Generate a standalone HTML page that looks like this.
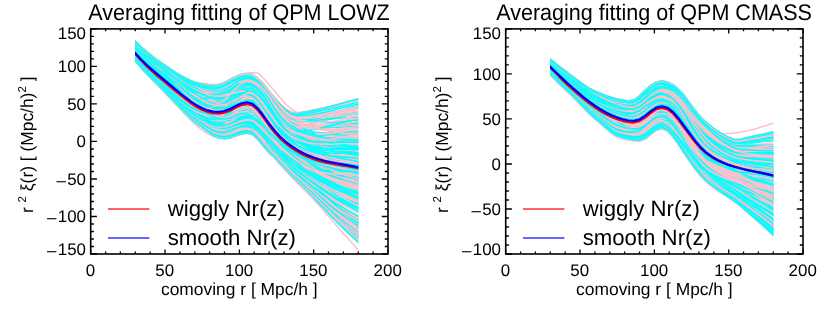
<!DOCTYPE html>
<html><head><meta charset="utf-8"><title>Averaging fitting of QPM</title>
<style>html,body{margin:0;padding:0;background:#fff}svg{display:block;will-change:transform}.p{stroke:#ffc0cb}.c{stroke:#0ff}text{font-family:"Liberation Sans",sans-serif;fill:#000;text-rendering:geometricPrecision}</style></head>
<body>
<svg width="830" height="312" viewBox="0 0 830 312">
<rect width="830" height="312" fill="#fff"/>
<g>
<clipPath id="c0"><rect x="135.0" y="0" width="223.3" height="312"/></clipPath>
<g fill="none" stroke-linejoin="round" stroke-linecap="butt" clip-path="url(#c0)">
<g stroke-width="1.5">
<path class="p" d="M133.3 41.1l2 2.1l5.6 5.6l5.5 5.3l5.6 4.9l5.6 4.3l5.6 3.9l5.5 3.3l5.6 3.1l5.6 2.9l5.6 2.5l5.5 1.9l5.6 1.3l5.6 1l5.6 .9l5.5 .6l5.6-.1l5.6-2.4l5.6-3.3l5.5-2.5l5.6-2.2l5.6-1.1l5.6-.6l5.5 .6l5.6 5.1l5.6 6.3l5.6 6.6l5.5 6.7l5.6 6.4l5.6 4.8l5.6 3.6l5.5 2.9l5.6 2l5.6 1.6l5.5 1.3l5.6 1l5.6 .8l5.6 .6l5.5 .5l5.6 .5l5.6 .3l5.6 .1l2 0"/>
<path class="p" d="M133.3 58.3l2 2.4l5.6 6.8l5.5 6.3l5.6 6l5.6 5.8l5.6 5.7l5.5 5.7l5.6 5.9l5.6 5.8l5.6 5.9l5.5 5.7l5.6 5.3l5.6 4.6l5.6 3.7l5.5 2.7l5.6 1.5l5.6 .5l5.6-.8l5.5-1.7l5.6-1.8l5.6-.8l5.6 1.3l5.5 4.8l5.6 7l5.6 6.7l5.6 5l5.5 6.2l5.6 6.5l5.6 5.9l5.6 5.7l5.5 5.6l5.6 5.6l5.6 5.9l5.5 5.9l5.6 6.3l5.6 6.7l5.6 6.5l5.5 6.2l5.6 6.2l5.6 6.2l5.6 6.4l2 2.3"/>
<path class="p" d="M133.3 52.8l2 2.3l5.6 6.5l5.5 6l5.6 5.6l5.6 5.3l5.6 5.2l5.5 5.2l5.6 5.2l5.6 5l5.6 4.8l5.5 4l5.6 3.3l5.6 2.6l5.6 1.7l5.5 .7l5.6-.8l5.6-2.1l5.6-3.5l5.5-4.4l5.6-4.1l5.6-2.8l5.6-.6l5.5 2.6l5.6 4.8l5.6 6.7l5.6 7.3l5.5 6.4l5.6 5.1l5.6 3.9l5.6 2.5l5.5 1.2l5.6 .8l5.6 .4l5.5 .1l5.6-.1l5.6-.3l5.6-.5l5.5-.7l5.6-.7l5.6-.4l5.6-.2l2 0"/>
<path class="c" d="M133.3 52.7l2 2.3l5.6 6.5l5.5 6l5.6 5.5l5.6 5.3l5.6 5.1l5.5 5.1l5.6 5l5.6 4.9l5.6 4.6l5.5 4l5.6 3.2l5.6 2.3l5.6 1.6l5.5 .5l5.6-1l5.6-2.2l5.6-3.6l5.5-4.4l5.6-4.1l5.6-2.8l5.6-.4l5.5 2.7l5.6 4.9l5.6 6.9l5.6 7.7l5.5 6.6l5.6 5.4l5.6 4l5.6 2.6l5.5 1.4l5.6 1.1l5.6 .6l5.5 .3l5.6 .1l5.6-.1l5.6-.3l5.5-.5l5.6-.4l5.6-.3l5.6-.1l2 0"/>
<path class="p" d="M133.3 56.0l2 2.2l5.6 5.9l5.5 5.6l5.6 5.2l5.6 4.9l5.6 5l5.5 4.9l5.6 5.1l5.6 5l5.6 4.8l5.5 4.4l5.6 3.7l5.6 3.2l5.6 2.8l5.5 2.2l5.6 1.2l5.6 .3l5.6-.6l5.5-1.3l5.6-1.4l5.6-.8l5.6 .8l5.5 3.6l5.6 5.6l5.6 5.9l5.6 5.4l5.5 5.3l5.6 4.7l5.6 4.3l5.6 3.6l5.5 3l5.6 2.6l5.6 2.3l5.5 1.9l5.6 1.5l5.6 1.3l5.6 1.1l5.5 .9l5.6 .8l5.6 1l5.6 1.2l2 .4"/>
<path class="c" d="M133.3 55.8l2 2.2l5.6 6l5.5 5.5l5.6 5.2l5.6 5l5.6 4.8l5.5 5l5.6 5.1l5.6 5.1l5.6 4.8l5.5 4.4l5.6 3.8l5.6 3.2l5.6 2.9l5.5 2.2l5.6 1.2l5.6 .1l5.6-.8l5.5-1.6l5.6-1.6l5.6-1.1l5.6 .6l5.5 3.3l5.6 5.4l5.6 5.8l5.6 5.3l5.5 5.1l5.6 4.5l5.6 3.9l5.6 3.3l5.5 2.8l5.6 2.2l5.6 1.9l5.5 1.4l5.6 1.1l5.6 .8l5.6 .6l5.5 .6l5.6 .6l5.6 .7l5.6 1l2 .3"/>
<path class="p" d="M133.3 40.7l2 2l5.6 5.5l5.5 5l5.6 4.5l5.6 4.3l5.6 4l5.5 4l5.6 4l5.6 3.7l5.6 3.5l5.5 3l5.6 2.4l5.6 1.8l5.6 1.4l5.5 .5l5.6-.5l5.6-1.8l5.6-2.6l5.5-2.7l5.6-2.1l5.6-1l5.6 .8l5.5 3.6l5.6 5.6l5.6 7.9l5.6 8l5.5 6.9l5.6 5.7l5.6 4.1l5.6 2.1l5.5 .5l5.6 .6l5.6 .2l5.5 .1l5.6-.1l5.6-.1l5.6-.4l5.5-.6l5.6-.6l5.6-.6l5.6-.5l2-.2"/>
<path class="c" d="M133.3 40.8l2 2l5.6 5.5l5.5 5l5.6 4.5l5.6 4.2l5.6 4l5.5 4l5.6 3.9l5.6 3.7l5.6 3.4l5.5 2.9l5.6 2.3l5.6 1.7l5.6 1.2l5.5 .5l5.6-.6l5.6-1.9l5.6-2.7l5.5-2.7l5.6-2.2l5.6-1l5.6 .8l5.5 3.7l5.6 5.7l5.6 7.9l5.6 8.2l5.5 7l5.6 5.9l5.6 4.3l5.6 2.3l5.5 .8l5.6 .9l5.6 .6l5.5 .4l5.6 .3l5.6 .2l5.6-.1l5.5-.3l5.6-.4l5.6-.4l5.6-.3l2-.1"/>
<path class="p" d="M133.3 52.1l2 2.1l5.6 5.7l5.5 5.2l5.6 4.7l5.6 4.5l5.6 4.3l5.5 4.2l5.6 4.2l5.6 4.3l5.6 4l5.5 3.7l5.6 3.2l5.6 2.4l5.6 1.8l5.5 .8l5.6-.3l5.6-1.6l5.6-3l5.5-3.7l5.6-3.2l5.6-1.4l5.6 1.5l5.5 5.3l5.6 7.8l5.6 9.2l5.6 8.1l5.5 6.7l5.6 5.6l5.6 4.5l5.6 3.7l5.5 3l5.6 2.6l5.6 2.1l5.5 1.8l5.6 1.5l5.6 1.3l5.6 .9l5.5 .8l5.6 .8l5.6 .8l5.6 .9l2 .4"/>
<path class="c" d="M133.3 52.0l2 2.1l5.6 5.7l5.5 5.2l5.6 4.6l5.6 4.3l5.6 4l5.5 3.9l5.6 3.8l5.6 3.8l5.6 3.5l5.5 3l5.6 2.4l5.6 1.8l5.6 1l5.5 .1l5.6-.9l5.6-2.3l5.6-3.4l5.5-3.8l5.6-3.1l5.6-1.6l5.6 .9l5.5 4.2l5.6 6.4l5.6 8.8l5.6 9.3l5.5 7.8l5.6 6.4l5.6 4.9l5.6 3.7l5.5 2.5l5.6 2.4l5.6 1.9l5.5 1.7l5.6 1.4l5.6 1.2l5.6 .8l5.5 .6l5.6 .6l5.6 .5l5.6 .6l2 .3"/>
<path class="p" d="M133.3 47.3l2 2.5l5.6 7.1l5.5 6.8l5.6 6.3l5.6 5.8l5.6 5.8l5.5 6l5.6 6.2l5.6 6.4l5.6 6.2l5.5 5.7l5.6 5l5.6 4.5l5.6 4.5l5.5 4.1l5.6 2.8l5.6 1.3l5.6 0l5.5-1.4l5.6-1.4l5.6-.5l5.6 1.5l5.5 4.9l5.6 6.9l5.6 6.5l5.6 5.2l5.5 6l5.6 5.6l5.6 5.9l5.6 5.3l5.5 5.1l5.6 5.3l5.6 5.4l5.5 5.5l5.6 5.5l5.6 5.6l5.6 5.2l5.5 4.9l5.6 4.8l5.6 4.7l5.6 4.6l2 1.7"/>
<path class="c" d="M133.3 47.4l2 2.5l5.6 7.1l5.5 6.6l5.6 6.3l5.6 5.7l5.6 5.7l5.5 5.8l5.6 6.1l5.6 6.1l5.6 5.9l5.5 5.5l5.6 4.9l5.6 4.2l5.6 4.2l5.5 3.8l5.6 2.5l5.6 1.2l5.6 0l5.5-1.1l5.6-1.2l5.6-.5l5.6 1.5l5.5 4.7l5.6 6.7l5.6 6.4l5.6 5.3l5.5 6.1l5.6 5.5l5.6 5.8l5.6 5.2l5.5 4.9l5.6 4.9l5.6 5.2l5.5 5l5.6 5.1l5.6 5.1l5.6 4.7l5.5 4.4l5.6 4.2l5.6 4.2l5.6 4.1l2 1.4"/>
<path class="p" d="M133.3 54.3l2 2.3l5.6 6.4l5.5 5.9l5.6 5.5l5.6 5.3l5.6 5.1l5.5 5.3l5.6 5.2l5.6 5.3l5.6 5l5.5 4.6l5.6 3.9l5.6 3.4l5.6 3.2l5.5 2.7l5.6 1.5l5.6 .4l5.6-.7l5.5-1.5l5.6-1.3l5.6 .1l5.6 2.5l5.5 5.8l5.6 8.1l5.6 7.7l5.6 6.3l5.5 6.7l5.6 6.1l5.6 6.3l5.6 5.8l5.5 5.4l5.6 5.7l5.6 5.9l5.5 5.8l5.6 6l5.6 6.1l5.6 5.7l5.5 5.4l5.6 5.3l5.6 5.1l5.6 4.9l2 1.8"/>
<path class="c" d="M133.3 54.2l2 2.3l5.6 6.4l5.5 5.9l5.6 5.5l5.6 5.2l5.6 5.1l5.5 5.2l5.6 5.2l5.6 5.2l5.6 4.9l5.5 4.5l5.6 3.8l5.6 3.3l5.6 3l5.5 2.4l5.6 1.2l5.6-.1l5.6-1.2l5.5-2.2l5.6-1.8l5.6-.5l5.6 2.1l5.5 5.7l5.6 7.9l5.6 7.9l5.6 6.6l5.5 6.7l5.6 6l5.6 6.1l5.6 5.5l5.5 5.1l5.6 5.3l5.6 5.3l5.5 5.3l5.6 5.4l5.6 5.4l5.6 5.1l5.5 4.7l5.6 4.5l5.6 4.4l5.6 4.2l2 1.5"/>
<path class="p" d="M133.3 46.4l2 1.7l5.6 5l5.5 4.4l5.6 4.2l5.6 3.9l5.6 3.9l5.5 3.9l5.6 3.9l5.6 3.9l5.6 3.7l5.5 3.4l5.6 2.8l5.6 2.3l5.6 1.9l5.5 1.2l5.6 .1l5.6-1.3l5.6-2.4l5.5-2.8l5.6-2.2l5.6-.5l5.6 2.4l5.5 6.2l5.6 9.1l5.6 10.9l5.6 9.7l5.5 7.8l5.6 6.2l5.6 5l5.6 4.1l5.5 3.5l5.6 2.9l5.6 2.6l5.5 2.7l5.6 2.5l5.6 2.3l5.6 2l5.5 1.9l5.6 1.7l5.6 1.6l5.6 1.5l2 .5"/>
<path class="c" d="M133.3 46.4l2 1.8l5.6 4.9l5.5 4.5l5.6 4.1l5.6 3.8l5.6 3.8l5.5 3.7l5.6 3.7l5.6 3.7l5.6 3.4l5.5 3.1l5.6 2.4l5.6 2l5.6 1.5l5.5 .8l5.6-.3l5.6-1.6l5.6-2.6l5.5-2.7l5.6-2.2l5.6-.7l5.6 1.6l5.5 5l5.6 7.2l5.6 9.6l5.6 10.1l5.5 8.5l5.6 6.9l5.6 5.6l5.6 4.3l5.5 3.5l5.6 3l5.6 2.6l5.5 2.2l5.6 1.9l5.6 1.6l5.6 1.3l5.5 .9l5.6 1l5.6 .9l5.6 .9l2 .4"/>
<path class="p" d="M133.3 52.2l2 2.3l5.6 6.5l5.5 6l5.6 5.7l5.6 5.4l5.6 5.3l5.5 5.4l5.6 5.5l5.6 5.5l5.6 5.4l5.5 4.8l5.6 4.2l5.6 3.6l5.6 3.3l5.5 2.7l5.6 1.4l5.6 .3l5.6-1l5.5-1.9l5.6-1.8l5.6-1l5.6 .9l5.5 3.9l5.6 6.1l5.6 6.1l5.6 4.8l5.5 4.8l5.6 4.1l5.6 3.6l5.6 3l5.5 2.3l5.6 1.9l5.6 1.4l5.5 1l5.6 .6l5.6 .4l5.6 .1l5.5 .2l5.6 .2l5.6 .9l5.6 1.1l2 .3"/>
<path class="c" d="M133.3 52.1l2 2.4l5.6 6.5l5.5 6l5.6 5.6l5.6 5.3l5.6 5.3l5.5 5.3l5.6 5.4l5.6 5.4l5.6 5l5.5 4.6l5.6 3.8l5.6 3.2l5.6 2.7l5.5 1.8l5.6 .6l5.6-.7l5.6-2l5.5-2.9l5.6-2.9l5.6-1.9l5.6 .2l5.5 3.2l5.6 5.6l5.6 6.2l5.6 5.6l5.5 5l5.6 4.6l5.6 4l5.6 3.4l5.5 2.8l5.6 2.4l5.6 1.9l5.5 1.6l5.6 1.3l5.6 1.1l5.6 .8l5.5 .7l5.6 .6l5.6 .8l5.6 .8l2 .4"/>
<path class="p" d="M133.3 45.0l2 2.4l5.6 6.8l5.5 6.3l5.6 5.9l5.6 5.6l5.6 5.5l5.5 5.4l5.6 5.3l5.6 5.3l5.6 5l5.5 4.5l5.6 4l5.6 3.3l5.6 2.5l5.5 1.7l5.6 .7l5.6-.3l5.6-1.3l5.5-2l5.6-1.8l5.6-.8l5.6 1.3l5.5 4.4l5.6 6.7l5.6 7.3l5.6 5.8l5.5 5.3l5.6 4.5l5.6 3.9l5.6 3.3l5.5 2.8l5.6 2.4l5.6 1.9l5.5 1.6l5.6 1.3l5.6 1.1l5.6 .9l5.5 .9l5.6 .9l5.6 .9l5.6 1.1l2 .4"/>
<path class="c" d="M133.3 45.1l2 2.4l5.6 6.8l5.5 6.2l5.6 5.9l5.6 5.5l5.6 5.2l5.5 5.1l5.6 5l5.6 4.9l5.6 4.5l5.5 4l5.6 3.4l5.6 2.4l5.6 1.5l5.5 .6l5.6-.5l5.6-1.6l5.6-2.7l5.5-3.2l5.6-2.9l5.6-1.8l5.6 .4l5.5 3.3l5.6 5.6l5.6 7.5l5.6 8.3l5.5 7.1l5.6 5.9l5.6 4.8l5.6 3.7l5.5 2.9l5.6 2.4l5.6 2.1l5.5 1.8l5.6 1.5l5.6 1.3l5.6 .9l5.5 .8l5.6 .7l5.6 .7l5.6 .8l2 .3"/>
<path class="p" d="M133.3 48.5l2 2.3l5.6 6.3l5.5 6l5.6 5.8l5.6 5.6l5.6 5.5l5.5 5.5l5.6 5.9l5.6 6l5.6 6l5.5 5.6l5.6 5l5.6 4.4l5.6 4.2l5.5 3.8l5.6 2.5l5.6 1.3l5.6-.1l5.5-1.3l5.6-1.3l5.6-.4l5.6 1.6l5.5 4.7l5.6 6.9l5.6 6.4l5.6 5.6l5.5 6.2l5.6 5.5l5.6 5.8l5.6 5.1l5.5 4.8l5.6 4.9l5.6 5l5.5 4.8l5.6 4.9l5.6 4.8l5.6 4.5l5.5 4.1l5.6 4l5.6 3.8l5.6 3.9l2 1.3"/>
<path class="c" d="M133.3 48.5l2 2.3l5.6 6.3l5.5 5.9l5.6 5.8l5.6 5.5l5.6 5.5l5.5 5.5l5.6 5.8l5.6 6l5.6 6l5.5 5.7l5.6 5.1l5.6 4.5l5.6 4.5l5.5 4l5.6 2.7l5.6 1.4l5.6-.1l5.5-1.2l5.6-1.3l5.6-.3l5.6 1.7l5.5 5.1l5.6 7.1l5.6 6.7l5.6 5.5l5.5 6.1l5.6 5.5l5.6 5.9l5.6 5.1l5.5 4.9l5.6 5l5.6 5.1l5.5 5l5.6 5l5.6 5.1l5.6 4.6l5.5 4.3l5.6 4.1l5.6 4.1l5.6 4.1l2 1.4"/>
<path class="p" d="M133.3 44.4l2 1.9l5.6 5.3l5.5 4.7l5.6 4.3l5.6 3.9l5.6 3.7l5.5 3.6l5.6 3.6l5.6 3.4l5.6 3l5.5 2.6l5.6 1.7l5.6 1.3l5.6 .7l5.5 0l5.6-1.2l5.6-2.5l5.6-3.4l5.5-3.2l5.6-2.6l5.6-1.1l5.6 .6l5.5 3.6l5.6 5.6l5.6 7.1l5.6 6.8l5.5 5.9l5.6 4.9l5.6 3.3l5.6 .9l5.5-1.1l5.6-.8l5.6-1.1l5.5-1.2l5.6-1.2l5.6-1.2l5.6-1.4l5.5-1.6l5.6-1.5l5.6-1.5l5.6-1.4l2-.5"/>
<path class="c" d="M133.3 44.6l2 1.9l5.6 5.3l5.5 4.8l5.6 4.3l5.6 4l5.6 3.9l5.5 3.8l5.6 3.7l5.6 3.6l5.6 3.3l5.5 2.8l5.6 2.1l5.6 1.5l5.6 1l5.5 .2l5.6-.9l5.6-2.4l5.6-3.3l5.5-3.4l5.6-2.7l5.6-1.2l5.6 .6l5.5 3.8l5.6 5.8l5.6 7.7l5.6 7.8l5.5 6.6l5.6 5.3l5.6 3.7l5.6 1.5l5.5-.2l5.6-.2l5.6-.4l5.5-.7l5.6-.7l5.6-.7l5.6-1l5.5-1.1l5.6-1.2l5.6-1l5.6-1l2-.3"/>
<path class="p" d="M133.3 56.3l2 2.4l5.6 6.9l5.5 6.3l5.6 6l5.6 5.6l5.6 5.7l5.5 5.9l5.6 5.9l5.6 6l5.6 5.7l5.5 5.2l5.6 4.3l5.6 3.8l5.6 4.1l5.5 3.6l5.6 2l5.6 .4l5.6-1.2l5.5-2.4l5.6-2.2l5.6-1.1l5.6 1.3l5.5 4.9l5.6 7l5.6 6.6l5.6 5.3l5.5 5.9l5.6 5.4l5.6 5.7l5.6 5l5.5 4.8l5.6 5l5.6 5.1l5.5 5l5.6 5.1l5.6 5.2l5.6 4.8l5.5 4.5l5.6 4.4l5.6 4.2l5.6 4.2l2 1.5"/>
<path class="c" d="M133.3 56.1l2 2.4l5.6 6.9l5.5 6.3l5.6 5.9l5.6 5.7l5.6 5.6l5.5 5.8l5.6 5.9l5.6 5.8l5.6 5.6l5.5 5l5.6 4.2l5.6 3.6l5.6 3.7l5.5 3.2l5.6 1.5l5.6-.2l5.6-1.8l5.5-3.1l5.6-3l5.6-1.7l5.6 .7l5.5 4.4l5.6 6.7l5.6 6.6l5.6 5.5l5.5 5.7l5.6 4.9l5.6 4.9l5.6 4.3l5.5 3.8l5.6 3.8l5.6 3.6l5.5 3.5l5.6 3.3l5.6 3.3l5.6 2.9l5.5 2.6l5.6 2.5l5.6 2.5l5.6 2.4l2 .9"/>
<path class="p" d="M133.3 55.6l2 2.1l5.6 6l5.5 5.5l5.6 5.1l5.6 4.8l5.6 4.8l5.5 4.7l5.6 4.8l5.6 4.7l5.6 4.5l5.5 3.9l5.6 3.4l5.6 2.7l5.6 2.1l5.5 1.3l5.6 0l5.6-1.3l5.6-2.5l5.5-3.4l5.6-3.2l5.6-1.6l5.6 .9l5.5 4.4l5.6 6.8l5.6 7.4l5.6 6.6l5.5 5.8l5.6 4.9l5.6 4.2l5.6 3.6l5.5 3l5.6 2.6l5.6 2.1l5.5 1.7l5.6 1.5l5.6 1.2l5.6 1l5.5 .9l5.6 .8l5.6 .9l5.6 1l2 .4"/>
<path class="c" d="M133.3 55.4l2 2.2l5.6 6l5.5 5.5l5.6 5l5.6 4.8l5.6 4.7l5.5 4.7l5.6 4.6l5.6 4.6l5.6 4.3l5.5 3.9l5.6 3.2l5.6 2.6l5.6 1.9l5.5 .9l5.6-.2l5.6-1.5l5.6-2.8l5.5-3.7l5.6-3.3l5.6-1.7l5.6 1.1l5.5 4.6l5.6 7.2l5.6 8l5.6 7.4l5.5 6.1l5.6 5.2l5.6 4.4l5.6 3.7l5.5 3.1l5.6 2.7l5.6 2.1l5.5 1.9l5.6 1.5l5.6 1.3l5.6 1.1l5.5 1l5.6 .9l5.6 1l5.6 1l2 .4"/>
<path class="p" d="M133.3 56.9l2 2.2l5.6 6.2l5.5 5.8l5.6 5.4l5.6 5.1l5.6 5.2l5.5 5.2l5.6 5.4l5.6 5.3l5.6 5.1l5.5 4.6l5.6 3.9l5.6 3.2l5.6 3.1l5.5 2.4l5.6 1.1l5.6-.2l5.6-1.5l5.5-2.3l5.6-2.3l5.6-1.5l5.6 .4l5.5 3.2l5.6 5.2l5.6 5.6l5.6 5.3l5.5 5.1l5.6 4.4l5.6 3.9l5.6 3.3l5.5 2.8l5.6 2.3l5.6 1.9l5.5 1.5l5.6 1.2l5.6 .9l5.6 .7l5.5 .7l5.6 .7l5.6 .8l5.6 1l2 .4"/>
<path class="c" d="M133.3 56.9l2 2.2l5.6 6.1l5.5 5.8l5.6 5.4l5.6 5.2l5.6 5.1l5.5 5.3l5.6 5.4l5.6 5.4l5.6 5.2l5.5 4.7l5.6 3.9l5.6 3.4l5.6 3.3l5.5 2.7l5.6 1.2l5.6 0l5.6-1.5l5.5-2.4l5.6-2.4l5.6-1.3l5.6 .9l5.5 4.2l5.6 6.3l5.6 6.4l5.6 5.6l5.5 5.4l5.6 4.7l5.6 4.3l5.6 3.7l5.5 3.2l5.6 2.8l5.6 2.5l5.5 2.2l5.6 1.8l5.6 1.7l5.6 1.4l5.5 1.2l5.6 1.1l5.6 1.3l5.6 1.4l2 .5"/>
<path class="p" d="M133.3 48.0l2 1.7l5.6 4.9l5.5 4.3l5.6 4.1l5.6 3.8l5.6 3.7l5.5 3.7l5.6 3.7l5.6 3.7l5.6 3.3l5.5 2.9l5.6 2.3l5.6 1.7l5.6 1.1l5.5 .3l5.6-.9l5.6-2.4l5.6-3.5l5.5-3.6l5.6-3l5.6-1.4l5.6 .8l5.5 3.9l5.6 6.1l5.6 8.2l5.6 8.4l5.5 7l5.6 5.6l5.6 4l5.6 1.9l5.5 .3l5.6 .3l5.6 0l5.5-.3l5.6-.4l5.6-.4l5.6-.7l5.5-.9l5.6-.8l5.6-.8l5.6-.6l2-.3"/>
<path class="c" d="M133.3 47.9l2 1.8l5.6 4.9l5.5 4.3l5.6 4l5.6 3.8l5.6 3.6l5.5 3.6l5.6 3.6l5.6 3.5l5.6 3.2l5.5 2.9l5.6 2.2l5.6 1.6l5.6 1.1l5.5 .4l5.6-.8l5.6-2.3l5.6-3.3l5.5-3.3l5.6-2.7l5.6-1.2l5.6 .9l5.5 4.1l5.6 6.4l5.6 8.5l5.6 8.9l5.5 7.6l5.6 6.1l5.6 4.5l5.6 2.7l5.5 1.2l5.6 1.2l5.6 .9l5.5 .6l5.6 .4l5.6 .3l5.6 0l5.5-.2l5.6-.3l5.6-.2l5.6-.2l2 0"/>
<path class="p" d="M133.3 39.3l2 2l5.6 5.5l5.5 4.9l5.6 4.5l5.6 4.1l5.6 3.9l5.5 3.9l5.6 3.7l5.6 3.7l5.6 3.3l5.5 2.9l5.6 2.3l5.6 1.8l5.6 1.4l5.5 .7l5.6-.3l5.6-1.7l5.6-2.4l5.5-2.4l5.6-1.9l5.6-.6l5.6 1.2l5.5 4.1l5.6 6.3l5.6 8.5l5.6 9l5.5 7.9l5.6 6.6l5.6 5l5.6 3.4l5.5 2l5.6 1.9l5.6 1.6l5.5 1.3l5.6 1.1l5.6 .9l5.6 .6l5.5 .3l5.6 .2l5.6 .2l5.6 .2l2 .1"/>
<path class="c" d="M133.3 39.3l2 2l5.6 5.5l5.5 4.9l5.6 4.5l5.6 4.1l5.6 4l5.5 3.8l5.6 3.9l5.6 3.6l5.6 3.4l5.5 3l5.6 2.3l5.6 1.9l5.6 1.6l5.5 .8l5.6-.1l5.6-1.4l5.6-2.3l5.5-2.2l5.6-1.7l5.6-.4l5.6 1.4l5.5 4.4l5.6 6.5l5.6 8.8l5.6 9.4l5.5 8.2l5.6 6.7l5.6 5.2l5.6 3.7l5.5 2.4l5.6 2.3l5.6 1.9l5.5 1.5l5.6 1.3l5.6 1.1l5.6 .7l5.5 .4l5.6 .4l5.6 .4l5.6 .4l2 .2"/>
<path class="p" d="M133.3 58.6l2 2.3l5.6 6.1l5.5 5.8l5.6 5.4l5.6 5.2l5.6 5.2l5.5 5.2l5.6 5.2l5.6 5.3l5.6 4.9l5.5 4.4l5.6 3.8l5.6 3.2l5.6 3.1l5.5 2.5l5.6 1.1l5.6-.5l5.6-2.2l5.5-3.4l5.6-3l5.6-1.2l5.6 1.9l5.5 5.9l5.6 8.3l5.6 7.9l5.6 6.2l5.5 6.1l5.6 5.2l5.6 5.1l5.6 4.3l5.5 4l5.6 3.7l5.6 3.7l5.5 3.3l5.6 3.2l5.6 3l5.6 2.6l5.5 2.4l5.6 2.2l5.6 2.2l5.6 2.3l2 .8"/>
<path class="c" d="M133.3 58.6l2 2.2l5.6 6.2l5.5 5.7l5.6 5.4l5.6 5.2l5.6 5.1l5.5 5.2l5.6 5.2l5.6 5.1l5.6 4.9l5.5 4.3l5.6 3.5l5.6 3l5.6 2.7l5.5 2l5.6 .5l5.6-1.1l5.6-2.8l5.5-4l5.6-3.7l5.6-1.9l5.6 1.4l5.5 5.4l5.6 7.9l5.6 7.9l5.6 6.6l5.5 6l5.6 5l5.6 4.7l5.6 4l5.5 3.4l5.6 3.2l5.6 2.9l5.5 2.6l5.6 2.3l5.6 2.2l5.6 1.8l5.5 1.7l5.6 1.6l5.6 1.5l5.6 1.7l2 .6"/>
<path class="p" d="M133.3 58.0l2 2.2l5.6 6.2l5.5 5.9l5.6 5.5l5.6 5.3l5.6 5.3l5.5 5.5l5.6 5.6l5.6 5.7l5.6 5.6l5.5 5l5.6 4.3l5.6 3.8l5.6 4l5.5 3.5l5.6 1.9l5.6 .2l5.6-1.5l5.5-2.8l5.6-2.8l5.6-1.3l5.6 1.6l5.5 5.3l5.6 7.5l5.6 7l5.6 5.7l5.5 6.2l5.6 5.3l5.6 5.5l5.6 4.8l5.5 4.4l5.6 4.5l5.6 4.4l5.5 4.3l5.6 4.2l5.6 4.1l5.6 3.7l5.5 3.4l5.6 3.2l5.6 3.2l5.6 3.2l2 1.2"/>
<path class="c" d="M133.3 57.9l2 2.3l5.6 6.2l5.5 5.8l5.6 5.5l5.6 5.3l5.6 5.3l5.5 5.5l5.6 5.6l5.6 5.7l5.6 5.5l5.5 5l5.6 4.3l5.6 3.9l5.6 3.9l5.5 3.6l5.6 2l5.6 .4l5.6-1.2l5.5-2.5l5.6-2.2l5.6-.8l5.6 1.9l5.5 5.6l5.6 7.7l5.6 7.1l5.6 5.6l5.5 6.3l5.6 5.6l5.6 6l5.6 5.3l5.5 5.1l5.6 5.2l5.6 5.4l5.5 5.4l5.6 5.5l5.6 5.6l5.6 5.1l5.5 4.9l5.6 4.7l5.6 4.6l5.6 4.5l2 1.7"/>
<path class="p" d="M133.3 39.4l2 2l5.6 5.4l5.5 4.9l5.6 4.4l5.6 4.1l5.6 3.9l5.5 3.7l5.6 3.7l5.6 3.5l5.6 3.1l5.5 2.8l5.6 2l5.6 1.5l5.6 1.1l5.5 .4l5.6-.7l5.6-2.1l5.6-3l5.5-2.8l5.6-2.3l5.6-.9l5.6 .9l5.5 4l5.6 6.1l5.6 7.9l5.6 8.3l5.5 7.4l5.6 6.4l5.6 4.9l5.6 3l5.5 1.5l5.6 1.7l5.6 1.6l5.5 1.3l5.6 1.3l5.6 1.1l5.6 .7l5.5 .5l5.6 .3l5.6 .2l5.6 .1l2 0"/>
<path class="c" d="M133.3 39.5l2 1.9l5.6 5.5l5.5 4.8l5.6 4.4l5.6 4.1l5.6 3.9l5.5 3.8l5.6 3.7l5.6 3.5l5.6 3.2l5.5 2.8l5.6 2l5.6 1.7l5.6 1.2l5.5 .5l5.6-.5l5.6-1.9l5.6-2.7l5.5-2.7l5.6-2l5.6-.6l5.6 1.4l5.5 4.8l5.6 7.1l5.6 9.6l5.6 10.3l5.5 9.1l5.6 7.6l5.6 6.2l5.6 4.6l5.5 3.6l5.6 3.4l5.6 3l5.5 2.6l5.6 2.2l5.6 2l5.6 1.5l5.5 1.1l5.6 1.1l5.6 .9l5.6 1l2 .3"/>
<path class="p" d="M133.3 43.8l2 2.1l5.6 5.8l5.5 5.3l5.6 5l5.6 4.7l5.6 4.6l5.5 4.5l5.6 4.7l5.6 4.5l5.6 4.4l5.5 4.1l5.6 3.5l5.6 2.9l5.6 2.2l5.5 1.4l5.6 .3l5.6-.9l5.6-2.1l5.5-2.7l5.6-2.3l5.6-1.1l5.6 1.4l5.5 4.7l5.6 7.1l5.6 8.6l5.6 8.7l5.5 7.3l5.6 6l5.6 4.9l5.6 4l5.5 3.4l5.6 2.8l5.6 2.4l5.5 1.9l5.6 1.7l5.6 1.4l5.6 1.1l5.5 1l5.6 1l5.6 1l5.6 1.1l2 .4"/>
<path class="c" d="M133.3 44.0l2 2.1l5.6 5.8l5.5 5.3l5.6 5l5.6 4.7l5.6 4.6l5.5 4.6l5.6 4.6l5.6 4.6l5.6 4.5l5.5 4.1l5.6 3.7l5.6 3l5.6 2.5l5.5 1.6l5.6 .6l5.6-.4l5.6-1.5l5.5-2.1l5.6-1.9l5.6-.6l5.6 1.7l5.5 5l5.6 7.4l5.6 8.4l5.6 7.7l5.5 6.5l5.6 5.4l5.6 4.5l5.6 3.8l5.5 3.2l5.6 2.7l5.6 2.2l5.5 1.9l5.6 1.5l5.6 1.3l5.6 1.1l5.5 1.1l5.6 .9l5.6 1.1l5.6 1.1l2 .4"/>
<path class="p" d="M133.3 55.0l2 2.3l5.6 6.4l5.5 5.9l5.6 5.5l5.6 5.4l5.6 5.2l5.5 5.4l5.6 5.5l5.6 5.5l5.6 5.3l5.5 4.8l5.6 4l5.6 3.5l5.6 3.4l5.5 2.8l5.6 1.4l5.6 0l5.6-1.2l5.5-2.2l5.6-2.1l5.6-.9l5.6 1.4l5.5 4.7l5.6 6.9l5.6 6.9l5.6 5.7l5.5 5.9l5.6 5.2l5.6 5.2l5.6 4.5l5.5 4.1l5.6 3.9l5.6 3.9l5.5 3.7l5.6 3.5l5.6 3.4l5.6 3.1l5.5 2.8l5.6 2.6l5.6 2.6l5.6 2.6l2 .9"/>
<path class="c" d="M133.3 55.0l2 2.2l5.6 6.4l5.5 5.9l5.6 5.6l5.6 5.3l5.6 5.3l5.5 5.4l5.6 5.4l5.6 5.5l5.6 5.2l5.5 4.7l5.6 4l5.6 3.4l5.6 3.2l5.5 2.6l5.6 1.1l5.6-.3l5.6-1.7l5.5-2.8l5.6-2.6l5.6-1.5l5.6 .9l5.5 4.2l5.6 6.5l5.6 6.6l5.6 5.8l5.5 5.5l5.6 4.6l5.6 4.4l5.6 3.6l5.5 3.1l5.6 2.8l5.6 2.5l5.5 2.1l5.6 1.9l5.6 1.6l5.6 1.4l5.5 1.3l5.6 1.1l5.6 1.3l5.6 1.4l2 .5"/>
<path class="p" d="M133.3 52.9l2 2.5l5.6 7l5.5 6.5l5.6 6.1l5.6 5.9l5.6 5.9l5.5 6l5.6 6.1l5.6 6.1l5.6 6l5.5 5.3l5.6 4.6l5.6 4l5.6 4.2l5.5 3.8l5.6 2.2l5.6 .7l5.6-.7l5.5-2l5.6-1.8l5.6-1l5.6 1.1l5.5 4.4l5.6 6.5l5.6 6l5.6 5l5.5 5.7l5.6 5l5.6 5.3l5.6 4.6l5.5 4.2l5.6 4.2l5.6 4.1l5.5 4l5.6 3.8l5.6 3.7l5.6 3.3l5.5 2.9l5.6 2.9l5.6 2.8l5.6 3l2 1"/>
<path class="c" d="M133.3 52.9l2 2.5l5.6 7l5.5 6.4l5.6 6.1l5.6 5.9l5.6 5.9l5.5 6l5.6 6l5.6 6.2l5.6 5.9l5.5 5.3l5.6 4.5l5.6 4l5.6 4.2l5.5 3.7l5.6 2.2l5.6 .8l5.6-.7l5.5-1.9l5.6-1.9l5.6-.9l5.6 1.1l5.5 4.4l5.6 6.5l5.6 6l5.6 4.9l5.5 5.6l5.6 5l5.6 5.2l5.6 4.4l5.5 4.1l5.6 4l5.6 3.9l5.5 3.6l5.6 3.5l5.6 3.4l5.6 2.9l5.5 2.6l5.6 2.5l5.6 2.5l5.6 2.6l2 1"/>
<path class="p" d="M133.3 41.0l2 2.1l5.6 5.8l5.5 5.3l5.6 4.9l5.6 4.6l5.6 4.5l5.5 4.3l5.6 4.4l5.6 4.1l5.6 3.8l5.5 3.2l5.6 2.5l5.6 1.8l5.6 1.1l5.5 .1l5.6-1l5.6-2.4l5.6-3.3l5.5-3.5l5.6-3l5.6-1.8l5.6 .1l5.5 3l5.6 5l5.6 7l5.6 6.9l5.5 5.9l5.6 4.8l5.6 3.1l5.6 .8l5.5-1.2l5.6-.8l5.6-1.2l5.5-1.3l5.6-1.3l5.6-1.3l5.6-1.5l5.5-1.6l5.6-1.6l5.6-1.5l5.6-1.3l2-.5"/>
<path class="c" d="M133.3 41.1l2 2.1l5.6 5.9l5.5 5.3l5.6 4.9l5.6 4.6l5.6 4.5l5.5 4.3l5.6 4.4l5.6 4.2l5.6 3.8l5.5 3.4l5.6 2.6l5.6 2l5.6 1.2l5.5 .4l5.6-.8l5.6-2.1l5.6-3.1l5.5-3.3l5.6-2.8l5.6-1.6l5.6 .1l5.5 3.1l5.6 5.1l5.6 7.2l5.6 7.4l5.5 6.2l5.6 5l5.6 3.3l5.6 1.1l5.5-.7l5.6-.6l5.6-1l5.5-1.1l5.6-1.1l5.6-1.2l5.6-1.4l5.5-1.5l5.6-1.4l5.6-1.4l5.6-1.1l2-.5"/>
<path class="p" d="M133.3 56.2l2 2.6l5.6 7l5.5 6.4l5.6 6l5.6 5.7l5.6 5.8l5.5 5.8l5.6 6l5.6 6l5.6 5.8l5.5 5.1l5.6 4.4l5.6 3.8l5.6 4l5.5 3.6l5.6 1.8l5.6 .2l5.6-1.6l5.5-2.9l5.6-3l5.6-2.3l5.6-.4l5.5 2.7l5.6 4.5l5.6 4.4l5.6 3.9l5.5 3.8l5.6 3l5.6 2.5l5.6 1.8l5.5 1.1l5.6 1.3l5.6 1.6l5.5 1.3l5.6 1l5.6 .7l5.6 .5l5.5 .3l5.6 .3l5.6 .5l5.6 .7l2 .3"/>
<path class="c" d="M133.3 56.1l2 2.5l5.6 7l5.5 6.5l5.6 6l5.6 5.7l5.6 5.8l5.5 5.8l5.6 6l5.6 6l5.6 5.8l5.5 5.1l5.6 4.4l5.6 3.9l5.6 4l5.5 3.6l5.6 1.9l5.6 .2l5.6-1.4l5.5-2.7l5.6-2.8l5.6-2l5.6 .1l5.5 3.2l5.6 5.1l5.6 4.8l5.6 4l5.5 4l5.6 3.2l5.6 2.8l5.6 2l5.5 1.4l5.6 .9l5.6 .4l5.5 0l5.6 1.1l5.6 .9l5.6 .7l5.5 .6l5.6 .6l5.6 .7l5.6 .9l2 .3"/>
<path class="p" d="M133.3 43.4l2 2.1l5.6 5.6l5.5 5.1l5.6 4.7l5.6 4.5l5.6 4.2l5.5 4.3l5.6 4.3l5.6 4.3l5.6 4l5.5 3.8l5.6 3.2l5.6 2.7l5.6 2.2l5.5 1.4l5.6 .4l5.6-.8l5.6-1.9l5.5-2.4l5.6-1.9l5.6-.6l5.6 1.7l5.5 5.2l5.6 7.4l5.6 9l5.6 9l5.5 7.4l5.6 6l5.6 5l5.6 4l5.5 3.4l5.6 2.8l5.6 2.4l5.5 2l5.6 1.7l5.6 1.4l5.6 1.1l5.5 1.1l5.6 .9l5.6 1l5.6 1.1l2 .4"/>
<path class="c" d="M133.3 43.7l2 2l5.6 5.7l5.5 5.1l5.6 4.7l5.6 4.5l5.6 4.3l5.5 4.2l5.6 4.3l5.6 4.2l5.6 4l5.5 3.7l5.6 3.1l5.6 2.6l5.6 2.1l5.5 1.3l5.6 .3l5.6-.9l5.6-1.8l5.5-2.2l5.6-1.8l5.6-.4l5.6 2l5.5 5.4l5.6 7.9l5.6 9.3l5.6 9.1l5.5 7.4l5.6 6.1l5.6 4.9l5.6 4.1l5.5 3.4l5.6 2.8l5.6 2.4l5.5 2.5l5.6 2.3l5.6 2.1l5.6 1.8l5.5 1.7l5.6 1.6l5.6 1.5l5.6 1.3l2 .5"/>
<path class="p" d="M133.3 41.9l2 2l5.6 5.8l5.5 5.3l5.6 4.8l5.6 4.5l5.6 4.3l5.5 4.2l5.6 4.2l5.6 4.1l5.6 3.7l5.5 3.2l5.6 2.6l5.6 1.9l5.6 1.3l5.5 .4l5.6-.7l5.6-2.1l5.6-3.2l5.5-3.4l5.6-2.8l5.6-1.4l5.6 .6l5.5 3.8l5.6 6l5.6 8.1l5.6 8.5l5.5 7.2l5.6 5.8l5.6 4.2l5.6 2.4l5.5 .8l5.6 .7l5.6 .5l5.5 .2l5.6 0l5.6 0l5.6-.4l5.5-.5l5.6-.5l5.6-.5l5.6-.3l2-.2"/>
<path class="c" d="M133.3 42.0l2 2.1l5.6 5.8l5.5 5.2l5.6 4.9l5.6 4.5l5.6 4.3l5.5 4.3l5.6 4.2l5.6 4.1l5.6 3.7l5.5 3.3l5.6 2.6l5.6 2l5.6 1.4l5.5 .5l5.6-.6l5.6-1.9l5.6-3l5.5-3.2l5.6-2.7l5.6-1.3l5.6 .8l5.5 3.9l5.6 6l5.6 8.3l5.6 8.9l5.5 7.6l5.6 6.1l5.6 4.6l5.6 2.9l5.5 1.5l5.6 1.5l5.6 1.1l5.5 .9l5.6 .7l5.6 .6l5.6 .2l5.5 0l5.6 0l5.6 0l5.6 .1l2 0"/>
<path class="p" d="M133.3 54.2l2 2.6l5.6 7.2l5.5 6.6l5.6 6.3l5.6 6l5.6 6l5.5 6.1l5.6 6.1l5.6 6.2l5.6 5.9l5.5 5.3l5.6 4.6l5.6 4l5.6 4.3l5.5 4.1l5.6 2.3l5.6 .8l5.6-.8l5.5-2l5.6-1.9l5.6-.9l5.6 1.4l5.5 4.9l5.6 7l5.6 6.3l5.6 5.1l5.5 6.1l5.6 5.6l5.6 6l5.6 5.5l5.5 5.3l5.6 5.5l5.6 5.8l5.5 5.8l5.6 5.9l5.6 6.1l5.6 5.7l5.5 5.5l5.6 5.2l5.6 5.2l5.6 5.2l2 1.9"/>
<path class="c" d="M133.3 54.1l2 2.5l5.6 7.2l5.5 6.6l5.6 6.3l5.6 5.9l5.6 6l5.5 6.1l5.6 6.1l5.6 6.2l5.6 5.9l5.5 5.4l5.6 4.5l5.6 4.1l5.6 4.3l5.5 4l5.6 2.3l5.6 .8l5.6-.8l5.5-2.1l5.6-1.9l5.6-.9l5.6 1.4l5.5 4.9l5.6 7l5.6 6.4l5.6 5.2l5.5 6.1l5.6 5.5l5.6 6l5.6 5.4l5.5 5.2l5.6 5.5l5.6 5.7l5.5 5.7l5.6 5.8l5.6 5.9l5.6 5.6l5.5 5.2l5.6 5.1l5.6 5.1l5.6 5l2 1.8"/>
<path class="p" d="M133.3 52.5l2 2l5.6 5.7l5.5 5.1l5.6 4.7l5.6 4.4l5.6 4.3l5.5 4.2l5.6 4.4l5.6 4.3l5.6 4.1l5.5 3.7l5.6 3.2l5.6 2.5l5.6 1.7l5.5 .8l5.6-.4l5.6-1.6l5.6-2.7l5.5-3.5l5.6-3.3l5.6-1.9l5.6 .3l5.5 3.5l5.6 5.6l5.6 7.5l5.6 7.5l5.5 6.3l5.6 5l5.6 3.6l5.6 1.9l5.5 .5l5.6 .1l5.6-.5l5.5-.9l5.6-1.1l5.6-1.2l5.6-1.5l5.5-1.5l5.6-1.4l5.6-1.1l5.6-.7l2-.3"/>
<path class="c" d="M133.3 52.4l2 2.1l5.6 5.6l5.5 5.1l5.6 4.7l5.6 4.3l5.6 4.1l5.5 4.1l5.6 4.1l5.6 4l5.6 3.7l5.5 3.3l5.6 2.7l5.6 1.9l5.6 1.1l5.5 .2l5.6-1l5.6-2.2l5.6-3.3l5.5-3.8l5.6-3.4l5.6-2l5.6 0l5.5 3l5.6 5.2l5.6 7.4l5.6 8.1l5.5 6.6l5.6 5.2l5.6 3.6l5.6 1.7l5.5 .1l5.6-.1l5.6-.5l5.5-.8l5.6-.9l5.6-1.1l5.6-1.2l5.5-1.4l5.6-1.3l5.6-1.1l5.6-.8l2-.3"/>
<path class="p" d="M133.3 51.8l2 2.3l5.6 6.5l5.5 6l5.6 5.5l5.6 5.2l5.6 5.1l5.5 5l5.6 5.1l5.6 5l5.6 4.8l5.5 4.2l5.6 3.7l5.6 2.9l5.6 2.5l5.5 1.7l5.6 .6l5.6-.4l5.6-1.4l5.5-2.1l5.6-1.8l5.6-.5l5.6 1.8l5.5 5.1l5.6 7.5l5.6 7.9l5.6 7.5l5.5 7.1l5.6 6.4l5.6 6.3l5.6 5.6l5.5 5.3l5.6 5.2l5.6 5.3l5.5 5.1l5.6 5.2l5.6 5.2l5.6 4.8l5.5 4.5l5.6 4.2l5.6 4.1l5.6 3.7l2 1.4"/>
<path class="c" d="M133.3 51.8l2 2.3l5.6 6.5l5.5 6l5.6 5.6l5.6 5.3l5.6 5.3l5.5 5.3l5.6 5.4l5.6 5.4l5.6 5.2l5.5 4.8l5.6 4.1l5.6 3.6l5.6 3.3l5.5 2.7l5.6 1.5l5.6 .4l5.6-.8l5.5-1.7l5.6-1.5l5.6-.5l5.6 1.8l5.5 5.1l5.6 7.4l5.6 7.3l5.6 6.2l5.5 6.4l5.6 5.7l5.6 5.8l5.6 5.2l5.5 4.9l5.6 4.9l5.6 4.9l5.5 4.9l5.6 4.8l5.6 4.9l5.6 4.5l5.5 4.1l5.6 4l5.6 3.9l5.6 3.7l2 1.3"/>
<path class="p" d="M133.3 51.4l2 2.3l5.6 6.5l5.5 6l5.6 5.4l5.6 5.1l5.6 4.9l5.5 4.7l5.6 4.5l5.6 4.3l5.6 3.9l5.5 3.3l5.6 2.4l5.6 1.5l5.6 .4l5.5-.6l5.6-1.6l5.6-2.8l5.6-4l5.5-4.4l5.6-3.7l5.6-2.2l5.6 .3l5.5 3.6l5.6 5.8l5.6 8.2l5.6 9.6l5.5 8.2l5.6 6.7l5.6 5.4l5.6 4.1l5.5 3.2l5.6 3l5.6 2.6l5.5 2.3l5.6 2l5.6 1.7l5.6 1.4l5.5 1.1l5.6 1l5.6 1l5.6 .9l2 .3"/>
<path class="c" d="M133.3 51.3l2 2.3l5.6 6.6l5.5 5.9l5.6 5.5l5.6 5.1l5.6 4.9l5.5 4.9l5.6 4.8l5.6 4.7l5.6 4.3l5.5 3.8l5.6 3.1l5.6 2.4l5.6 1.6l5.5 .5l5.6-.6l5.6-1.6l5.6-2.7l5.5-3.4l5.6-2.9l5.6-1.3l5.6 1.2l5.5 4.7l5.6 7.3l5.6 8.4l5.6 8l5.5 6.7l5.6 5.6l5.6 4.7l5.6 4.1l5.5 4.1l5.6 3.6l5.6 3.3l5.5 3l5.6 2.9l5.6 2.7l5.6 2.5l5.5 2.4l5.6 2.1l5.6 2l5.6 1.7l2 .6"/>
<path class="p" d="M133.3 52.0l2 2.2l5.6 6.3l5.5 5.7l5.6 5.2l5.6 4.9l5.6 4.7l5.5 4.6l5.6 4.5l5.6 4.4l5.6 4.1l5.5 3.5l5.6 2.7l5.6 1.8l5.6 .8l5.5-.3l5.6-1.2l5.6-2.5l5.6-3.4l5.5-3.8l5.6-3.6l5.6-2.4l5.6-.6l5.5 2.3l5.6 4.3l5.6 6.8l5.6 7.8l5.5 6.5l5.6 5.2l5.6 3.7l5.6 1.8l5.5 .3l5.6 .2l5.6-.1l5.5-.4l5.6-.5l5.6-.6l5.6-.8l5.5-1l5.6-.9l5.6-.8l5.6-.6l2-.2"/>
<path class="c" d="M133.3 52.0l2 2.3l5.6 6.2l5.5 5.7l5.6 5.3l5.6 4.9l5.6 4.8l5.5 4.6l5.6 4.6l5.6 4.5l5.6 4.2l5.5 3.6l5.6 2.9l5.6 2l5.6 1l5.5 0l5.6-1l5.6-2l5.6-3.1l5.5-3.5l5.6-3.2l5.6-2.1l5.6 0l5.5 3l5.6 5.1l5.6 7.4l5.6 8.2l5.5 7.1l5.6 5.8l5.6 4.5l5.6 3.2l5.5 2.1l5.6 1.9l5.6 1.5l5.5 1.1l5.6 1l5.6 .7l5.6 .5l5.5 .2l5.6 .2l5.6 .3l5.6 .4l2 .2"/>
<path class="p" d="M133.3 41.0l2 1.9l5.6 5.2l5.5 4.7l5.6 4.4l5.6 4l5.6 3.9l5.5 3.8l5.6 3.8l5.6 3.6l5.6 3.2l5.5 2.9l5.6 2.2l5.6 1.7l5.6 1.2l5.5 .5l5.6-.6l5.6-1.9l5.6-2.8l5.5-2.7l5.6-2.2l5.6-1.1l5.6 .7l5.5 3.4l5.6 5.4l5.6 7.4l5.6 7l5.5 6l5.6 4.8l5.6 3.2l5.6 .8l5.5-1.2l5.6-.9l5.6-1.2l5.5-1.3l5.6-1.4l5.6-1.4l5.6-1.5l5.5-1.7l5.6-1.6l5.6-1.5l5.6-1.4l2-.5"/>
<path class="c" d="M133.3 41.2l2 1.9l5.6 5.2l5.5 4.7l5.6 4.3l5.6 4.1l5.6 3.9l5.5 3.8l5.6 3.8l5.6 3.6l5.6 3.3l5.5 2.9l5.6 2.2l5.6 1.7l5.6 1.2l5.5 .4l5.6-.7l5.6-2l5.6-2.9l5.5-2.8l5.6-2.4l5.6-1.2l5.6 .5l5.5 3.3l5.6 5.3l5.6 7.1l5.6 6.8l5.5 5.9l5.6 4.8l5.6 3.1l5.6 .8l5.5-1.2l5.6-.9l5.6-1.2l5.5-1.3l5.6-1.3l5.6-1.4l5.6-1.5l5.5-1.6l5.6-1.6l5.6-1.5l5.6-1.4l2-.5"/>
<path class="p" d="M133.3 49.6l2 2.1l5.6 5.7l5.5 5.1l5.6 4.8l5.6 4.4l5.6 4.4l5.5 4.3l5.6 4.4l5.6 4.3l5.6 4.2l5.5 3.7l5.6 3.2l5.6 2.5l5.6 1.8l5.5 .8l5.6-.3l5.6-1.6l5.6-2.9l5.5-3.5l5.6-3.1l5.6-1.7l5.6 .8l5.5 4.2l5.6 6.5l5.6 8.3l5.6 8.7l5.5 7.2l5.6 5.8l5.6 4.6l5.6 3.4l5.5 2.5l5.6 2l5.6 1.6l5.5 1.2l5.6 .9l5.6 .7l5.6 .4l5.5 .2l5.6 .2l5.6 .3l5.6 .4l2 .2"/>
<path class="c" d="M133.3 49.8l2 2.1l5.6 5.7l5.5 5.1l5.6 4.8l5.6 4.6l5.6 4.4l5.5 4.3l5.6 4.5l5.6 4.4l5.6 4.1l5.5 3.8l5.6 3.2l5.6 2.5l5.6 1.7l5.5 .8l5.6-.3l5.6-1.6l5.6-2.8l5.5-3.4l5.6-3.1l5.6-1.6l5.6 .7l5.5 4l5.6 6.2l5.6 8l5.6 8.5l5.5 7.1l5.6 5.9l5.6 4.5l5.6 3.4l5.5 2.3l5.6 1.9l5.6 1.5l5.5 1.1l5.6 .8l5.6 .6l5.6 .3l5.5 .1l5.6 .1l5.6 .2l5.6 .4l2 .1"/>
<path class="p" d="M133.3 42.8l2 2.1l5.6 6l5.5 5.5l5.6 5.2l5.6 5.1l5.6 5l5.5 5.1l5.6 5.3l5.6 5.3l5.6 5.2l5.5 5.1l5.6 4.8l5.6 4.3l5.6 3.6l5.5 2.8l5.6 1.9l5.6 1.1l5.6 0l5.5-.9l5.6-.6l5.6 .6l5.6 3l5.5 6.3l5.6 8.5l5.6 8.2l5.6 6.5l5.5 6.6l5.6 5.9l5.6 5.9l5.6 5.2l5.5 5l5.6 4.9l5.6 5l5.5 5l5.6 4.9l5.6 4.9l5.6 4.6l5.5 4.2l5.6 4l5.6 4l5.6 3.7l2 1.4"/>
<path class="c" d="M133.3 42.8l2 2.2l5.6 6l5.5 5.5l5.6 5.1l5.6 4.9l5.6 4.8l5.5 4.8l5.6 5l5.6 4.9l5.6 4.8l5.5 4.5l5.6 4.1l5.6 3.6l5.6 2.9l5.5 2.2l5.6 1.2l5.6 .2l5.6-.9l5.5-1.7l5.6-1.4l5.6 .1l5.6 2.7l5.5 6.2l5.6 8.5l5.6 8.7l5.6 7.6l5.5 6.9l5.6 6l5.6 5.7l5.6 5.1l5.5 4.7l5.6 4.4l5.6 4.4l5.5 4.2l5.6 4l5.6 4l5.6 3.6l5.5 3.4l5.6 3.1l5.6 2.9l5.6 2.8l2 1"/>
<path class="p" d="M133.3 54.2l2 2.2l5.6 6.4l5.5 5.8l5.6 5.6l5.6 5.4l5.6 5.4l5.5 5.5l5.6 5.6l5.6 5.8l5.6 5.5l5.5 5.1l5.6 4.5l5.6 3.9l5.6 3.8l5.5 3.4l5.6 1.9l5.6 .6l5.6-.9l5.5-2.1l5.6-1.8l5.6-.8l5.6 1.7l5.5 4.9l5.6 7.2l5.6 6.7l5.6 5.1l5.5 5.4l5.6 4.7l5.6 4.7l5.6 3.9l5.5 3.5l5.6 3.1l5.6 3l5.5 2.6l5.6 2.3l5.6 2.1l5.6 1.7l5.5 1.4l5.6 1.4l5.6 1.5l5.6 1.8l2 .7"/>
<path class="c" d="M133.3 54.0l2 2.3l5.6 6.3l5.5 5.8l5.6 5.5l5.6 5.3l5.6 5.2l5.5 5.3l5.6 5.4l5.6 5.3l5.6 5.2l5.5 4.6l5.6 3.9l5.6 3.3l5.6 2.9l5.5 2.1l5.6 .7l5.6-.9l5.6-2.4l5.5-3.6l5.6-3.4l5.6-2.1l5.6 .5l5.5 4.1l5.6 6.4l5.6 6.8l5.6 5.9l5.5 5.1l5.6 4.2l5.6 3.4l5.6 2.7l5.5 2.7l5.6 2.3l5.6 1.9l5.5 1.6l5.6 1.3l5.6 1l5.6 .9l5.5 .7l5.6 .7l5.6 .8l5.6 .9l2 .4"/>
<path class="p" d="M133.3 47.9l2 2.2l5.6 6.1l5.5 5.6l5.6 5.2l5.6 5.1l5.6 4.9l5.5 5l5.6 5.2l5.6 5.2l5.6 5.1l5.5 4.8l5.6 4.4l5.6 3.8l5.6 3.3l5.5 2.6l5.6 1.8l5.6 .7l5.6-.5l5.5-1.4l5.6-1l5.6 .3l5.6 2.9l5.5 6.3l5.6 8.4l5.6 8.2l5.6 6.2l5.5 6.3l5.6 5.6l5.6 5.6l5.6 5l5.5 4.7l5.6 4.6l5.6 4.7l5.5 4.5l5.6 4.5l5.6 4.5l5.6 4.1l5.5 3.8l5.6 3.6l5.6 3.5l5.6 3.4l2 1.3"/>
<path class="c" d="M133.3 47.9l2 2.2l5.6 6l5.5 5.6l5.6 5.1l5.6 4.8l5.6 4.7l5.5 4.7l5.6 4.7l5.6 4.7l5.6 4.5l5.5 4.1l5.6 3.6l5.6 3l5.6 2.3l5.5 1.3l5.6 .3l5.6-.8l5.6-2.1l5.5-2.8l5.6-2.4l5.6-.9l5.6 1.9l5.5 5.6l5.6 8l5.6 8.7l5.6 7.6l5.5 6.5l5.6 5.5l5.6 4.9l5.6 4.2l5.5 3.8l5.6 3.3l5.6 3.1l5.5 2.7l5.6 2.5l5.6 2.3l5.6 2.1l5.5 1.9l5.6 1.7l5.6 1.7l5.6 1.5l2 .6"/>
<path class="p" d="M133.3 56.0l2 2l5.6 5.4l5.5 4.9l5.6 4.4l5.6 4l5.6 3.8l5.5 3.8l5.6 3.6l5.6 3.5l5.6 3.3l5.5 3l5.6 2.4l5.6 1.8l5.6 1.2l5.5 .4l5.6-.6l5.6-1.5l5.6-2.4l5.5-2.9l5.6-2.4l5.6-1.4l5.6 .5l5.5 3.4l5.6 5.6l5.6 7.7l5.6 9l5.5 7.7l5.6 6.4l5.6 5.1l5.6 3.9l5.5 3l5.6 2.7l5.6 2.3l5.5 1.9l5.6 1.6l5.6 1.4l5.6 1l5.5 .8l5.6 .7l5.6 .7l5.6 .8l2 .3"/>
<path class="c" d="M133.3 56.0l2 1.9l5.6 5.4l5.5 4.9l5.6 4.4l5.6 4.1l5.6 3.9l5.5 3.8l5.6 3.8l5.6 3.8l5.6 3.5l5.5 3.2l5.6 2.8l5.6 2.2l5.6 1.6l5.5 .9l5.6 .1l5.6-.8l5.6-1.7l5.5-2l5.6-1.8l5.6-.7l5.6 1.4l5.5 4.6l5.6 6.8l5.6 8l5.6 7.8l5.5 6.7l5.6 5.5l5.6 4.7l5.6 3.8l5.5 3.3l5.6 2.7l5.6 2.3l5.5 1.9l5.6 1.5l5.6 1.4l5.6 1.1l5.5 1l5.6 1l5.6 1l5.6 1.1l2 .4"/>
<path class="p" d="M133.3 55.1l2 2.1l5.6 6.1l5.5 5.6l5.6 5.2l5.6 5l5.6 4.9l5.5 5.1l5.6 5.2l5.6 5.3l5.6 5.2l5.5 4.7l5.6 4.3l5.6 3.7l5.6 3.5l5.5 3.1l5.6 2l5.6 .7l5.6-.4l5.5-1.5l5.6-1.4l5.6-.4l5.6 1.8l5.5 5l5.6 7.1l5.6 6.9l5.6 5.7l5.5 6.1l5.6 5.3l5.6 5.5l5.6 4.7l5.5 4.4l5.6 4.4l5.6 4.3l5.5 4.1l5.6 4l5.6 3.9l5.6 3.5l5.5 3.2l5.6 3.1l5.6 3l5.6 3l2 1"/>
<path class="c" d="M133.3 55.0l2 2.2l5.6 6l5.5 5.6l5.6 5.2l5.6 5l5.6 5l5.5 5.1l5.6 5.2l5.6 5.2l5.6 5.1l5.5 4.7l5.6 4l5.6 3.6l5.6 3.3l5.5 2.7l5.6 1.6l5.6 .4l5.6-.9l5.5-1.8l5.6-1.7l5.6-.6l5.6 1.5l5.5 4.9l5.6 7l5.6 7l5.6 5.9l5.5 6.1l5.6 5.3l5.6 5.2l5.6 4.6l5.5 4.2l5.6 4l5.6 3.9l5.5 3.7l5.6 3.5l5.6 3.4l5.6 3l5.5 2.7l5.6 2.6l5.6 2.6l5.6 2.5l2 .9"/>
<path class="p" d="M133.3 50.5l2 2.5l5.6 7l5.5 6.4l5.6 6.1l5.6 5.9l5.6 5.9l5.5 5.9l5.6 6.1l5.6 6.1l5.6 5.9l5.5 5.3l5.6 4.5l5.6 4l5.6 3.9l5.5 3.3l5.6 1.9l5.6 .4l5.6-1.1l5.5-2.4l5.6-2.3l5.6-1.6l5.6 .3l5.5 3.4l5.6 5.3l5.6 5.2l5.6 5.1l5.5 5.1l5.6 4.3l5.6 3.9l5.6 3.2l5.5 2.6l5.6 2.1l5.6 1.8l5.5 1.3l5.6 .9l5.6 .7l5.6 .5l5.5 .3l5.6 .4l5.6 .6l5.6 1l2 .3"/>
<path class="c" d="M133.3 50.6l2 2.5l5.6 7l5.5 6.4l5.6 6.1l5.6 5.9l5.6 5.9l5.5 6.1l5.6 6.2l5.6 6.2l5.6 6l5.5 5.5l5.6 4.7l5.6 4.2l5.6 4.2l5.5 3.7l5.6 2.3l5.6 .8l5.6-.6l5.5-1.8l5.6-1.8l5.6-.9l5.6 1.2l5.5 4.5l5.6 6.5l5.6 6.1l5.6 5.1l5.5 5.6l5.6 5l5.6 5.2l5.6 4.4l5.5 4.1l5.6 3.9l5.6 3.8l5.5 3.6l5.6 3.4l5.6 3.2l5.6 2.8l5.5 2.5l5.6 2.4l5.6 2.4l5.6 2.5l2 .9"/>
<path class="p" d="M133.3 40.1l2 2.3l5.6 6.3l5.5 6.1l5.6 6l5.6 6.1l5.6 6.3l5.5 6.4l5.6 6.7l5.6 6.7l5.6 6.4l5.5 5.8l5.6 5.3l5.6 4.6l5.6 4.1l5.5 3.4l5.6 2.2l5.6 .6l5.6-.8l5.5-2.1l5.6-1.9l5.6-.7l5.6 2l5.5 5.4l5.6 7.7l5.6 7.4l5.6 5.8l5.5 6l5.6 5.2l5.6 5.1l5.6 4.5l5.5 4.1l5.6 4l5.6 4l5.5 3.7l5.6 3.6l5.6 3.5l5.6 3.1l5.5 2.9l5.6 2.7l5.6 2.7l5.6 2.6l2 1"/>
<path class="c" d="M133.3 40.3l2 2.2l5.6 6.3l5.5 6.1l5.6 6l5.6 5.9l5.6 6.1l5.5 6.2l5.6 6.3l5.6 6.3l5.6 6l5.5 5.5l5.6 4.8l5.6 4.1l5.6 3.4l5.5 2.7l5.6 1.3l5.6 0l5.6-1.5l5.5-2.6l5.6-2.5l5.6-1l5.6 1.7l5.5 5.2l5.6 7.6l5.6 7.7l5.6 6.6l5.5 6.1l5.6 5.2l5.6 4.9l5.6 4.2l5.5 3.7l5.6 3.5l5.6 3.3l5.5 3l5.6 2.8l5.6 2.6l5.6 2.4l5.5 2.1l5.6 2l5.6 1.9l5.6 2l2 .7"/>
<path class="p" d="M133.3 42.0l2 1.9l5.6 5.5l5.5 5l5.6 4.6l5.6 4.4l5.6 4.4l5.5 4.3l5.6 4.5l5.6 4.6l5.6 4.4l5.5 4.2l5.6 3.8l5.6 3.5l5.6 2.9l5.5 2.1l5.6 1l5.6-.2l5.6-1.5l5.5-2.3l5.6-2.1l5.6-.8l5.6 1.6l5.5 4.8l5.6 7.1l5.6 8.1l5.6 8.1l5.5 6.8l5.6 5.6l5.6 4.5l5.6 3.7l5.5 2.9l5.6 2.4l5.6 1.9l5.5 1.6l5.6 1.2l5.6 1l5.6 .6l5.5 .5l5.6 .5l5.6 .5l5.6 .8l2 .2"/>
<path class="c" d="M133.3 42.1l2 2l5.6 5.5l5.5 4.9l5.6 4.7l5.6 4.4l5.6 4.3l5.5 4.4l5.6 4.5l5.6 4.6l5.6 4.4l5.5 4.3l5.6 3.9l5.6 3.5l5.6 3l5.5 2.3l5.6 1.4l5.6 .1l5.6-1l5.5-1.8l5.6-1.6l5.6-.1l5.6 2.6l5.5 6l5.6 8.5l5.6 8.9l5.6 7.5l5.5 6.5l5.6 5.4l5.6 4.7l5.6 3.9l5.5 3.4l5.6 3l5.6 2.5l5.5 2.1l5.6 1.7l5.6 1.5l5.6 1.3l5.5 1.1l5.6 1l5.6 1.1l5.6 1.3l2 .4"/>
<path class="p" d="M133.3 53.1l2 2.1l5.6 5.8l5.5 5.2l5.6 4.9l5.6 4.4l5.6 4.3l5.5 4.1l5.6 4l5.6 3.8l5.6 3.5l5.5 3.1l5.6 2.4l5.6 1.6l5.6 .8l5.5 0l5.6-1.2l5.6-2.4l5.6-3.4l5.5-3.9l5.6-3.3l5.6-2l5.6 .1l5.5 3.3l5.6 5.4l5.6 7.7l5.6 8.6l5.5 7.2l5.6 5.7l5.6 4.3l5.6 2.5l5.5 1.1l5.6 .9l5.6 .4l5.5 .2l5.6 0l5.6-.2l5.6-.4l5.5-.7l5.6-.6l5.6-.5l5.6-.3l2-.1"/>
<path class="c" d="M133.3 53.1l2 2.1l5.6 5.8l5.5 5.2l5.6 4.9l5.6 4.5l5.6 4.4l5.5 4.3l5.6 4.2l5.6 4.2l5.6 3.9l5.5 3.4l5.6 2.8l5.6 2.1l5.6 1.3l5.5 .3l5.6-.7l5.6-1.9l5.6-2.9l5.5-3.5l5.6-3.1l5.6-1.8l5.6 .5l5.5 3.6l5.6 5.8l5.6 7.9l5.6 8.5l5.5 7.2l5.6 5.9l5.6 4.6l5.6 3.3l5.5 2.2l5.6 2l5.6 1.5l5.5 1.1l5.6 .9l5.6 .7l5.6 .3l5.5 .2l5.6 .1l5.6 .2l5.6 .4l2 .2"/>
<path class="p" d="M133.3 41.3l2 2.1l5.6 5.9l5.5 5.4l5.6 5.1l5.6 4.9l5.6 4.8l5.5 4.8l5.6 4.9l5.6 4.9l5.6 4.7l5.5 4.4l5.6 3.8l5.6 3.3l5.6 2.6l5.5 1.9l5.6 1l5.6 .1l5.6-.7l5.5-1.1l5.6-1.1l5.6-.4l5.6 1.3l5.5 4.1l5.6 6.1l5.6 7.1l5.6 7l5.5 6.2l5.6 5.3l5.6 4.5l5.6 3.8l5.5 3.1l5.6 2.7l5.6 2.2l5.5 1.8l5.6 1.6l5.6 1.3l5.6 1l5.5 1l5.6 .8l5.6 1l5.6 1l2 .3"/>
<path class="c" d="M133.3 41.4l2 2.1l5.6 5.9l5.5 5.4l5.6 5l5.6 4.8l5.6 4.7l5.5 4.7l5.6 4.8l5.6 4.6l5.6 4.5l5.5 4.1l5.6 3.6l5.6 3l5.6 2.4l5.5 1.6l5.6 .7l5.6-.3l5.6-1.1l5.5-1.6l5.6-1.4l5.6-.5l5.6 1.4l5.5 4.2l5.6 6.5l5.6 7.8l5.6 7.9l5.5 6.9l5.6 5.8l5.6 4.7l5.6 4l5.5 3.3l5.6 2.7l5.6 2.4l5.5 1.9l5.6 1.6l5.6 1.4l5.6 1.1l5.5 1l5.6 .9l5.6 1l5.6 1.1l2 .3"/>
<path class="p" d="M133.3 52.8l2 2.2l5.6 6.3l5.5 5.8l5.6 5.2l5.6 4.9l5.6 4.8l5.5 4.6l5.6 4.5l5.6 4.3l5.6 3.9l5.5 3.3l5.6 2.4l5.6 1.5l5.6 .3l5.5-.7l5.6-2l5.6-3.4l5.6-4.7l5.5-5.1l5.6-4.2l5.6-2.3l5.6 .3l5.5 3.9l5.6 6.3l5.6 8.7l5.6 9.1l5.5 7.5l5.6 6.1l5.6 4.6l5.6 3l5.5 1.8l5.6 1.7l5.6 1.3l5.5 1.2l5.6 .9l5.6 .9l5.6 .5l5.5 .3l5.6 .3l5.6 .2l5.6 .3l2 .1"/>
<path class="c" d="M133.3 52.8l2 2.2l5.6 6.3l5.5 5.7l5.6 5.3l5.6 4.9l5.6 4.7l5.5 4.7l5.6 4.5l5.6 4.4l5.6 4l5.5 3.3l5.6 2.6l5.6 1.6l5.6 .4l5.5-.6l5.6-1.9l5.6-3.2l5.6-4.5l5.5-5l5.6-4.2l5.6-2.5l5.6-.1l5.5 3.2l5.6 5.4l5.6 7.7l5.6 8.3l5.5 6.7l5.6 5.3l5.6 3.8l5.6 1.8l5.5 .4l5.6 .2l5.6-.1l5.5-.3l5.6-.4l5.6-.6l5.6-.7l5.5-.9l5.6-.9l5.6-.7l5.6-.6l2-.2"/>
<path class="p" d="M133.3 50.2l2 2.6l5.6 7.2l5.5 6.4l5.6 6l5.6 5.6l5.6 5.5l5.5 5.5l5.6 5.5l5.6 5.4l5.6 5.2l5.5 4.5l5.6 3.8l5.6 3.1l5.6 2.6l5.5 1.9l5.6 .4l5.6-.9l5.6-2.4l5.5-3.5l5.6-3.1l5.6-1.6l5.6 1.1l5.5 4.8l5.6 7.3l5.6 7.7l5.6 6.7l5.5 6.2l5.6 5.3l5.6 5l5.6 4.4l5.5 3.9l5.6 3.8l5.6 3.5l5.5 3.4l5.6 3.2l5.6 3.1l5.6 2.8l5.5 2.6l5.6 2.4l5.6 2.3l5.6 2.1l2 .8"/>
<path class="c" d="M133.3 50.2l2 2.6l5.6 7.2l5.5 6.3l5.6 6l5.6 5.6l5.6 5.4l5.5 5.5l5.6 5.4l5.6 5.3l5.6 5l5.5 4.5l5.6 3.7l5.6 3l5.6 2.5l5.5 1.6l5.6 .4l5.6-1l5.6-2.4l5.5-3.2l5.6-3l5.6-1.4l5.6 1.4l5.5 5l5.6 7.5l5.6 7.9l5.6 7l5.5 6.4l5.6 5.6l5.6 5.3l5.6 4.8l5.5 4.3l5.6 4.2l5.6 4l5.5 3.9l5.6 3.8l5.6 3.7l5.6 3.4l5.5 3.2l5.6 2.9l5.6 2.8l5.6 2.5l2 .9"/>
<path class="p" d="M133.3 55.0l2 2.3l5.6 6.4l5.5 5.9l5.6 5.6l5.6 5.4l5.6 5.3l5.5 5.4l5.6 5.5l5.6 5.5l5.6 5.4l5.5 4.9l5.6 4.3l5.6 3.8l5.6 3.7l5.5 3.5l5.6 2.1l5.6 1l5.6-.3l5.5-1.3l5.6-1.2l5.6-.3l5.6 1.9l5.5 5.2l5.6 7.4l5.6 6.9l5.6 5.6l5.5 6.3l5.6 5.7l5.6 6.2l5.6 5.5l5.5 5.3l5.6 5.5l5.6 5.7l5.5 5.8l5.6 5.8l5.6 6.1l5.6 5.6l5.5 5.3l5.6 5.1l5.6 5.1l5.6 5l2 1.8"/>
<path class="c" d="M133.3 54.8l2 2.3l5.6 6.4l5.5 5.9l5.6 5.6l5.6 5.2l5.6 5.2l5.5 5.3l5.6 5.3l5.6 5.3l5.6 5.1l5.5 4.7l5.6 4l5.6 3.4l5.6 3.4l5.5 2.8l5.6 1.8l5.6 .6l5.6-.5l5.5-1.4l5.6-1.2l5.6-.2l5.6 1.9l5.5 5.2l5.6 7.4l5.6 7.2l5.6 6.1l5.5 6.5l5.6 6l5.6 6.2l5.6 5.6l5.5 5.3l5.6 5.5l5.6 5.7l5.5 5.7l5.6 5.7l5.6 6l5.6 5.4l5.5 5.2l5.6 5l5.6 4.9l5.6 4.8l2 1.7"/>
<path class="p" d="M133.3 54.0l2 1.9l5.6 5.3l5.5 4.6l5.6 4.2l5.6 3.7l5.6 3.3l5.5 3.3l5.6 3.5l5.6 3.4l5.6 3.2l5.5 2.8l5.6 2.3l5.6 1.8l5.6 1.3l5.5 .5l5.6-.3l5.6-1.5l5.6-2.4l5.5-2.5l5.6-2.1l5.6-.7l5.6 1.5l5.5 4.7l5.6 7.2l5.6 9.2l5.6 8.5l5.5 7.2l5.6 5.8l5.6 4.7l5.6 3.5l5.5 2.4l5.6 2.1l5.6 1.6l5.5 1.2l5.6 1l5.6 .7l5.6 .3l5.5 .2l5.6 .1l5.6 .3l5.6 .4l2 .2"/>
<path class="c" d="M133.3 53.9l2 1.9l5.6 5.3l5.5 4.7l5.6 4.2l5.6 3.6l5.6 3.2l5.5 3.3l5.6 3.3l5.6 3.2l5.6 2.9l5.5 2.6l5.6 1.9l5.6 1.3l5.6 .6l5.5-.1l5.6-1.1l5.6-2.4l5.6-3.2l5.5-3.4l5.6-2.9l5.6-1.5l5.6 .3l5.5 3.2l5.6 5.4l5.6 7.5l5.6 7.8l5.5 6.6l5.6 5.2l5.6 3.7l5.6 1.6l5.5-.2l5.6-.2l5.6-.5l5.5-.7l5.6-.8l5.6-.9l5.6-1.1l5.5-1.2l5.6-1.2l5.6-1.1l5.6-.9l2-.4"/>
<path class="p" d="M133.3 57.6l2 2.4l5.6 6.5l5.5 6.1l5.6 5.8l5.6 5.5l5.6 5.6l5.5 5.8l5.6 5.9l5.6 6l5.6 5.7l5.5 5.1l5.6 4.4l5.6 3.9l5.6 4l5.5 3.8l5.6 2l5.6 .6l5.6-1.1l5.5-2.2l5.6-2.1l5.6-1l5.6 1.4l5.5 4.9l5.6 7.1l5.6 6.6l5.6 5.4l5.5 6.2l5.6 5.5l5.6 6l5.6 5.4l5.5 5.1l5.6 5.3l5.6 5.5l5.5 5.6l5.6 5.6l5.6 5.7l5.6 5.3l5.5 5.1l5.6 4.8l5.6 4.8l5.6 4.8l2 1.7"/>
<path class="c" d="M133.3 57.5l2 2.4l5.6 6.5l5.5 6.1l5.6 5.8l5.6 5.6l5.6 5.6l5.5 5.8l5.6 6l5.6 5.9l5.6 5.8l5.5 5.2l5.6 4.4l5.6 3.9l5.6 4.2l5.5 3.8l5.6 2.1l5.6 .6l5.6-1l5.5-2.3l5.6-2.1l5.6-1.1l5.6 1.3l5.5 4.7l5.6 6.9l5.6 6.4l5.6 5.2l5.5 5.9l5.6 5.2l5.6 5.6l5.6 4.9l5.5 4.7l5.6 4.6l5.6 4.8l5.5 4.6l5.6 4.6l5.6 4.5l5.6 4.2l5.5 3.7l5.6 3.7l5.6 3.6l5.6 3.7l2 1.3"/>
<path class="p" d="M133.3 46.6l2 1.9l5.6 5l5.5 4.6l5.6 4.2l5.6 4l5.6 3.8l5.5 3.9l5.6 3.9l5.6 3.9l5.6 3.7l5.5 3.4l5.6 2.8l5.6 2.5l5.6 2l5.5 1.5l5.6 .5l5.6-.3l5.6-1.1l5.5-1.2l5.6-.7l5.6 .5l5.6 2.8l5.5 6l5.6 8.6l5.6 9.6l5.6 8.3l5.5 7.4l5.6 6.4l5.6 5.8l5.6 5.3l5.5 4.8l5.6 4.5l5.6 4.4l5.5 4.1l5.6 4.1l5.6 3.9l5.6 3.5l5.5 3.3l5.6 3.1l5.6 2.8l5.6 2.4l2 .9"/>
<path class="c" d="M133.3 46.7l2 1.8l5.6 5.1l5.5 4.6l5.6 4.1l5.6 4l5.6 3.8l5.5 3.8l5.6 3.8l5.6 3.8l5.6 3.5l5.5 3.3l5.6 2.7l5.6 2.3l5.6 1.8l5.5 1.2l5.6 .4l5.6-.7l5.6-1.5l5.5-1.6l5.6-1.1l5.6 .3l5.6 2.5l5.5 5.9l5.6 8.3l5.6 9.9l5.6 9.3l5.5 7.5l5.6 6.1l5.6 5.6l5.6 5.2l5.5 4.6l5.6 4.3l5.6 4l5.5 3.8l5.6 3.6l5.6 3.4l5.6 3.2l5.5 2.9l5.6 2.6l5.6 2.4l5.6 2.1l2 .8"/>
<path class="p" d="M133.3 52.4l2 2.5l5.6 6.7l5.5 6.3l5.6 5.9l5.6 5.7l5.6 5.5l5.5 5.5l5.6 5.6l5.6 5.5l5.6 5.2l5.5 4.6l5.6 3.8l5.6 3.1l5.6 2.7l5.5 1.8l5.6 0l5.6-1.6l5.6-3.3l5.5-4.6l5.6-4.5l5.6-3.1l5.6-.2l5.5 3.5l5.6 5.9l5.6 6.6l5.6 6.2l5.5 5.5l5.6 4.6l5.6 3.9l5.6 2.9l5.5 2l5.6 1.5l5.6 .9l5.5 .5l5.6 .1l5.6-.1l5.6-.4l5.5-.6l5.6-.5l5.6-.3l5.6 .1l2 .1"/>
<path class="c" d="M133.3 52.4l2 2.4l5.6 6.8l5.5 6.3l5.6 5.8l5.6 5.7l5.6 5.5l5.5 5.6l5.6 5.6l5.6 5.5l5.6 5.3l5.5 4.6l5.6 3.9l5.6 3.1l5.6 2.7l5.5 1.8l5.6 .1l5.6-1.6l5.6-3.4l5.5-4.8l5.6-4.6l5.6-3.1l5.6-.2l5.5 3.5l5.6 5.9l5.6 6.7l5.6 6.4l5.5 5.5l5.6 4.8l5.6 3.9l5.6 3.2l5.5 2.3l5.6 1.8l5.6 1.3l5.5 .9l5.6 .6l5.6 .4l5.6 .1l5.5-.1l5.6 0l5.6 .1l5.6 .4l2 .2"/>
<path class="p" d="M133.3 44.6l2 2.2l5.6 5.9l5.5 5.4l5.6 5l5.6 4.6l5.6 4.3l5.5 4.2l5.6 4.2l5.6 4l5.6 3.6l5.5 3.1l5.6 2.5l5.6 1.7l5.6 1.1l5.5 .2l5.6-.9l5.6-2.4l5.6-3.4l5.5-3.7l5.6-3l5.6-1.4l5.6 .8l5.5 4.1l5.6 6.3l5.6 8.7l5.6 8.9l5.5 7.5l5.6 6l5.6 4.5l5.6 2.7l5.5 1.4l5.6 1.2l5.6 .9l5.5 .6l5.6 .4l5.6 .3l5.6 0l5.5-.2l5.6-.3l5.6-.1l5.6-.1l2 0"/>
<path class="c" d="M133.3 44.8l2 2.2l5.6 5.9l5.5 5.5l5.6 4.9l5.6 4.7l5.6 4.4l5.5 4.3l5.6 4.2l5.6 4.1l5.6 3.7l5.5 3.2l5.6 2.4l5.6 1.8l5.6 1l5.5 .1l5.6-1.1l5.6-2.5l5.6-3.6l5.5-3.8l5.6-3.2l5.6-1.7l5.6 .5l5.5 3.7l5.6 5.8l5.6 8l5.6 8.5l5.5 7l5.6 5.6l5.6 4.1l5.6 2.1l5.5 .6l5.6 .5l5.6 .3l5.5 0l5.6-.2l5.6-.2l5.6-.5l5.5-.6l5.6-.7l5.6-.6l5.6-.4l2-.2"/>
<path class="p" d="M133.3 44.0l2 1.6l5.6 4.6l5.5 4.2l5.6 3.9l5.6 3.7l5.6 3.6l5.5 3.5l5.6 3.5l5.6 3.4l5.6 3l5.5 2.7l5.6 1.9l5.6 1.4l5.6 1.1l5.5 .2l5.6-.8l5.6-2.1l5.6-3l5.5-2.9l5.6-2.3l5.6-.9l5.6 .8l5.5 3.8l5.6 5.7l5.6 7.4l5.6 7.2l5.5 6.3l5.6 5.4l5.6 3.7l5.6 1.5l5.5-.3l5.6 .1l5.6-.2l5.5-.3l5.6-.3l5.6-.3l5.6-.5l5.5-.7l5.6-.7l5.6-.8l5.6-.8l2-.3"/>
<path class="c" d="M133.3 44.1l2 1.7l5.6 4.6l5.5 4.2l5.6 3.8l5.6 3.7l5.6 3.6l5.5 3.5l5.6 3.5l5.6 3.3l5.6 3.1l5.5 2.6l5.6 1.9l5.6 1.5l5.6 1l5.5 .2l5.6-.8l5.6-2.2l5.6-3l5.5-3l5.6-2.3l5.6-1l5.6 .8l5.5 3.8l5.6 5.7l5.6 7.4l5.6 7.2l5.5 6.3l5.6 5.3l5.6 3.7l5.6 1.4l5.5-.5l5.6-.2l5.6-.4l5.5-.6l5.6-.5l5.6-.6l5.6-.8l5.5-1l5.6-1l5.6-1l5.6-1l2-.4"/>
<path class="p" d="M133.3 41.3l2 2.3l5.6 6.4l5.5 6.1l5.6 5.6l5.6 5.5l5.6 5.2l5.5 5.1l5.6 5.1l5.6 4.8l5.6 4.4l5.5 3.8l5.6 3l5.6 2l5.6 1.1l5.5 0l5.6-1.3l5.6-2.7l5.6-3.9l5.5-4.2l5.6-3.6l5.6-2.1l5.6-.1l5.5 3.1l5.6 5.2l5.6 7.4l5.6 8.7l5.5 7.4l5.6 6.2l5.6 4.7l5.6 3l5.5 1.7l5.6 1.7l5.6 1.5l5.5 1.3l5.6 1.2l5.6 1.1l5.6 .8l5.5 .5l5.6 .4l5.6 .3l5.6 .3l2 .1"/>
<path class="c" d="M133.3 41.6l2 2.3l5.6 6.4l5.5 6.1l5.6 5.8l5.6 5.6l5.6 5.5l5.5 5.4l5.6 5.5l5.6 5.4l5.6 5.1l5.5 4.6l5.6 4l5.6 3.3l5.6 2.2l5.5 1.2l5.6 .1l5.6-1.4l5.6-2.7l5.5-3.5l5.6-3.3l5.6-1.6l5.6 1l5.5 4.6l5.6 7l5.6 8.2l5.6 8l5.5 6.7l5.6 5.5l5.6 4.6l5.6 3.8l5.5 3.1l5.6 2.7l5.6 2.2l5.5 1.8l5.6 1.6l5.6 1.3l5.6 1.1l5.5 .9l5.6 .8l5.6 .9l5.6 1l2 .4"/>
<path class="p" d="M133.3 42.7l2 2.2l5.6 6.2l5.5 5.7l5.6 5.4l5.6 5.1l5.6 5.1l5.5 5.1l5.6 5.3l5.6 5.3l5.6 5.3l5.5 5l5.6 4.5l5.6 4.1l5.6 3.2l5.5 2.4l5.6 1.6l5.6 .8l5.6-.1l5.5-1l5.6-.9l5.6-.1l5.6 1.8l5.5 4.7l5.6 6.9l5.6 7.2l5.6 6.5l5.5 6.1l5.6 5.3l5.6 4.9l5.6 4.3l5.5 3.6l5.6 3.4l5.6 3l5.5 2.6l5.6 2.4l5.6 2.2l5.6 1.8l5.5 1.6l5.6 1.6l5.6 1.5l5.6 1.6l2 .6"/>
<path class="c" d="M133.3 43.1l2 2.2l5.6 6.2l5.5 5.7l5.6 5.5l5.6 5.4l5.6 5.4l5.5 5.5l5.6 5.7l5.6 5.8l5.6 5.8l5.5 5.4l5.6 4.8l5.6 4.1l5.6 3.5l5.5 2.9l5.6 1.9l5.6 .9l5.6-.2l5.5-1.2l5.6-1.2l5.6-.5l5.6 1.4l5.5 4.2l5.6 6.4l5.6 6.5l5.6 5.8l5.5 5.5l5.6 4.8l5.6 4.4l5.6 3.7l5.5 3.2l5.6 2.7l5.6 2.5l5.5 2l5.6 1.7l5.6 1.5l5.6 1.2l5.5 1.1l5.6 1l5.6 1.1l5.6 1.3l2 .5"/>
<path class="p" d="M133.3 49.0l2 1.8l5.6 5l5.5 4.4l5.6 3.9l5.6 3.6l5.6 3.5l5.5 3.4l5.6 3.5l5.6 3.5l5.6 3.2l5.5 2.8l5.6 2.3l5.6 1.8l5.6 1.3l5.5 .7l5.6-.3l5.6-1.5l5.6-2.3l5.5-2.3l5.6-1.7l5.6-.3l5.6 1.7l5.5 4.8l5.6 7l5.6 9.4l5.6 10.1l5.5 8.8l5.6 7.2l5.6 5.9l5.6 4.8l5.5 3.9l5.6 3.5l5.6 2.8l5.5 2.4l5.6 2l5.6 1.6l5.6 1.4l5.5 1.2l5.6 1.1l5.6 1.1l5.6 1.2l2 .4"/>
<path class="c" d="M133.3 49.2l2 1.8l5.6 5l5.5 4.4l5.6 4l5.6 3.7l5.6 3.5l5.5 3.5l5.6 3.6l5.6 3.4l5.6 3.2l5.5 2.9l5.6 2.3l5.6 1.9l5.6 1.4l5.5 .7l5.6-.2l5.6-1.3l5.6-2.2l5.5-2.3l5.6-1.6l5.6-.1l5.6 2.2l5.5 5.7l5.6 8.2l5.6 10.4l5.6 10.4l5.5 8.5l5.6 6.9l5.6 5.5l5.6 4.5l5.5 3.9l5.6 4.4l5.6 4.1l5.5 3.9l5.6 3.6l5.6 3.6l5.6 3.2l5.5 3.1l5.6 2.7l5.6 2.5l5.6 2.1l2 .7"/>
<path class="p" d="M133.3 48.0l2 1.9l5.6 5.3l5.5 4.8l5.6 4.4l5.6 4.2l5.6 4.1l5.5 4l5.6 4l5.6 4l5.6 3.7l5.5 3.3l5.6 2.6l5.6 2.1l5.6 1.5l5.5 .6l5.6-.4l5.6-1.7l5.6-2.6l5.5-2.9l5.6-2.5l5.6-1.3l5.6 .6l5.5 3.5l5.6 5.6l5.6 7.8l5.6 8.8l5.5 7.4l5.6 5.9l5.6 4.6l5.6 2.9l5.5 1.6l5.6 1.5l5.6 .9l5.5 .7l5.6 .4l5.6 .3l5.6 0l5.5-.3l5.6-.3l5.6-.1l5.6 0l2 0"/>
<path class="c" d="M133.3 48.0l2 1.9l5.6 5.3l5.5 4.8l5.6 4.5l5.6 4.2l5.6 4l5.5 4.1l5.6 4l5.6 4l5.6 3.8l5.5 3.4l5.6 2.8l5.6 2.3l5.6 1.6l5.5 .8l5.6-.1l5.6-1.4l5.6-2.3l5.5-2.7l5.6-2.3l5.6-1l5.6 1l5.5 4.1l5.6 6.3l5.6 8.4l5.6 9l5.5 7.6l5.6 6.3l5.6 5l5.6 3.7l5.5 2.7l5.6 2.4l5.6 2l5.5 1.6l5.6 1.3l5.6 1.1l5.6 .8l5.5 .5l5.6 .5l5.6 .5l5.6 .7l2 .2"/>
<path class="p" d="M133.3 44.0l2 1.9l5.6 5.2l5.5 4.8l5.6 4.4l5.6 4.1l5.6 4.1l5.5 4l5.6 4.1l5.6 4l5.6 3.7l5.5 3.4l5.6 2.8l5.6 2.4l5.6 1.8l5.5 1.1l5.6 .2l5.6-.9l5.6-1.7l5.5-1.9l5.6-1.6l5.6-.7l5.6 .7l5.5 3.5l5.6 5.3l5.6 7.6l5.6 8l5.5 6.8l5.6 5.4l5.6 3.9l5.6 2.3l5.5 .8l5.6 .5l5.6 0l5.5-.3l5.6-.5l5.6-.7l5.6-1l5.5-1l5.6-1l5.6-.8l5.6-.6l2-.1"/>
<path class="c" d="M133.3 44.0l2 1.9l5.6 5.3l5.5 4.7l5.6 4.4l5.6 4.1l5.6 3.9l5.5 3.9l5.6 3.9l5.6 3.7l5.6 3.5l5.5 3l5.6 2.4l5.6 1.9l5.6 1.4l5.5 .6l5.6-.3l5.6-1.5l5.6-2.3l5.5-2.4l5.6-1.9l5.6-.8l5.6 .7l5.5 3.5l5.6 5.5l5.6 7.8l5.6 8.6l5.5 7.3l5.6 6l5.6 4.6l5.6 2.8l5.5 1.4l5.6 1.3l5.6 .9l5.5 .6l5.6 .5l5.6 .3l5.6 0l5.5-.2l5.6-.2l5.6-.2l5.6-.1l2 0"/>
<path class="p" d="M133.3 57.4l2 2.3l5.6 6.3l5.5 5.9l5.6 5.6l5.6 5.3l5.6 5.3l5.5 5.5l5.6 5.5l5.6 5.5l5.6 5.2l5.5 4.6l5.6 3.9l5.6 3.2l5.6 3.2l5.5 2.5l5.6 .9l5.6-.6l5.6-2.1l5.5-3.3l5.6-3.1l5.6-1.7l5.6 1.1l5.5 4.7l5.6 7.2l5.6 7.2l5.6 5.5l5.5 5.4l5.6 4.5l5.6 4.1l5.6 3.5l5.5 2.9l5.6 2.6l5.6 2.2l5.5 1.9l5.6 1.7l5.6 1.4l5.6 1.1l5.5 1l5.6 1l5.6 1.1l5.6 1.3l2 .5"/>
<path class="c" d="M133.3 57.3l2 2.2l5.6 6.4l5.5 5.8l5.6 5.6l5.6 5.3l5.6 5.3l5.5 5.4l5.6 5.4l5.6 5.3l5.6 5.1l5.5 4.4l5.6 3.5l5.6 2.9l5.6 2.6l5.5 1.8l5.6 0l5.6-1.5l5.6-3.2l5.5-4.3l5.6-4.1l5.6-2.8l5.6 .1l5.5 3.6l5.6 6.2l5.6 6.7l5.6 6l5.5 5.2l5.6 4.7l5.6 3.9l5.6 3.4l5.5 2.9l5.6 2.3l5.6 2l5.5 1.6l5.6 1.3l5.6 1.1l5.6 .9l5.5 .7l5.6 .6l5.6 .8l5.6 .9l2 .3"/>
<path class="p" d="M133.3 55.7l2 2.1l5.6 6l5.5 5.4l5.6 5.2l5.6 4.9l5.6 4.9l5.5 5l5.6 5.1l5.6 5.1l5.6 5l5.5 4.6l5.6 4.1l5.6 3.5l5.6 3.3l5.5 2.8l5.6 1.8l5.6 .8l5.6-.2l5.5-1.2l5.6-1.1l5.6-.4l5.6 1.5l5.5 4.5l5.6 6.6l5.6 6.6l5.6 5.4l5.5 5.7l5.6 5.1l5.6 5.1l5.6 4.4l5.5 3.9l5.6 3.9l5.6 3.7l5.5 3.4l5.6 3.2l5.6 3.2l5.6 2.7l5.5 2.5l5.6 2.4l5.6 2.3l5.6 2.3l2 .9"/>
<path class="c" d="M133.3 55.5l2 2.1l5.6 6l5.5 5.4l5.6 5.1l5.6 4.8l5.6 4.7l5.5 4.8l5.6 4.9l5.6 4.8l5.6 4.6l5.5 4.3l5.6 3.6l5.6 3.1l5.6 2.6l5.5 2l5.6 1l5.6 .1l5.6-.7l5.5-1.5l5.6-1.4l5.6-.6l5.6 1.1l5.5 4l5.6 6.1l5.6 6.5l5.6 6l5.5 5.8l5.6 5l5.6 4.8l5.6 4l5.5 3.7l5.6 3.2l5.6 3l5.5 2.7l5.6 2.5l5.6 2.2l5.6 2l5.5 1.7l5.6 1.7l5.6 1.6l5.6 1.7l2 .6"/>
<path class="p" d="M133.3 43.9l2 1.7l5.6 4.9l5.5 4.4l5.6 4l5.6 3.8l5.6 3.6l5.5 3.6l5.6 3.6l5.6 3.5l5.6 3.1l5.5 2.8l5.6 2.1l5.6 1.7l5.6 1.2l5.5 .6l5.6-.4l5.6-1.6l5.6-2.4l5.5-2.1l5.6-1.6l5.6-.2l5.6 1.6l5.5 4.5l5.6 6.8l5.6 9.2l5.6 9.9l5.5 8.9l5.6 7.4l5.6 6.2l5.6 4.8l5.5 3.8l5.6 3.6l5.6 3.2l5.5 2.8l5.6 2.3l5.6 2l5.6 1.6l5.5 1.3l5.6 1.1l5.6 1.1l5.6 1.1l2 .3"/>
<path class="c" d="M133.3 44.0l2 1.8l5.6 4.8l5.5 4.4l5.6 4l5.6 3.8l5.6 3.6l5.5 3.6l5.6 3.6l5.6 3.4l5.6 3.2l5.5 2.7l5.6 2.1l5.6 1.7l5.6 1.2l5.5 .5l5.6-.5l5.6-1.7l5.6-2.4l5.5-2.3l5.6-1.7l5.6-.3l5.6 1.5l5.5 4.5l5.6 6.8l5.6 9.2l5.6 10.2l5.5 9l5.6 7.8l5.6 6.3l5.6 5l5.5 4.1l5.6 3.8l5.6 3.3l5.5 2.9l5.6 2.4l5.6 2l5.6 1.6l5.5 1.3l5.6 1.2l5.6 1.1l5.6 1.1l2 .4"/>
<path class="p" d="M133.3 48.0l2 1.6l5.6 4.3l5.5 4.1l5.6 4l5.6 4l5.6 4.1l5.5 4.2l5.6 4.5l5.6 4.7l5.6 4.8l5.5 4.7l5.6 4.4l5.6 4.3l5.6 3.8l5.5 3.2l5.6 2.3l5.6 1.6l5.6 .7l5.5-.1l5.6-.3l5.6 .3l5.6 1.9l5.5 4.6l5.6 6.6l5.6 6.8l5.6 6.1l5.5 5.8l5.6 4.8l5.6 4.3l5.6 3.5l5.5 2.8l5.6 2.3l5.6 1.8l5.5 1.3l5.6 .8l5.6 .5l5.6 .2l5.5 .1l5.6 .2l5.6 .4l5.6 .8l2 .3"/>
<path class="c" d="M133.3 48.1l2 1.6l5.6 4.3l5.5 4.2l5.6 4l5.6 4.1l5.6 4.1l5.5 4.4l5.6 4.6l5.6 4.9l5.6 5l5.5 5.1l5.6 4.8l5.6 4.7l5.6 4.2l5.5 3.4l5.6 2.7l5.6 1.8l5.6 .8l5.5-.1l5.6-.4l5.6 .2l5.6 1.8l5.5 4.5l5.6 6.5l5.6 6.5l5.6 5.5l5.5 5.3l5.6 4.4l5.6 3.9l5.6 3.1l5.5 2.3l5.6 1.8l5.6 1.2l5.5 .7l5.6 .2l5.6-.3l5.6-.4l5.5 .5l5.6 .7l5.6 .8l5.6 1l2 .3"/>
<path class="p" d="M133.3 44.2l2 2.4l5.6 6.5l5.5 6l5.6 5.6l5.6 5.1l5.6 4.8l5.5 4.7l5.6 4.6l5.6 4.3l5.6 4l5.5 3.5l5.6 2.7l5.6 2l5.6 1.3l5.5 .5l5.6-.5l5.6-1.4l5.6-2.2l5.5-2.5l5.6-2.1l5.6-1l5.6 .7l5.5 3.7l5.6 5.8l5.6 8.1l5.6 9.2l5.5 7.9l5.6 6.7l5.6 5.5l5.6 4.5l5.5 3.6l5.6 3.3l5.6 2.7l5.5 2.3l5.6 2l5.6 1.6l5.6 1.4l5.5 1.1l5.6 1.1l5.6 1l5.6 1.1l2 .4"/>
<path class="c" d="M133.3 44.4l2 2.4l5.6 6.6l5.5 6l5.6 5.5l5.6 5.3l5.6 5l5.5 4.8l5.6 4.8l5.6 4.6l5.6 4.2l5.5 3.9l5.6 3.1l5.6 2.4l5.6 1.7l5.5 .8l5.6-.1l5.6-1l5.6-1.7l5.5-2.2l5.6-1.8l5.6-.9l5.6 1.1l5.5 4.1l5.6 6.3l5.6 8l5.6 8.3l5.5 7.2l5.6 6l5.6 5.1l5.6 4.1l5.5 3.5l5.6 3l5.6 2.4l5.5 2.1l5.6 1.7l5.6 1.9l5.6 2l5.5 1.9l5.6 1.7l5.6 1.6l5.6 1.4l2 .5"/>
<path class="p" d="M133.3 42.7l2 2.3l5.6 6.5l5.5 6l5.6 5.7l5.6 5.4l5.6 5.4l5.5 5.3l5.6 5.4l5.6 5.3l5.6 5.2l5.5 4.7l5.6 4.1l5.6 3.4l5.6 2.5l5.5 1.5l5.6 .4l5.6-.9l5.6-2.1l5.5-3l5.6-2.8l5.6-1.4l5.6 1.2l5.5 4.7l5.6 7l5.6 7.9l5.6 6.7l5.5 5.9l5.6 5l5.6 4.2l5.6 3.6l5.5 2.9l5.6 2.5l5.6 2l5.5 1.7l5.6 1.4l5.6 1.2l5.6 1l5.5 .7l5.6 .8l5.6 .8l5.6 .9l2 .3"/>
<path class="c" d="M133.3 42.9l2 2.4l5.6 6.4l5.5 6l5.6 5.7l5.6 5.5l5.6 5.3l5.5 5.2l5.6 5.3l5.6 5.1l5.6 4.8l5.5 4.4l5.6 3.7l5.6 2.9l5.6 1.9l5.5 .9l5.6-.3l5.6-1.6l5.6-2.9l5.5-3.6l5.6-3.4l5.6-1.9l5.6 .5l5.5 3.8l5.6 6.1l5.6 7.8l5.6 8.2l5.5 7l5.6 5.8l5.6 4.5l5.6 3.4l5.5 2.4l5.6 2.1l5.6 1.6l5.5 1.2l5.6 1l5.6 .8l5.6 .5l5.5 .3l5.6 .2l5.6 .4l5.6 .5l2 .2"/>
<path class="p" d="M133.3 39.3l2 2l5.6 5.5l5.5 4.8l5.6 4.4l5.6 4.1l5.6 3.9l5.5 3.7l5.6 3.7l5.6 3.5l5.6 3.1l5.5 2.7l5.6 2l5.6 1.4l5.6 1.1l5.5 .3l5.6-.8l5.6-2.1l5.6-3l5.5-2.9l5.6-2.2l5.6-.9l5.6 .7l5.5 3.7l5.6 5.7l5.6 7.3l5.6 6.9l5.5 6.1l5.6 5.2l5.6 3.7l5.6 1.3l5.5-.6l5.6-.1l5.6-.3l5.5-.3l5.6-.4l5.6-.3l5.6-.6l5.5-.6l5.6-.8l5.6-.8l5.6-.9l2-.3"/>
<path class="c" d="M133.3 39.4l2 1.9l5.6 5.5l5.5 4.8l5.6 4.4l5.6 4.1l5.6 3.9l5.5 3.7l5.6 3.7l5.6 3.5l5.6 3.1l5.5 2.7l5.6 2l5.6 1.5l5.6 1l5.5 .3l5.6-.7l5.6-2.2l5.6-3l5.5-2.8l5.6-2.2l5.6-.9l5.6 .8l5.5 3.7l5.6 5.7l5.6 7.3l5.6 7.1l5.5 6.3l5.6 5.4l5.6 3.9l5.6 1.7l5.5 0l5.6 .5l5.6 .4l5.5 .4l5.6 .4l5.6 .5l5.6 .2l5.5 0l5.6-.1l5.6-.2l5.6-.4l2-.2"/>
<path class="p" d="M133.3 48.4l2 1.8l5.6 4.9l5.5 4.4l5.6 4l5.6 3.9l5.6 3.6l5.5 3.7l5.6 3.6l5.6 3.5l5.6 3.2l5.5 2.8l5.6 2.1l5.6 1.6l5.6 .9l5.5 .2l5.6-1.1l5.6-2.7l5.6-3.8l5.5-3.8l5.6-2.9l5.6-1.3l5.6 .9l5.5 4.2l5.6 6.4l5.6 8.5l5.6 9l5.5 7.8l5.6 6.3l5.6 4.8l5.6 3l5.5 1.5l5.6 1.7l5.6 1.4l5.5 1.1l5.6 1.1l5.6 .9l5.6 .6l5.5 .3l5.6 .2l5.6 .2l5.6 .1l2 .1"/>
<path class="c" d="M133.3 48.3l2 1.8l5.6 4.9l5.5 4.5l5.6 4l5.6 3.8l5.6 3.6l5.5 3.7l5.6 3.6l5.6 3.6l5.6 3.3l5.5 3l5.6 2.3l5.6 1.8l5.6 1.3l5.5 .4l5.6-.7l5.6-2.3l5.6-3.6l5.5-3.7l5.6-2.9l5.6-1.1l5.6 1.4l5.5 5.1l5.6 7.7l5.6 10.1l5.6 10.5l5.5 8.8l5.6 7l5.6 5.6l5.6 4.1l5.5 3.3l5.6 2.9l5.6 2.5l5.5 2.2l5.6 1.9l5.6 1.6l5.6 1.2l5.5 1l5.6 .9l5.6 .8l5.6 .9l2 .3"/>
<path class="p" d="M133.3 39.3l2 1.9l5.6 5.6l5.5 4.9l5.6 4.5l5.6 4.2l5.6 4l5.5 3.9l5.6 3.9l5.6 3.8l5.6 3.7l5.5 3.3l5.6 2.9l5.6 2.6l5.6 2.4l5.5 1.8l5.6 1l5.6-.1l5.6-.8l5.5-1.1l5.6-.5l5.6 1l5.6 3.4l5.5 7l5.6 9.5l5.6 10.4l5.6 8.8l5.5 7.5l5.6 6.4l5.6 5.8l5.6 5.2l5.5 4.8l5.6 4.4l5.6 4.2l5.5 4l5.6 3.8l5.6 3.7l5.6 3.4l5.5 3.1l5.6 2.9l5.6 2.6l5.6 2.4l2 .8"/>
<path class="c" d="M133.3 39.3l2 2l5.6 5.5l5.5 4.9l5.6 4.5l5.6 4.2l5.6 4l5.5 3.9l5.6 3.9l5.6 3.8l5.6 3.5l5.5 3.3l5.6 2.7l5.6 2.3l5.6 2.1l5.5 1.4l5.6 .6l5.6-.6l5.6-1.4l5.5-1.4l5.6-.9l5.6 .6l5.6 3.2l5.5 6.9l5.6 9.5l5.6 11l5.6 10l5.5 7.8l5.6 6.9l5.6 6.1l5.6 5.6l5.5 5.1l5.6 4.7l5.6 4.6l5.5 4.4l5.6 4.1l5.6 4.1l5.6 3.8l5.5 3.4l5.6 3.2l5.6 2.9l5.6 2.5l2 .9"/>
<path class="p" d="M133.3 56.7l2 2.2l5.6 6.1l5.5 5.6l5.6 5.3l5.6 5l5.6 4.9l5.5 4.9l5.6 4.9l5.6 4.8l5.6 4.5l5.5 3.9l5.6 3.1l5.6 2.3l5.6 1.6l5.5 .4l5.6-1.2l5.6-2.7l5.6-4.4l5.5-5.4l5.6-5l5.6-3.5l5.6-1.2l5.5 2.1l5.6 4.3l5.6 6.4l5.6 7.3l5.5 5.9l5.6 4.4l5.6 2.7l5.6 .8l5.5-1l5.6-1.2l5.6-1.5l5.5-1.8l5.6-1.8l5.6-1.8l5.6-1.9l5.5-1.9l5.6-1.8l5.6-1.6l5.6-1.2l2-.4"/>
<path class="c" d="M133.3 56.6l2 2.2l5.6 6.1l5.5 5.6l5.6 5.3l5.6 5l5.6 4.9l5.5 5l5.6 5l5.6 4.9l5.6 4.5l5.5 4l5.6 3.2l5.6 2.5l5.6 1.7l5.5 .8l5.6-.8l5.6-2.3l5.6-3.9l5.5-4.8l5.6-4.6l5.6-3.1l5.6-.6l5.5 2.7l5.6 5l5.6 6.7l5.6 7.4l5.5 6.3l5.6 4.9l5.6 3.5l5.6 2l5.5 .6l5.6 .2l5.6-.4l5.5-.8l5.6-.9l5.6-1.1l5.6-1.4l5.5-1.4l5.6-1.2l5.6-1.1l5.6-.6l2-.2"/>
<path class="p" d="M133.3 50.1l2 2.3l5.6 6.3l5.5 5.9l5.6 5.4l5.6 5.2l5.6 5.2l5.5 5.1l5.6 5.3l5.6 5.4l5.6 5.1l5.5 4.7l5.6 4l5.6 3.3l5.6 2.7l5.5 1.9l5.6 .5l5.6-.7l5.6-2.2l5.5-3.1l5.6-3.1l5.6-1.9l5.6 .3l5.5 3.6l5.6 6l5.6 6.6l5.6 6.1l5.5 5.4l5.6 4.8l5.6 4l5.6 3.4l5.5 2.8l5.6 2.3l5.6 1.9l5.5 1.5l5.6 1.2l5.6 .9l5.6 .7l5.5 .5l5.6 .6l5.6 .6l5.6 .8l2 .2"/>
<path class="c" d="M133.3 50.1l2 2.3l5.6 6.3l5.5 5.8l5.6 5.5l5.6 5.1l5.6 5.1l5.5 5.1l5.6 5.2l5.6 5.2l5.6 5l5.5 4.6l5.6 4l5.6 3.2l5.6 2.6l5.5 1.8l5.6 .5l5.6-.8l5.6-2.1l5.5-3.1l5.6-3.1l5.6-1.9l5.6 .3l5.5 3.5l5.6 5.9l5.6 6.5l5.6 6.2l5.5 5.6l5.6 4.8l5.6 4l5.6 3.3l5.5 2.6l5.6 2.1l5.6 1.5l5.5 1.2l5.6 .9l5.6 .6l5.6 .4l5.5 .1l5.6 .1l5.6 .3l5.6 .6l2 .2"/>
<path class="p" d="M133.3 43.0l2 2l5.6 5.6l5.5 4.9l5.6 4.5l5.6 4.2l5.6 3.9l5.5 3.8l5.6 3.8l5.6 3.6l5.6 3.3l5.5 2.8l5.6 2.1l5.6 1.7l5.6 1.1l5.5 .5l5.6-.6l5.6-1.8l5.6-2.6l5.5-2.6l5.6-2l5.6-.7l5.6 1.1l5.5 4.1l5.6 6.2l5.6 8.7l5.6 9.1l5.5 7.9l5.6 6.6l5.6 5.1l5.6 3.6l5.5 2.4l5.6 2.3l5.6 2l5.5 1.7l5.6 1.5l5.6 1.3l5.6 1l5.5 .7l5.6 .6l5.6 .5l5.6 .5l2 .2"/>
<path class="c" d="M133.3 43.2l2 2l5.6 5.5l5.5 5l5.6 4.5l5.6 4.2l5.6 3.9l5.5 3.9l5.6 3.8l5.6 3.6l5.6 3.2l5.5 2.8l5.6 2.2l5.6 1.5l5.6 1.1l5.5 .3l5.6-.6l5.6-2l5.6-2.7l5.5-2.7l5.6-2.2l5.6-.9l5.6 .8l5.5 3.8l5.6 5.8l5.6 8.1l5.6 8.6l5.5 7.6l5.6 6.4l5.6 5l5.6 3.2l5.5 2l5.6 2.1l5.6 1.9l5.5 1.7l5.6 1.5l5.6 1.4l5.6 1l5.5 .8l5.6 .6l5.6 .6l5.6 .4l2 .1"/>
<path class="p" d="M133.3 41.3l2 2.2l5.6 6.1l5.5 5.8l5.6 5.6l5.6 5.6l5.6 5.8l5.5 6l5.6 6.5l5.6 6.7l5.6 6.6l5.5 6.2l5.6 5.7l5.6 5.1l5.6 4.7l5.5 4.3l5.6 2.9l5.6 1.6l5.6 .1l5.5-1.3l5.6-1.2l5.6-.2l5.6 1.9l5.5 5.3l5.6 7.4l5.6 6.9l5.6 5.8l5.5 6.4l5.6 5.6l5.6 6l5.6 5.3l5.5 5l5.6 5.1l5.6 5.2l5.5 5.1l5.6 5.2l5.6 5.2l5.6 4.8l5.5 4.5l5.6 4.3l5.6 4.2l5.6 4.2l2 1.5"/>
<path class="c" d="M133.3 41.5l2 2.2l5.6 6.2l5.5 5.8l5.6 5.6l5.6 5.8l5.6 5.9l5.5 6.2l5.6 6.7l5.6 6.9l5.6 6.7l5.5 6.5l5.6 5.9l5.6 5.3l5.6 5l5.5 4.6l5.6 3.1l5.6 1.7l5.6 .1l5.5-1.2l5.6-1.2l5.6-.3l5.6 1.8l5.5 5.2l5.6 7.3l5.6 6.7l5.6 5.4l5.5 6.2l5.6 5.5l5.6 5.9l5.6 5.3l5.5 5l5.6 5.1l5.6 5.3l5.5 5.1l5.6 5.3l5.6 5.3l5.6 4.8l5.5 4.5l5.6 4.4l5.6 4.3l5.6 4.3l2 1.5"/>
<path class="p" d="M133.3 42.5l2 2.2l5.6 6.4l5.5 5.8l5.6 5.2l5.6 4.9l5.6 4.5l5.5 4.4l5.6 4.2l5.6 3.9l5.6 3.4l5.5 3l5.6 2.1l5.6 1.5l5.6 .9l5.5 0l5.6-.9l5.6-2.1l5.6-3l5.5-2.9l5.6-2.4l5.6-1.1l5.6 .8l5.5 3.8l5.6 5.9l5.6 8.4l5.6 8.8l5.5 7.6l5.6 6.5l5.6 5l5.6 3.6l5.5 2.5l5.6 2.5l5.6 2.2l5.5 2.1l5.6 1.9l5.6 1.7l5.6 1.4l5.5 1.1l5.6 .9l5.6 .9l5.6 .7l2 .3"/>
<path class="c" d="M133.3 42.6l2 2.3l5.6 6.4l5.5 5.7l5.6 5.3l5.6 4.8l5.6 4.5l5.5 4.3l5.6 4.1l5.6 3.8l5.6 3.4l5.5 2.8l5.6 2l5.6 1.3l5.6 .7l5.5-.1l5.6-1.2l5.6-2.4l5.6-3.2l5.5-3.2l5.6-2.7l5.6-1.2l5.6 .6l5.5 3.7l5.6 5.8l5.6 8.1l5.6 8.6l5.5 7.7l5.6 6.4l5.6 5.1l5.6 3.5l5.5 2.3l5.6 2.5l5.6 2.4l5.5 2.2l5.6 2.1l5.6 2l5.6 1.6l5.5 1.3l5.6 1.1l5.6 .9l5.6 .7l2 .3"/>
<path class="p" d="M133.3 51.9l2 2.1l5.6 5.8l5.5 5.3l5.6 5l5.6 4.7l5.6 4.6l5.5 4.5l5.6 4.7l5.6 4.6l5.6 4.3l5.5 3.9l5.6 3.3l5.6 2.5l5.6 1.4l5.5 .5l5.6-.6l5.6-1.7l5.6-2.6l5.5-3.4l5.6-3.2l5.6-2.3l5.6-.6l5.5 2.1l5.6 4.2l5.6 6.5l5.6 7.2l5.5 5.9l5.6 4.7l5.6 3.1l5.6 1.3l5.5-.4l5.6-.7l5.6-1.1l5.5-1.4l5.6-1.5l5.6-1.6l5.6-1.7l5.5-1.8l5.6-1.6l5.6-1.4l5.6-1l2-.4"/>
<path class="c" d="M133.3 51.9l2 2.1l5.6 5.8l5.5 5.3l5.6 5l5.6 4.6l5.6 4.6l5.5 4.5l5.6 4.5l5.6 4.5l5.6 4.2l5.5 3.8l5.6 3l5.6 2.2l5.6 1.2l5.5 .2l5.6-.9l5.6-2l5.6-3l5.5-3.7l5.6-3.5l5.6-2.6l5.6-.9l5.5 1.8l5.6 3.8l5.6 6.2l5.6 7.1l5.5 5.7l5.6 4.3l5.6 2.8l5.6 .6l5.5-1.2l5.6-1.2l5.6-1.5l5.5-1.7l5.6-1.7l5.6-1.8l5.6-1.8l5.5-1.9l5.6-1.7l5.6-1.6l5.6-1.3l2-.4"/>
<path class="p" d="M133.3 58.8l2 2.2l5.6 6.3l5.5 6l5.6 5.6l5.6 5.5l5.6 5.6l5.5 5.7l5.6 5.9l5.6 6l5.6 5.7l5.5 5.2l5.6 4.4l5.6 3.9l5.6 4.1l5.5 3.8l5.6 2.1l5.6 .6l5.6-1l5.5-2.3l5.6-2.2l5.6-1.2l5.6 1.1l5.5 4.5l5.6 6.7l5.6 6.1l5.6 5.1l5.5 5.9l5.6 5.2l5.6 5.4l5.6 4.7l5.5 4.4l5.6 4.4l5.6 4.3l5.5 4.2l5.6 4.1l5.6 3.9l5.6 3.5l5.5 3.2l5.6 3.1l5.6 3l5.6 3.2l2 1.1"/>
<path class="c" d="M133.3 58.7l2 2.3l5.6 6.3l5.5 5.9l5.6 5.7l5.6 5.5l5.6 5.5l5.5 5.8l5.6 5.9l5.6 6l5.6 5.7l5.5 5.2l5.6 4.4l5.6 4l5.6 4.2l5.5 3.9l5.6 2.2l5.6 .7l5.6-.9l5.5-2.1l5.6-2l5.6-1l5.6 1.3l5.5 4.7l5.6 6.8l5.6 6.3l5.6 5l5.5 5.9l5.6 5.2l5.6 5.6l5.6 4.9l5.5 4.6l5.6 4.6l5.6 4.6l5.5 4.4l5.6 4.3l5.6 4.2l5.6 3.8l5.5 3.3l5.6 3.3l5.6 3.2l5.6 3.4l2 1.3"/>
<path class="p" d="M133.3 41.7l2 2.2l5.6 6l5.5 5.5l5.6 5.2l5.6 5l5.6 4.9l5.5 5l5.6 5.1l5.6 5.1l5.6 4.9l5.5 4.6l5.6 4.1l5.6 3.6l5.6 2.8l5.5 1.8l5.6 .7l5.6-.7l5.6-2l5.5-3l5.6-2.6l5.6-1.1l5.6 1.8l5.5 5.5l5.6 8.1l5.6 8.8l5.6 8l5.5 6.8l5.6 5.8l5.6 5l5.6 4.4l5.5 3.9l5.6 3.5l5.6 3.2l5.5 2.9l5.6 2.6l5.6 2.5l5.6 2.3l5.5 2l5.6 1.9l5.6 1.8l5.6 1.6l2 .6"/>
<path class="c" d="M133.3 41.9l2 2.1l5.6 6l5.5 5.6l5.6 5.2l5.6 5l5.6 4.9l5.5 5l5.6 5.2l5.6 5.1l5.6 5.1l5.5 4.8l5.6 4.3l5.6 3.9l5.6 3.2l5.5 2.3l5.6 1.2l5.6 .1l5.6-1.1l5.5-2l5.6-1.8l5.6-.2l5.6 2.4l5.5 6l5.6 8.3l5.6 8.5l5.6 7.3l5.5 6.6l5.6 5.7l5.6 5.2l5.6 4.6l5.5 4.1l5.6 3.8l5.6 3.6l5.5 3.4l5.6 3.1l5.6 3l5.6 2.7l5.5 2.4l5.6 2.3l5.6 2.1l5.6 2.1l2 .8"/>
<path class="p" d="M133.3 46.2l2 2.1l5.6 5.8l5.5 5.3l5.6 4.9l5.6 4.6l5.6 4.5l5.5 4.4l5.6 4.5l5.6 4.4l5.6 4.1l5.5 3.7l5.6 3.1l5.6 2.5l5.6 1.7l5.5 .8l5.6-.4l5.6-1.7l5.6-3l5.5-3.5l5.6-3l5.6-1.4l5.6 1l5.5 4.4l5.6 6.7l5.6 8.7l5.6 9.2l5.5 7.8l5.6 6.3l5.6 5l5.6 3.9l5.5 3l5.6 2.6l5.6 2.2l5.5 1.9l5.6 1.6l5.6 1.3l5.6 1l5.5 .8l5.6 .7l5.6 .8l5.6 .8l2 .3"/>
<path class="c" d="M133.3 46.4l2 2.1l5.6 5.8l5.5 5.3l5.6 4.9l5.6 4.6l5.6 4.5l5.5 4.4l5.6 4.5l5.6 4.4l5.6 4.2l5.5 3.8l5.6 3.2l5.6 2.6l5.6 1.9l5.5 1l5.6-.1l5.6-1.5l5.6-2.8l5.5-3.3l5.6-2.9l5.6-1.3l5.6 1.4l5.5 4.8l5.6 7.3l5.6 8.9l5.6 9l5.5 7.4l5.6 6l5.6 4.9l5.6 3.9l5.5 3.2l5.6 2.7l5.6 2.2l5.5 1.9l5.6 1.5l5.6 1.3l5.6 1.1l5.5 .8l5.6 .7l5.6 .9l5.6 .9l2 .3"/>
<path class="p" d="M133.3 48.8l2 1.6l5.6 4.5l5.5 4.2l5.6 3.9l5.6 3.8l5.6 3.8l5.5 3.8l5.6 4.1l5.6 4l5.6 3.9l5.5 3.6l5.6 3.1l5.6 2.7l5.6 2.1l5.5 1.4l5.6 .3l5.6-.8l5.6-1.8l5.5-2.3l5.6-1.9l5.6-.8l5.6 1.4l5.5 4.5l5.6 6.7l5.6 8.5l5.6 9.1l5.5 7.7l5.6 6.4l5.6 5.1l5.6 4.2l5.5 3.3l5.6 2.9l5.6 2.4l5.5 2l5.6 1.7l5.6 1.4l5.6 1.2l5.5 .9l5.6 .9l5.6 .9l5.6 1l2 .4"/>
<path class="c" d="M133.3 48.9l2 1.6l5.6 4.6l5.5 4.1l5.6 3.9l5.6 3.8l5.6 3.7l5.5 3.9l5.6 4l5.6 4l5.6 3.9l5.5 3.7l5.6 3.3l5.6 2.8l5.6 2.4l5.5 1.7l5.6 .8l5.6-.2l5.6-1.2l5.5-1.7l5.6-1.4l5.6-.2l5.6 2.1l5.5 5.3l5.6 7.7l5.6 8.7l5.6 8.1l5.5 6.6l5.6 5.5l5.6 4.6l5.6 3.7l5.5 3.2l5.6 2.6l5.6 2.2l5.5 1.8l5.6 1.4l5.6 1.3l5.6 1l5.5 .9l5.6 .9l5.6 .9l5.6 1l2 .4"/>
<path class="p" d="M133.3 46.7l2 1.9l5.6 5.4l5.5 4.8l5.6 4.4l5.6 4l5.6 3.7l5.5 3.7l5.6 3.6l5.6 3.4l5.6 3.1l5.5 2.7l5.6 2l5.6 1.4l5.6 1l5.5 .2l5.6-.9l5.6-2.2l5.6-3.2l5.5-3.2l5.6-2.6l5.6-1.2l5.6 .8l5.5 3.8l5.6 6l5.6 8.1l5.6 8.5l5.5 7.3l5.6 6l5.6 4.4l5.6 2.5l5.5 1l5.6 1.1l5.6 .8l5.5 .5l5.6 .5l5.6 .3l5.6 0l5.5-.2l5.6-.2l5.6-.3l5.6-.2l2-.1"/>
<path class="c" d="M133.3 46.7l2 2l5.6 5.4l5.5 4.9l5.6 4.3l5.6 4l5.6 3.8l5.5 3.7l5.6 3.6l5.6 3.5l5.6 3.2l5.5 2.7l5.6 2.1l5.6 1.5l5.6 1l5.5 .2l5.6-.8l5.6-2.1l5.6-2.9l5.5-3l5.6-2.3l5.6-1l5.6 .9l5.5 4.1l5.6 6.3l5.6 8.6l5.6 9.3l5.5 8.1l5.6 6.8l5.6 5.4l5.6 3.9l5.5 2.8l5.6 2.7l5.6 2.5l5.5 2.3l5.6 2l5.6 1.8l5.6 1.4l5.5 1.1l5.6 .9l5.6 .9l5.6 .8l2 .2"/>
<path class="p" d="M133.3 53.9l2 2.1l5.6 5.6l5.5 5.1l5.6 4.5l5.6 4.2l5.6 3.7l5.5 3.4l5.6 3.2l5.6 3.1l5.6 2.7l5.5 2.3l5.6 1.6l5.6 1l5.6 .4l5.5-.3l5.6-1.3l5.6-2.5l5.6-3.3l5.5-3.4l5.6-2.8l5.6-1.3l5.6 .7l5.5 3.9l5.6 6l5.6 8.4l5.6 9.6l5.5 8.4l5.6 7.1l5.6 5.7l5.6 4.3l5.5 3.3l5.6 3.2l5.6 2.9l5.5 2.6l5.6 2.3l5.6 2l5.6 1.6l5.5 1.3l5.6 1.1l5.6 1l5.6 1l2 .3"/>
<path class="c" d="M133.3 53.9l2 2l5.6 5.7l5.5 5l5.6 4.7l5.6 4.2l5.6 4l5.5 3.7l5.6 3.6l5.6 3.5l5.6 3.2l5.5 2.8l5.6 2.3l5.6 1.6l5.6 1l5.5 .2l5.6-.6l5.6-1.8l5.6-2.7l5.5-2.9l5.6-2.3l5.6-1l5.6 1.3l5.5 4.6l5.6 7l5.6 9l5.6 9.5l5.5 8l5.6 6.6l5.6 5.4l5.6 4.4l5.5 3.7l5.6 3.1l5.6 2.6l5.5 2.2l5.6 1.9l5.6 1.5l5.6 1.3l5.5 1.1l5.6 1.1l5.6 1.1l5.6 1.1l2 .4"/>
<path class="p" d="M133.3 39.2l2 2l5.6 5.5l5.5 4.9l5.6 4.5l5.6 4.2l5.6 3.9l5.5 3.9l5.6 3.8l5.6 3.7l5.6 3.5l5.5 3.1l5.6 2.6l5.6 2.1l5.6 1.9l5.5 1.3l5.6 .3l5.6-.9l5.6-1.7l5.5-1.8l5.6-1.2l5.6 .2l5.6 2.4l5.5 5.7l5.6 8.2l5.6 10.2l5.6 10.2l5.5 8.4l5.6 6.8l5.6 5.5l5.6 4.5l5.5 3.6l5.6 3.1l5.6 2.6l5.5 2.1l5.6 1.8l5.6 1.5l5.6 1.2l5.5 1.2l5.6 1l5.6 1.1l5.6 1.2l2 .4"/>
<path class="c" d="M133.3 39.2l2 2l5.6 5.5l5.5 5l5.6 4.4l5.6 4.2l5.6 3.9l5.5 3.9l5.6 3.8l5.6 3.7l5.6 3.4l5.5 3.1l5.6 2.5l5.6 2l5.6 1.8l5.5 1l5.6 .1l5.6-1.1l5.6-2l5.5-2l5.6-1.4l5.6 .1l5.6 2.1l5.5 5.6l5.6 7.9l5.6 10.2l5.6 10.6l5.5 8.9l5.6 7.2l5.6 5.8l5.6 4.7l5.5 3.8l5.6 3.2l5.6 2.7l5.5 2.2l5.6 1.9l5.6 1.5l5.6 1.3l5.5 1.1l5.6 1.1l5.6 1.1l5.6 1.2l2 .4"/>
<path class="p" d="M133.3 52.0l2 2.4l5.6 6.5l5.5 6.1l5.6 5.8l5.6 5.6l5.6 5.6l5.5 5.6l5.6 5.8l5.6 5.7l5.6 5.6l5.5 5l5.6 4.2l5.6 3.7l5.6 3.3l5.5 2.7l5.6 1.2l5.6-.3l5.6-1.9l5.5-3.1l5.6-2.9l5.6-1.9l5.6 .5l5.5 3.7l5.6 5.9l5.6 6.1l5.6 5.1l5.5 4.8l5.6 3.8l5.6 3.3l5.6 2.5l5.5 1.9l5.6 1.3l5.6 1.6l5.5 1.5l5.6 1.2l5.6 1l5.6 .8l5.5 .6l5.6 .7l5.6 .7l5.6 .9l2 .3"/>
<path class="c" d="M133.3 52.0l2 2.3l5.6 6.5l5.5 6.1l5.6 5.8l5.6 5.6l5.6 5.5l5.5 5.6l5.6 5.7l5.6 5.7l5.6 5.5l5.5 5l5.6 4.2l5.6 3.6l5.6 3.3l5.5 2.6l5.6 1l5.6-.5l5.6-2.3l5.5-3.5l5.6-3.4l5.6-2.2l5.6 .4l5.5 3.9l5.6 6.3l5.6 6.4l5.6 5.5l5.5 4.8l5.6 3.9l5.6 3.1l5.6 2.4l5.5 1.9l5.6 2.2l5.6 1.8l5.5 1.4l5.6 1.2l5.6 .9l5.6 .8l5.5 .5l5.6 .6l5.6 .6l5.6 .9l2 .3"/>
<path class="p" d="M133.3 43.3l2 2.2l5.6 6l5.5 5.4l5.6 5.1l5.6 4.9l5.6 4.7l5.5 4.8l5.6 4.8l5.6 4.8l5.6 4.7l5.5 4.4l5.6 3.9l5.6 3.5l5.6 2.8l5.5 2.1l5.6 1.3l5.6 .4l5.6-.4l5.5-1.1l5.6-.9l5.6 .3l5.6 2.3l5.5 5.5l5.6 7.7l5.6 8.2l5.6 6.8l5.5 6.3l5.6 5.5l5.6 5l5.6 4.4l5.5 3.9l5.6 3.5l5.6 3.3l5.5 3l5.6 2.7l5.6 2.6l5.6 2.3l5.5 2l5.6 1.9l5.6 1.8l5.6 1.8l2 .6"/>
<path class="c" d="M133.3 43.5l2 2.2l5.6 6l5.5 5.5l5.6 5.1l5.6 4.9l5.6 4.8l5.5 4.8l5.6 4.8l5.6 4.8l5.6 4.7l5.5 4.3l5.6 3.8l5.6 3.2l5.6 2.5l5.5 1.7l5.6 .8l5.6-.2l5.6-1.2l5.5-1.8l5.6-1.6l5.6-.6l5.6 1.5l5.5 4.5l5.6 6.9l5.6 7.7l5.6 7.1l5.5 6.2l5.6 5.2l5.6 4.5l5.6 3.7l5.5 3.2l5.6 2.6l5.6 2.2l5.5 1.9l5.6 1.5l5.6 1.3l5.6 1.1l5.5 1l5.6 1l5.6 1l5.6 1.1l2 .4"/>
<path class="p" d="M133.3 47.7l2 2.3l5.6 6.4l5.5 5.9l5.6 5.6l5.6 5.3l5.6 5.2l5.5 5.2l5.6 5.3l5.6 5.3l5.6 5.1l5.5 4.7l5.6 4.2l5.6 3.5l5.6 2.8l5.5 2l5.6 .9l5.6-.4l5.6-1.7l5.5-2.7l5.6-2.7l5.6-1.5l5.6 .8l5.5 4l5.6 6.4l5.6 7l5.6 6.2l5.5 5.3l5.6 4.4l5.6 3.7l5.6 3.3l5.5 2.9l5.6 2.5l5.6 2l5.5 1.7l5.6 1.4l5.6 1.2l5.6 1l5.5 .8l5.6 .9l5.6 .9l5.6 1l2 .3"/>
<path class="c" d="M133.3 47.9l2 2.3l5.6 6.3l5.5 5.9l5.6 5.6l5.6 5.2l5.6 5.2l5.5 5.1l5.6 5.2l5.6 5.1l5.6 5l5.5 4.6l5.6 4l5.6 3.3l5.6 2.7l5.5 1.8l5.6 .7l5.6-.3l5.6-1.6l5.5-2.4l5.6-2.3l5.6-1.2l5.6 1l5.5 4.2l5.6 6.5l5.6 7.1l5.6 6.3l5.5 5.5l5.6 4.7l5.6 4l5.6 3.3l5.5 2.8l5.6 2.2l5.6 1.8l5.5 1.7l5.6 1.5l5.6 1.2l5.6 1l5.5 .9l5.6 .9l5.6 1l5.6 1.1l2 .3"/>
<path class="p" d="M133.3 43.6l2 2l5.6 5.4l5.5 4.9l5.6 4.5l5.6 4.3l5.6 4.1l5.5 4.1l5.6 4l5.6 3.9l5.6 3.7l5.5 3.2l5.6 2.6l5.6 2l5.6 1.4l5.5 .6l5.6-.4l5.6-1.8l5.6-2.8l5.5-2.9l5.6-2.4l5.6-1.2l5.6 .8l5.5 3.9l5.6 6l5.6 8.3l5.6 8.2l5.5 6.7l5.6 5.4l5.6 3.8l5.6 1.9l5.5 .2l5.6 .2l5.6-.2l5.5-.5l5.6-.6l5.6-.7l5.6-1l5.5-1.1l5.6-1l5.6-.9l5.6-.7l2-.3"/>
<path class="c" d="M133.3 43.7l2 2l5.6 5.4l5.5 4.9l5.6 4.5l5.6 4.2l5.6 4l5.5 3.9l5.6 3.8l5.6 3.7l5.6 3.4l5.5 2.9l5.6 2.2l5.6 1.5l5.6 1.1l5.5 .1l5.6-.9l5.6-2.2l5.6-3.2l5.5-3.3l5.6-2.6l5.6-1.4l5.6 .4l5.5 3.4l5.6 5.4l5.6 7.3l5.6 7.2l5.5 6.2l5.6 5l5.6 3.3l5.6 1.1l5.5-.9l5.6-.7l5.6-.9l5.5-1.1l5.6-1.2l5.6-1.2l5.6-1.4l5.5-1.5l5.6-1.4l5.6-1.4l5.6-1.3l2-.4"/>
<path class="p" d="M133.3 49.8l2 2.4l5.6 6.7l5.5 6l5.6 5.6l5.6 5.3l5.6 5.3l5.5 5.3l5.6 5.4l5.6 5.4l5.6 5.3l5.5 4.8l5.6 4.2l5.6 3.5l5.6 3.2l5.5 2.4l5.6 1.4l5.6 .5l5.6-.6l5.5-1.3l5.6-1.4l5.6-.8l5.6 .8l5.5 3.4l5.6 5.4l5.6 5.8l5.6 5.5l5.5 5.4l5.6 4.7l5.6 4.4l5.6 3.7l5.5 3.2l5.6 2.8l5.6 2.5l5.5 2.1l5.6 1.9l5.6 1.6l5.6 1.3l5.5 1.2l5.6 1.1l5.6 1.2l5.6 1.3l2 .5"/>
<path class="c" d="M133.3 50.0l2 2.4l5.6 6.6l5.5 6.1l5.6 5.6l5.6 5.3l5.6 5.4l5.5 5.4l5.6 5.6l5.6 5.6l5.6 5.4l5.5 5l5.6 4.3l5.6 3.7l5.6 3.4l5.5 2.8l5.6 1.5l5.6 .5l5.6-.7l5.5-1.7l5.6-1.7l5.6-.9l5.6 .7l5.5 3.8l5.6 5.7l5.6 6l5.6 5.2l5.5 5.3l5.6 4.5l5.6 4.1l5.6 3.5l5.5 2.9l5.6 2.6l5.6 2.1l5.5 1.8l5.6 1.5l5.6 1.3l5.6 1l5.5 .8l5.6 .9l5.6 .9l5.6 1.2l2 .4"/>
<path class="p" d="M133.3 42.8l2 2.3l5.6 6.4l5.5 5.9l5.6 5.6l5.6 5.4l5.6 5.3l5.5 5.4l5.6 5.5l5.6 5.5l5.6 5.4l5.5 5.2l5.6 4.6l5.6 4l5.6 3.2l5.5 2.6l5.6 1.8l5.6 .9l5.6-.2l5.5-1.1l5.6-1l5.6-.1l5.6 2.1l5.5 5.2l5.6 7.5l5.6 7.6l5.6 6.5l5.5 6.5l5.6 5.7l5.6 5.6l5.6 5l5.5 4.6l5.6 4.6l5.6 4.5l5.5 4.4l5.6 4.3l5.6 4.3l5.6 3.9l5.5 3.6l5.6 3.4l5.6 3.2l5.6 3.2l2 1.1"/>
<path class="c" d="M133.3 43.0l2 2.3l5.6 6.4l5.5 5.9l5.6 5.6l5.6 5.4l5.6 5.3l5.5 5.3l5.6 5.4l5.6 5.4l5.6 5.2l5.5 4.9l5.6 4.5l5.6 3.7l5.6 3l5.5 2.3l5.6 1.5l5.6 .7l5.6-.1l5.5-.9l5.6-.7l5.6 0l5.6 2l5.5 4.9l5.6 7.1l5.6 7.4l5.6 6.6l5.5 6.5l5.6 5.8l5.6 5.6l5.6 5.1l5.5 4.6l5.6 4.5l5.6 4.5l5.5 4.2l5.6 4.2l5.6 4.2l5.6 3.8l5.5 3.5l5.6 3.3l5.6 3.1l5.6 3l2 1"/>
<path class="p" d="M133.3 54.3l2 1.9l5.6 5.2l5.5 4.6l5.6 4.2l5.6 3.8l5.6 3.6l5.5 3.6l5.6 3.8l5.6 3.8l5.6 3.8l5.5 3.5l5.6 3l5.6 2.6l5.6 2l5.5 1.1l5.6-.1l5.6-1.6l5.6-3.2l5.5-4l5.6-3.3l5.6-1.1l5.6 2.1l5.5 6.4l5.6 9.1l5.6 10.1l5.6 9.1l5.5 7l5.6 5.5l5.6 4.6l5.6 3.8l5.5 3.2l5.6 2.7l5.6 2.2l5.5 1.9l5.6 1.5l5.6 1.3l5.6 1.2l5.5 1l5.6 1l5.6 1l5.6 1.1l2 .4"/>
<path class="c" d="M133.3 54.2l2 1.8l5.6 5.2l5.5 4.7l5.6 4.1l5.6 3.7l5.6 3.4l5.5 3.4l5.6 3.7l5.6 3.6l5.6 3.6l5.5 3.3l5.6 2.9l5.6 2.4l5.6 1.9l5.5 1l5.6 0l5.6-1.5l5.6-3l5.5-3.5l5.6-2.8l5.6-.7l5.6 2.6l5.5 6.8l5.6 9.8l5.6 10.7l5.6 9l5.5 7.3l5.6 6l5.6 5.3l5.6 4.6l5.5 4l5.6 3.7l5.6 3.3l5.5 3l5.6 2.8l5.6 2.5l5.6 2.3l5.5 2.1l5.6 1.9l5.6 1.8l5.6 1.7l2 .6"/>
<path class="p" d="M133.3 58.8l2 2.3l5.6 6.3l5.5 5.9l5.6 5.7l5.6 5.4l5.6 5.5l5.5 5.7l5.6 5.7l5.6 5.7l5.6 5.5l5.5 4.8l5.6 3.9l5.6 3.2l5.6 3.2l5.5 2.4l5.6 .6l5.6-1.1l5.6-2.7l5.5-4l5.6-3.9l5.6-3.1l5.6-.9l5.5 2.2l5.6 4.5l5.6 5l5.6 5.3l5.5 4.7l5.6 4.4l5.6 3.9l5.6 3.4l5.5 2.8l5.6 2.4l5.6 1.9l5.5 1.6l5.6 1.4l5.6 1.1l5.6 .9l5.5 .7l5.6 .7l5.6 .8l5.6 .9l2 .3"/>
<path class="c" d="M133.3 58.8l2 2.3l5.6 6.2l5.5 6l5.6 5.6l5.6 5.5l5.6 5.5l5.5 5.6l5.6 5.8l5.6 5.7l5.6 5.5l5.5 4.8l5.6 3.9l5.6 3.4l5.6 3.4l5.5 2.8l5.6 1.1l5.6-.4l5.6-2.1l5.5-3.2l5.6-3.1l5.6-1.9l5.6 .4l5.5 3.9l5.6 6.3l5.6 6.2l5.6 5.5l5.5 5.3l5.6 4.7l5.6 4.4l5.6 3.8l5.5 3.3l5.6 3.1l5.6 2.9l5.5 2.5l5.6 2.3l5.6 2.2l5.6 1.9l5.5 1.7l5.6 1.7l5.6 1.6l5.6 1.7l2 .6"/>
<path class="p" d="M133.3 58.1l2 2.4l5.6 6.4l5.5 6l5.6 5.7l5.6 5.6l5.6 5.6l5.5 5.8l5.6 5.9l5.6 5.9l5.6 5.8l5.5 5.1l5.6 4.4l5.6 3.9l5.6 4.2l5.5 3.8l5.6 2.2l5.6 .6l5.6-.9l5.5-2.2l5.6-2l5.6-1l5.6 1.3l5.5 4.7l5.6 6.9l5.6 6.4l5.6 4.9l5.5 5.7l5.6 5.1l5.6 5.4l5.6 4.6l5.5 4.3l5.6 4.3l5.6 4.3l5.5 4l5.6 4l5.6 3.8l5.6 3.4l5.5 3l5.6 3l5.6 2.9l5.6 3.1l2 1.2"/>
<path class="c" d="M133.3 58.0l2 2.3l5.6 6.5l5.5 6l5.6 5.7l5.6 5.5l5.6 5.6l5.5 5.7l5.6 5.8l5.6 5.9l5.6 5.6l5.5 4.9l5.6 4.2l5.6 3.7l5.6 3.7l5.5 3.2l5.6 1.5l5.6-.1l5.6-1.6l5.5-3l5.6-2.8l5.6-1.8l5.6 .4l5.5 3.8l5.6 6l5.6 6l5.6 5l5.5 5.1l5.6 4.4l5.6 4.2l5.6 3.5l5.5 3l5.6 2.8l5.6 2.5l5.5 2.2l5.6 1.9l5.6 1.7l5.6 1.5l5.5 1.3l5.6 1.3l5.6 1.3l5.6 1.5l2 .5"/>
<path class="p" d="M133.3 53.7l2 2.6l5.6 7.3l5.5 6.8l5.6 6.2l5.6 6l5.6 5.8l5.5 6l5.6 6l5.6 6.1l5.6 5.8l5.5 5.2l5.6 4.5l5.6 3.9l5.6 4.1l5.5 3.7l5.6 2.2l5.6 .6l5.6-.9l5.5-2l5.6-1.9l5.6-1l5.6 1.3l5.5 4.7l5.6 6.7l5.6 6.3l5.6 5.1l5.5 6l5.6 5.4l5.6 5.7l5.6 5.1l5.5 4.8l5.6 4.9l5.6 5.1l5.5 5l5.6 5.1l5.6 5.1l5.6 4.7l5.5 4.4l5.6 4.2l5.6 4.2l5.6 4.2l2 1.4"/>
<path class="c" d="M133.3 53.6l2 2.6l5.6 7.3l5.5 6.7l5.6 6.3l5.6 5.9l5.6 5.9l5.5 6l5.6 6l5.6 6l5.6 5.8l5.5 5.2l5.6 4.4l5.6 3.9l5.6 4.1l5.5 3.7l5.6 2l5.6 .5l5.6-1l5.5-2.2l5.6-2.1l5.6-1.1l5.6 1.2l5.5 4.6l5.6 6.8l5.6 6.3l5.6 5.2l5.5 5.9l5.6 5.3l5.6 5.5l5.6 5l5.5 4.6l5.6 4.7l5.6 4.8l5.5 4.6l5.6 4.7l5.6 4.7l5.6 4.3l5.5 4.1l5.6 3.8l5.6 3.8l5.6 3.7l2 1.4"/>
<path class="p" d="M133.3 50.7l2 2.3l5.6 6.6l5.5 6l5.6 5.5l5.6 5.1l5.6 5l5.5 4.9l5.6 4.8l5.6 4.8l5.6 4.3l5.5 3.8l5.6 3.2l5.6 2.2l5.6 1.3l5.5 .1l5.6-1l5.6-2l5.6-3.1l5.5-3.6l5.6-3.3l5.6-2.1l5.6-.2l5.5 2.9l5.6 5.1l5.6 7.2l5.6 8.1l5.5 7l5.6 5.7l5.6 4.5l5.6 3.2l5.5 2.2l5.6 1.8l5.6 1.4l5.5 1.1l5.6 .9l5.6 .6l5.6 .4l5.5 .2l5.6 .1l5.6 .2l5.6 .4l2 .2"/>
<path class="c" d="M133.3 50.8l2 2.4l5.6 6.5l5.5 6l5.6 5.5l5.6 5.2l5.6 5.1l5.5 5l5.6 5.1l5.6 4.9l5.6 4.6l5.5 4l5.6 3.3l5.6 2.6l5.6 1.6l5.5 .5l5.6-.7l5.6-1.9l5.6-3l5.5-3.8l5.6-3.6l5.6-2.5l5.6-.4l5.5 2.6l5.6 4.7l5.6 6.8l5.6 7.6l5.5 6.6l5.6 5.3l5.6 4.1l5.6 2.7l5.5 1.6l5.6 1.2l5.6 .7l5.5 .4l5.6 .2l5.6 0l5.6-.2l5.5-.5l5.6-.3l5.6-.3l5.6 0l2 0"/>
<path class="p" d="M133.3 48.4l2 1.8l5.6 5l5.5 4.5l5.6 4.3l5.6 4.1l5.6 4l5.5 4.2l5.6 4.3l5.6 4.4l5.6 4.3l5.5 4l5.6 3.7l5.6 3.3l5.6 2.8l5.5 2l5.6 .8l5.6-.7l5.6-2.3l5.5-3.2l5.6-2.6l5.6-.4l5.6 3.2l5.5 7.7l5.6 10.7l5.6 10.6l5.6 8.1l5.5 6.9l5.6 5.7l5.6 5.1l5.6 4.3l5.5 3.9l5.6 3.5l5.6 3.2l5.5 2.9l5.6 2.7l5.6 2.4l5.6 2.2l5.5 1.9l5.6 1.8l5.6 1.7l5.6 1.8l2 .6"/>
<path class="c" d="M133.3 48.5l2 1.8l5.6 5l5.5 4.5l5.6 4.2l5.6 4.1l5.6 4l5.5 4l5.6 4.2l5.6 4.1l5.6 4.1l5.5 3.7l5.6 3.2l5.6 2.8l5.6 2.2l5.5 1.4l5.6 .2l5.6-1.3l5.6-2.7l5.5-3.4l5.6-2.7l5.6-.9l5.6 2l5.5 5.9l5.6 8.5l5.6 9.9l5.6 9.1l5.5 7.2l5.6 5.8l5.6 4.7l5.6 3.8l5.5 3.2l5.6 2.7l5.6 2.2l5.5 1.8l5.6 1.5l5.6 1.3l5.6 1.1l5.5 .8l5.6 .9l5.6 .9l5.6 1l2 .4"/>
<path class="p" d="M133.3 44.2l2 2.4l5.6 6.8l5.5 6.3l5.6 5.9l5.6 5.6l5.6 5.3l5.5 5.2l5.6 5.1l5.6 4.9l5.6 4.6l5.5 4.1l5.6 3.5l5.6 2.7l5.6 1.8l5.5 .9l5.6 0l5.6-1l5.6-1.9l5.5-2.4l5.6-2l5.6-.7l5.6 1.6l5.5 4.9l5.6 7.2l5.6 8.1l5.6 7.3l5.5 6.3l5.6 5.6l5.6 5l5.6 4.5l5.5 4l5.6 3.7l5.6 3.4l5.5 3.2l5.6 3.1l5.6 2.9l5.6 2.6l5.5 2.5l5.6 2.3l5.6 2.1l5.6 1.8l2 .7"/>
<path class="c" d="M133.3 44.3l2 2.5l5.6 6.8l5.5 6.2l5.6 5.9l5.6 5.5l5.6 5.3l5.5 5.1l5.6 5l5.6 4.9l5.6 4.5l5.5 4l5.6 3.3l5.6 2.5l5.6 1.7l5.5 .6l5.6-.4l5.6-1.5l5.6-2.7l5.5-3.2l5.6-2.9l5.6-1.4l5.6 1.1l5.5 4.5l5.6 6.8l5.6 8.5l5.6 8.4l5.5 7.2l5.6 6l5.6 5l5.6 4l5.5 3.5l5.6 2.9l5.6 2.4l5.5 2.1l5.6 1.7l5.6 1.4l5.6 1.3l5.5 1.1l5.6 1l5.6 1.1l5.6 1.1l2 .4"/>
<path class="p" d="M133.3 58.6l2 2.3l5.6 6.3l5.5 5.9l5.6 5.7l5.6 5.4l5.6 5.5l5.5 5.6l5.6 5.7l5.6 5.8l5.6 5.4l5.5 4.7l5.6 3.9l5.6 3.2l5.6 3.1l5.5 2.3l5.6 .6l5.6-1.2l5.6-2.8l5.5-3.9l5.6-4l5.6-2.8l5.6-.7l5.5 2.5l5.6 4.8l5.6 5.6l5.6 5l5.5 4.2l5.6 4.3l5.6 3.7l5.6 3.2l5.5 2.6l5.6 2.2l5.6 1.7l5.5 1.3l5.6 1.1l5.6 .8l5.6 .6l5.5 .3l5.6 .4l5.6 .5l5.6 .7l2 .3"/>
<path class="c" d="M133.3 58.5l2 2.3l5.6 6.3l5.5 5.9l5.6 5.7l5.6 5.4l5.6 5.5l5.5 5.6l5.6 5.7l5.6 5.7l5.6 5.4l5.5 4.7l5.6 3.9l5.6 3.2l5.6 3.1l5.5 2.4l5.6 .6l5.6-1.2l5.6-2.9l5.5-4.2l5.6-4.2l5.6-3.2l5.6-.8l5.5 2.4l5.6 4.8l5.6 5.5l5.6 4.8l5.5 4.7l5.6 4.2l5.6 3.6l5.6 3l5.5 2.3l5.6 1.8l5.6 1.2l5.5 .9l5.6 .5l5.6 .3l5.6 0l5.5-.2l5.6-.1l5.6 0l5.6 .4l2 .2"/>
<path class="p" d="M133.3 58.4l2 2.3l5.6 6.5l5.5 6.1l5.6 5.7l5.6 5.6l5.6 5.6l5.5 5.8l5.6 5.9l5.6 6l5.6 5.8l5.5 5.3l5.6 4.4l5.6 4l5.6 4.2l5.5 4l5.6 2.3l5.6 .7l5.6-.9l5.5-2.2l5.6-2l5.6-1.1l5.6 1.2l5.5 4.6l5.6 6.7l5.6 6.1l5.6 4.9l5.5 5.7l5.6 5l5.6 5.3l5.6 4.6l5.5 4.1l5.6 4l5.6 3.9l5.5 3.7l5.6 3.4l5.6 3.2l5.6 2.8l5.5 2.4l5.6 2.3l5.6 2.4l5.6 2.7l2 1"/>
<path class="c" d="M133.3 58.3l2 2.3l5.6 6.5l5.5 6.1l5.6 5.8l5.6 5.5l5.6 5.7l5.5 5.8l5.6 5.9l5.6 6l5.6 5.8l5.5 5.2l5.6 4.5l5.6 4l5.6 4.2l5.5 4l5.6 2.2l5.6 .7l5.6-.8l5.5-2.2l5.6-2.1l5.6-1l5.6 1.2l5.5 4.7l5.6 6.8l5.6 6.3l5.6 5l5.5 5.8l5.6 5.1l5.6 5.5l5.6 4.8l5.5 4.4l5.6 4.4l5.6 4.4l5.5 4.2l5.6 4l5.6 3.9l5.6 3.4l5.5 3.1l5.6 3l5.6 3l5.6 3.2l2 1.1"/>
<path class="p" d="M133.3 40.6l2 2l5.6 5.5l5.5 5l5.6 4.6l5.6 4.3l5.6 4.3l5.5 4.2l5.6 4.4l5.6 4.3l5.6 4.2l5.5 4.1l5.6 3.6l5.6 3.2l5.6 2.9l5.5 2.1l5.6 1.1l5.6-.1l5.6-1.2l5.5-1.8l5.6-1.6l5.6-.3l5.6 1.9l5.5 5l5.6 7.3l5.6 8.5l5.6 8.3l5.5 6.8l5.6 5.7l5.6 4.5l5.6 3.8l5.5 3l5.6 2.5l5.6 2l5.5 1.6l5.6 1.3l5.6 1.1l5.6 .8l5.5 .5l5.6 .6l5.6 .6l5.6 .9l2 .3"/>
<path class="c" d="M133.3 40.8l2 2l5.6 5.5l5.5 5l5.6 4.6l5.6 4.4l5.6 4.3l5.5 4.4l5.6 4.5l5.6 4.5l5.6 4.5l5.5 4.3l5.6 3.9l5.6 3.6l5.6 3.2l5.5 2.4l5.6 1.4l5.6 .3l5.6-.9l5.5-1.7l5.6-1.5l5.6-.2l5.6 2.2l5.5 5.6l5.6 7.9l5.6 8.4l5.6 7.3l5.5 6l5.6 5l5.6 4.2l5.6 3.6l5.5 3l5.6 2.4l5.6 2.1l5.5 1.7l5.6 1.4l5.6 1.1l5.6 1l5.5 .8l5.6 .8l5.6 .8l5.6 1l2 .4"/>
<path class="p" d="M133.3 56.6l2 2.1l5.6 5.7l5.5 5.1l5.6 4.7l5.6 4.4l5.6 4.2l5.5 4.2l5.6 4.2l5.6 4.1l5.6 3.9l5.5 3.5l5.6 2.9l5.6 2.4l5.6 1.5l5.5 .8l5.6-.3l5.6-1.3l5.6-2.6l5.5-3.1l5.6-2.5l5.6-.7l5.6 2.3l5.5 6.2l5.6 8.8l5.6 9.3l5.6 7.6l5.5 6.6l5.6 5.8l5.6 5.2l5.6 4.6l5.5 4.1l5.6 3.9l5.6 3.6l5.5 3.4l5.6 3.2l5.6 3.1l5.6 2.8l5.5 2.5l5.6 2.4l5.6 2.2l5.6 2l2 .7"/>
<path class="c" d="M133.3 56.4l2 2.1l5.6 5.6l5.5 5.2l5.6 4.6l5.6 4.3l5.6 4.1l5.5 3.9l5.6 4l5.6 3.8l5.6 3.6l5.5 3l5.6 2.5l5.6 1.9l5.6 1.1l5.5 .3l5.6-.6l5.6-2l5.6-3.2l5.5-3.6l5.6-3.1l5.6-1.2l5.6 1.7l5.5 5.4l5.6 8.1l5.6 9.5l5.6 9.1l5.5 7.3l5.6 6l5.6 4.8l5.6 4l5.5 3.4l5.6 2.8l5.6 2.4l5.5 2l5.6 1.6l5.6 1.9l5.6 1.7l5.5 1.6l5.6 1.4l5.6 1.4l5.6 1.3l2 .4"/>
<path class="p" d="M133.3 57.6l2 2.3l5.6 6.6l5.5 6l5.6 5.7l5.6 5.5l5.6 5.5l5.5 5.6l5.6 5.6l5.6 5.6l5.6 5.2l5.5 4.5l5.6 3.6l5.6 2.9l5.6 2.6l5.5 1.9l5.6 .1l5.6-1.5l5.6-3.2l5.5-4.2l5.6-4l5.6-2.4l5.6 .6l5.5 4.6l5.6 7.2l5.6 7.7l5.6 7.2l5.5 6.6l5.6 5.7l5.6 5.5l5.6 4.9l5.5 4.5l5.6 4.4l5.6 4.2l5.5 4.2l5.6 4l5.6 4.1l5.6 3.7l5.5 3.4l5.6 3.2l5.6 3l5.6 2.8l2 .9"/>
<path class="c" d="M133.3 57.5l2 2.3l5.6 6.6l5.5 6l5.6 5.8l5.6 5.4l5.6 5.5l5.5 5.7l5.6 5.7l5.6 5.6l5.6 5.4l5.5 4.7l5.6 3.9l5.6 3.3l5.6 3.2l5.5 2.5l5.6 .9l5.6-.6l5.6-2.2l5.5-3.2l5.6-3l5.6-1.8l5.6 .8l5.5 4.3l5.6 6.7l5.6 6.9l5.6 5.9l5.5 6l5.6 5.2l5.6 5.2l5.6 4.6l5.5 4.2l5.6 4.1l5.6 4.1l5.5 4l5.6 3.8l5.6 3.8l5.6 3.5l5.5 3.3l5.6 3l5.6 2.9l5.6 2.8l2 .9"/>
<path class="p" d="M133.3 57.9l2 2.1l5.6 6l5.5 5.6l5.6 5.1l5.6 4.8l5.6 4.8l5.5 4.7l5.6 4.8l5.6 4.8l5.6 4.5l5.5 4.1l5.6 3.4l5.6 2.9l5.6 2.5l5.5 1.8l5.6 .6l5.6-.5l5.6-1.7l5.5-2.6l5.6-2.4l5.6-1.4l5.6 .9l5.5 4.1l5.6 6.5l5.6 6.8l5.6 6.8l5.5 6.2l5.6 5.2l5.6 4.8l5.6 4.1l5.5 3.6l5.6 3.2l5.6 2.8l5.5 2.5l5.6 2.3l5.6 2l5.6 1.7l5.5 1.5l5.6 1.4l5.6 1.4l5.6 1.5l2 .6"/>
<path class="c" d="M133.3 57.8l2 2.2l5.6 6l5.5 5.5l5.6 5.2l5.6 4.9l5.6 4.9l5.5 5l5.6 5.1l5.6 5.1l5.6 5l5.5 4.5l5.6 3.9l5.6 3.5l5.6 3.3l5.5 2.8l5.6 1.6l5.6 .4l5.6-.8l5.5-1.8l5.6-1.7l5.6-.7l5.6 1.5l5.5 4.7l5.6 6.9l5.6 6.7l5.6 5.8l5.5 5.9l5.6 5.3l5.6 5.2l5.6 4.5l5.5 4l5.6 4l5.6 3.8l5.5 3.5l5.6 3.4l5.6 3.2l5.6 2.9l5.5 2.5l5.6 2.4l5.6 2.4l5.6 2.4l2 .9"/>
<path class="p" d="M133.3 48.0l2 1.8l5.6 5l5.5 4.5l5.6 4.3l5.6 4l5.6 4l5.5 4.1l5.6 4.3l5.6 4.3l5.6 4.2l5.5 4l5.6 3.6l5.6 3.3l5.6 2.7l5.5 2.1l5.6 1.2l5.6 .2l5.6-.7l5.5-1.4l5.6-1.2l5.6 .1l5.6 2.6l5.5 5.7l5.6 8l5.6 8.3l5.6 7l5.5 6.2l5.6 5.2l5.6 4.5l5.6 3.8l5.5 3.2l5.6 2.8l5.6 2.2l5.5 1.9l5.6 1.5l5.6 1.3l5.6 1l5.5 .9l5.6 .8l5.6 1l5.6 1.1l2 .4"/>
<path class="c" d="M133.3 48.1l2 1.8l5.6 5.1l5.5 4.5l5.6 4.3l5.6 4.1l5.6 4.1l5.5 4.1l5.6 4.3l5.6 4.3l5.6 4.2l5.5 4l5.6 3.5l5.6 3.1l5.6 2.5l5.5 1.8l5.6 .8l5.6-.3l5.6-1.5l5.5-2l5.6-1.8l5.6-.5l5.6 2.1l5.5 5.6l5.6 7.9l5.6 8.7l5.6 7.6l5.5 6.2l5.6 5.2l5.6 4.5l5.6 3.7l5.5 3.2l5.6 2.6l5.6 2.1l5.5 1.7l5.6 1.4l5.6 1.1l5.6 1.1l5.5 1l5.6 .9l5.6 1l5.6 1.1l2 .4"/>
<path class="p" d="M133.3 45.2l2 2.3l5.6 6.4l5.5 5.9l5.6 5.8l5.6 5.8l5.6 5.8l5.5 5.9l5.6 6l5.6 6l5.6 6l5.5 5.8l5.6 5.1l5.6 4.5l5.6 4.2l5.5 3.6l5.6 2.4l5.6 .9l5.6-.5l5.5-1.8l5.6-1.8l5.6-.7l5.6 1.5l5.5 4.8l5.6 7l5.6 6.7l5.6 5.5l5.5 5.7l5.6 4.9l5.6 4.8l5.6 4l5.5 3.5l5.6 3.3l5.6 3l5.5 2.6l5.6 2.3l5.6 2.2l5.6 1.7l5.5 1.5l5.6 1.4l5.6 1.5l5.6 1.7l2 .7"/>
<path class="c" d="M133.3 45.3l2 2.3l5.6 6.4l5.5 5.9l5.6 5.8l5.6 5.6l5.6 5.7l5.5 5.9l5.6 5.9l5.6 5.9l5.6 5.9l5.5 5.6l5.6 5l5.6 4.4l5.6 4.1l5.5 3.5l5.6 2.3l5.6 .9l5.6-.5l5.5-1.7l5.6-1.6l5.6-.7l5.6 1.6l5.5 4.8l5.6 6.9l5.6 6.7l5.6 5.5l5.5 5.7l5.6 5l5.6 4.7l5.6 4.1l5.5 3.5l5.6 3.3l5.6 3l5.5 2.7l5.6 2.3l5.6 2.2l5.6 1.8l5.5 1.5l5.6 1.5l5.6 1.5l5.6 1.8l2 .6"/>
<path class="p" d="M133.3 45.9l2 2.1l5.6 5.7l5.5 5.2l5.6 4.7l5.6 4.4l5.6 4.2l5.5 4.2l5.6 4.2l5.6 4.1l5.6 3.8l5.5 3.5l5.6 3l5.6 2.5l5.6 1.9l5.5 1.2l5.6 .2l5.6-.9l5.6-2l5.5-2.5l5.6-1.8l5.6-.2l5.6 2.6l5.5 6.4l5.6 9.2l5.6 10.3l5.6 9.2l5.5 7.8l5.6 6.6l5.6 6.1l5.6 5.5l5.5 5l5.6 4.7l5.6 4.6l5.5 4.4l5.6 4.2l5.6 4.2l5.6 3.8l5.5 3.5l5.6 3.3l5.6 3l5.6 2.7l2 .9"/>
<path class="c" d="M133.3 46.1l2 2l5.6 5.8l5.5 5.1l5.6 4.8l5.6 4.5l5.6 4.3l5.5 4.3l5.6 4.4l5.6 4.2l5.6 4.1l5.5 3.8l5.6 3.3l5.6 2.8l5.6 2.3l5.5 1.5l5.6 .6l5.6-.5l5.6-1.5l5.5-2.1l5.6-1.5l5.6 0l5.6 2.7l5.5 6.5l5.6 9l5.6 9.6l5.6 8.3l5.5 7.4l5.6 6.3l5.6 6l5.6 5.3l5.5 4.8l5.6 4.7l5.6 4.5l5.5 4.3l5.6 4.2l5.6 4.1l5.6 3.8l5.5 3.5l5.6 3.3l5.6 3l5.6 2.7l2 1"/>
<path class="p" d="M133.3 44.3l2 2.1l5.6 5.7l5.5 5.2l5.6 4.9l5.6 4.5l5.6 4.5l5.5 4.5l5.6 4.5l5.6 4.4l5.6 4.3l5.5 3.9l5.6 3.3l5.6 2.7l5.6 2.1l5.5 1.1l5.6 0l5.6-1.5l5.6-2.7l5.5-3.3l5.6-3l5.6-1.6l5.6 .8l5.5 4l5.6 6.3l5.6 8.2l5.6 9.4l5.5 7.7l5.6 6.2l5.6 4.8l5.6 3.6l5.5 2.5l5.6 2l5.6 1.6l5.5 1.2l5.6 .9l5.6 .6l5.6 .3l5.5 .1l5.6 .1l5.6 .1l5.6 .4l2 .2"/>
<path class="c" d="M133.3 44.6l2 2l5.6 5.8l5.5 5.2l5.6 5l5.6 4.8l5.6 4.7l5.5 4.8l5.6 4.9l5.6 5l5.6 4.8l5.5 4.7l5.6 4.1l5.6 3.6l5.6 3l5.5 2l5.6 .9l5.6-.2l5.6-1.5l5.5-2.4l5.6-2.2l5.6-.9l5.6 1.7l5.5 5.1l5.6 7.4l5.6 8l5.6 6.9l5.5 5.7l5.6 4.8l5.6 4l5.6 3.3l5.5 3l5.6 2.5l5.6 2l5.5 1.7l5.6 1.4l5.6 1.2l5.6 1l5.5 .8l5.6 .9l5.6 .8l5.6 1.1l2 .3"/>
<path class="p" d="M133.3 43.8l2 1.9l5.6 5.2l5.5 4.7l5.6 4.3l5.6 4.1l5.6 3.9l5.5 3.8l5.6 3.9l5.6 3.7l5.6 3.4l5.5 3.1l5.6 2.4l5.6 1.9l5.6 1.5l5.5 .6l5.6-.3l5.6-1.6l5.6-2.4l5.5-2.5l5.6-2l5.6-.8l5.6 1.1l5.5 4.1l5.6 6.2l5.6 8.5l5.6 9.3l5.5 8l5.6 6.6l5.6 5.1l5.6 3.6l5.5 2.5l5.6 2.3l5.6 1.9l5.5 1.6l5.6 1.4l5.6 1.1l5.6 .8l5.5 .5l5.6 .5l5.6 .4l5.6 .5l2 .2"/>
<path class="c" d="M133.3 43.9l2 1.9l5.6 5.2l5.5 4.7l5.6 4.4l5.6 4.1l5.6 3.9l5.5 3.9l5.6 3.9l5.6 3.8l5.6 3.5l5.5 3.2l5.6 2.5l5.6 2.1l5.6 1.6l5.5 .8l5.6-.2l5.6-1.4l5.6-2.4l5.5-2.4l5.6-2l5.6-.7l5.6 1.3l5.5 4.3l5.6 6.6l5.6 8.8l5.6 9.5l5.5 8.2l5.6 6.6l5.6 5.3l5.6 3.8l5.5 2.9l5.6 2.6l5.6 2.1l5.5 1.8l5.6 1.6l5.6 1.3l5.6 .9l5.5 .7l5.6 .6l5.6 .6l5.6 .7l2 .2"/>
<path class="p" d="M133.3 39.8l2 2.1l5.6 5.8l5.5 5.2l5.6 5l5.6 4.8l5.6 4.7l5.5 4.7l5.6 4.9l5.6 4.8l5.6 4.7l5.5 4.3l5.6 3.7l5.6 3.2l5.6 2.5l5.5 1.7l5.6 .5l5.6-.5l5.6-1.6l5.5-2.1l5.6-1.8l5.6-.6l5.6 1.5l5.5 4.7l5.6 7.1l5.6 8.5l5.6 8.4l5.5 7.1l5.6 6l5.6 4.9l5.6 4l5.5 3.4l5.6 2.9l5.6 2.4l5.5 2l5.6 1.6l5.6 1.4l5.6 1.3l5.5 1l5.6 1.1l5.6 1.1l5.6 1.1l2 .4"/>
<path class="c" d="M133.3 39.9l2 2.1l5.6 5.8l5.5 5.3l5.6 4.9l5.6 4.8l5.6 4.7l5.5 4.8l5.6 4.8l5.6 4.8l5.6 4.6l5.5 4.3l5.6 3.7l5.6 3.2l5.6 2.5l5.5 1.6l5.6 .6l5.6-.6l5.6-1.8l5.5-2.2l5.6-2l5.6-.8l5.6 1.4l5.5 4.7l5.6 6.9l5.6 8.4l5.6 8.4l5.5 7.2l5.6 5.9l5.6 4.8l5.6 4l5.5 3.2l5.6 2.8l5.6 2.3l5.5 1.9l5.6 1.6l5.6 1.3l5.6 1.1l5.5 1l5.6 .8l5.6 1l5.6 1l2 .3"/>
<path class="p" d="M133.3 57.1l2 2.3l5.6 6.4l5.5 6l5.6 5.7l5.6 5.5l5.6 5.6l5.5 5.8l5.6 5.8l5.6 6l5.6 5.7l5.5 5.1l5.6 4.4l5.6 3.8l5.6 4l5.5 3.5l5.6 1.8l5.6 .1l5.6-1.6l5.5-3.1l5.6-3l5.6-1.9l5.6 .6l5.5 4.3l5.6 6.5l5.6 6.2l5.6 5.1l5.5 5.2l5.6 4.2l5.6 4l5.6 3l5.5 2.5l5.6 2l5.6 1.7l5.5 1.1l5.6 .8l5.6 .5l5.6 .1l5.5 .1l5.6 .2l5.6 .5l5.6 .9l2 .3"/>
<path class="c" d="M133.3 57.0l2 2.3l5.6 6.4l5.5 6l5.6 5.7l5.6 5.5l5.6 5.6l5.5 5.8l5.6 5.9l5.6 5.9l5.6 5.8l5.5 5.1l5.6 4.4l5.6 3.9l5.6 4l5.5 3.7l5.6 1.9l5.6 .3l5.6-1.4l5.5-2.8l5.6-2.8l5.6-1.6l5.6 .9l5.5 4.4l5.6 6.6l5.6 6.2l5.6 4.9l5.5 5.1l5.6 4.3l5.6 4l5.6 3.2l5.5 2.5l5.6 2.2l5.6 1.7l5.5 1.2l5.6 .9l5.6 .6l5.6 .2l5.5 .2l5.6 .2l5.6 .5l5.6 1l2 .3"/>
<path class="p" d="M133.3 55.5l2 2.4l5.6 6.6l5.5 6.2l5.6 5.8l5.6 5.6l5.6 5.5l5.5 5.7l5.6 5.8l5.6 5.9l5.6 5.6l5.5 5.1l5.6 4.3l5.6 3.9l5.6 3.9l5.5 3.5l5.6 1.9l5.6 .3l5.6-1.2l5.5-2.5l5.6-2.2l5.6-.9l5.6 1.6l5.5 5.3l5.6 7.5l5.6 6.9l5.6 5.8l5.5 6.4l5.6 5.6l5.6 6l5.6 5.4l5.5 5.1l5.6 5.3l5.6 5.5l5.5 5.5l5.6 5.5l5.6 5.6l5.6 5.3l5.5 4.9l5.6 4.8l5.6 4.7l5.6 4.6l2 1.6"/>
<path class="c" d="M133.3 55.4l2 2.4l5.6 6.7l5.5 6.1l5.6 5.9l5.6 5.5l5.6 5.6l5.5 5.8l5.6 5.9l5.6 5.9l5.6 5.7l5.5 5.2l5.6 4.4l5.6 3.9l5.6 4.1l5.5 3.7l5.6 2l5.6 .5l5.6-1l5.5-2.4l5.6-2.1l5.6-.9l5.6 1.8l5.5 5.3l5.6 7.5l5.6 6.9l5.6 5.5l5.5 6.3l5.6 5.6l5.6 6l5.6 5.4l5.5 5.1l5.6 5.3l5.6 5.6l5.5 5.5l5.6 5.6l5.6 5.8l5.6 5.3l5.5 5l5.6 4.9l5.6 4.8l5.6 4.8l2 1.7"/>
<path class="p" d="M133.3 47.0l2 2.3l5.6 6.5l5.5 6l5.6 5.7l5.6 5.4l5.6 5.1l5.5 5.2l5.6 5.1l5.6 5l5.6 4.9l5.5 4.5l5.6 4l5.6 3.2l5.6 2.7l5.5 1.9l5.6 1l5.6 .2l5.6-.8l5.5-1.5l5.6-1.3l5.6-.2l5.6 1.7l5.5 4.9l5.6 7.2l5.6 7.5l5.6 6l5.5 5.7l5.6 4.9l5.6 4.6l5.6 3.9l5.5 3.4l5.6 3.1l5.6 2.7l5.5 2.5l5.6 2.2l5.6 1.9l5.6 1.8l5.5 1.5l5.6 1.4l5.6 1.5l5.6 1.5l2 .6"/>
<path class="c" d="M133.3 46.9l2 2.3l5.6 6.6l5.5 5.9l5.6 5.6l5.6 5.2l5.6 5l5.5 4.9l5.6 4.9l5.6 4.8l5.6 4.5l5.5 4.1l5.6 3.5l5.6 2.7l5.6 1.8l5.5 1l5.6 0l5.6-1l5.6-1.9l5.5-2.5l5.6-2.3l5.6-1.2l5.6 .9l5.5 3.9l5.6 6.1l5.6 7.5l5.6 7.6l5.5 6.6l5.6 5.6l5.6 4.7l5.6 3.9l5.5 3.2l5.6 2.8l5.6 2.3l5.5 1.9l5.6 1.6l5.6 1.4l5.6 1.1l5.5 1l5.6 1l5.6 1l5.6 1l2 .4"/>
<path class="p" d="M133.3 56.2l2 2.3l5.6 6.2l5.5 5.9l5.6 5.5l5.6 5.3l5.6 5.3l5.5 5.5l5.6 5.6l5.6 5.6l5.6 5.5l5.5 4.9l5.6 4.3l5.6 3.7l5.6 3.6l5.5 3.1l5.6 1.4l5.6-.2l5.6-1.9l5.5-3.3l5.6-3.1l5.6-1.7l5.6 1l5.5 4.7l5.6 7l5.6 6.7l5.6 5.5l5.5 5.4l5.6 4.4l5.6 4.1l5.6 3.3l5.5 2.7l5.6 2.4l5.6 2.1l5.5 1.6l5.6 1.3l5.6 1.1l5.6 .8l5.5 .7l5.6 .7l5.6 .9l5.6 1.1l2 .4"/>
<path class="c" d="M133.3 56.2l2 2.2l5.6 6.2l5.5 5.9l5.6 5.5l5.6 5.2l5.6 5.3l5.5 5.4l5.6 5.5l5.6 5.6l5.6 5.3l5.5 4.9l5.6 4.1l5.6 3.5l5.6 3.4l5.5 2.8l5.6 1.2l5.6-.4l5.6-2.1l5.5-3.5l5.6-3.3l5.6-1.8l5.6 1.1l5.5 4.8l5.6 7.3l5.6 7.1l5.6 5.8l5.5 5.5l5.6 4.6l5.6 4.2l5.6 3.4l5.5 2.9l5.6 2.6l5.6 2.1l5.5 1.8l5.6 1.5l5.6 1.3l5.6 .9l5.5 .9l5.6 .8l5.6 .9l5.6 1.3l2 .4"/>
<path class="p" d="M133.3 54.1l2 2.5l5.6 6.9l5.5 6.4l5.6 6.1l5.6 5.8l5.6 5.7l5.5 5.9l5.6 6l5.6 6l5.6 5.8l5.5 5.2l5.6 4.5l5.6 3.9l5.6 4.1l5.5 3.8l5.6 2.2l5.6 .7l5.6-.7l5.5-1.8l5.6-1.8l5.6-.8l5.6 1.4l5.5 4.8l5.6 6.9l5.6 6.4l5.6 5.2l5.5 6.1l5.6 5.4l5.6 5.8l5.6 5.3l5.5 4.9l5.6 5.1l5.6 5.3l5.5 5.2l5.6 5.3l5.6 5.3l5.6 5l5.5 4.6l5.6 4.5l5.6 4.4l5.6 4.4l2 1.6"/>
<path class="c" d="M133.3 54.0l2 2.4l5.6 7l5.5 6.4l5.6 6l5.6 5.8l5.6 5.7l5.5 5.8l5.6 5.9l5.6 6l5.6 5.7l5.5 5.1l5.6 4.4l5.6 3.9l5.6 3.9l5.5 3.6l5.6 2l5.6 .5l5.6-.9l5.5-2l5.6-1.9l5.6-.9l5.6 1.4l5.5 4.8l5.6 6.9l5.6 6.5l5.6 5.5l5.5 6l5.6 5.5l5.6 5.8l5.6 5.1l5.5 4.9l5.6 5l5.6 5.1l5.5 5.1l5.6 5.1l5.6 5.2l5.6 4.8l5.5 4.4l5.6 4.4l5.6 4.2l5.6 4.2l2 1.5"/>
<path class="p" d="M133.3 46.5l2 2.1l5.6 5.8l5.5 5.2l5.6 4.7l5.6 4.5l5.6 4.3l5.5 4.1l5.6 4.1l5.6 3.8l5.6 3.5l5.5 3l5.6 2.2l5.6 1.4l5.6 .7l5.5-.1l5.6-1.3l5.6-2.5l5.6-3.5l5.5-3.5l5.6-3l5.6-1.7l5.6 .1l5.5 3l5.6 5.1l5.6 7.2l5.6 7.4l5.5 6.2l5.6 5.1l5.6 3.4l5.6 1.2l5.5-.6l5.6-.4l5.6-.7l5.5-.9l5.6-1l5.6-1l5.6-1.1l5.5-1.3l5.6-1.3l5.6-1.2l5.6-1.1l2-.4"/>
<path class="c" d="M133.3 46.5l2 2.1l5.6 5.8l5.5 5.2l5.6 4.7l5.6 4.5l5.6 4.2l5.5 4.1l5.6 4l5.6 3.9l5.6 3.5l5.5 3l5.6 2.2l5.6 1.6l5.6 .9l5.5 0l5.6-1.1l5.6-2.4l5.6-3.3l5.5-3.5l5.6-3l5.6-1.7l5.6 .2l5.5 3.2l5.6 5.3l5.6 7.4l5.6 7.8l5.5 6.4l5.6 5.2l5.6 3.6l5.6 1.5l5.5-.3l5.6-.2l5.6-.5l5.5-.7l5.6-.8l5.6-.9l5.6-1.1l5.5-1.2l5.6-1.1l5.6-1.1l5.6-.9l2-.4"/>
<path class="p" d="M133.3 43.3l2 1.8l5.6 5.2l5.5 4.6l5.6 4.4l5.6 4.2l5.6 4.2l5.5 4.2l5.6 4.3l5.6 4.4l5.6 4.3l5.5 4.1l5.6 3.8l5.6 3.5l5.6 3.1l5.5 2.6l5.6 1.8l5.6 1l5.6 .2l5.5-.4l5.6-.2l5.6 .7l5.6 2.7l5.5 5.6l5.6 7.6l5.6 8l5.6 5.8l5.5 5.3l5.6 4.4l5.6 3.8l5.6 3l5.5 2.5l5.6 1.8l5.6 1.8l5.5 1.6l5.6 1.3l5.6 1.1l5.6 .9l5.5 .8l5.6 .8l5.6 .8l5.6 1l2 .4"/>
<path class="c" d="M133.3 43.3l2 1.9l5.6 5.1l5.5 4.7l5.6 4.3l5.6 4.1l5.6 3.9l5.5 4l5.6 4l5.6 3.8l5.6 3.7l5.5 3.4l5.6 2.7l5.6 2.3l5.6 1.8l5.5 1.1l5.6 .1l5.6-1.1l5.6-2l5.5-2.2l5.6-1.8l5.6-.6l5.6 1.1l5.5 4.2l5.6 6.2l5.6 8.4l5.6 9.1l5.5 7.6l5.6 6.3l5.6 4.8l5.6 3.3l5.5 2.2l5.6 1.8l5.6 1.4l5.5 1l5.6 .7l5.6 .5l5.6 .2l5.5-.1l5.6-.1l5.6 0l5.6 .3l2 0"/>
<path class="p" d="M133.3 53.2l2 2.3l5.6 6.3l5.5 5.8l5.6 5.5l5.6 5.2l5.6 5.3l5.5 5.3l5.6 5.5l5.6 5.5l5.6 5.4l5.5 4.9l5.6 4.3l5.6 3.6l5.6 3.4l5.5 2.8l5.6 1.3l5.6-.1l5.6-1.6l5.5-2.8l5.6-2.7l5.6-1.5l5.6 .8l5.5 4.2l5.6 6.4l5.6 6.4l5.6 5.6l5.5 5.1l5.6 4.3l5.6 3.8l5.6 3.1l5.5 2.4l5.6 2l5.6 1.5l5.5 1.1l5.6 .7l5.6 .4l5.6 .2l5.5 .2l5.6 .3l5.6 .7l5.6 1.1l2 .4"/>
<path class="c" d="M133.3 53.2l2 2.3l5.6 6.2l5.5 5.8l5.6 5.5l5.6 5.3l5.6 5.2l5.5 5.4l5.6 5.5l5.6 5.5l5.6 5.4l5.5 4.9l5.6 4.2l5.6 3.7l5.6 3.4l5.5 2.8l5.6 1.3l5.6 0l5.6-1.6l5.5-2.7l5.6-2.6l5.6-1.3l5.6 1.1l5.5 4.5l5.6 6.9l5.6 6.8l5.6 5.7l5.5 5.5l5.6 4.6l5.6 4.3l5.6 3.5l5.5 3l5.6 2.6l5.6 2.2l5.5 1.9l5.6 1.5l5.6 1.4l5.6 1l5.5 .9l5.6 .9l5.6 1l5.6 1.3l2 .4"/>
<path class="p" d="M133.3 42.6l2 2l5.6 5.3l5.5 4.9l5.6 4.4l5.6 4.2l5.6 4l5.5 4.1l5.6 4.1l5.6 4l5.6 4l5.5 3.7l5.6 3.2l5.6 3l5.6 2.6l5.5 2.2l5.6 1.4l5.6 .7l5.6 .1l5.5-.3l5.6 0l5.6 1.1l5.6 3.3l5.5 6.5l5.6 8.9l5.6 9.1l5.6 8l5.5 7.2l5.6 6.2l5.6 5.9l5.6 5.2l5.5 4.8l5.6 4.4l5.6 4.4l5.5 4.1l5.6 3.9l5.6 3.9l5.6 3.4l5.5 3.2l5.6 2.9l5.6 2.8l5.6 2.6l2 .9"/>
<path class="c" d="M133.3 42.9l2 1.9l5.6 5.4l5.5 4.8l5.6 4.5l5.6 4.2l5.6 4.2l5.5 4.1l5.6 4.2l5.6 4.1l5.6 4l5.5 3.8l5.6 3.2l5.6 3l5.6 2.5l5.5 2l5.6 1.3l5.6 .4l5.6-.1l5.5-.4l5.6-.2l5.6 .9l5.6 2.9l5.5 6l5.6 8.2l5.6 8.9l5.6 7.9l5.5 7.1l5.6 6.2l5.6 5.8l5.6 5.1l5.5 4.7l5.6 4.4l5.6 4.1l5.5 4l5.6 3.7l5.6 3.7l5.6 3.3l5.5 3l5.6 2.8l5.6 2.6l5.6 2.4l2 .8"/>
<path class="p" d="M133.3 54.8l2 2.2l5.6 6.3l5.5 5.9l5.6 5.5l5.6 5.3l5.6 5.3l5.5 5.5l5.6 5.6l5.6 5.6l5.6 5.5l5.5 5.1l5.6 4.4l5.6 3.9l5.6 3.8l5.5 3.5l5.6 2.2l5.6 1l5.6-.3l5.5-1.4l5.6-1.3l5.6-.4l5.6 1.5l5.5 4.7l5.6 6.7l5.6 6.4l5.6 5.7l5.5 6.3l5.6 5.7l5.6 6.1l5.6 5.4l5.5 5.2l5.6 5.3l5.6 5.6l5.5 5.4l5.6 5.6l5.6 5.6l5.6 5.3l5.5 4.9l5.6 4.8l5.6 4.7l5.6 4.5l2 1.7"/>
<path class="c" d="M133.3 54.8l2 2.2l5.6 6.3l5.5 5.9l5.6 5.5l5.6 5.4l5.6 5.4l5.5 5.5l5.6 5.7l5.6 5.8l5.6 5.7l5.5 5.2l5.6 4.6l5.6 4l5.6 4.2l5.5 3.8l5.6 2.5l5.6 1.1l5.6-.3l5.5-1.5l5.6-1.4l5.6-.5l5.6 1.6l5.5 5l5.6 7.1l5.6 6.6l5.6 5.4l5.5 6.2l5.6 5.7l5.6 6l5.6 5.4l5.5 5.2l5.6 5.4l5.6 5.6l5.5 5.6l5.6 5.7l5.6 5.9l5.6 5.4l5.5 5.2l5.6 4.9l5.6 4.9l5.6 4.9l2 1.7"/>
<path class="p" d="M133.3 56.6l2 2l5.6 5.7l5.5 5l5.6 4.7l5.6 4.2l5.6 4.1l5.5 4l5.6 4l5.6 3.8l5.6 3.6l5.5 2.9l5.6 2.4l5.6 1.6l5.6 .8l5.5-.1l5.6-1.1l5.6-2.3l5.6-3.5l5.5-3.9l5.6-3.4l5.6-1.8l5.6 .4l5.5 3.8l5.6 6l5.6 8.2l5.6 8.6l5.5 7.2l5.6 5.7l5.6 4.3l5.6 2.8l5.5 1.5l5.6 1.2l5.6 .8l5.5 .3l5.6 .1l5.6 0l5.6-.4l5.5-.6l5.6-.5l5.6-.4l5.6-.1l2 0"/>
<path class="c" d="M133.3 56.5l2 2l5.6 5.6l5.5 5.1l5.6 4.6l5.6 4.3l5.6 4.1l5.5 4l5.6 4l5.6 3.9l5.6 3.6l5.5 3l5.6 2.5l5.6 1.6l5.6 .8l5.5 0l5.6-1.1l5.6-2.4l5.6-3.6l5.5-4l5.6-3.6l5.6-2l5.6 .2l5.5 3.5l5.6 5.6l5.6 7.8l5.6 8.5l5.5 7l5.6 5.5l5.6 4.1l5.6 2.4l5.5 1l5.6 .7l5.6 .2l5.5-.1l5.6-.3l5.6-.4l5.6-.8l5.5-.9l5.6-.8l5.6-.7l5.6-.3l2-.2"/>
<path class="p" d="M133.3 57.1l2 2.1l5.6 6.1l5.5 5.5l5.6 5.3l5.6 5l5.6 5l5.5 5.1l5.6 5.2l5.6 5.3l5.6 5.1l5.5 4.7l5.6 4.1l5.6 3.6l5.6 3.5l5.5 3.1l5.6 1.9l5.6 .7l5.6-.4l5.5-1.5l5.6-1.3l5.6-.5l5.6 1.7l5.5 4.9l5.6 7.1l5.6 6.8l5.6 5.9l5.5 6.4l5.6 5.6l5.6 5.9l5.6 5.2l5.5 4.8l5.6 4.9l5.6 5.1l5.5 4.8l5.6 4.9l5.6 4.9l5.6 4.5l5.5 4.1l5.6 4l5.6 3.9l5.6 3.8l2 1.4"/>
<path class="c" d="M133.3 57.0l2 2.1l5.6 6l5.5 5.6l5.6 5.3l5.6 5.1l5.6 5l5.5 5.2l5.6 5.4l5.6 5.4l5.6 5.3l5.5 4.8l5.6 4.3l5.6 3.7l5.6 3.8l5.5 3.3l5.6 2.1l5.6 .9l5.6-.4l5.5-1.5l5.6-1.4l5.6-.5l5.6 1.6l5.5 4.7l5.6 6.9l5.6 6.5l5.6 5.5l5.5 6.1l5.6 5.4l5.6 5.6l5.6 4.9l5.5 4.7l5.6 4.6l5.6 4.7l5.5 4.5l5.6 4.4l5.6 4.5l5.6 3.9l5.5 3.7l5.6 3.5l5.6 3.5l5.6 3.4l2 1.3"/>
<path class="p" d="M133.3 51.8l2 1.3l5.6 3.6l5.5 3.1l5.6 2.9l5.6 2.8l5.6 2.9l5.5 2.9l5.6 3.2l5.6 3.1l5.6 2.9l5.5 2.5l5.6 1.9l5.6 1.5l5.6 1.1l5.5 .3l5.6-.7l5.6-2.1l5.6-2.9l5.5-2.9l5.6-2.2l5.6-.7l5.6 1.3l5.5 4.5l5.6 6.9l5.6 9.3l5.6 9.7l5.5 8.6l5.6 7.3l5.6 5.8l5.6 4.3l5.5 3.2l5.6 3.2l5.6 2.9l5.5 2.5l5.6 2.3l5.6 2l5.6 1.6l5.5 1.2l5.6 1l5.6 1l5.6 .9l2 .3"/>
<path class="c" d="M133.3 51.8l2 1.3l5.6 3.7l5.5 3.2l5.6 2.9l5.6 2.8l5.6 2.9l5.5 3l5.6 3.1l5.6 3.1l5.6 2.9l5.5 2.5l5.6 1.9l5.6 1.4l5.6 1l5.5 .3l5.6-.7l5.6-2.2l5.6-3l5.5-3l5.6-2.3l5.6-.9l5.6 1.1l5.5 4.3l5.6 6.4l5.6 8.7l5.6 9.2l5.5 8.2l5.6 6.9l5.6 5.4l5.6 3.8l5.5 2.6l5.6 2.7l5.6 2.4l5.5 2.1l5.6 2l5.6 1.8l5.6 1.4l5.5 1l5.6 .9l5.6 .8l5.6 .6l2 .2"/>
<path class="p" d="M133.3 58.5l2 2.2l5.6 6.1l5.5 5.6l5.6 5.3l5.6 5.1l5.6 5l5.5 5.1l5.6 5.1l5.6 5l5.6 4.8l5.5 4.3l5.6 3.7l5.6 3.2l5.6 3l5.5 2.6l5.6 1.6l5.6 .6l5.6-.4l5.5-1.2l5.6-1.1l5.6-.3l5.6 1.6l5.5 4.7l5.6 6.9l5.6 6.8l5.6 5.5l5.5 6.1l5.6 5.4l5.6 5.6l5.6 5.1l5.5 4.7l5.6 4.7l5.6 4.7l5.5 4.7l5.6 4.6l5.6 4.6l5.6 4.2l5.5 4l5.6 3.7l5.6 3.7l5.6 3.5l2 1.3"/>
<path class="c" d="M133.3 58.4l2 2.1l5.6 6.1l5.5 5.7l5.6 5.2l5.6 4.9l5.6 4.9l5.5 4.8l5.6 4.8l5.6 4.7l5.6 4.3l5.5 3.9l5.6 3.2l5.6 2.7l5.6 2.2l5.5 1.7l5.6 .7l5.6-.2l5.6-1l5.5-1.6l5.6-1.5l5.6-.6l5.6 1.1l5.5 4l5.6 6.2l5.6 6.7l5.6 6.1l5.5 6l5.6 5.4l5.6 5.1l5.6 4.5l5.5 4l5.6 3.8l5.6 3.6l5.5 3.4l5.6 3.1l5.6 3.1l5.6 2.7l5.5 2.4l5.6 2.3l5.6 2.2l5.6 2.1l2 .8"/>
<path class="p" d="M133.3 46.6l2 1.6l5.6 4.4l5.5 4l5.6 3.7l5.6 3.6l5.6 3.6l5.5 3.6l5.6 3.7l5.6 3.6l5.6 3.5l5.5 3.3l5.6 2.8l5.6 2.5l5.6 2.3l5.5 1.8l5.6 .9l5.6-.3l5.6-1.4l5.5-1.9l5.6-1l5.6 1.2l5.6 4.8l5.5 9.5l5.6 12.5l5.6 12.1l5.6 9.7l5.5 8.4l5.6 7.1l5.6 6.7l5.6 6.1l5.5 5.6l5.6 5.5l5.6 5.5l5.5 5.5l5.6 5.4l5.6 5.5l5.6 5l5.5 4.8l5.6 4.5l5.6 4.2l5.6 4.1l2 1.5"/>
<path class="c" d="M133.3 46.9l2 1.6l5.6 4.4l5.5 4l5.6 3.8l5.6 3.6l5.6 3.6l5.5 3.6l5.6 3.7l5.6 3.7l5.6 3.5l5.5 3.3l5.6 2.8l5.6 2.4l5.6 2.2l5.5 1.6l5.6 .7l5.6-.6l5.6-1.8l5.5-2.1l5.6-1.3l5.6 .8l5.6 4.3l5.5 8.9l5.6 12.1l5.6 12.1l5.6 10l5.5 8.6l5.6 7.4l5.6 6.9l5.6 6.2l5.5 5.7l5.6 5.6l5.6 5.7l5.5 5.5l5.6 5.6l5.6 5.5l5.6 5.1l5.5 4.8l5.6 4.6l5.6 4.3l5.6 4l2 1.5"/>
<path class="p" d="M133.3 55.8l2 2.3l5.6 6.3l5.5 5.8l5.6 5.5l5.6 5.1l5.6 5l5.5 5.1l5.6 4.9l5.6 4.9l5.6 4.4l5.5 3.9l5.6 3l5.6 2.3l5.6 1.7l5.5 .6l5.6-.9l5.6-2.4l5.6-3.8l5.5-4.8l5.6-4.2l5.6-2.3l5.6 .9l5.5 4.9l5.6 7.6l5.6 8.7l5.6 8.5l5.5 6.8l5.6 5.6l5.6 4.6l5.6 3.9l5.5 3.6l5.6 3.3l5.6 2.8l5.5 2.5l5.6 2.3l5.6 2l5.6 1.9l5.5 1.7l5.6 1.5l5.6 1.5l5.6 1.4l2 .5"/>
<path class="c" d="M133.3 55.8l2 2.2l5.6 6.3l5.5 5.9l5.6 5.4l5.6 5.3l5.6 5.1l5.5 5.3l5.6 5.2l5.6 5.2l5.6 5l5.5 4.4l5.6 3.6l5.6 3l5.6 2.6l5.5 1.8l5.6 .3l5.6-1.2l5.6-2.8l5.5-4l5.6-3.6l5.6-2.1l5.6 .7l5.5 4.5l5.6 7.1l5.6 7.4l5.6 6.4l5.5 5.6l5.6 4.6l5.6 4l5.6 3.4l5.5 2.9l5.6 2.4l5.6 1.9l5.5 1.6l5.6 1.3l5.6 1.1l5.6 1l5.5 .8l5.6 .8l5.6 1l5.6 1l2 .4"/>
<path class="p" d="M133.3 39.6l2 1.9l5.6 5.5l5.5 4.9l5.6 4.5l5.6 4.1l5.6 4l5.5 3.8l5.6 3.8l5.6 3.6l5.6 3.3l5.5 2.9l5.6 2.2l5.6 1.8l5.6 1.3l5.5 .7l5.6-.4l5.6-1.5l5.6-2.1l5.5-1.9l5.6-1.2l5.6-.4l5.6 1.1l5.5 3.6l5.6 5.6l5.6 7.8l5.6 8.6l5.5 7.6l5.6 6.5l5.6 5.1l5.6 3.3l5.5 2l5.6 2l5.6 1.7l5.5 1.4l5.6 1.3l5.6 1l5.6 .7l5.5 .4l5.6 .3l5.6 .2l5.6 .3l2 .1"/>
<path class="c" d="M133.3 39.6l2 2l5.6 5.5l5.5 4.9l5.6 4.5l5.6 4.1l5.6 4l5.5 3.9l5.6 3.9l5.6 3.6l5.6 3.5l5.5 3l5.6 2.4l5.6 1.9l5.6 1.6l5.5 .8l5.6-.1l5.6-1.2l5.6-1.8l5.5-1.7l5.6-1.2l5.6-.2l5.6 1.2l5.5 4l5.6 5.9l5.6 8.2l5.6 9.2l5.5 7.9l5.6 6.7l5.6 5.2l5.6 3.8l5.5 2.5l5.6 2.4l5.6 2l5.5 1.7l5.6 1.5l5.6 1.2l5.6 .9l5.5 .5l5.6 .5l5.6 .5l5.6 .5l2 .2"/>
<path class="p" d="M133.3 53.7l2 1.5l5.6 4.4l5.5 3l5.6 2.4l5.6 2.5l5.6 2.5l5.5 2.7l5.6 2.9l5.6 3l5.6 2.7l5.5 2.5l5.6 1.7l5.6 1.4l5.6 .9l5.5 .3l5.6-.9l5.6-2.2l5.6-3l5.5-3l5.6-2.3l5.6-1.1l5.6 .8l5.5 3.8l5.6 5.9l5.6 7.7l5.6 7.4l5.5 6.4l5.6 5.2l5.6 3.5l5.6 1.3l5.5-.6l5.6-.5l5.6-.7l5.5-.9l5.6-1l5.6-1l5.6-1.2l5.5-1.4l5.6-1.3l5.6-1.3l5.6-1.1l2-.4"/>
<path class="c" d="M133.3 53.6l2 1.6l5.6 4.4l5.5 3.1l5.6 2.5l5.6 2.4l5.6 2.5l5.5 2.6l5.6 2.9l5.6 2.8l5.6 2.7l5.5 2.3l5.6 1.7l5.6 1.3l5.6 .8l5.5 .2l5.6-1l5.6-2.2l5.6-3.1l5.5-3l5.6-2.3l5.6-1.1l5.6 .7l5.5 3.6l5.6 5.6l5.6 7.3l5.6 7l5.5 6.1l5.6 5.1l5.6 3.4l5.6 1.1l5.5-.9l5.6-.6l5.6-.9l5.5-1l5.6-1.1l5.6-1.1l5.6-1.3l5.5-1.4l5.6-1.4l5.6-1.4l5.6-1.2l2-.5"/>
<path class="p" d="M133.3 56.2l2 2.2l5.6 6.1l5.5 5.5l5.6 5.2l5.6 4.9l5.6 4.7l5.5 4.8l5.6 4.8l5.6 4.7l5.6 4.5l5.5 3.9l5.6 3.2l5.6 2.6l5.6 1.9l5.5 .9l5.6-.6l5.6-2.2l5.6-4.1l5.5-5.1l5.6-4.6l5.6-2.5l5.6 .8l5.5 4.8l5.6 7.5l5.6 8.5l5.6 7.6l5.5 6.3l5.6 5.2l5.6 4.3l5.6 3.3l5.5 2.6l5.6 2.1l5.6 1.6l5.5 1.3l5.6 .9l5.6 .8l5.6 .4l5.5 .2l5.6 .3l5.6 .4l5.6 .6l2 .2"/>
<path class="c" d="M133.3 56.2l2 2.2l5.6 6l5.5 5.6l5.6 5.2l5.6 4.9l5.6 4.8l5.5 4.7l5.6 4.8l5.6 4.7l5.6 4.3l5.5 3.8l5.6 3l5.6 2.4l5.6 1.6l5.5 .4l5.6-1l5.6-2.8l5.6-4.4l5.5-5.4l5.6-4.7l5.6-2.6l5.6 .4l5.5 4.2l5.6 6.7l5.6 8.3l5.6 8.4l5.5 6.9l5.6 5.6l5.6 4.4l5.6 3.2l5.5 2.2l5.6 1.8l5.6 1.3l5.5 1l5.6 .7l5.6 .5l5.6 .2l5.5-.1l5.6 .1l5.6 .1l5.6 .4l2 .1"/>
<path class="p" d="M133.3 48.2l2 1.9l5.6 5.2l5.5 4.5l5.6 3.8l5.6 3.4l5.6 3l5.5 3l5.6 3l5.6 2.8l5.6 2.5l5.5 2.2l5.6 1.5l5.6 1.1l5.6 .7l5.5 .1l5.6-1l5.6-2.4l5.6-3.1l5.5-3l5.6-2.3l5.6-1l5.6 .8l5.5 3.8l5.6 5.8l5.6 7.5l5.6 7.5l5.5 6.9l5.6 5.9l5.6 4.5l5.6 2.6l5.5 1.2l5.6 1.7l5.6 1.8l5.5 1.9l5.6 1.9l5.6 2l5.6 1.6l5.5 1.4l5.6 1.1l5.6 .8l5.6 .4l2 .2"/>
<path class="c" d="M133.3 48.4l2 1.9l5.6 5.2l5.5 4.6l5.6 3.9l5.6 3.6l5.6 3.3l5.5 3.1l5.6 3.2l5.6 2.9l5.6 2.7l5.5 2.3l5.6 1.6l5.6 1.1l5.6 .7l5.5 0l5.6-1l5.6-2.4l5.6-3.3l5.5-3.1l5.6-2.4l5.6-1l5.6 .9l5.5 3.9l5.6 6.1l5.6 8.1l5.6 8.4l5.5 7.6l5.6 6.5l5.6 5.2l5.6 3.4l5.5 2.3l5.6 2.7l5.6 2.6l5.5 2.5l5.6 2.6l5.6 2.3l5.6 2l5.5 1.6l5.6 1.4l5.6 1.1l5.6 .8l2 .3"/>
<path class="p" d="M133.3 57.0l2 2.2l5.6 6.1l5.5 5.7l5.6 5.4l5.6 5.1l5.6 5.1l5.5 5.3l5.6 5.3l5.6 5.3l5.6 5.2l5.5 4.8l5.6 4.1l5.6 3.7l5.6 3.7l5.5 3.3l5.6 2.1l5.6 1l5.6-.2l5.5-1.2l5.6-1.2l5.6-.3l5.6 1.8l5.5 5l5.6 7.1l5.6 6.7l5.6 5.4l5.5 6.2l5.6 5.5l5.6 5.8l5.6 5.3l5.5 4.9l5.6 5l5.6 5.3l5.5 5.1l5.6 5.1l5.6 5.3l5.6 4.7l5.5 4.5l5.6 4.4l5.6 4.2l5.6 4.2l2 1.5"/>
<path class="c" d="M133.3 56.8l2 2.2l5.6 6.2l5.5 5.7l5.6 5.3l5.6 5.1l5.6 5l5.5 5.2l5.6 5.1l5.6 5.2l5.6 5l5.5 4.5l5.6 3.9l5.6 3.3l5.6 3.1l5.5 2.6l5.6 1.5l5.6 .4l5.6-.8l5.5-1.5l5.6-1.5l5.6-.6l5.6 1.4l5.5 4.5l5.6 6.7l5.6 6.7l5.6 5.8l5.5 6.1l5.6 5.5l5.6 5.4l5.6 4.9l5.5 4.5l5.6 4.4l5.6 4.3l5.5 4.3l5.6 4.1l5.6 4.1l5.6 3.7l5.5 3.4l5.6 3.2l5.6 3.1l5.6 3.1l2 1"/>
<path class="p" d="M133.3 39.9l2 2l5.6 5.5l5.5 4.9l5.6 4.4l5.6 4.1l5.6 3.9l5.5 3.9l5.6 3.8l5.6 3.6l5.6 3.2l5.5 2.9l5.6 2.2l5.6 1.7l5.6 1.3l5.5 .5l5.6-.7l5.6-2l5.6-3l5.5-3l5.6-2.3l5.6-1l5.6 .9l5.5 4.1l5.6 6.1l5.6 8.1l5.6 8.3l5.5 7.3l5.6 6l5.6 4.4l5.6 2.3l5.5 .8l5.6 .9l5.6 .6l5.5 .3l5.6 .3l5.6 .2l5.6-.1l5.5-.4l5.6-.4l5.6-.4l5.6-.3l2-.2"/>
<path class="c" d="M133.3 40.0l2 2l5.6 5.5l5.5 4.8l5.6 4.5l5.6 4.1l5.6 4l5.5 3.8l5.6 3.8l5.6 3.6l5.6 3.3l5.5 3l5.6 2.2l5.6 1.7l5.6 1.4l5.5 .6l5.6-.5l5.6-1.8l5.6-2.8l5.5-2.8l5.6-2.2l5.6-.7l5.6 1.3l5.5 4.6l5.6 6.9l5.6 9.2l5.6 9.8l5.5 8.6l5.6 7.2l5.6 5.8l5.6 4.2l5.5 3.1l5.6 3l5.6 2.7l5.5 2.4l5.6 2.1l5.6 1.8l5.6 1.5l5.5 1.1l5.6 .9l5.6 .9l5.6 .8l2 .3"/>
<path class="p" d="M133.3 57.4l2 2.2l5.6 6.3l5.5 5.9l5.6 5.6l5.6 5.5l5.6 5.5l5.5 5.7l5.6 5.9l5.6 5.9l5.6 5.8l5.5 5.2l5.6 4.5l5.6 4l5.6 4.2l5.5 3.8l5.6 2.3l5.6 .6l5.6-.8l5.5-2.1l5.6-2l5.6-.9l5.6 1.4l5.5 4.8l5.6 7l5.6 6.4l5.6 5.1l5.5 5.9l5.6 5.2l5.6 5.6l5.6 4.8l5.5 4.6l5.6 4.5l5.6 4.7l5.5 4.4l5.6 4.4l5.6 4.3l5.6 3.8l5.5 3.6l5.6 3.3l5.6 3.4l5.6 3.5l2 1.2"/>
<path class="c" d="M133.3 57.2l2 2.2l5.6 6.3l5.5 5.9l5.6 5.6l5.6 5.3l5.6 5.5l5.5 5.6l5.6 5.7l5.6 5.8l5.6 5.6l5.5 5.1l5.6 4.3l5.6 3.9l5.6 3.9l5.5 3.6l5.6 2l5.6 .5l5.6-1.1l5.5-2.4l5.6-2.2l5.6-1l5.6 1.5l5.5 4.9l5.6 7.1l5.6 6.7l5.6 5.4l5.5 6l5.6 5.3l5.6 5.4l5.6 4.8l5.5 4.4l5.6 4.3l5.6 4.4l5.5 4.2l5.6 4.1l5.6 4l5.6 3.6l5.5 3.3l5.6 3.1l5.6 3.1l5.6 3.1l2 1.2"/>
<path class="p" d="M133.3 55.2l2 2.1l5.6 5.9l5.5 5.5l5.6 5.2l5.6 4.9l5.6 4.9l5.5 5.1l5.6 5.2l5.6 5.2l5.6 5.2l5.5 4.8l5.6 4.2l5.6 3.7l5.6 3.5l5.5 3.1l5.6 1.8l5.6 .7l5.6-.6l5.5-1.6l5.6-1.4l5.6-.3l5.6 2l5.5 5.3l5.6 7.5l5.6 7.2l5.6 5.7l5.5 6l5.6 5.3l5.6 5.4l5.6 4.8l5.5 4.4l5.6 4.3l5.6 4.3l5.5 4.2l5.6 4.1l5.6 4l5.6 3.6l5.5 3.2l5.6 3.2l5.6 3l5.6 3.1l2 1.1"/>
<path class="c" d="M133.3 55.0l2 2.2l5.6 5.9l5.5 5.5l5.6 5.1l5.6 4.8l5.6 4.8l5.5 4.8l5.6 5l5.6 4.9l5.6 4.8l5.5 4.3l5.6 3.8l5.6 3.2l5.6 2.7l5.5 2l5.6 .9l5.6-.4l5.6-1.6l5.5-2.6l5.6-2.4l5.6-1.1l5.6 1.4l5.5 4.7l5.6 7.1l5.6 7.3l5.6 6.4l5.5 5.8l5.6 5l5.6 4.6l5.6 3.8l5.5 3.4l5.6 2.9l5.6 2.7l5.5 2.3l5.6 2l5.6 1.8l5.6 1.5l5.5 1.4l5.6 1.3l5.6 1.3l5.6 1.5l2 .5"/>
<path class="p" d="M133.3 55.4l2 2l5.6 5.7l5.5 5.3l5.6 5.1l5.6 4.9l5.6 5l5.5 5.1l5.6 5.5l5.6 5.5l5.6 5.5l5.5 5.2l5.6 4.6l5.6 4l5.6 3.9l5.5 3.4l5.6 2l5.6 .6l5.6-.9l5.5-2.1l5.6-2.2l5.6-1.1l5.6 1.2l5.5 4.4l5.6 6.7l5.6 6.4l5.6 5.3l5.5 5.3l5.6 4.4l5.6 4.1l5.6 3.4l5.5 2.7l5.6 2.2l5.6 1.9l5.5 1.4l5.6 1l5.6 .7l5.6 .4l5.5 .3l5.6 .3l5.6 .6l5.6 1l2 .4"/>
<path class="c" d="M133.3 55.2l2 2.1l5.6 5.7l5.5 5.3l5.6 5l5.6 4.8l5.6 4.9l5.5 5.1l5.6 5.2l5.6 5.5l5.6 5.3l5.5 5.1l5.6 4.5l5.6 3.9l5.6 3.8l5.5 3.2l5.6 1.9l5.6 .7l5.6-.8l5.5-1.9l5.6-1.9l5.6-.9l5.6 1.1l5.5 4.4l5.6 6.4l5.6 6.3l5.6 5.2l5.5 5.3l5.6 4.3l5.6 4.1l5.6 3.2l5.5 2.5l5.6 2.1l5.6 1.7l5.5 1.2l5.6 .8l5.6 .5l5.6 .2l5.5 0l5.6 .2l5.6 .4l5.6 .9l2 .3"/>
<path class="p" d="M133.3 56.5l2 2.1l5.6 5.9l5.5 5.3l5.6 4.7l5.6 4.3l5.6 4l5.5 3.6l5.6 3.4l5.6 3.1l5.6 2.2l5.5 1.7l5.6 1.1l5.6 .5l5.6-.1l5.5-.6l5.6-1.4l5.6-2.2l5.6-2.9l5.5-2.7l5.6-2.1l5.6-.9l5.6 .9l5.5 4l5.6 6.1l5.6 8.8l5.6 9.7l5.5 8.5l5.6 7.4l5.6 6.1l5.6 4.9l5.5 4.1l5.6 3.7l5.6 3.3l5.5 2.8l5.6 2.3l5.6 1.9l5.6 1.5l5.5 1.3l5.6 1.2l5.6 1.2l5.6 1.1l2 .4"/>
<path class="c" d="M133.3 56.3l2 2.2l5.6 5.8l5.5 5.3l5.6 4.7l5.6 4.3l5.6 3.9l5.5 3.6l5.6 3.5l5.6 2.9l5.6 2.3l5.5 1.8l5.6 1.1l5.6 .5l5.6 0l5.5-.7l5.6-1.3l5.6-2.3l5.6-2.9l5.5-2.8l5.6-2.1l5.6-1.1l5.6 .8l5.5 3.7l5.6 6l5.6 8.5l5.6 9.5l5.5 8.5l5.6 7.3l5.6 6.1l5.6 4.9l5.5 4l5.6 3.8l5.6 3.4l5.5 2.9l5.6 2.5l5.6 2l5.6 1.7l5.5 1.3l5.6 1.3l5.6 1.1l5.6 1.2l2 .4"/>
<path class="p" d="M133.3 58.0l2 2.2l5.6 6l5.5 5.6l5.6 5.2l5.6 4.8l5.6 4.8l5.5 4.7l5.6 4.6l5.6 4.5l5.6 4l5.5 3.3l5.6 2.6l5.6 1.9l5.6 1l5.5-.2l5.6-1.5l5.6-2.8l5.6-3.9l5.5-4.5l5.6-4l5.6-2.7l5.6-.5l5.5 2.7l5.6 4.9l5.6 7.2l5.6 7.9l5.5 6.6l5.6 5.2l5.6 3.9l5.6 2.1l5.5 .8l5.6 .5l5.6 0l5.5-.3l5.6-.5l5.6-.7l5.6-.9l5.5-1l5.6-1l5.6-.8l5.6-.4l2-.2"/>
<path class="c" d="M133.3 57.9l2 2.2l5.6 6l5.5 5.6l5.6 5.2l5.6 4.8l5.6 4.8l5.5 4.8l5.6 4.6l5.6 4.6l5.6 4.1l5.5 3.5l5.6 2.8l5.6 2l5.6 1.2l5.5 .1l5.6-1.4l5.6-2.6l5.6-4l5.5-4.7l5.6-4.4l5.6-2.9l5.6-.8l5.5 2.4l5.6 4.6l5.6 6.8l5.6 7.5l5.5 6.3l5.6 4.8l5.6 3.4l5.6 1.5l5.5 0l5.6-.3l5.6-.8l5.5-1.1l5.6-1.2l5.6-1.3l5.6-1.5l5.5-1.5l5.6-1.5l5.6-1.2l5.6-.8l2-.3"/>
<path class="p" d="M133.3 53.1l2 2.6l5.6 7.2l5.5 6.8l5.6 6.4l5.6 6.2l5.6 6.1l5.5 6.2l5.6 6.2l5.6 6.3l5.6 6l5.5 5.3l5.6 4.6l5.6 4.1l5.6 4.3l5.5 4l5.6 2.4l5.6 .8l5.6-.8l5.5-2l5.6-1.9l5.6-.9l5.6 1.4l5.5 4.8l5.6 6.9l5.6 6.3l5.6 5.2l5.5 6l5.6 5.6l5.6 6l5.6 5.4l5.5 5.2l5.6 5.5l5.6 5.7l5.5 5.7l5.6 5.8l5.6 6l5.6 5.6l5.5 5.2l5.6 5.2l5.6 5l5.6 5l2 1.8"/>
<path class="c" d="M133.3 53.0l2 2.6l5.6 7.2l5.5 6.8l5.6 6.4l5.6 6.2l5.6 6.1l5.5 6.3l5.6 6.2l5.6 6.3l5.6 6l5.5 5.4l5.6 4.6l5.6 4.1l5.6 4.3l5.5 4l5.6 2.4l5.6 .8l5.6-.8l5.5-2l5.6-1.9l5.6-.9l5.6 1.4l5.5 4.9l5.6 6.9l5.6 6.4l5.6 5.1l5.5 6.1l5.6 5.5l5.6 6.1l5.6 5.5l5.5 5.2l5.6 5.5l5.6 5.8l5.5 5.9l5.6 5.9l5.6 6.2l5.6 5.7l5.5 5.4l5.6 5.3l5.6 5.2l5.6 5.2l2 1.9"/>
<path class="p" d="M133.3 39.9l2 1.9l5.6 5.5l5.5 5l5.6 4.5l5.6 4.2l5.6 4.1l5.5 4l5.6 4.1l5.6 3.9l5.6 3.8l5.5 3.6l5.6 3l5.6 2.6l5.6 2.4l5.5 1.7l5.6 .8l5.6-.2l5.6-1l5.5-1.2l5.6-1l5.6 .1l5.6 1.9l5.5 4.8l5.6 7l5.6 8.7l5.6 9l5.5 7.5l5.6 6.1l5.6 4.9l5.6 4l5.5 3.1l5.6 2.6l5.6 2.1l5.5 1.7l5.6 1.4l5.6 1.1l5.6 .8l5.5 .6l5.6 .6l5.6 .6l5.6 .8l2 .3"/>
<path class="c" d="M133.3 40.0l2 1.9l5.6 5.5l5.5 5l5.6 4.5l5.6 4.2l5.6 4.2l5.5 4l5.6 4.2l5.6 4.1l5.6 4l5.5 3.7l5.6 3.3l5.6 3l5.6 2.6l5.5 1.9l5.6 1.1l5.6 .1l5.6-.8l5.5-1.1l5.6-.9l5.6-.1l5.6 1.8l5.5 4.5l5.6 6.7l5.6 8.1l5.6 8.3l5.5 7.1l5.6 5.8l5.6 4.8l5.6 3.7l5.5 2.9l5.6 2.3l5.6 1.9l5.5 1.5l5.6 1.2l5.6 .9l5.6 .6l5.5 .3l5.6 .4l5.6 .5l5.6 .6l2 .3"/>
<path class="p" d="M133.3 58.5l2 2.2l5.6 6.1l5.5 5.8l5.6 5.4l5.6 5.1l5.6 5.2l5.5 5.3l5.6 5.4l5.6 5.4l5.6 5.3l5.5 4.7l5.6 4.1l5.6 3.6l5.6 3.7l5.5 3.3l5.6 2.1l5.6 .8l5.6-.5l5.5-1.4l5.6-1.4l5.6-.5l5.6 1.6l5.5 4.9l5.6 7.1l5.6 6.6l5.6 5.4l5.5 6l5.6 5.5l5.6 5.8l5.6 5.1l5.5 4.9l5.6 4.9l5.6 5.1l5.5 5l5.6 5l5.6 5.1l5.6 4.6l5.5 4.3l5.6 4.2l5.6 4.1l5.6 4l2 1.5"/>
<path class="c" d="M133.3 58.4l2 2.2l5.6 6.1l5.5 5.8l5.6 5.4l5.6 5.1l5.6 5.1l5.5 5.2l5.6 5.3l5.6 5.3l5.6 5l5.5 4.6l5.6 3.8l5.6 3.3l5.6 3.2l5.5 2.8l5.6 1.4l5.6 .2l5.6-1l5.5-1.9l5.6-1.8l5.6-.9l5.6 1l5.5 4.2l5.6 6.3l5.6 6.3l5.6 5.5l5.5 5.6l5.6 5l5.6 4.9l5.6 4.2l5.5 3.7l5.6 3.5l5.6 3.4l5.5 3l5.6 2.8l5.6 2.7l5.6 2.2l5.5 2.1l5.6 1.9l5.6 1.9l5.6 2l2 .7"/>
<path class="p" d="M133.3 45.9l2 2.1l5.6 5.6l5.5 5.1l5.6 4.6l5.6 4.2l5.6 4l5.5 3.8l5.6 3.8l5.6 3.6l5.6 3.3l5.5 2.8l5.6 2.1l5.6 1.5l5.6 .9l5.5 .1l5.6-.9l5.6-2.3l5.6-3.2l5.5-3.3l5.6-2.7l5.6-1.3l5.6 .8l5.5 4l5.6 6l5.6 8.4l5.6 9l5.5 7.9l5.6 6.5l5.6 5l5.6 3.3l5.5 2.2l5.6 2.1l5.6 1.9l5.5 1.6l5.6 1.5l5.6 1.3l5.6 1l5.5 .7l5.6 .6l5.6 .5l5.6 .4l2 .2"/>
<path class="c" d="M133.3 46.0l2 2l5.6 5.7l5.5 5.1l5.6 4.6l5.6 4.3l5.6 4l5.5 3.9l5.6 3.9l5.6 3.7l5.6 3.5l5.5 2.9l5.6 2.4l5.6 1.7l5.6 1.2l5.5 .4l5.6-.7l5.6-1.9l5.6-2.8l5.5-2.9l5.6-2.4l5.6-1l5.6 1.2l5.5 4.4l5.6 6.7l5.6 9l5.6 9.8l5.5 8.4l5.6 7l5.6 5.6l5.6 4.4l5.5 3.4l5.6 3.2l5.6 2.8l5.5 2.4l5.6 2.1l5.6 1.9l5.6 1.4l5.5 1.2l5.6 1l5.6 1l5.6 1l2 .3"/>
<path class="p" d="M133.3 58.0l2 2.3l5.6 6.3l5.5 5.9l5.6 5.7l5.6 5.4l5.6 5.5l5.5 5.8l5.6 5.8l5.6 6l5.6 5.8l5.5 5.2l5.6 4.5l5.6 4l5.6 4.3l5.5 4l5.6 2.3l5.6 .9l5.6-.7l5.5-2l5.6-1.8l5.6-.9l5.6 1.5l5.5 4.8l5.6 7l5.6 6.4l5.6 5.1l5.5 6.1l5.6 5.5l5.6 5.9l5.6 5.4l5.5 5.1l5.6 5.3l5.6 5.5l5.5 5.4l5.6 5.6l5.6 5.6l5.6 5.2l5.5 4.9l5.6 4.7l5.6 4.7l5.6 4.7l2 1.7"/>
<path class="c" d="M133.3 58.0l2 2.2l5.6 6.3l5.5 5.9l5.6 5.7l5.6 5.4l5.6 5.5l5.5 5.8l5.6 5.8l5.6 5.9l5.6 5.8l5.5 5.2l5.6 4.4l5.6 4l5.6 4.2l5.5 3.9l5.6 2.3l5.6 .8l5.6-.7l5.5-1.8l5.6-1.9l5.6-.8l5.6 1.4l5.5 4.7l5.6 6.9l5.6 6.3l5.6 5.1l5.5 6l5.6 5.4l5.6 5.9l5.6 5.2l5.5 4.9l5.6 5.1l5.6 5.2l5.5 5.2l5.6 5.2l5.6 5.3l5.6 4.8l5.5 4.5l5.6 4.3l5.6 4.3l5.6 4.3l2 1.6"/>
<path class="p" d="M133.3 43.2l2 1.6l5.6 4.6l5.5 4.2l5.6 3.9l5.6 3.7l5.6 3.7l5.5 3.6l5.6 3.6l5.6 3.5l5.6 3.1l5.5 2.7l5.6 2l5.6 1.5l5.6 1.1l5.5 .4l5.6-.8l5.6-2.1l5.6-3l5.5-3l5.6-2.3l5.6-1l5.6 .9l5.5 3.8l5.6 5.8l5.6 7.6l5.6 7.5l5.5 6.6l5.6 5.5l5.6 4l5.6 1.7l5.5-.1l5.6 .3l5.6 0l5.5-.2l5.6-.2l5.6-.3l5.6-.5l5.5-.7l5.6-.8l5.6-.8l5.6-.8l2-.2"/>
<path class="c" d="M133.3 43.5l2 1.6l5.6 4.5l5.5 4.2l5.6 3.9l5.6 3.8l5.6 3.6l5.5 3.6l5.6 3.7l5.6 3.4l5.6 3.2l5.5 2.7l5.6 2.1l5.6 1.6l5.6 1.2l5.5 .4l5.6-.6l5.6-2l5.6-2.9l5.5-2.9l5.6-2.2l5.6-.8l5.6 1.1l5.5 4.3l5.6 6.6l5.6 8.7l5.6 9.1l5.5 8.1l5.6 6.7l5.6 5.2l5.6 3.5l5.5 2l5.6 2.2l5.6 1.7l5.5 1.6l5.6 1.3l5.6 1.2l5.6 .7l5.5 .5l5.6 .4l5.6 .3l5.6 .2l2 .1"/>
<path class="p" d="M133.3 46.8l2 2.3l5.6 6.5l5.5 5.9l5.6 5.7l5.6 5.4l5.6 5.4l5.5 5.3l5.6 5.4l5.6 5.4l5.6 5.1l5.5 4.8l5.6 4.2l5.6 3.5l5.6 2.9l5.5 2l5.6 .8l5.6-.5l5.6-1.8l5.5-2.9l5.6-2.7l5.6-1.4l5.6 1.1l5.5 4.7l5.6 7.1l5.6 7.6l5.6 7.1l5.5 6.3l5.6 5.5l5.6 5l5.6 4.4l5.5 4l5.6 3.7l5.6 3.6l5.5 3.2l5.6 3.2l5.6 3l5.6 2.8l5.5 2.5l5.6 2.3l5.6 2.2l5.6 2l2 .8"/>
<path class="c" d="M133.3 46.9l2 2.3l5.6 6.4l5.5 5.9l5.6 5.5l5.6 5.3l5.6 5.2l5.5 5.2l5.6 5.2l5.6 5.2l5.6 5l5.5 4.7l5.6 4.2l5.6 3.5l5.6 2.9l5.5 2.2l5.6 1.1l5.6 .2l5.6-1l5.5-1.9l5.6-1.6l5.6-.5l5.6 1.9l5.5 5.3l5.6 7.5l5.6 7.7l5.6 6.7l5.5 6.4l5.6 5.6l5.6 5.3l5.6 4.7l5.5 4.3l5.6 4.1l5.6 3.9l5.5 3.7l5.6 3.6l5.6 3.4l5.6 3.1l5.5 2.9l5.6 2.6l5.6 2.5l5.6 2.5l2 .8"/>
<path class="p" d="M133.3 43.1l2 1.8l5.6 5.2l5.5 4.6l5.6 4.3l5.6 4l5.6 3.9l5.5 3.7l5.6 3.8l5.6 3.6l5.6 3.3l5.5 2.9l5.6 2.2l5.6 1.6l5.6 1.3l5.5 .5l5.6-.6l5.6-1.9l5.6-2.8l5.5-2.8l5.6-2.2l5.6-.9l5.6 .9l5.5 4l5.6 6.1l5.6 8.3l5.6 8.5l5.5 7.2l5.6 5.9l5.6 4.4l5.6 2.4l5.5 .9l5.6 .9l5.6 .7l5.5 .3l5.6 .3l5.6 .1l5.6-.1l5.5-.4l5.6-.4l5.6-.4l5.6-.3l2-.1"/>
<path class="c" d="M133.3 43.2l2 1.8l5.6 5.2l5.5 4.6l5.6 4.3l5.6 3.9l5.6 3.8l5.5 3.7l5.6 3.7l5.6 3.6l5.6 3.2l5.5 2.8l5.6 2.1l5.6 1.5l5.6 1.1l5.5 .4l5.6-.7l5.6-2.1l5.6-2.9l5.5-2.8l5.6-2.3l5.6-1.1l5.6 .8l5.5 3.8l5.6 5.7l5.6 7.8l5.6 7.9l5.5 6.8l5.6 5.7l5.6 4.1l5.6 2l5.5 .3l5.6 .5l5.6 .2l5.5 0l5.6 0l5.6-.2l5.6-.4l5.5-.6l5.6-.7l5.6-.6l5.6-.6l2-.2"/>
<path class="p" d="M133.3 50.8l2 1.8l5.6 5.1l5.5 4.6l5.6 4l5.6 3.7l5.6 3.5l5.5 3.5l5.6 3.5l5.6 3.4l5.6 3.1l5.5 2.8l5.6 2.1l5.6 1.6l5.6 1l5.5 .2l5.6-1l5.6-2.6l5.6-3.7l5.5-3.9l5.6-3.1l5.6-1.3l5.6 1.2l5.5 4.6l5.6 7l5.6 9.4l5.6 9.5l5.5 7.9l5.6 6.3l5.6 4.7l5.6 3l5.5 1.8l5.6 1.5l5.6 1.2l5.5 1l5.6 .7l5.6 .5l5.6 .3l5.5 0l5.6-.1l5.6 .1l5.6 .1l2 0"/>
<path class="c" d="M133.3 50.9l2 1.9l5.6 5.1l5.5 4.5l5.6 4.1l5.6 3.8l5.6 3.6l5.5 3.5l5.6 3.5l5.6 3.5l5.6 3.1l5.5 2.7l5.6 2.1l5.6 1.5l5.6 .8l5.5 0l5.6-1.1l5.6-2.8l5.6-3.9l5.5-4l5.6-3.1l5.6-1.4l5.6 1l5.5 4.4l5.6 6.7l5.6 9l5.6 9.4l5.5 7.9l5.6 6.4l5.6 4.8l5.6 3.1l5.5 1.7l5.6 1.7l5.6 1.4l5.5 1.1l5.6 .9l5.6 .8l5.6 .5l5.5 .2l5.6 .1l5.6 .2l5.6 .2l2 0"/>
<path class="p" d="M133.3 42.3l2 2.2l5.6 6.3l5.5 5.9l5.6 5.6l5.6 5.4l5.6 5.2l5.5 5.3l5.6 5.4l5.6 5.3l5.6 5.1l5.5 4.7l5.6 4.1l5.6 3.3l5.6 2.4l5.5 1.4l5.6 .3l5.6-.9l5.6-2l5.5-2.8l5.6-2.9l5.6-2l5.6-.2l5.5 2.6l5.6 4.6l5.6 6.4l5.6 7.4l5.5 6.3l5.6 5.2l5.6 3.9l5.6 2.5l5.5 1.3l5.6 .7l5.6 .3l5.5-.2l5.6-.4l5.6-.6l5.6-.9l5.5-1l5.6-.9l5.6-.7l5.6-.3l2-.1"/>
<path class="c" d="M133.3 42.5l2 2.3l5.6 6.3l5.5 5.9l5.6 5.6l5.6 5.5l5.6 5.4l5.5 5.3l5.6 5.5l5.6 5.4l5.6 5.2l5.5 4.8l5.6 4.2l5.6 3.4l5.6 2.4l5.5 1.5l5.6 .4l5.6-.7l5.6-1.7l5.5-2.6l5.6-2.5l5.6-1.8l5.6 .2l5.5 3l5.6 5l5.6 6.4l5.6 7l5.5 6.2l5.6 5.2l5.6 4.2l5.6 3.1l5.5 2.2l5.6 1.6l5.6 1.2l5.5 .7l5.6 .5l5.6 .2l5.6-.1l5.5-.2l5.6-.3l5.6 0l5.6 .2l2 .1"/>
<path class="p" d="M133.3 44.0l2 1.9l5.6 5.3l5.5 4.8l5.6 4.4l5.6 4.1l5.6 4l5.5 3.9l5.6 4.1l5.6 3.9l5.6 3.7l5.5 3.4l5.6 2.8l5.6 2.4l5.6 2l5.5 1.3l5.6 .4l5.6-.7l5.6-1.5l5.5-1.7l5.6-1.3l5.6 .2l5.6 2.4l5.5 5.8l5.6 8.3l5.6 9.9l5.6 9.3l5.5 7.6l5.6 6.1l5.6 4.9l5.6 4.2l5.5 4.3l5.6 3.7l5.6 3.3l5.5 3l5.6 2.7l5.6 2.5l5.6 2.3l5.5 2.1l5.6 1.9l5.6 1.7l5.6 1.6l2 .6"/>
<path class="c" d="M133.3 44.2l2 1.9l5.6 5.3l5.5 4.8l5.6 4.4l5.6 4.2l5.6 4.1l5.5 4l5.6 4.1l5.6 4.1l5.6 3.9l5.5 3.5l5.6 3l5.6 2.6l5.6 2.1l5.5 1.5l5.6 .5l5.6-.6l5.6-1.5l5.5-1.7l5.6-1.4l5.6-.1l5.6 2.1l5.5 5.4l5.6 7.8l5.6 9.3l5.6 8.9l5.5 7.4l5.6 6l5.6 4.9l5.6 4.1l5.5 3.4l5.6 2.8l5.6 2.4l5.5 1.9l5.6 2.1l5.6 1.9l5.6 1.6l5.5 1.5l5.6 1.3l5.6 1.3l5.6 1.3l2 .5"/>
<path class="p" d="M133.3 55.0l2 2l5.6 5.8l5.5 5.3l5.6 5l5.6 4.7l5.6 4.7l5.5 4.8l5.6 4.9l5.6 5l5.6 4.8l5.5 4.5l5.6 3.9l5.6 3.4l5.6 3l5.5 2.3l5.6 1.2l5.6 0l5.6-1.2l5.5-2.1l5.6-2l5.6-1.1l5.6 1.2l5.5 4.4l5.6 6.7l5.6 6.9l5.6 6.7l5.5 6.2l5.6 5.4l5.6 5l5.6 4.3l5.5 3.8l5.6 3.5l5.6 3.2l5.5 2.9l5.6 2.6l5.6 2.4l5.6 2.1l5.5 1.8l5.6 1.7l5.6 1.7l5.6 1.8l2 .6"/>
<path class="c" d="M133.3 54.9l2 2.1l5.6 5.7l5.5 5.4l5.6 5l5.6 4.8l5.6 4.9l5.5 5l5.6 5.1l5.6 5.3l5.6 5.2l5.5 5l5.6 4.4l5.6 3.9l5.6 3.6l5.5 3.3l5.6 2.1l5.6 .9l5.6-.3l5.5-1.4l5.6-1.4l5.6-.4l5.6 1.8l5.5 4.9l5.6 7l5.6 6.8l5.6 5.7l5.5 6l5.6 5.4l5.6 5.3l5.6 4.7l5.5 4.2l5.6 4.2l5.6 4l5.5 3.9l5.6 3.6l5.6 3.6l5.6 3.1l5.5 2.8l5.6 2.7l5.6 2.6l5.6 2.7l2 1"/>
<path class="p" d="M133.3 58.7l2 2.1l5.6 6.2l5.5 5.7l5.6 5.3l5.6 4.9l5.6 4.9l5.5 4.8l5.6 4.7l5.6 4.6l5.6 4.1l5.5 3.4l5.6 2.7l5.6 1.9l5.6 1.3l5.5 .1l5.6-1.5l5.6-3l5.6-4.6l5.5-5.5l5.6-4.7l5.6-2.8l5.6 0l5.5 3.7l5.6 6l5.6 7.8l5.6 8.6l5.5 7.1l5.6 5.6l5.6 4.4l5.6 2.9l5.5 1.8l5.6 1.5l5.6 .9l5.5 .5l5.6 .2l5.6 0l5.6-.3l5.5-.5l5.6-.4l5.6-.3l5.6 .1l2 0"/>
<path class="c" d="M133.3 58.6l2 2.2l5.6 6.1l5.5 5.7l5.6 5.3l5.6 5l5.6 4.9l5.5 4.9l5.6 4.9l5.6 4.8l5.6 4.4l5.5 3.9l5.6 3.1l5.6 2.5l5.6 2l5.5 1l5.6-.6l5.6-2.2l5.6-3.9l5.5-5.2l5.6-4.7l5.6-2.8l5.6 .5l5.5 4.3l5.6 6.8l5.6 7.8l5.6 7.3l5.5 6.1l5.6 5.1l5.6 4.2l5.6 3.2l5.5 2.4l5.6 2l5.6 1.4l5.5 1l5.6 .7l5.6 .5l5.6 .2l5.5-.1l5.6 0l5.6 .1l5.6 .5l2 .1"/>
<path class="p" d="M133.3 44.6l2 2.1l5.6 5.9l5.5 5.5l5.6 5.2l5.6 4.9l5.6 5l5.5 5.1l5.6 5.3l5.6 5.5l5.6 5.5l5.5 5.3l5.6 5l5.6 4.2l5.6 3.6l5.5 2.8l5.6 1.7l5.6 .4l5.6-1.2l5.5-2.4l5.6-2.1l5.6-.5l5.6 2.6l5.5 6.4l5.6 8.7l5.6 8.4l5.6 6.9l5.5 6.5l5.6 5.6l5.6 5.3l5.6 4.6l5.5 4.1l5.6 4l5.6 3.7l5.5 3.5l5.6 3.3l5.6 3.2l5.6 2.8l5.5 2.5l5.6 2.3l5.6 2.3l5.6 2.3l2 .8"/>
<path class="c" d="M133.3 44.9l2 2.1l5.6 5.9l5.5 5.5l5.6 5.2l5.6 5.1l5.6 5.1l5.5 5.2l5.6 5.5l5.6 5.6l5.6 5.6l5.5 5.4l5.6 4.9l5.6 4.2l5.6 3.6l5.5 3l5.6 1.8l5.6 .5l5.6-1l5.5-2.2l5.6-2l5.6-.4l5.6 2.4l5.5 6.1l5.6 8.3l5.6 8.1l5.6 6.6l5.5 6.3l5.6 5.3l5.6 5.2l5.6 4.4l5.5 3.9l5.6 3.8l5.6 3.5l5.5 3.2l5.6 3.1l5.6 2.8l5.6 2.5l5.5 2.2l5.6 2l5.6 2l5.6 2.2l2 .7"/>
<path class="p" d="M133.3 51.1l2 2.4l5.6 6.8l5.5 6.2l5.6 5.7l5.6 5.3l5.6 5.1l5.5 5l5.6 4.9l5.6 4.6l5.6 4.1l5.5 3.4l5.6 2.5l5.6 1.4l5.6 0l5.5-1.5l5.6-2.8l5.6-4.3l5.6-5.6l5.5-5.8l5.6-4.7l5.6-2.7l5.6-.2l5.5 3l5.6 5.3l5.6 7.3l5.6 8l5.5 6.7l5.6 5.3l5.6 3.8l5.6 1.8l5.5 .1l5.6 .2l5.6 0l5.5-.2l5.6-.3l5.6-.2l5.6-.6l5.5-.6l5.6-.7l5.6-.7l5.6-.6l2-.2"/>
<path class="c" d="M133.3 51.2l2 2.4l5.6 6.7l5.5 6.2l5.6 5.7l5.6 5.4l5.6 5.3l5.5 5.2l5.6 5.1l5.6 5l5.6 4.7l5.5 4l5.6 3.2l5.6 2.4l5.6 1.5l5.5 .3l5.6-1.4l5.6-3.1l5.6-4.9l5.5-5.7l5.6-5l5.6-2.9l5.6 0l5.5 3.7l5.6 6.1l5.6 8.1l5.6 8.5l5.5 7.1l5.6 5.5l5.6 4.2l5.6 2.8l5.5 1.7l5.6 1.3l5.6 .9l5.5 .6l5.6 .4l5.6 .3l5.6 0l5.5-.2l5.6-.1l5.6-.1l5.6 .1l2 .1"/>
<path class="p" d="M133.3 50.6l2 1.6l5.6 4.7l5.5 4.3l5.6 4l5.6 3.9l5.6 4l5.5 4l5.6 4.3l5.6 4.3l5.6 4.2l5.5 4l5.6 3.6l5.6 3.2l5.6 2.6l5.5 1.7l5.6 .6l5.6-.8l5.6-2.2l5.5-3l5.6-2.7l5.6-1.1l5.6 1.8l5.5 5.5l5.6 7.9l5.6 8.8l5.6 8.3l5.5 6.6l5.6 5.4l5.6 4.5l5.6 3.6l5.5 3l5.6 2.6l5.6 2l5.5 1.7l5.6 1.4l5.6 1.1l5.6 .9l5.5 .7l5.6 .7l5.6 .8l5.6 .9l2 .3"/>
<path class="c" d="M133.3 50.6l2 1.7l5.6 4.7l5.5 4.3l5.6 4.1l5.6 4l5.6 4l5.5 4.2l5.6 4.3l5.6 4.5l5.6 4.4l5.5 4.3l5.6 3.8l5.6 3.5l5.6 2.9l5.5 2.1l5.6 1l5.6-.2l5.6-1.7l5.5-2.5l5.6-2.3l5.6-.6l5.6 2.4l5.5 6.1l5.6 8.5l5.6 8.7l5.6 7.4l5.5 6.2l5.6 5.1l5.6 4.4l5.6 3.6l5.5 3l5.6 2.5l5.6 2l5.5 1.5l5.6 1.2l5.6 .9l5.6 .7l5.5 .5l5.6 .6l5.6 .7l5.6 1l2 .4"/>
<path class="p" d="M133.3 57.9l2 2.3l5.6 6.4l5.5 6l5.6 5.7l5.6 5.5l5.6 5.5l5.5 5.8l5.6 5.8l5.6 5.9l5.6 5.7l5.5 5.1l5.6 4.3l5.6 3.8l5.6 4l5.5 3.5l5.6 1.9l5.6 .4l5.6-1.1l5.5-2.2l5.6-2.3l5.6-1.3l5.6 .8l5.5 4l5.6 6l5.6 5.5l5.6 5.1l5.5 5.5l5.6 4.9l5.6 5l5.6 4.3l5.5 3.8l5.6 3.8l5.6 3.6l5.5 3.4l5.6 3.2l5.6 3.1l5.6 2.7l5.5 2.4l5.6 2.3l5.6 2.3l5.6 2.4l2 .8"/>
<path class="c" d="M133.3 57.8l2 2.3l5.6 6.4l5.5 6l5.6 5.7l5.6 5.5l5.6 5.5l5.5 5.8l5.6 5.8l5.6 6l5.6 5.7l5.5 5.1l5.6 4.4l5.6 3.9l5.6 4.1l5.5 3.7l5.6 2.1l5.6 .7l5.6-.9l5.5-2.1l5.6-2l5.6-1l5.6 1.3l5.5 4.7l5.6 6.9l5.6 6.3l5.6 5.2l5.5 5.9l5.6 5.4l5.6 5.6l5.6 5.1l5.5 4.7l5.6 4.8l5.6 4.9l5.5 4.8l5.6 4.8l5.6 4.9l5.6 4.4l5.5 4l5.6 4l5.6 3.8l5.6 3.9l2 1.4"/>
<path class="p" d="M133.3 58.5l2 2.3l5.6 6.3l5.5 5.9l5.6 5.6l5.6 5.4l5.6 5.4l5.5 5.7l5.6 5.7l5.6 5.7l5.6 5.5l5.5 5l5.6 4.2l5.6 3.6l5.6 3.9l5.5 3.4l5.6 2l5.6 .4l5.6-.9l5.5-2.1l5.6-2l5.6-.8l5.6 1.5l5.5 5l5.6 7.2l5.6 6.7l5.6 5.3l5.5 6.1l5.6 5.5l5.6 5.9l5.6 5.2l5.5 4.9l5.6 5.1l5.6 5.2l5.5 5.2l5.6 5.3l5.6 5.3l5.6 4.9l5.5 4.6l5.6 4.5l5.6 4.4l5.6 4.3l2 1.5"/>
<path class="c" d="M133.3 58.4l2 2.3l5.6 6.3l5.5 5.9l5.6 5.6l5.6 5.3l5.6 5.5l5.5 5.5l5.6 5.7l5.6 5.6l5.6 5.4l5.5 4.8l5.6 4.1l5.6 3.5l5.6 3.5l5.5 3.1l5.6 1.5l5.6 .1l5.6-1.3l5.5-2.3l5.6-2.2l5.6-1.2l5.6 1.1l5.5 4.5l5.6 6.6l5.6 6.5l5.6 5.5l5.5 5.9l5.6 5.2l5.6 5.3l5.6 4.7l5.5 4.3l5.6 4.3l5.6 4.2l5.5 4.1l5.6 4l5.6 3.9l5.6 3.6l5.5 3.3l5.6 3.1l5.6 3l5.6 3l2 1.1"/>
<path class="p" d="M133.3 55.5l2 2.3l5.6 6.5l5.5 6.1l5.6 5.6l5.6 5.5l5.6 5.3l5.5 5.5l5.6 5.5l5.6 5.5l5.6 5.3l5.5 4.6l5.6 3.9l5.6 3.3l5.6 3.1l5.5 2.5l5.6 1.1l5.6-.2l5.6-1.4l5.5-2.3l5.6-2.2l5.6-1.3l5.6 .7l5.5 3.9l5.6 6.1l5.6 6.3l5.6 5.5l5.5 5.4l5.6 4.8l5.6 4.4l5.6 3.9l5.5 3.4l5.6 3.1l5.6 2.9l5.5 2.5l5.6 2.4l5.6 2.1l5.6 1.9l5.5 1.7l5.6 1.6l5.6 1.6l5.6 1.6l2 .6"/>
<path class="c" d="M133.3 55.3l2 2.4l5.6 6.5l5.5 6l5.6 5.7l5.6 5.4l5.6 5.3l5.5 5.5l5.6 5.5l5.6 5.4l5.6 5.2l5.5 4.6l5.6 3.8l5.6 3.2l5.6 2.9l5.5 2.3l5.6 .8l5.6-.4l5.6-1.8l5.5-2.7l5.6-2.6l5.6-1.7l5.6 .4l5.5 3.5l5.6 5.8l5.6 6.1l5.6 5.5l5.5 5.3l5.6 4.5l5.6 4.1l5.6 3.4l5.5 3l5.6 2.5l5.6 2.2l5.5 1.9l5.6 1.6l5.6 1.4l5.6 1.2l5.5 1l5.6 1.1l5.6 1l5.6 1.3l2 .4"/>
</g>
<path stroke="#ff0000" stroke-width="2.1" d="M133.3 51.7l2 2.2l5.6 6.3l5.5 5.8l5.6 5.3l5.6 4.8l5.6 4.7l5.5 4.6l5.6 4.7l5.6 4.6l5.6 4.5l5.5 4.2l5.6 3.6l5.6 3l5.6 2.1l5.5 1.2l5.6 .3l5.6-.9l5.6-2l5.5-2.9l5.6-2.6l5.6-1.1l5.6 1.4l5.5 4.8l5.6 7.3l5.6 7.9l5.6 7l5.5 6l5.6 5l5.6 4.3l5.6 3.6l5.5 3.1l5.6 2.6l5.6 2.2l5.5 1.7l5.6 1.4l5.6 1.1l5.6 1l5.5 .9l5.6 .9l5.6 .9l5.6 1l2 .4"/>
<path stroke="#0000ff" stroke-width="2.2" d="M133.3 51.1l2 2.1l5.6 6l5.5 5.4l5.6 5l5.6 4.8l5.6 4.6l5.5 4.6l5.6 4.7l5.6 4.7l5.6 4.5l5.5 4.1l5.6 3.7l5.6 2.9l5.6 2.2l5.5 1.2l5.6 .2l5.6-.8l5.6-2.1l5.5-2.8l5.6-2.6l5.6-1.2l5.6 1.4l5.5 4.9l5.6 7.2l5.6 7.9l5.6 7.1l5.5 5.9l5.6 5.1l5.6 4.2l5.6 3.7l5.5 3.1l5.6 2.6l5.6 2.1l5.5 1.8l5.6 1.6l5.6 1.2l5.6 1.1l5.5 1l5.6 1l5.6 1l5.6 1.1l2 .4"/>
</g>
<g stroke="#000" stroke-width="1.6" fill="none" stroke-linecap="butt">
<rect x="90.7" y="28.9" width="297.3" height="225.1"/>
</g>
<g stroke="#000" stroke-width="1.3" fill="none">
<path d="M90.7 254.0v-4.6M90.7 28.9v4.6M105.6 254.0v-2.4M105.6 28.9v2.4M120.4 254.0v-2.4M120.4 28.9v2.4M135.3 254.0v-2.4M135.3 28.9v2.4M150.2 254.0v-2.4M150.2 28.9v2.4M165.0 254.0v-4.6M165.0 28.9v4.6M179.9 254.0v-2.4M179.9 28.9v2.4M194.8 254.0v-2.4M194.8 28.9v2.4M209.6 254.0v-2.4M209.6 28.9v2.4M224.5 254.0v-2.4M224.5 28.9v2.4M239.4 254.0v-4.6M239.4 28.9v4.6M254.2 254.0v-2.4M254.2 28.9v2.4M269.1 254.0v-2.4M269.1 28.9v2.4M283.9 254.0v-2.4M283.9 28.9v2.4M298.8 254.0v-2.4M298.8 28.9v2.4M313.7 254.0v-4.6M313.7 28.9v4.6M328.5 254.0v-2.4M328.5 28.9v2.4M343.4 254.0v-2.4M343.4 28.9v2.4M358.3 254.0v-2.4M358.3 28.9v2.4M373.1 254.0v-2.4M373.1 28.9v2.4M388.0 254.0v-4.6M388.0 28.9v4.6M90.7 254.0h6.2M388.0 254.0h-6.2M90.7 246.5h3.2M388.0 246.5h-3.2M90.7 239.0h3.2M388.0 239.0h-3.2M90.7 231.5h3.2M388.0 231.5h-3.2M90.7 224.0h3.2M388.0 224.0h-3.2M90.7 216.5h6.2M388.0 216.5h-6.2M90.7 209.0h3.2M388.0 209.0h-3.2M90.7 201.5h3.2M388.0 201.5h-3.2M90.7 194.0h3.2M388.0 194.0h-3.2M90.7 186.5h3.2M388.0 186.5h-3.2M90.7 179.0h6.2M388.0 179.0h-6.2M90.7 171.5h3.2M388.0 171.5h-3.2M90.7 164.0h3.2M388.0 164.0h-3.2M90.7 156.5h3.2M388.0 156.5h-3.2M90.7 149.0h3.2M388.0 149.0h-3.2M90.7 141.4h6.2M388.0 141.4h-6.2M90.7 133.9h3.2M388.0 133.9h-3.2M90.7 126.4h3.2M388.0 126.4h-3.2M90.7 118.9h3.2M388.0 118.9h-3.2M90.7 111.4h3.2M388.0 111.4h-3.2M90.7 103.9h6.2M388.0 103.9h-6.2M90.7 96.4h3.2M388.0 96.4h-3.2M90.7 88.9h3.2M388.0 88.9h-3.2M90.7 81.4h3.2M388.0 81.4h-3.2M90.7 73.9h3.2M388.0 73.9h-3.2M90.7 66.4h6.2M388.0 66.4h-6.2M90.7 58.9h3.2M388.0 58.9h-3.2M90.7 51.4h3.2M388.0 51.4h-3.2M90.7 43.9h3.2M388.0 43.9h-3.2M90.7 36.4h3.2M388.0 36.4h-3.2M90.7 28.9h6.2M388.0 28.9h-6.2"/>
</g>
<g font-size="16.9">
<text x="86.0" y="39.0" text-anchor="end">150</text>
<text x="86.0" y="72.3" text-anchor="end">100</text>
<text x="86.0" y="109.8" text-anchor="end">50</text>
<text x="86.0" y="147.3" text-anchor="end">0</text>
<text x="86.0" y="184.9" text-anchor="end"><tspan dy=".7">–</tspan><tspan dy="-.7" dx="1.3">50</tspan></text>
<text x="86.0" y="222.4" text-anchor="end"><tspan dy=".7">–</tspan><tspan dy="-.7" dx="1.3">100</tspan></text>
<text x="86.0" y="254.8" text-anchor="end"><tspan dy=".7">–</tspan><tspan dy="-.7" dx="1.3">150</tspan></text>
<text x="90.4" y="276.2" text-anchor="middle">0</text>
<text x="164.7" y="276.2" text-anchor="middle">50</text>
<text x="239.1" y="276.2" text-anchor="middle">100</text>
<text x="313.4" y="276.2" text-anchor="middle">150</text>
<text x="387.7" y="276.2" text-anchor="middle">200</text>
</g>
<text x="88.3" y="20.4" font-size="22.6" textLength="301.4" lengthAdjust="spacingAndGlyphs">Averaging fitting of QPM LOWZ</text>
<text x="239.3" y="295.2" font-size="17.4" text-anchor="middle">comoving r [ Mpc/h ]</text>
<text transform="translate(33.2,144.8) rotate(-90)" font-size="17.4" text-anchor="middle">r <tspan dy="-7" font-size="11.5">2</tspan><tspan dy="7"> ξ(r) [ (Mpc/h)</tspan><tspan dy="-7" font-size="11.5">2</tspan><tspan dy="7"> ]</tspan></text>
<path d="M108.0 208.9H149.4" stroke="#ff3030" stroke-width="1.5"/>
<path d="M108.0 237.9H149.4" stroke="#3030ff" stroke-width="1.5"/>
<text x="167.7" y="216.0" font-size="22.2">wiggly Nr(z)</text>
<text x="167.7" y="245.0" font-size="22.2">smooth Nr(z)</text>
<clipPath id="c1"><rect x="550.0" y="0" width="223.3" height="312"/></clipPath>
<g fill="none" stroke-linejoin="round" stroke-linecap="butt" clip-path="url(#c1)">
<g stroke-width="1.5">
<path class="p" d="M548.3 60.0l2 1.5l5.6 4.4l5.5 4.3l5.6 4.4l5.6 4.2l5.6 4.2l5.5 4l5.6 3.6l5.6 2.8l5.6 2.3l5.5 2.2l5.6 1.9l5.6 1.6l5.6 1.2l5.5 .6l5.6-.8l5.6-4.1l5.6-5.7l5.5-4.6l5.6-3.6l5.6-1.1l5.6 .9l5.5 2.7l5.6 4.5l5.6 6.1l5.6 7.7l5.5 7.3l5.6 6.6l5.6 8.7l5.6 4.9l5.5 1.1l5.6-.1l5.6-.2l5.5-.4l5.6-.8l5.6-1l5.6-1.3l5.5-1.5l5.6-1.7l5.6-1.8l5.6-2l2-.7"/>
<path class="p" d="M548.3 73.7l2 1.9l5.6 5.4l5.5 5.4l5.6 5.3l5.6 5.3l5.6 5.7l5.5 5.9l5.6 5.6l5.6 5l5.6 4.8l5.5 4.7l5.6 4.9l5.6 3.5l5.6 1.8l5.5 1.2l5.6 .9l5.6 .4l5.6-2.1l5.5-4.5l5.6-4.2l5.6-1.7l5.6 2.4l5.5 6.1l5.6 7.7l5.6 8.6l5.6 8.2l5.5 7.7l5.6 6.9l5.6 5.6l5.6 4.5l5.5 3.7l5.6 3.5l5.6 3.3l5.5 3.3l5.6 3.9l5.6 4.4l5.6 4.2l5.5 4.1l5.6 4.2l5.6 4.3l5.6 4.7l2 1.6"/>
<path class="p" d="M548.3 67.8l2 1.9l5.6 5.2l5.5 5.3l5.6 5.1l5.6 5l5.6 5l5.5 4.8l5.6 4.5l5.6 4.2l5.6 3.7l5.5 3.4l5.6 3l5.6 2.3l5.6 1.5l5.5 .8l5.6 0l5.6-2l5.6-4.7l5.5-5.9l5.6-5.1l5.6-2.2l5.6 1.2l5.5 4.2l5.6 6.7l5.6 7.8l5.6 7.7l5.5 7.3l5.6 6.3l5.6 5.1l5.6 3.9l5.5 3l5.6 2.5l5.6 2l5.5 1.6l5.6 1l5.6 .6l5.6 .4l5.5 .2l5.6 .2l5.6 .4l5.6 .6l2 .2"/>
<path class="c" d="M548.3 67.7l2 1.9l5.6 5.2l5.5 5.3l5.6 5.1l5.6 5l5.6 5l5.5 4.8l5.6 4.5l5.6 4l5.6 3.7l5.5 3.3l5.6 2.8l5.6 2.1l5.6 1.2l5.5 .6l5.6-.4l5.6-2.5l5.6-5.4l5.5-6.6l5.6-5.5l5.6-2.6l5.6 .7l5.5 3.6l5.6 5.9l5.6 7.6l5.6 9l5.5 8.1l5.6 6.9l5.6 5.5l5.6 4.1l5.5 3.2l5.6 2.6l5.6 2.2l5.5 1.6l5.6 .9l5.6 .4l5.6 .3l5.5 0l5.6 .2l5.6 .2l5.6 .4l2 .2"/>
<path class="p" d="M548.3 70.2l2 1.9l5.6 5.3l5.5 5.3l5.6 5.3l5.6 5.1l5.6 5.3l5.5 5.5l5.6 5.1l5.6 4.7l5.6 4.5l5.5 4.3l5.6 4.5l5.6 3.4l5.6 2l5.5 1.5l5.6 1l5.6 .2l5.6-2.4l5.5-4.4l5.6-4l5.6-1.3l5.6 2.8l5.5 6.6l5.6 8.4l5.6 9.1l5.6 8.7l5.5 8l5.6 7.2l5.6 6l5.6 4.8l5.5 4.1l5.6 3.7l5.6 3.6l5.5 3.6l5.6 4.3l5.6 4.8l5.6 4.6l5.5 4.6l5.6 4.7l5.6 4.9l5.6 5.2l2 1.9"/>
<path class="c" d="M548.3 70.1l2 1.9l5.6 5.3l5.5 5.3l5.6 5.3l5.6 5.1l5.6 5.3l5.5 5.4l5.6 5l5.6 4.6l5.6 4.4l5.5 4.2l5.6 4.2l5.6 3.2l5.6 2l5.5 1.4l5.6 .9l5.6 0l5.6-2.5l5.5-4.4l5.6-3.9l5.6-1.3l5.6 2.7l5.5 6.4l5.6 8.3l5.6 9.1l5.6 8.7l5.5 8.1l5.6 7.2l5.6 6l5.6 4.7l5.5 4.1l5.6 3.7l5.6 3.5l5.5 3.5l5.6 4.1l5.6 4.5l5.6 4.4l5.5 4.2l5.6 4.4l5.6 4.6l5.6 4.9l2 1.7"/>
<path class="p" d="M548.3 70.0l2 1.7l5.6 4.8l5.5 4.6l5.6 4.5l5.6 4.3l5.6 4.2l5.5 3.9l5.6 3.5l5.6 3l5.6 2.6l5.5 2.3l5.6 2l5.6 1.7l5.6 1.4l5.5 1l5.6 .3l5.6-1.5l5.6-3.2l5.5-3.4l5.6-2.6l5.6-.3l5.6 2.3l5.5 5l5.6 7.4l5.6 8.7l5.6 8.7l5.5 8.5l5.6 7.6l5.6 6.4l5.6 5l5.5 4.2l5.6 3.8l5.6 3.3l5.5 3l5.6 3.1l5.6 3l5.6 2.8l5.5 2.7l5.6 2.7l5.6 2.6l5.6 2.6l2 1"/>
<path class="c" d="M548.3 69.9l2 1.7l5.6 4.8l5.5 4.7l5.6 4.5l5.6 4.4l5.6 4.2l5.5 4l5.6 3.5l5.6 3.1l5.6 2.6l5.5 2.3l5.6 2l5.6 1.5l5.6 1.3l5.5 .8l5.6 0l5.6-1.8l5.6-3.5l5.5-3.7l5.6-2.8l5.6-.6l5.6 1.7l5.5 4.1l5.6 6.3l5.6 8l5.6 8.7l5.5 8.2l5.6 7.1l5.6 5.8l5.6 4.9l5.5 4l5.6 3.5l5.6 3.1l5.5 2.7l5.6 2.5l5.6 2.4l5.6 2.2l5.5 2.1l5.6 2l5.6 2l5.6 1.9l2 .7"/>
<path class="p" d="M548.3 59.4l2 1.6l5.6 4.4l5.5 4.5l5.6 4.4l5.6 4.4l5.6 4.3l5.5 4.2l5.6 3.6l5.6 3.1l5.6 2.5l5.5 2.4l5.6 2l5.6 1.7l5.6 1.2l5.5 .7l5.6-.7l5.6-3.7l5.6-5.5l5.5-4.7l5.6-3.5l5.6-1.3l5.6 1.1l5.5 3l5.6 4.9l5.6 7.2l5.6 8.8l5.5 8l5.6 7l5.6 5.7l5.6 4.5l5.5 3.6l5.6 3.2l5.6 2.6l5.5 1.9l5.6 .4l5.6-.7l5.6-.7l5.5-.7l5.6-.8l5.6-.7l5.6-.6l2-.2"/>
<path class="c" d="M548.3 59.4l2 1.6l5.6 4.5l5.5 4.4l5.6 4.5l5.6 4.3l5.6 4.3l5.5 4l5.6 3.6l5.6 2.9l5.6 2.4l5.5 2.2l5.6 1.9l5.6 1.4l5.6 1.1l5.5 .5l5.6-.9l5.6-4.1l5.6-5.8l5.5-4.9l5.6-3.7l5.6-1.4l5.6 .8l5.5 2.7l5.6 4.5l5.6 6.3l5.6 8.1l5.5 7.7l5.6 6.7l5.6 5.7l5.6 4.7l5.5 3.8l5.6 3.4l5.6 2.9l5.5 2l5.6 .2l5.6-1.1l5.6-1l5.5-1l5.6-1l5.6-1.1l5.6-.9l2-.4"/>
<path class="p" d="M548.3 61.9l2 1.7l5.6 4.7l5.5 4.6l5.6 4.6l5.6 4.6l5.6 4.5l5.5 4.3l5.6 4l5.6 3.5l5.6 3.1l5.5 2.9l5.6 2.5l5.6 2.1l5.6 1.7l5.5 1.2l5.6 .1l5.6-2.2l5.6-4l5.5-4l5.6-3.2l5.6-1l5.6 1.3l5.5 3.5l5.6 5.6l5.6 7.8l5.6 9.5l5.5 8.8l5.6 7.8l5.6 6.2l5.6 4.8l5.5 3.8l5.6 3.2l5.6 2.7l5.5 2.1l5.6 1.8l5.6 1.4l5.6 1.2l5.5 1.1l5.6 1.1l5.6 1.1l5.6 1.2l2 .4"/>
<path class="c" d="M548.3 61.9l2 1.7l5.6 4.7l5.5 4.6l5.6 4.5l5.6 4.5l5.6 4.4l5.5 4.1l5.6 3.9l5.6 3.2l5.6 2.9l5.5 2.7l5.6 2.3l5.6 2l5.6 1.6l5.5 1l5.6 0l5.6-2.3l5.6-4l5.5-3.9l5.6-2.9l5.6-.7l5.6 1.6l5.5 3.8l5.6 5.8l5.6 8.1l5.6 9.9l5.5 9.2l5.6 7.9l5.6 6.4l5.6 4.8l5.5 3.8l5.6 3.2l5.6 2.6l5.5 2.1l5.6 1.8l5.6 1.4l5.6 1.3l5.5 1.1l5.6 1.1l5.6 1.2l5.6 1.2l2 .5"/>
<path class="p" d="M548.3 68.8l2 1.8l5.6 5.1l5.5 5l5.6 5l5.6 5l5.6 5l5.5 4.9l5.6 4.7l5.6 4.3l5.6 4.2l5.5 3.9l5.6 3.8l5.6 3.2l5.6 2.3l5.5 1.8l5.6 1.4l5.6 .6l5.6-1.4l5.5-3.2l5.6-2.9l5.6-.9l5.6 2.5l5.5 5.8l5.6 7.4l5.6 8.4l5.6 8.1l5.5 7.7l5.6 7l5.6 5.8l5.6 4.5l5.5 3.8l5.6 3.4l5.6 3.1l5.5 3l5.6 3.5l5.6 3.7l5.6 3.5l5.5 3.5l5.6 3.4l5.6 3.7l5.6 3.8l2 1.4"/>
<path class="c" d="M548.3 68.7l2 1.8l5.6 5.1l5.5 5l5.6 5l5.6 4.9l5.6 5l5.5 4.8l5.6 4.6l5.6 4.3l5.6 4l5.5 3.8l5.6 3.6l5.6 3l5.6 2.1l5.5 1.6l5.6 1.1l5.6 .2l5.6-1.9l5.5-3.4l5.6-3l5.6-1.1l5.6 2.1l5.5 5l5.6 6.8l5.6 7.7l5.6 7.8l5.5 7.6l5.6 6.7l5.6 5.5l5.6 4.3l5.5 3.5l5.6 3l5.6 2.7l5.5 2.5l5.6 2.6l5.6 2.8l5.6 2.5l5.5 2.3l5.6 2.4l5.6 2.5l5.6 2.7l2 1"/>
<path class="p" d="M548.3 59.9l2 1.7l5.6 4.7l5.5 4.7l5.6 4.7l5.6 4.6l5.6 4.5l5.5 4.2l5.6 3.8l5.6 3.2l5.6 2.7l5.5 2.5l5.6 2.1l5.6 1.7l5.6 1.3l5.5 .8l5.6-.4l5.6-3.1l5.6-4.8l5.5-4.3l5.6-3.2l5.6-.7l5.6 1.7l5.5 4.1l5.6 6.4l5.6 9.1l5.6 11.1l5.5 10.2l5.6 8.8l5.6 7l5.6 5.3l5.5 4.1l5.6 3.3l5.6 2.7l5.5 2.2l5.6 2.5l5.6 2.7l5.6 2.7l5.5 2.5l5.6 2.4l5.6 2.2l5.6 1.9l2 .8"/>
<path class="c" d="M548.3 60.0l2 1.7l5.6 4.7l5.5 4.8l5.6 4.7l5.6 4.6l5.6 4.5l5.5 4.2l5.6 3.9l5.6 3.2l5.6 2.8l5.5 2.6l5.6 2.2l5.6 1.8l5.6 1.4l5.5 .9l5.6-.3l5.6-2.8l5.6-4.6l5.5-4.2l5.6-3.1l5.6-.7l5.6 1.6l5.5 4l5.6 6.2l5.6 8.6l5.6 10.7l5.5 9.8l5.6 8.5l5.6 6.8l5.6 5.2l5.5 4l5.6 3.4l5.6 2.7l5.5 2.2l5.6 1.8l5.6 1.6l5.6 1.3l5.5 1.3l5.6 1.6l5.6 1.7l5.6 1.6l2 .6"/>
<path class="p" d="M548.3 68.0l2 1.8l5.6 5.2l5.5 5.2l5.6 5.1l5.6 5l5.6 4.9l5.5 5l5.6 4.6l5.6 4.3l5.6 3.9l5.5 3.8l5.6 3.5l5.6 2.8l5.6 2l5.5 1.4l5.6 .6l5.6-.9l5.6-3.6l5.5-5.1l5.6-4.3l5.6-1.2l5.6 2.6l5.5 6.4l5.6 8.7l5.6 9.6l5.6 8.6l5.5 7.8l5.6 6.8l5.6 5.4l5.6 4.1l5.5 3.4l5.6 2.9l5.6 2.6l5.5 2.3l5.6 2.5l5.6 2.6l5.6 2.3l5.5 2.2l5.6 2.3l5.6 2.3l5.6 2.6l2 .9"/>
<path class="c" d="M548.3 67.8l2 1.9l5.6 5.2l5.5 5.1l5.6 5l5.6 4.9l5.6 4.9l5.5 4.7l5.6 4.3l5.6 4l5.6 3.7l5.5 3.2l5.6 2.9l5.6 2.3l5.6 1.5l5.5 1l5.6 .1l5.6-1.8l5.6-4.5l5.5-5.7l5.6-4.7l5.6-1.6l5.6 1.9l5.5 5.3l5.6 7.9l5.6 8.8l5.6 8.6l5.5 8l5.6 6.8l5.6 5.5l5.6 4.2l5.5 3.4l5.6 2.9l5.6 2.4l5.5 2.2l5.6 1.9l5.6 1.9l5.6 1.7l5.5 1.5l5.6 1.5l5.6 1.6l5.6 1.7l2 .6"/>
<path class="p" d="M548.3 60.0l2 1.8l5.6 4.9l5.5 5.1l5.6 5.1l5.6 5l5.6 5l5.5 4.8l5.6 4.5l5.6 4l5.6 3.6l5.5 3.3l5.6 2.9l5.6 2.3l5.6 1.8l5.5 1.1l5.6 0l5.6-2.2l5.6-4.6l5.5-5l5.6-4l5.6-1.6l5.6 1.1l5.5 3.5l5.6 5.7l5.6 7.7l5.6 9.5l5.5 8.8l5.6 7.5l5.6 6.1l5.6 4.7l5.5 3.6l5.6 3.1l5.6 2.6l5.5 2l5.6 1.6l5.6 1.3l5.6 1l5.5 .9l5.6 .9l5.6 .9l5.6 1.1l2 .4"/>
<path class="c" d="M548.3 60.1l2 1.8l5.6 5l5.5 5.1l5.6 5.1l5.6 5.1l5.6 5l5.5 4.9l5.6 4.6l5.6 4.1l5.6 3.8l5.5 3.5l5.6 3.1l5.6 2.6l5.6 2l5.5 1.4l5.6 .3l5.6-1.7l5.6-4.1l5.5-4.8l5.6-3.9l5.6-1.5l5.6 1.5l5.5 4.1l5.6 6.5l5.6 7.9l5.6 8.7l5.5 8l5.6 6.9l5.6 5.6l5.6 4.3l5.5 3.3l5.6 2.9l5.6 2.3l5.5 2l5.6 1.5l5.6 1.3l5.6 1.1l5.5 1l5.6 1l5.6 1l5.6 1.2l2 .4"/>
<path class="p" d="M548.3 64.2l2 1.6l5.6 4.4l5.5 4.3l5.6 4l5.6 3.9l5.6 3.8l5.5 3.6l5.6 3.3l5.6 2.8l5.6 2.4l5.5 2.2l5.6 2l5.6 1.6l5.6 1.4l5.5 .9l5.6-.4l5.6-3l5.6-4.7l5.5-4.2l5.6-3l5.6-.5l5.6 2l5.5 4.4l5.6 6.7l5.6 9.1l5.6 11l5.5 10l5.6 8.5l5.6 6.8l5.6 5.1l5.5 4l5.6 3.3l5.6 2.6l5.5 2.2l5.6 1.8l5.6 1.5l5.6 1.6l5.5 1.8l5.6 1.8l5.6 1.7l5.6 1.6l2 .6"/>
<path class="c" d="M548.3 64.3l2 1.6l5.6 4.5l5.5 4.2l5.6 4.2l5.6 4l5.6 3.8l5.5 3.8l5.6 3.4l5.6 2.8l5.6 2.5l5.5 2.3l5.6 2.1l5.6 1.7l5.6 1.4l5.5 .9l5.6-.3l5.6-2.8l5.6-4.7l5.5-4.2l5.6-3.1l5.6-.5l5.6 2.2l5.5 4.8l5.6 7.2l5.6 9.6l5.6 11l5.5 9.8l5.6 8.3l5.6 6.4l5.6 4.8l5.5 3.8l5.6 3.7l5.6 3.5l5.5 3.3l5.6 3l5.6 2.9l5.6 2.7l5.5 2.6l5.6 2.4l5.6 2.3l5.6 2.1l2 .8"/>
<path class="p" d="M548.3 65.8l2 2.1l5.6 6l5.5 5.8l5.6 5.7l5.6 5.4l5.6 5.5l5.5 5.3l5.6 5l5.6 4.6l5.6 4.1l5.5 3.8l5.6 3.5l5.6 2.5l5.6 1.4l5.5 .6l5.6-.1l5.6-1.8l5.6-4.6l5.5-6l5.6-5.1l5.6-2.4l5.6 1.1l5.5 4.1l5.6 6.7l5.6 7.6l5.6 7.7l5.5 7.2l5.6 6.1l5.6 5l5.6 3.9l5.5 3.1l5.6 2.7l5.6 2.2l5.5 1.9l5.6 1.5l5.6 1.4l5.6 1.1l5.5 1.1l5.6 1l5.6 1.2l5.6 1.2l2 .5"/>
<path class="c" d="M548.3 65.9l2 2.1l5.6 5.9l5.5 5.8l5.6 5.7l5.6 5.5l5.6 5.4l5.5 5.5l5.6 5l5.6 4.6l5.6 4.3l5.5 3.8l5.6 3.7l5.6 2.6l5.6 1.5l5.5 .7l5.6 0l5.6-1.6l5.6-4.3l5.5-5.9l5.6-5.1l5.6-2.3l5.6 1.1l5.5 4.2l5.6 6.6l5.6 7.6l5.6 7.5l5.5 6.9l5.6 5.9l5.6 4.6l5.6 3.5l5.5 3l5.6 2.6l5.6 2.2l5.5 1.8l5.6 1.5l5.6 1.3l5.6 1.1l5.5 1l5.6 1l5.6 1.1l5.6 1.2l2 .5"/>
<path class="p" d="M548.3 60.4l2 1.6l5.6 4.3l5.5 4.4l5.6 4.3l5.6 4.2l5.6 4.1l5.5 4l5.6 3.7l5.6 2.9l5.6 2.5l5.5 2.3l5.6 2l5.6 1.7l5.6 1.2l5.5 .6l5.6-.9l5.6-3.9l5.6-5.9l5.5-5.1l5.6-3.9l5.6-1.4l5.6 .9l5.5 2.8l5.6 4.8l5.6 6.7l5.6 8.3l5.5 7.7l5.6 6.5l5.6 5.4l5.6 4.3l5.5 3.5l5.6 3.1l5.6 2.6l5.5 1.8l5.6 0l5.6-1.4l5.6-1.2l5.5-1.2l5.6-1.2l5.6-1.2l5.6-1.1l2-.4"/>
<path class="c" d="M548.3 60.6l2 1.6l5.6 4.3l5.5 4.4l5.6 4.3l5.6 4.2l5.6 4.2l5.5 4l5.6 3.6l5.6 3l5.6 2.4l5.5 2.3l5.6 2l5.6 1.5l5.6 1.1l5.5 .5l5.6-1l5.6-4.2l5.6-6l5.5-5.2l5.6-4l5.6-1.4l5.6 .8l5.5 2.8l5.6 4.7l5.6 6.4l5.6 8.2l5.5 7.7l5.6 6.6l5.6 5.6l5.6 4.5l5.5 3.6l5.6 3.3l5.6 2.7l5.5 2l5.6 0l5.6-1.3l5.6-1.2l5.5-1.1l5.6-1.2l5.6-1.1l5.6-1.1l2-.4"/>
<path class="p" d="M548.3 62.2l2 2l5.6 5.5l5.5 5.5l5.6 5.5l5.6 5.4l5.6 5.2l5.5 4.9l5.6 4.5l5.6 4.2l5.6 3.7l5.5 3.3l5.6 2.8l5.6 2.2l5.6 1.7l5.5 1.1l5.6 .3l5.6-1.2l5.6-3.3l5.5-3.9l5.6-3.4l5.6-1.5l5.6 .6l5.5 2.8l5.6 4.6l5.6 6.4l5.6 7.8l5.5 7.8l5.6 6.9l5.6 5.7l5.6 4.4l5.5 3.4l5.6 2.9l5.6 2.5l5.5 1.9l5.6 1.6l5.6 1.2l5.6 1.1l5.5 .9l5.6 .9l5.6 1l5.6 1l2 .4"/>
<path class="c" d="M548.3 62.3l2 2l5.6 5.5l5.5 5.6l5.6 5.5l5.6 5.4l5.6 5.2l5.5 4.9l5.6 4.5l5.6 4.2l5.6 3.7l5.5 3.2l5.6 2.7l5.6 2.1l5.6 1.6l5.5 1l5.6 .3l5.6-1.3l5.6-3.2l5.5-3.9l5.6-3.2l5.6-1.4l5.6 .9l5.5 2.8l5.6 4.9l5.6 6.5l5.6 7.9l5.5 7.9l5.6 7l5.6 5.7l5.6 4.4l5.5 3.5l5.6 2.9l5.6 2.4l5.5 2l5.6 1.7l5.6 1.3l5.6 1.2l5.5 1.1l5.6 1.1l5.6 1.1l5.6 1.2l2 .4"/>
<path class="p" d="M548.3 68.0l2 2.2l5.6 6.1l5.5 5.9l5.6 5.7l5.6 5.6l5.6 5.6l5.5 5.8l5.6 5.3l5.6 4.9l5.6 4.4l5.5 4.2l5.6 4.2l5.6 2.8l5.6 1.4l5.5 .8l5.6 .4l5.6-.3l5.6-2.6l5.5-4.3l5.6-3.9l5.6-1.9l5.6 1.4l5.5 4.1l5.6 5.6l5.6 6.7l5.6 7.1l5.5 7l5.6 6.4l5.6 5.3l5.6 4.1l5.5 3.4l5.6 3.1l5.6 2.7l5.5 2.5l5.6 2.6l5.6 2.6l5.6 2.4l5.5 2.4l5.6 2.3l5.6 2.4l5.6 2.4l2 .9"/>
<path class="c" d="M548.3 67.9l2 2.2l5.6 6.1l5.5 5.9l5.6 5.7l5.6 5.5l5.6 5.6l5.5 5.8l5.6 5.3l5.6 4.8l5.6 4.4l5.5 4.1l5.6 4.2l5.6 2.8l5.6 1.5l5.5 .9l5.6 .4l5.6-.3l5.6-2.5l5.5-4.2l5.6-3.9l5.6-1.8l5.6 1.5l5.5 4.3l5.6 5.9l5.6 6.8l5.6 7.1l5.5 7l5.6 6.3l5.6 5.2l5.6 4l5.5 3.3l5.6 2.8l5.6 2.6l5.5 2.3l5.6 2.5l5.6 2.4l5.6 2.3l5.5 2.1l5.6 2.2l5.6 2.2l5.6 2.3l2 .8"/>
<path class="p" d="M548.3 66.6l2 1.9l5.6 5.2l5.5 5.2l5.6 5.2l5.6 5.1l5.6 5l5.5 4.9l5.6 4.7l5.6 4.4l5.6 4.1l5.5 3.8l5.6 3.7l5.6 2.9l5.6 2.1l5.5 1.3l5.6 .7l5.6-.9l5.6-3.5l5.5-4.9l5.6-4.2l5.6-1.6l5.6 2l5.5 5.3l5.6 7.4l5.6 8.4l5.6 8.1l5.5 7.4l5.6 6.5l5.6 5.1l5.6 3.9l5.5 3l5.6 2.5l5.6 2.2l5.5 1.9l5.6 1.7l5.6 1.7l5.6 1.5l5.5 1.4l5.6 1.4l5.6 1.5l5.6 1.7l2 .7"/>
<path class="c" d="M548.3 66.6l2 1.8l5.6 5.2l5.5 5.2l5.6 5.2l5.6 5l5.6 5l5.5 4.8l5.6 4.6l5.6 4.3l5.6 4l5.5 3.6l5.6 3.5l5.6 2.8l5.6 2l5.5 1.4l5.6 .5l5.6-1l5.6-3.6l5.5-5l5.6-4.2l5.6-1.5l5.6 2l5.5 5.2l5.6 7.6l5.6 8.6l5.6 8.2l5.5 7.7l5.6 6.5l5.6 5.2l5.6 3.9l5.5 3.1l5.6 2.5l5.6 2.2l5.5 1.8l5.6 1.8l5.6 1.6l5.6 1.5l5.5 1.3l5.6 1.4l5.6 1.4l5.6 1.7l2 .6"/>
<path class="p" d="M548.3 67.1l2 1.9l5.6 5.2l5.5 5.1l5.6 5l5.6 4.8l5.6 4.6l5.5 4.2l5.6 3.8l5.6 3.4l5.6 2.7l5.5 2.3l5.6 1.9l5.6 1.4l5.6 1l5.5 .5l5.6-.5l5.6-2.7l5.6-4.7l5.5-4.8l5.6-3.6l5.6-1l5.6 2l5.5 4.8l5.6 7.6l5.6 9.5l5.6 9.6l5.5 8.7l5.6 7.3l5.6 6.2l5.6 5.3l5.5 4.4l5.6 3.9l5.6 3.6l5.5 3.2l5.6 3.1l5.6 3.1l5.6 2.8l5.5 2.8l5.6 2.6l5.6 2.5l5.6 2.4l2 .9"/>
<path class="c" d="M548.3 67.0l2 1.9l5.6 5.2l5.5 5.1l5.6 4.9l5.6 4.8l5.6 4.5l5.5 4.2l5.6 3.6l5.6 3.2l5.6 2.7l5.5 2.2l5.6 1.7l5.6 1.3l5.6 .9l5.5 .3l5.6-.6l5.6-3l5.6-5l5.5-5l5.6-3.8l5.6-1.4l5.6 1.4l5.5 3.8l5.6 6.1l5.6 8.4l5.6 10.3l5.5 9.4l5.6 8.1l5.6 6.5l5.6 5l5.5 3.9l5.6 3.3l5.6 2.7l5.5 2.2l5.6 1.8l5.6 1.5l5.6 1.3l5.5 1.2l5.6 1.2l5.6 1.3l5.6 1.3l2 .5"/>
<path class="p" d="M548.3 64.0l2 1.7l5.6 4.9l5.5 4.7l5.6 4.7l5.6 4.6l5.6 4.4l5.5 4.3l5.6 3.9l5.6 3.5l5.6 3.1l5.5 2.7l5.6 2.4l5.6 1.9l5.6 1.5l5.5 .8l5.6-.4l5.6-2.7l5.6-5l5.5-5.1l5.6-4l5.6-1.5l5.6 1.1l5.5 3.6l5.6 5.7l5.6 8l5.6 9.5l5.5 8.7l5.6 7.4l5.6 6l5.6 4.5l5.5 3.5l5.6 3l5.6 2.5l5.5 1.9l5.6 1.2l5.6 .7l5.6 .5l5.5 .3l5.6 .4l5.6 .4l5.6 .6l2 .2"/>
<path class="c" d="M548.3 64.0l2 1.8l5.6 4.8l5.5 4.8l5.6 4.7l5.6 4.5l5.6 4.4l5.5 4.3l5.6 3.9l5.6 3.4l5.6 3l5.5 2.6l5.6 2.3l5.6 1.8l5.6 1.2l5.5 .7l5.6-.6l5.6-3.2l5.6-5.4l5.5-5.4l5.6-4.4l5.6-1.8l5.6 .8l5.5 3.1l5.6 5.1l5.6 7.5l5.6 9.5l5.5 8.7l5.6 7.2l5.6 5.9l5.6 4.4l5.5 3.4l5.6 3l5.6 2.4l5.5 1.8l5.6 .6l5.6 0l5.6-.2l5.5-.3l5.6-.2l5.6-.2l5.6-.1l2 0"/>
<path class="p" d="M548.3 69.8l2 2l5.6 5.7l5.5 5.6l5.6 5.6l5.6 5.5l5.6 5.7l5.5 5.9l5.6 5.6l5.6 5.1l5.6 4.8l5.5 4.7l5.6 5l5.6 3.6l5.6 1.9l5.5 1.3l5.6 1l5.6 .5l5.6-2l5.5-4.4l5.6-4l5.6-1.6l5.6 2.3l5.5 5.8l5.6 7.5l5.6 8.2l5.6 8l5.5 7.4l5.6 6.7l5.6 5.4l5.6 4.3l5.5 3.4l5.6 3.1l5.6 2.8l5.5 2.6l5.6 3.1l5.6 3.4l5.6 3.1l5.5 2.9l5.6 3.1l5.6 3.2l5.6 3.7l2 1.3"/>
<path class="c" d="M548.3 69.7l2 2.1l5.6 5.6l5.5 5.7l5.6 5.6l5.6 5.4l5.6 5.8l5.5 5.9l5.6 5.6l5.6 5.1l5.6 4.9l5.5 4.7l5.6 4.9l5.6 3.6l5.6 1.9l5.5 1.4l5.6 1l5.6 .5l5.6-2l5.5-4.3l5.6-4l5.6-1.7l5.6 2.4l5.5 6l5.6 7.6l5.6 8.5l5.6 8.1l5.5 7.6l5.6 6.8l5.6 5.7l5.6 4.5l5.5 3.7l5.6 3.4l5.6 3.2l5.5 3.2l5.6 3.7l5.6 4.1l5.6 3.9l5.5 3.8l5.6 3.9l5.6 4.1l5.6 4.5l2 1.6"/>
<path class="p" d="M548.3 59.9l2 1.5l5.6 4.4l5.5 4.3l5.6 4.4l5.6 4.3l5.6 4.3l5.5 4l5.6 3.7l5.6 3.1l5.6 2.6l5.5 2.5l5.6 2.3l5.6 1.8l5.6 1.6l5.5 1l5.6-.4l5.6-3l5.6-5l5.5-4.3l5.6-3.3l5.6-.6l5.6 2l5.5 4.6l5.6 7l5.6 9.7l5.6 11.1l5.5 9.9l5.6 8.4l5.6 6.6l5.6 5.1l5.5 4l5.6 3.2l5.6 2.7l5.5 2.2l5.6 1.7l5.6 1.5l5.6 1.3l5.5 1.2l5.6 1.1l5.6 1.2l5.6 1.3l2 .4"/>
<path class="c" d="M548.3 59.9l2 1.6l5.6 4.3l5.5 4.4l5.6 4.4l5.6 4.3l5.6 4.2l5.5 4.1l5.6 3.7l5.6 3.1l5.6 2.6l5.5 2.5l5.6 2.2l5.6 1.8l5.6 1.5l5.5 .9l5.6-.5l5.6-3.2l5.6-5.2l5.5-4.5l5.6-3.5l5.6-1l5.6 1.5l5.5 3.6l5.6 5.8l5.6 8.3l5.6 10.6l5.5 9.7l5.6 8.3l5.6 6.8l5.6 5.3l5.5 4.3l5.6 3.6l5.6 3l5.5 2.4l5.6 1.7l5.6 1.2l5.6 1l5.5 .9l5.6 .9l5.6 .8l5.6 1l2 .3"/>
<path class="p" d="M548.3 71.7l2 1.9l5.6 5.6l5.5 5.4l5.6 5.4l5.6 5.3l5.6 5.6l5.5 5.8l5.6 5.4l5.6 4.9l5.6 4.5l5.5 4.4l5.6 4.5l5.6 3l5.6 1.5l5.5 .8l5.6 .4l5.6-.3l5.6-2.9l5.5-5l5.6-4.6l5.6-2.1l5.6 1.5l5.5 4.6l5.6 6.5l5.6 7.3l5.6 7.4l5.5 6.9l5.6 6.1l5.6 4.9l5.6 3.7l5.5 2.9l5.6 2.5l5.6 2.1l5.5 2l5.6 1.9l5.6 2l5.6 1.8l5.5 1.7l5.6 1.7l5.6 1.8l5.6 2.1l2 .7"/>
<path class="c" d="M548.3 71.6l2 2l5.6 5.5l5.5 5.5l5.6 5.4l5.6 5.3l5.6 5.6l5.5 5.8l5.6 5.4l5.6 4.9l5.6 4.6l5.5 4.4l5.6 4.5l5.6 3.1l5.6 1.5l5.5 .9l5.6 .5l5.6-.2l5.6-2.8l5.5-4.9l5.6-4.4l5.6-2l5.6 1.7l5.5 5l5.6 6.8l5.6 7.6l5.6 7.6l5.5 7.1l5.6 6.2l5.6 5l5.6 3.9l5.5 3l5.6 2.7l5.6 2.4l5.5 2.2l5.6 2.4l5.6 2.4l5.6 2.2l5.5 2.1l5.6 2.2l5.6 2.3l5.6 2.5l2 .9"/>
<path class="p" d="M548.3 70.8l2 2.1l5.6 5.8l5.5 5.6l5.6 5.6l5.6 5.4l5.6 5.8l5.5 5.9l5.6 5.6l5.6 5.1l5.6 4.8l5.5 4.6l5.6 5l5.6 3.5l5.6 1.8l5.5 1.2l5.6 .8l5.6 .4l5.6-2.1l5.5-4.5l5.6-4.2l5.6-1.7l5.6 2.3l5.5 5.9l5.6 7.6l5.6 8.4l5.6 8.2l5.5 7.6l5.6 6.9l5.6 5.7l5.6 4.5l5.5 3.9l5.6 3.5l5.6 3.3l5.5 3.3l5.6 3.9l5.6 4.4l5.6 4.1l5.5 4.1l5.6 4.3l5.6 4.4l5.6 4.7l2 1.7"/>
<path class="c" d="M548.3 70.7l2 2.1l5.6 5.8l5.5 5.6l5.6 5.6l5.6 5.4l5.6 5.8l5.5 5.9l5.6 5.6l5.6 5.1l5.6 4.8l5.5 4.7l5.6 4.9l5.6 3.5l5.6 1.9l5.5 1.2l5.6 .9l5.6 .4l5.6-2.1l5.5-4.4l5.6-4.1l5.6-1.7l5.6 2.4l5.5 6.1l5.6 7.8l5.6 8.6l5.6 8.3l5.5 7.7l5.6 6.9l5.6 5.9l5.6 4.6l5.5 4l5.6 3.7l5.6 3.5l5.5 3.5l5.6 4.2l5.6 4.8l5.6 4.5l5.5 4.5l5.6 4.7l5.6 4.9l5.6 5.3l2 1.8"/>
<path class="p" d="M548.3 63.8l2 2l5.6 5.7l5.5 5.8l5.6 5.6l5.6 5.4l5.6 5.2l5.5 5.1l5.6 4.8l5.6 4.5l5.6 4.2l5.5 3.8l5.6 3.5l5.6 2.7l5.6 1.9l5.5 1.3l5.6 .7l5.6-.7l5.6-2.8l5.5-4.1l5.6-3.5l5.6-1.3l5.6 1.6l5.5 4.3l5.6 6.2l5.6 7.2l5.6 7.2l5.5 6.9l5.6 6.2l5.6 4.9l5.6 3.7l5.5 2.8l5.6 2.4l5.6 1.9l5.5 1.7l5.6 1.4l5.6 1.3l5.6 1.1l5.5 1l5.6 1l5.6 1.2l5.6 1.3l2 .5"/>
<path class="c" d="M548.3 63.9l2 2l5.6 5.7l5.5 5.8l5.6 5.6l5.6 5.4l5.6 5.3l5.5 5.1l5.6 4.9l5.6 4.6l5.6 4.1l5.5 3.8l5.6 3.5l5.6 2.7l5.6 1.8l5.5 1.2l5.6 .4l5.6-1l5.6-3.4l5.5-4.7l5.6-4.1l5.6-1.8l5.6 1.1l5.5 3.8l5.6 5.9l5.6 6.9l5.6 7l5.5 6.7l5.6 5.8l5.6 4.7l5.6 3.8l5.5 3l5.6 2.6l5.6 2.2l5.5 1.8l5.6 1.5l5.6 1.3l5.6 1.1l5.5 .9l5.6 1l5.6 1l5.6 1.2l2 .5"/>
<path class="p" d="M548.3 70.1l2 1.8l5.6 4.9l5.5 4.7l5.6 4.7l5.6 4.6l5.6 4.4l5.5 4.2l5.6 3.8l5.6 3.3l5.6 2.8l5.5 2.1l5.6 1.7l5.6 1.2l5.6 .8l5.5 .2l5.6-.6l5.6-2.5l5.6-4.3l5.5-4.4l5.6-3.6l5.6-1.8l5.6 .1l5.5 1.8l5.6 3.8l5.6 6.2l5.6 8.2l5.5 7.8l5.6 6.6l5.6 5.4l5.6 4l5.5 3.1l5.6 2.7l5.6 2.2l5.5 1.6l5.6 .4l5.6-.6l5.6-.5l5.5-.6l5.6-.6l5.6-.5l5.6-.4l2-.1"/>
<path class="c" d="M548.3 69.9l2 1.8l5.6 4.8l5.5 4.8l5.6 4.6l5.6 4.4l5.6 4.3l5.5 3.9l5.6 3.5l5.6 2.8l5.6 2.2l5.5 1.7l5.6 1.3l5.6 .8l5.6 .5l5.5-.1l5.6-1.1l5.6-3.4l5.6-5.1l5.5-4.8l5.6-3.8l5.6-1.9l5.6 .1l5.5 1.8l5.6 3.7l5.6 6.2l5.6 8.6l5.5 8l5.6 6.8l5.6 5.8l5.6 4.5l5.5 3.6l5.6 3.2l5.6 2.7l5.5 1.9l5.6 .5l5.6-.5l5.6-.5l5.5-.6l5.6-.5l5.6-.6l5.6-.4l2-.2"/>
<path class="p" d="M548.3 59.5l2 1.7l5.6 4.6l5.5 4.7l5.6 4.6l5.6 4.5l5.6 4.4l5.5 4.2l5.6 3.7l5.6 3l5.6 2.5l5.5 2.1l5.6 1.9l5.6 1.3l5.6 1l5.5 .4l5.6-1.1l5.6-4l5.6-5.7l5.5-5l5.6-3.8l5.6-1.5l5.6 .6l5.5 2.4l5.6 4.3l5.6 6.2l5.6 7.9l5.5 7.6l5.6 6.7l5.6 5.7l5.6 4.7l5.5 3.7l5.6 3.5l5.6 2.9l5.5 2l5.6 .1l5.6-1.1l5.6-1.1l5.5-1l5.6-1l5.6-1.1l5.6-1l2-.4"/>
<path class="c" d="M548.3 59.7l2 1.6l5.6 4.7l5.5 4.7l5.6 4.7l5.6 4.6l5.6 4.5l5.5 4.2l5.6 3.9l5.6 3.2l5.6 2.7l5.5 2.5l5.6 2l5.6 1.6l5.6 1.2l5.5 .5l5.6-.7l5.6-3.6l5.6-5.2l5.5-4.7l5.6-3.7l5.6-1.6l5.6 .5l5.5 2.2l5.6 4.2l5.6 6.3l5.6 8.3l5.5 7.8l5.6 6.8l5.6 5.7l5.6 4.5l5.5 3.6l5.6 3.3l5.6 2.7l5.5 2l5.6 .2l5.6-.9l5.6-.8l5.5-.8l5.6-.9l5.6-.8l5.6-.8l2-.3"/>
<path class="p" d="M548.3 63.7l2 1.8l5.6 5l5.5 4.8l5.6 4.5l5.6 4.2l5.6 3.9l5.5 3.5l5.6 3.1l5.6 2.4l5.6 1.8l5.5 1.6l5.6 1.3l5.6 1l5.6 .6l5.5 .2l5.6-1.3l5.6-4.2l5.6-6l5.5-4.9l5.6-3.8l5.6-1.4l5.6 .8l5.5 2.7l5.6 4.6l5.6 6.3l5.6 8.3l5.5 8.1l5.6 7.2l5.6 6.3l5.6 5.4l5.5 4.5l5.6 4.1l5.6 3.6l5.5 2.9l5.6 1.3l5.6 .4l5.6 .5l5.5 .5l5.6 .4l5.6 .2l5.6 .1l2 .1"/>
<path class="c" d="M548.3 63.8l2 1.8l5.6 5.1l5.5 4.8l5.6 4.6l5.6 4.4l5.6 4.1l5.5 3.8l5.6 3.4l5.6 2.7l5.6 2.3l5.5 1.9l5.6 1.5l5.6 1.2l5.6 .8l5.5 .3l5.6-1.1l5.6-3.8l5.6-5.7l5.5-4.9l5.6-3.8l5.6-1.4l5.6 1.1l5.5 3.1l5.6 5.2l5.6 7.6l5.6 10l5.5 9.5l5.6 8.3l5.6 7.1l5.6 5.8l5.5 4.7l5.6 4.2l5.6 3.5l5.5 2.9l5.6 2.1l5.6 1.5l5.6 1.4l5.5 1.1l5.6 1.1l5.6 1.1l5.6 1l2 .4"/>
<path class="p" d="M548.3 72.0l2 1.9l5.6 5.3l5.5 5.2l5.6 5.1l5.6 5l5.6 5l5.5 5l5.6 4.3l5.6 3.5l5.6 2.7l5.5 2.1l5.6 1.4l5.6 .2l5.6-.4l5.5-1.1l5.6-2.1l5.6-4.3l5.6-6.5l5.5-6.4l5.6-5.2l5.6-2.6l5.6-.1l5.5 2.2l5.6 4.2l5.6 6.5l5.6 8.9l5.5 8.3l5.6 7.1l5.6 5.9l5.6 4.6l5.5 3.7l5.6 3.3l5.6 2.8l5.5 2.2l5.6 .7l5.6-.2l5.6-.2l5.5-.2l5.6-.3l5.6-.3l5.6-.1l2-.1"/>
<path class="c" d="M548.3 71.9l2 1.9l5.6 5.3l5.5 5.2l5.6 5.2l5.6 4.9l5.6 5.1l5.5 5.1l5.6 4.4l5.6 3.7l5.6 3.1l5.5 2.5l5.6 1.9l5.6 .8l5.6-.1l5.5-.7l5.6-1.5l5.6-3.7l5.6-6l5.5-6.3l5.6-5.1l5.6-2.7l5.6 0l5.5 2.2l5.6 4.3l5.6 6.8l5.6 9.1l5.5 8.5l5.6 7.2l5.6 5.9l5.6 4.7l5.5 3.7l5.6 3.2l5.6 2.7l5.5 2.1l5.6 1.1l5.6 .4l5.6 .4l5.5 .2l5.6 .2l5.6 .3l5.6 .3l2 .1"/>
<path class="p" d="M548.3 66.5l2 2.3l5.6 6.4l5.5 6.3l5.6 6.1l5.6 5.9l5.6 6l5.5 6.1l5.6 5.8l5.6 5.2l5.6 4.9l5.5 4.8l5.6 5l5.6 3.6l5.6 1.9l5.5 1.3l5.6 .9l5.6 .5l5.6-2.1l5.5-4.4l5.6-4.1l5.6-1.6l5.6 2.3l5.5 6l5.6 7.7l5.6 8.4l5.6 8.2l5.5 7.6l5.6 6.7l5.6 5.6l5.6 4.4l5.5 3.7l5.6 3.2l5.6 3.1l5.5 2.9l5.6 3.5l5.6 3.8l5.6 3.6l5.5 3.4l5.6 3.5l5.6 3.8l5.6 4.2l2 1.5"/>
<path class="c" d="M548.3 66.5l2 2.3l5.6 6.4l5.5 6.3l5.6 6.1l5.6 5.9l5.6 6l5.5 6.2l5.6 5.7l5.6 5.3l5.6 4.9l5.5 4.8l5.6 5l5.6 3.6l5.6 1.9l5.5 1.3l5.6 .9l5.6 .5l5.6-2.1l5.5-4.5l5.6-4.1l5.6-1.7l5.6 2.4l5.5 5.9l5.6 7.7l5.6 8.3l5.6 8.1l5.5 7.6l5.6 6.6l5.6 5.6l5.6 4.2l5.5 3.6l5.6 3.2l5.6 2.9l5.5 2.8l5.6 3.4l5.6 3.6l5.6 3.4l5.5 3.2l5.6 3.4l5.6 3.6l5.6 4l2 1.4"/>
<path class="p" d="M548.3 70.7l2 2l5.6 5.5l5.5 5.5l5.6 5.5l5.6 5.2l5.6 5.6l5.5 5.6l5.6 5.3l5.6 4.8l5.6 4.3l5.5 4.1l5.6 4.1l5.6 2.7l5.6 1.2l5.5 .5l5.6 0l5.6-1.2l5.6-3.9l5.5-5.7l5.6-5.3l5.6-3l5.6 .1l5.5 2.8l5.6 4.6l5.6 5.4l5.6 6.9l5.5 6.9l5.6 6.3l5.6 5.1l5.6 3.9l5.5 3.1l5.6 2.7l5.6 2.2l5.5 1.8l5.6 1.5l5.6 1.2l5.6 .9l5.5 .9l5.6 .9l5.6 .9l5.6 1.1l2 .4"/>
<path class="c" d="M548.3 70.6l2 2l5.6 5.6l5.5 5.5l5.6 5.5l5.6 5.3l5.6 5.6l5.5 5.8l5.6 5.4l5.6 4.9l5.6 4.6l5.5 4.5l5.6 4.5l5.6 3.3l5.6 1.7l5.5 1.1l5.6 .6l5.6 0l5.6-2.5l5.5-4.7l5.6-4.3l5.6-1.9l5.6 1.7l5.5 5.1l5.6 6.8l5.6 7.6l5.6 7.4l5.5 6.8l5.6 6l5.6 4.7l5.6 3.4l5.5 2.6l5.6 2.2l5.6 1.9l5.5 1.6l5.6 1.6l5.6 1.7l5.6 1.4l5.5 1.3l5.6 1.4l5.6 1.6l5.6 1.8l2 .7"/>
<path class="p" d="M548.3 66.9l2 1.7l5.6 4.7l5.5 4.8l5.6 4.6l5.6 4.4l5.6 4.2l5.5 4l5.6 3.8l5.6 3.3l5.6 3.1l5.5 2.8l5.6 2.4l5.6 2.1l5.6 1.7l5.5 1.2l5.6 .7l5.6-.9l5.6-2.3l5.5-2.6l5.6-2.1l5.6-.6l5.6 1.4l5.5 3.5l5.6 5.3l5.6 6.7l5.6 7.2l5.5 7.4l5.6 6.7l5.6 5.5l5.6 4.1l5.5 3.3l5.6 2.8l5.6 2.3l5.5 1.9l5.6 1.6l5.6 1.3l5.6 1.1l5.5 1.1l5.6 1l5.6 1.1l5.6 1.2l2 .4"/>
<path class="c" d="M548.3 66.7l2 1.8l5.6 4.8l5.5 4.7l5.6 4.6l5.6 4.4l5.6 4.1l5.5 3.9l5.6 3.7l5.6 3.3l5.6 2.9l5.5 2.6l5.6 2.3l5.6 1.8l5.6 1.5l5.5 1l5.6 .3l5.6-1.6l5.6-3l5.5-3l5.6-2.4l5.6-.8l5.6 1l5.5 2.8l5.6 4.6l5.6 6.7l5.6 8.5l5.5 8.4l5.6 7.3l5.6 6.1l5.6 4.6l5.5 3.6l5.6 3l5.6 2.5l5.5 2.1l5.6 1.6l5.6 1.3l5.6 1.2l5.5 1l5.6 .9l5.6 1.1l5.6 1.1l2 .4"/>
<path class="p" d="M548.3 68.9l2 2.1l5.6 5.9l5.5 5.8l5.6 5.6l5.6 5.4l5.6 5.7l5.5 5.7l5.6 5.4l5.6 4.9l5.6 4.5l5.5 4.4l5.6 4.4l5.6 3.2l5.6 1.8l5.5 1.1l5.6 .7l5.6 .1l5.6-2.5l5.5-4.4l5.6-4l5.6-1.4l5.6 2.4l5.5 6l5.6 7.9l5.6 8.8l5.6 8.5l5.5 8l5.6 7.1l5.6 6l5.6 4.8l5.5 4l5.6 3.8l5.6 3.6l5.5 3.5l5.6 4.1l5.6 4.6l5.6 4.4l5.5 4.4l5.6 4.5l5.6 4.7l5.6 4.9l2 1.7"/>
<path class="c" d="M548.3 68.8l2 2.1l5.6 5.9l5.5 5.8l5.6 5.6l5.6 5.5l5.6 5.6l5.5 5.8l5.6 5.4l5.6 5l5.6 4.5l5.5 4.4l5.6 4.6l5.6 3.2l5.6 1.8l5.5 1.1l5.6 .7l5.6 0l5.6-2.6l5.5-4.6l5.6-4.2l5.6-1.6l5.6 2.3l5.5 5.8l5.6 7.7l5.6 8.5l5.6 8.4l5.5 7.8l5.6 6.9l5.6 5.7l5.6 4.6l5.5 3.8l5.6 3.5l5.6 3.2l5.5 3.2l5.6 3.7l5.6 4.1l5.6 3.8l5.5 3.8l5.6 3.9l5.6 4l5.6 4.3l2 1.5"/>
<path class="p" d="M548.3 62.1l2 1.6l5.6 4.4l5.5 4.4l5.6 4.3l5.6 4.3l5.6 4.2l5.5 4.1l5.6 3.7l5.6 3.1l5.6 2.8l5.5 2.5l5.6 2.2l5.6 1.7l5.6 1.4l5.5 .8l5.6-.5l5.6-3.3l5.6-5.2l5.5-4.8l5.6-3.8l5.6-1.3l5.6 1l5.5 3.1l5.6 5.1l5.6 7.5l5.6 9.5l5.5 8.8l5.6 7.5l5.6 6.1l5.6 4.8l5.5 3.7l5.6 3.3l5.6 2.7l5.5 2.1l5.6 .9l5.6 .2l5.6 .1l5.5 0l5.6 0l5.6 0l5.6 .1l2 .1"/>
<path class="c" d="M548.3 62.2l2 1.6l5.6 4.4l5.5 4.4l5.6 4.3l5.6 4.3l5.6 4.2l5.5 4l5.6 3.7l5.6 3l5.6 2.7l5.5 2.4l5.6 2.1l5.6 1.7l5.6 1.4l5.5 .7l5.6-.6l5.6-3.4l5.6-5.3l5.5-4.8l5.6-3.8l5.6-1.4l5.6 .9l5.5 3l5.6 5.1l5.6 7.3l5.6 9.5l5.5 8.8l5.6 7.4l5.6 6.1l5.6 4.8l5.5 3.7l5.6 3.3l5.6 2.7l5.5 2l5.6 .8l5.6-.1l5.6-.1l5.5-.2l5.6-.2l5.6-.1l5.6-.1l2 0"/>
<path class="p" d="M548.3 66.1l2 2.3l5.6 6.5l5.5 6.3l5.6 6l5.6 5.8l5.6 5.9l5.5 5.9l5.6 5.6l5.6 5l5.6 4.7l5.5 4.5l5.6 4.5l5.6 3.2l5.6 1.6l5.5 1l5.6 .5l5.6-.4l5.6-3l5.5-5.1l5.6-4.6l5.6-2.2l5.6 1.7l5.5 5.2l5.6 7.1l5.6 8.1l5.6 8.2l5.5 7.6l5.6 6.7l5.6 5.5l5.6 4.2l5.5 3.5l5.6 3.1l5.6 2.8l5.5 2.7l5.6 2.9l5.6 3l5.6 2.9l5.5 2.8l5.6 2.7l5.6 2.9l5.6 3.1l2 1.1"/>
<path class="c" d="M548.3 66.1l2 2.3l5.6 6.5l5.5 6.2l5.6 6.1l5.6 5.8l5.6 5.9l5.5 6l5.6 5.6l5.6 5.1l5.6 4.8l5.5 4.5l5.6 4.7l5.6 3.3l5.6 1.8l5.5 1.1l5.6 .7l5.6 0l5.6-2.6l5.5-4.7l5.6-4.4l5.6-1.9l5.6 1.9l5.5 5.4l5.6 7.1l5.6 8l5.6 7.7l5.5 7.2l5.6 6.4l5.6 5.1l5.6 3.9l5.5 3.1l5.6 2.7l5.6 2.5l5.5 2.2l5.6 2.6l5.6 2.6l5.6 2.4l5.5 2.3l5.6 2.3l5.6 2.5l5.6 2.7l2 1"/>
<path class="p" d="M548.3 66.0l2 1.8l5.6 5.2l5.5 5.1l5.6 5.1l5.6 4.9l5.6 4.9l5.5 4.6l5.6 4.4l5.6 4.2l5.6 3.9l5.5 3.5l5.6 3.3l5.6 2.8l5.6 2.2l5.5 1.6l5.6 .9l5.6-.5l5.6-2.7l5.5-3.9l5.6-3.3l5.6-.9l5.6 2.2l5.5 5.2l5.6 7.2l5.6 8.1l5.6 8.5l5.5 7.9l5.6 7.1l5.6 5.8l5.6 4.5l5.5 3.7l5.6 3.3l5.6 2.9l5.5 2.6l5.6 2.7l5.6 2.8l5.6 2.6l5.5 2.4l5.6 2.5l5.6 2.5l5.6 2.6l2 .9"/>
<path class="c" d="M548.3 65.9l2 1.8l5.6 5.2l5.5 5.1l5.6 5.1l5.6 4.9l5.6 4.8l5.5 4.6l5.6 4.4l5.6 4.2l5.6 3.9l5.5 3.6l5.6 3.3l5.6 2.8l5.6 2.3l5.5 1.8l5.6 1.1l5.6-.4l5.6-2.6l5.5-3.9l5.6-3.1l5.6-.8l5.6 2.7l5.5 6l5.6 8.1l5.6 9l5.6 8.9l5.5 8.3l5.6 7.4l5.6 6.1l5.6 4.8l5.5 4l5.6 3.6l5.6 3.3l5.5 3.1l5.6 3.5l5.6 3.7l5.6 3.5l5.5 3.4l5.6 3.4l5.6 3.5l5.6 3.7l2 1.3"/>
<path class="p" d="M548.3 60.3l2 1.6l5.6 4.6l5.5 4.7l5.6 4.7l5.6 4.6l5.6 4.7l5.5 4.6l5.6 4.4l5.6 3.9l5.6 3.7l5.5 3.7l5.6 3.4l5.6 3.2l5.6 2.7l5.5 2.2l5.6 1.3l5.6-.6l5.6-3.1l5.5-4l5.6-3.2l5.6-.6l5.6 2.6l5.5 5.7l5.6 8.2l5.6 9.1l5.6 8.8l5.5 8l5.6 7l5.6 5.6l5.6 4.2l5.5 3.4l5.6 2.8l5.6 2.5l5.5 2.1l5.6 2.2l5.6 2l5.6 1.8l5.5 1.7l5.6 1.7l5.6 1.8l5.6 1.9l2 .7"/>
<path class="c" d="M548.3 60.4l2 1.7l5.6 4.6l5.5 4.6l5.6 4.7l5.6 4.7l5.6 4.7l5.5 4.5l5.6 4.3l5.6 3.8l5.6 3.6l5.5 3.4l5.6 3.2l5.6 2.9l5.6 2.5l5.5 1.9l5.6 1.1l5.6-1l5.6-3.2l5.5-3.9l5.6-3l5.6-.3l5.6 2.7l5.5 5.8l5.6 8.2l5.6 9.2l5.6 9.1l5.5 8.5l5.6 7.4l5.6 6.1l5.6 4.7l5.5 3.9l5.6 3.3l5.6 2.9l5.5 2.7l5.6 2.7l5.6 2.7l5.6 2.4l5.5 2.4l5.6 2.3l5.6 2.3l5.6 2.5l2 .8"/>
<path class="p" d="M548.3 63.4l2 1.7l5.6 5l5.5 4.9l5.6 4.8l5.6 4.8l5.6 4.6l5.5 4.5l5.6 4.1l5.6 3.7l5.6 3.3l5.5 3l5.6 2.6l5.6 2.1l5.6 1.6l5.5 1l5.6 0l5.6-2.1l5.6-4.3l5.5-4.6l5.6-3.9l5.6-1.8l5.6 .5l5.5 2.6l5.6 4.6l5.6 6.8l5.6 8.5l5.5 7.9l5.6 6.6l5.6 5.2l5.6 3.8l5.5 2.9l5.6 2.3l5.6 1.9l5.5 1.3l5.6 .2l5.6-.7l5.6-.8l5.5-.8l5.6-.8l5.6-.6l5.6-.4l2-.1"/>
<path class="c" d="M548.3 63.4l2 1.8l5.6 5l5.5 4.9l5.6 4.8l5.6 4.8l5.6 4.6l5.5 4.4l5.6 4l5.6 3.6l5.6 3.2l5.5 2.8l5.6 2.3l5.6 1.9l5.6 1.3l5.5 .6l5.6-.3l5.6-2.7l5.6-4.6l5.5-4.8l5.6-3.9l5.6-1.9l5.6 .2l5.5 2.1l5.6 4.1l5.6 6.4l5.6 8.8l5.5 8.1l5.6 6.8l5.6 5.5l5.6 4.1l5.5 3.2l5.6 2.8l5.6 2.2l5.5 1.6l5.6 .3l5.6-.5l5.6-.7l5.5-.6l5.6-.7l5.6-.6l5.6-.3l2-.2"/>
<path class="p" d="M548.3 65.3l2 1.8l5.6 5.1l5.5 5l5.6 4.6l5.6 4.3l5.6 4.1l5.5 3.7l5.6 3.5l5.6 3l5.6 2.5l5.5 2.3l5.6 2l5.6 1.7l5.6 1.3l5.5 .7l5.6-.4l5.6-3.2l5.6-5.3l5.5-5.3l5.6-4l5.6-.9l5.6 2.3l5.5 5.6l5.6 8.4l5.6 10.6l5.6 11.3l5.5 9.6l5.6 7.8l5.6 7.2l5.6 5.9l5.5 5l5.6 4.4l5.6 4.1l5.5 3.7l5.6 3.7l5.6 3.7l5.6 3.6l5.5 3.3l5.6 3.3l5.6 3.2l5.6 3l2 1"/>
<path class="c" d="M548.3 65.4l2 1.8l5.6 5.2l5.5 4.9l5.6 4.8l5.6 4.4l5.6 4.2l5.5 3.9l5.6 3.6l5.6 3.2l5.6 2.7l5.5 2.5l5.6 2.1l5.6 1.8l5.6 1.4l5.5 .9l5.6-.1l5.6-2.6l5.6-4.8l5.5-4.9l5.6-3.6l5.6-.5l5.6 3.2l5.5 6.6l5.6 9.7l5.6 11l5.6 10.8l5.5 10l5.6 8.9l5.6 7.5l5.6 6l5.5 5.3l5.6 4.7l5.6 4.4l5.5 4.1l5.6 4.4l5.6 4.7l5.6 4.5l5.5 4.4l5.6 4.4l5.6 4.4l5.6 4.3l2 1.5"/>
<path class="p" d="M548.3 65.2l2 1.8l5.6 5.1l5.5 5.2l5.6 5.3l5.6 5.2l5.6 5.2l5.5 5.1l5.6 5.1l5.6 5l5.6 4.8l5.5 4.8l5.6 4.8l5.6 4.1l5.6 3.1l5.5 2.3l5.6 1.8l5.6 .9l5.6-1.5l5.5-3.7l5.6-3.4l5.6-1l5.6 2.8l5.5 6.3l5.6 8.2l5.6 8.8l5.6 8.6l5.5 8l5.6 7.2l5.6 6l5.6 4.8l5.5 4.1l5.6 3.8l5.6 3.7l5.5 3.6l5.6 4.4l5.6 4.9l5.6 4.8l5.5 4.7l5.6 4.9l5.6 5.1l5.6 5.4l2 2"/>
<path class="c" d="M548.3 65.2l2 1.9l5.6 5.1l5.5 5.3l5.6 5.2l5.6 5.4l5.6 5.2l5.5 5.3l5.6 5.3l5.6 5.1l5.6 5.1l5.5 5l5.6 5l5.6 4.3l5.6 3.1l5.5 2.2l5.6 1.8l5.6 .9l5.6-1.6l5.5-3.8l5.6-3.6l5.6-1.3l5.6 2.7l5.5 6.3l5.6 8l5.6 8.7l5.6 8.5l5.5 7.8l5.6 7l5.6 5.9l5.6 4.7l5.5 4l5.6 3.7l5.6 3.6l5.5 3.5l5.6 4.2l5.6 4.7l5.6 4.6l5.5 4.5l5.6 4.6l5.6 4.9l5.6 5.2l2 1.9"/>
<path class="p" d="M548.3 63.5l2 1.6l5.6 4.6l5.5 4.4l5.6 4.4l5.6 4.4l5.6 4.3l5.5 4.1l5.6 3.9l5.6 3.4l5.6 3l5.5 2.9l5.6 2.5l5.6 2.1l5.6 1.7l5.5 1.1l5.6-.1l5.6-2.5l5.6-4.8l5.5-4.8l5.6-3.9l5.6-1.3l5.6 1.2l5.5 3.6l5.6 5.7l5.6 7.8l5.6 10l5.5 9.1l5.6 7.8l5.6 6.2l5.6 4.8l5.5 3.8l5.6 3.1l5.6 2.6l5.5 2.1l5.6 1.4l5.6 1.1l5.6 .8l5.5 .8l5.6 .7l5.6 .7l5.6 .9l2 .3"/>
<path class="c" d="M548.3 63.7l2 1.6l5.6 4.5l5.5 4.5l5.6 4.5l5.6 4.4l5.6 4.4l5.5 4.3l5.6 4l5.6 3.6l5.6 3.2l5.5 3.1l5.6 2.8l5.6 2.4l5.6 2l5.5 1.4l5.6 .3l5.6-1.9l5.6-4.1l5.5-4.6l5.6-3.6l5.6-1.1l5.6 1.8l5.5 4.4l5.6 6.8l5.6 8.4l5.6 9l5.5 8.2l5.6 7l5.6 5.7l5.6 4.2l5.5 3.4l5.6 2.8l5.6 2.3l5.5 1.9l5.6 1.6l5.6 1.2l5.6 1.1l5.5 .9l5.6 1l5.6 .9l5.6 1.2l2 .4"/>
<path class="p" d="M548.3 66.2l2 2.1l5.6 5.7l5.5 5.7l5.6 5.5l5.6 5.4l5.6 5.3l5.5 5.2l5.6 4.9l5.6 4.5l5.6 4l5.5 3.7l5.6 3.3l5.6 2.4l5.6 1.4l5.5 .7l5.6 0l5.6-1.6l5.6-4.2l5.5-5.4l5.6-4.6l5.6-2.1l5.6 1l5.5 3.9l5.6 6.2l5.6 7.4l5.6 7.1l5.5 6.8l5.6 6.3l5.6 5.1l5.6 3.9l5.5 3.1l5.6 2.7l5.6 2.2l5.5 1.8l5.6 1.5l5.6 1.3l5.6 1l5.5 1l5.6 .9l5.6 1l5.6 1.2l2 .4"/>
<path class="c" d="M548.3 66.1l2 2.1l5.6 5.7l5.5 5.6l5.6 5.5l5.6 5.3l5.6 5.3l5.5 5.1l5.6 4.8l5.6 4.4l5.6 3.8l5.5 3.5l5.6 3.1l5.6 2.2l5.6 1.2l5.5 .6l5.6-.3l5.6-1.9l5.6-4.5l5.5-5.7l5.6-4.9l5.6-2.5l5.6 .3l5.5 2.9l5.6 5.1l5.6 6.8l5.6 8.1l5.5 7.8l5.6 6.8l5.6 5.5l5.6 4.1l5.5 3.3l5.6 2.8l5.6 2.2l5.5 1.8l5.6 1.3l5.6 .7l5.6 .6l5.5 .5l5.6 .5l5.6 .5l5.6 .8l2 .2"/>
<path class="p" d="M548.3 60.0l2 1.8l5.6 5.1l5.5 5.2l5.6 5.3l5.6 5.3l5.6 5.3l5.5 5.2l5.6 4.9l5.6 4.5l5.6 4.2l5.5 3.9l5.6 3.5l5.6 2.9l5.6 2.4l5.5 1.8l5.6 1l5.6-.5l5.6-2.6l5.5-3.6l5.6-3l5.6-1l5.6 1.9l5.5 4.5l5.6 6.5l5.6 7.7l5.6 7.6l5.5 7.3l5.6 6.6l5.6 5.3l5.6 4.1l5.5 3.3l5.6 2.8l5.6 2.4l5.5 2.1l5.6 2l5.6 1.9l5.6 1.7l5.5 1.6l5.6 1.6l5.6 1.7l5.6 1.7l2 .7"/>
<path class="c" d="M548.3 60.1l2 1.9l5.6 5l5.5 5.2l5.6 5.3l5.6 5.3l5.6 5.3l5.5 5.1l5.6 4.8l5.6 4.5l5.6 4.1l5.5 3.7l5.6 3.4l5.6 2.7l5.6 2.3l5.5 1.5l5.6 .8l5.6-.9l5.6-3l5.5-4.1l5.6-3.4l5.6-1.3l5.6 1.3l5.5 3.8l5.6 6l5.6 6.9l5.6 7.3l5.5 7.1l5.6 6.4l5.6 5.2l5.6 4l5.5 3.1l5.6 2.7l5.6 2.2l5.5 1.9l5.6 1.6l5.6 1.3l5.6 1.1l5.5 1l5.6 1.1l5.6 1.1l5.6 1.2l2 .4"/>
<path class="p" d="M548.3 64.6l2 2.4l5.6 6.9l5.5 6.7l5.6 6.4l5.6 6.1l5.6 6.2l5.5 6.2l5.6 5.8l5.6 5.3l5.6 4.9l5.5 4.7l5.6 4.9l5.6 3.5l5.6 1.9l5.5 1.2l5.6 .8l5.6 .3l5.6-2.3l5.5-4.7l5.6-4.3l5.6-1.9l5.6 2.2l5.5 5.8l5.6 7.6l5.6 8.4l5.6 8.3l5.5 7.7l5.6 6.9l5.6 5.7l5.6 4.5l5.5 3.8l5.6 3.4l5.6 3.3l5.5 3.2l5.6 3.7l5.6 4.2l5.6 3.9l5.5 3.9l5.6 4l5.6 4.2l5.6 4.5l2 1.5"/>
<path class="c" d="M548.3 64.6l2 2.4l5.6 6.9l5.5 6.6l5.6 6.4l5.6 6.2l5.6 6.1l5.5 6.3l5.6 5.8l5.6 5.3l5.6 5l5.5 4.8l5.6 5l5.6 3.6l5.6 1.9l5.5 1.3l5.6 .9l5.6 .4l5.6-2.2l5.5-4.5l5.6-4.1l5.6-1.7l5.6 2.3l5.5 6.1l5.6 7.8l5.6 8.5l5.6 8.3l5.5 7.7l5.6 6.8l5.6 5.8l5.6 4.5l5.5 3.8l5.6 3.5l5.6 3.3l5.5 3.3l5.6 4l5.6 4.3l5.6 4.2l5.5 4.1l5.6 4.2l5.6 4.4l5.6 4.8l2 1.7"/>
<path class="p" d="M548.3 66.5l2 2.1l5.6 5.9l5.5 5.7l5.6 5.6l5.6 5.4l5.6 5.3l5.5 5.3l5.6 4.9l5.6 4.4l5.6 3.9l5.5 3.6l5.6 3.2l5.6 2.2l5.6 1.1l5.5 .4l5.6-.2l5.6-1.9l5.6-4.3l5.5-5.4l5.6-4.8l5.6-2.5l5.6 .1l5.5 2.5l5.6 4.5l5.6 6.2l5.6 8.1l5.5 7.9l5.6 6.9l5.6 5.7l5.6 4.3l5.5 3.4l5.6 2.9l5.6 2.4l5.5 2l5.6 1.4l5.6 1.1l5.6 .9l5.5 .7l5.6 .8l5.6 .8l5.6 1l2 .3"/>
<path class="c" d="M548.3 66.5l2 2.1l5.6 5.9l5.5 5.7l5.6 5.6l5.6 5.4l5.6 5.3l5.5 5.4l5.6 4.9l5.6 4.5l5.6 4l5.5 3.7l5.6 3.5l5.6 2.4l5.6 1.4l5.5 .7l5.6 .1l5.6-1.3l5.6-3.7l5.5-5l5.6-4.3l5.6-2l5.6 1l5.5 3.7l5.6 5.8l5.6 6.9l5.6 7.1l5.5 6.9l5.6 6l5.6 4.8l5.6 3.7l5.5 3.1l5.6 2.7l5.6 2.2l5.5 1.8l5.6 1.6l5.6 1.3l5.6 1.2l5.5 1.1l5.6 1.1l5.6 1.1l5.6 1.3l2 .4"/>
<path class="p" d="M548.3 64.8l2 1.9l5.6 5.4l5.5 5.3l5.6 5.2l5.6 5.1l5.6 4.9l5.5 4.6l5.6 4.3l5.6 4l5.6 3.6l5.5 3.2l5.6 2.7l5.6 2.1l5.6 1.7l5.5 1l5.6 .1l5.6-2l5.6-4.5l5.5-5.4l5.6-4.5l5.6-1.8l5.6 1.2l5.5 4l5.6 6.3l5.6 7.8l5.6 8.6l5.5 7.9l5.6 6.9l5.6 5.6l5.6 4.2l5.5 3.3l5.6 2.8l5.6 2.3l5.5 1.9l5.6 1.5l5.6 1.2l5.6 .9l5.5 .9l5.6 .8l5.6 .9l5.6 1l2 .4"/>
<path class="c" d="M548.3 64.7l2 2l5.6 5.3l5.5 5.3l5.6 5.2l5.6 5.1l5.6 4.8l5.5 4.5l5.6 4.3l5.6 3.9l5.6 3.5l5.5 3l5.6 2.6l5.6 2.1l5.6 1.5l5.5 .9l5.6 .1l5.6-2.1l5.6-4.4l5.5-5.1l5.6-4.1l5.6-1.5l5.6 1.4l5.5 4.2l5.6 6.6l5.6 8.1l5.6 8.8l5.5 8l5.6 7l5.6 5.7l5.6 4.2l5.5 3.4l5.6 2.9l5.6 2.3l5.5 2l5.6 1.6l5.6 1.4l5.6 1.2l5.5 1.1l5.6 1.1l5.6 1.1l5.6 1.3l2 .5"/>
<path class="p" d="M548.3 62.6l2 1.5l5.6 4.2l5.5 4.1l5.6 4l5.6 3.9l5.6 3.9l5.5 3.8l5.6 3.4l5.6 2.7l5.6 2.4l5.5 2.2l5.6 1.9l5.6 1.6l5.6 1.3l5.5 .8l5.6-.6l5.6-3.4l5.6-5.2l5.5-4.3l5.6-3.1l5.6-.7l5.6 1.7l5.5 3.9l5.6 6.2l5.6 9l5.6 10.8l5.5 10l5.6 8.6l5.6 7.1l5.6 5.5l5.5 4.5l5.6 3.7l5.6 3l5.5 2.5l5.6 1.8l5.6 1.6l5.6 1.3l5.5 1.1l5.6 1.1l5.6 1.1l5.6 1.2l2 .4"/>
<path class="c" d="M548.3 62.7l2 1.5l5.6 4.2l5.5 4.1l5.6 4l5.6 3.9l5.6 3.9l5.5 3.8l5.6 3.3l5.6 2.8l5.6 2.3l5.5 2.1l5.6 1.9l5.6 1.5l5.6 1.2l5.5 .6l5.6-.8l5.6-3.7l5.6-5.5l5.5-4.6l5.6-3.5l5.6-1.2l5.6 1.1l5.5 2.9l5.6 5l5.6 7.1l5.6 9.3l5.5 8.8l5.6 7.8l5.6 6.5l5.6 5.3l5.5 4.3l5.6 3.7l5.6 3.2l5.5 2.5l5.6 1.2l5.6 .5l5.6 .3l5.5 .3l5.6 .2l5.6 .2l5.6 .2l2 .1"/>
<path class="p" d="M548.3 69.2l2 1.8l5.6 5l5.5 5l5.6 4.7l5.6 4.6l5.6 4.5l5.5 4.3l5.6 3.8l5.6 3.3l5.6 2.8l5.5 2.3l5.6 1.8l5.6 1.4l5.6 1l5.5 .5l5.6-.3l5.6-2.2l5.6-4l5.5-4.3l5.6-3.3l5.6-1l5.6 1.4l5.5 3.8l5.6 6.1l5.6 8.1l5.6 8.2l5.5 8l5.6 7l5.6 5.8l5.6 4.3l5.5 3.5l5.6 2.9l5.6 2.4l5.5 2l5.6 1.5l5.6 1.2l5.6 1l5.5 .9l5.6 .9l5.6 .9l5.6 1.1l2 .3"/>
<path class="c" d="M548.3 69.1l2 1.8l5.6 5l5.5 5l5.6 4.7l5.6 4.6l5.6 4.5l5.5 4.1l5.6 3.6l5.6 3.1l5.6 2.5l5.5 1.9l5.6 1.4l5.6 .8l5.6 .5l5.5-.1l5.6-1.1l5.6-3.5l5.6-5.4l5.5-5.1l5.6-4.1l5.6-2l5.6 .3l5.5 2.1l5.6 4.1l5.6 6.5l5.6 9l5.5 8.2l5.6 7.2l5.6 5.9l5.6 4.6l5.5 3.7l5.6 3.3l5.6 2.7l5.5 2.1l5.6 .8l5.6-.1l5.6-.1l5.5-.2l5.6-.2l5.6-.2l5.6-.1l2-.1"/>
<path class="p" d="M548.3 61.7l2 2l5.6 5.6l5.5 5.7l5.6 5.8l5.6 5.8l5.6 5.7l5.5 5.3l5.6 5l5.6 4.7l5.6 4.3l5.5 3.9l5.6 3.6l5.6 2.7l5.6 1.9l5.5 1.1l5.6 .4l5.6-1l5.6-3.4l5.5-4.6l5.6-4l5.6-2l5.6 .5l5.5 2.9l5.6 4.7l5.6 5.7l5.6 7.4l5.5 7.4l5.6 6.6l5.6 5.3l5.6 4.1l5.5 3.3l5.6 2.7l5.6 2.3l5.5 1.9l5.6 1.5l5.6 1.2l5.6 .9l5.5 .9l5.6 .8l5.6 1l5.6 1l2 .4"/>
<path class="c" d="M548.3 61.9l2 2l5.6 5.6l5.5 5.7l5.6 5.9l5.6 5.9l5.6 5.8l5.5 5.4l5.6 5.3l5.6 5l5.6 4.6l5.5 4.4l5.6 4.2l5.6 3.4l5.6 2.3l5.5 1.5l5.6 1l5.6-.2l5.6-2.6l5.5-4.3l5.6-3.9l5.6-1.7l5.6 1.6l5.5 4.4l5.6 6.3l5.6 7.1l5.6 7l5.5 6.7l5.6 5.7l5.6 4.5l5.6 3.2l5.5 2.4l5.6 1.9l5.6 1.5l5.5 1.1l5.6 1l5.6 .8l5.6 .6l5.5 .6l5.6 .7l5.6 .8l5.6 1.2l2 .4"/>
<path class="p" d="M548.3 57.8l2 1.5l5.6 4.3l5.5 4.4l5.6 4.3l5.6 4.3l5.6 4.3l5.5 4l5.6 3.7l5.6 2.9l5.6 2.5l5.5 2.5l5.6 2.2l5.6 1.9l5.6 1.6l5.5 1.1l5.6-.3l5.6-3.1l5.6-5l5.5-4.3l5.6-3.2l5.6-.9l5.6 1.3l5.5 3.4l5.6 5.4l5.6 7.5l5.6 9.5l5.5 8.6l5.6 7.2l5.6 5.8l5.6 4.4l5.5 3.4l5.6 2.9l5.6 2.4l5.5 1.7l5.6 .3l5.6-.7l5.6-.7l5.5-.7l5.6-.7l5.6-.7l5.6-.5l2-.1"/>
<path class="c" d="M548.3 57.8l2 1.5l5.6 4.3l5.5 4.4l5.6 4.3l5.6 4.3l5.6 4.3l5.5 4l5.6 3.7l5.6 2.9l5.6 2.5l5.5 2.3l5.6 2.1l5.6 1.8l5.6 1.5l5.5 .9l5.6-.5l5.6-3.5l5.6-5.2l5.5-4.4l5.6-3.3l5.6-.9l5.6 1.3l5.5 3.3l5.6 5.3l5.6 7.6l5.6 9.8l5.5 9.1l5.6 7.9l5.6 6.4l5.6 5.1l5.5 4.1l5.6 3.4l5.6 2.9l5.5 2.2l5.6 1l5.6 .2l5.6 .1l5.5 0l5.6 0l5.6-.1l5.6 .1l2 .1"/>
<path class="p" d="M548.3 67.3l2 1.8l5.6 5l5.5 5l5.6 5l5.6 4.9l5.6 4.9l5.5 4.6l5.6 4.4l5.6 4.1l5.6 3.8l5.5 3.4l5.6 3.1l5.6 2.6l5.6 2l5.5 1.6l5.6 1l5.6-.1l5.6-1.9l5.5-3l5.6-2.7l5.6-.9l5.6 1.8l5.5 4.3l5.6 6.2l5.6 7.3l5.6 7.6l5.5 7.5l5.6 6.7l5.6 5.5l5.6 4.3l5.5 3.5l5.6 3l5.6 2.6l5.5 2.3l5.6 2.3l5.6 2.2l5.6 2.1l5.5 1.9l5.6 1.9l5.6 2l5.6 2.1l2 .8"/>
<path class="c" d="M548.3 67.1l2 1.9l5.6 5l5.5 5.1l5.6 4.9l5.6 4.9l5.6 4.8l5.5 4.7l5.6 4.4l5.6 4.1l5.6 3.8l5.5 3.5l5.6 3.2l5.6 2.7l5.6 2l5.5 1.6l5.6 1.1l5.6 0l5.6-1.9l5.5-3l5.6-2.7l5.6-.9l5.6 1.6l5.5 4.1l5.6 5.8l5.6 6.7l5.6 7.2l5.5 7l5.6 6.4l5.6 5.2l5.6 4l5.5 3.2l5.6 2.6l5.6 2.3l5.5 1.9l5.6 1.8l5.6 1.7l5.6 1.5l5.5 1.4l5.6 1.4l5.6 1.5l5.6 1.7l2 .6"/>
<path class="p" d="M548.3 67.4l2 2.1l5.6 5.8l5.5 5.7l5.6 5.5l5.6 5.3l5.6 5.3l5.5 5.2l5.6 4.8l5.6 4.2l5.6 3.8l5.5 3.4l5.6 3.1l5.6 2.1l5.6 1.2l5.5 .7l5.6 .1l5.6-1.3l5.6-3.6l5.5-4.7l5.6-3.9l5.6-1.3l5.6 1.9l5.5 4.9l5.6 7.4l5.6 8.5l5.6 8.7l5.5 8.4l5.6 7.4l5.6 6.3l5.6 5l5.5 4.3l5.6 3.8l5.6 3.5l5.5 3.3l5.6 3.5l5.6 3.6l5.6 3.5l5.5 3.3l5.6 3.4l5.6 3.3l5.6 3.3l2 1.2"/>
<path class="c" d="M548.3 67.3l2 2.1l5.6 5.8l5.5 5.7l5.6 5.5l5.6 5.2l5.6 5.3l5.5 5.3l5.6 4.7l5.6 4.3l5.6 3.9l5.5 3.5l5.6 3.1l5.6 2.3l5.6 1.2l5.5 .7l5.6 .1l5.6-1.2l5.6-3.5l5.5-4.7l5.6-3.9l5.6-1.4l5.6 1.7l5.5 4.6l5.6 6.9l5.6 8l5.6 8.3l5.5 8l5.6 7.2l5.6 6.1l5.6 4.8l5.5 4l5.6 3.7l5.6 3.2l5.5 3.1l5.6 3.2l5.6 3.2l5.6 3.1l5.5 3l5.6 2.9l5.6 2.9l5.6 2.9l2 1"/>
<path class="p" d="M548.3 68.6l2 2.1l5.6 5.8l5.5 5.7l5.6 5.7l5.6 5.6l5.6 5.7l5.5 5.9l5.6 5.5l5.6 5.1l5.6 4.8l5.5 4.6l5.6 4.8l5.6 3.5l5.6 2l5.5 1.3l5.6 1l5.6 .5l5.6-1.9l5.5-4.2l5.6-3.9l5.6-1.5l5.6 2.2l5.5 5.7l5.6 7.3l5.6 8.1l5.6 7.4l5.5 6.9l5.6 6l5.6 4.7l5.6 3.4l5.5 2.6l5.6 2.1l5.6 1.7l5.5 1.4l5.6 1.6l5.6 1.6l5.6 1.4l5.5 1.2l5.6 1.3l5.6 1.5l5.6 2.1l2 .7"/>
<path class="c" d="M548.3 68.4l2 2.1l5.6 5.8l5.5 5.7l5.6 5.6l5.6 5.5l5.6 5.6l5.5 5.7l5.6 5.4l5.6 4.8l5.6 4.5l5.5 4.3l5.6 4.2l5.6 3l5.6 1.6l5.5 .9l5.6 .5l5.6-.2l5.6-2.6l5.5-4.4l5.6-4.1l5.6-2.1l5.6 1.1l5.5 3.5l5.6 5l5.6 5.8l5.6 5.9l5.5 5.7l5.6 5l5.6 3.9l5.6 2.7l5.5 2l5.6 1.7l5.6 2l5.5 1.7l5.6 1.4l5.6 1.2l5.6 1l5.5 .9l5.6 .8l5.6 1l5.6 1.1l2 .4"/>
<path class="p" d="M548.3 63.2l2 1.7l5.6 4.9l5.5 5l5.6 5.1l5.6 5.1l5.6 5.2l5.5 5.1l5.6 5l5.6 4.8l5.6 4.5l5.5 4.3l5.6 4l5.6 3.5l5.6 2.7l5.5 2l5.6 1.1l5.6-.2l5.6-2.7l5.5-4.3l5.6-3.9l5.6-1.6l5.6 1.7l5.5 4.6l5.6 6.5l5.6 7.2l5.6 7.3l5.5 6.8l5.6 5.8l5.6 4.5l5.6 3.1l5.5 2.3l5.6 1.8l5.6 1.3l5.5 .9l5.6 .8l5.6 .6l5.6 1l5.5 1l5.6 1l5.6 1l5.6 1.3l2 .4"/>
<path class="c" d="M548.3 63.2l2 1.8l5.6 4.9l5.5 4.9l5.6 5.1l5.6 5l5.6 5.1l5.5 5.1l5.6 4.9l5.6 4.7l5.6 4.5l5.5 4.2l5.6 3.9l5.6 3.5l5.6 2.8l5.5 2.1l5.6 1.3l5.6 0l5.6-2.5l5.5-4.1l5.6-3.5l5.6-1.3l5.6 2.2l5.5 5.3l5.6 7.3l5.6 8.1l5.6 7.9l5.5 7.2l5.6 6.2l5.6 4.8l5.6 3.6l5.5 2.6l5.6 2.2l5.6 1.7l5.5 1.4l5.6 1.3l5.6 1.1l5.6 1l5.5 .8l5.6 .9l5.6 1.1l5.6 1.5l2 .5"/>
<path class="p" d="M548.3 59.6l2 1.6l5.6 4.5l5.5 4.5l5.6 4.4l5.6 4.2l5.6 4.2l5.5 3.9l5.6 3.4l5.6 2.7l5.6 2.3l5.5 2l5.6 1.8l5.6 1.3l5.6 1.1l5.5 .5l5.6-1l5.6-4.1l5.6-5.8l5.5-4.8l5.6-3.6l5.6-1.3l5.6 .8l5.5 2.7l5.6 4.6l5.6 6.2l5.6 7.8l5.5 7.5l5.6 6.7l5.6 5.7l5.6 4.7l5.5 3.9l5.6 3.5l5.6 2.9l5.5 2.2l5.6 .1l5.6-1.1l5.6-1.1l5.5-1l5.6-1l5.6-1.1l5.6-1l2-.4"/>
<path class="c" d="M548.3 59.7l2 1.7l5.6 4.5l5.5 4.5l5.6 4.4l5.6 4.2l5.6 4.2l5.5 3.9l5.6 3.4l5.6 2.7l5.6 2.2l5.5 2l5.6 1.7l5.6 1.4l5.6 1l5.5 .4l5.6-1l5.6-4.1l5.6-5.8l5.5-4.8l5.6-3.7l5.6-1.2l5.6 .8l5.5 2.6l5.6 4.5l5.6 6.1l5.6 7.8l5.5 7.5l5.6 6.6l5.6 5.7l5.6 4.7l5.5 3.8l5.6 3.5l5.6 3l5.5 2.1l5.6 0l5.6-1.2l5.6-1.1l5.5-1.1l5.6-1.1l5.6-1.1l5.6-1.1l2-.4"/>
<path class="p" d="M548.3 72.1l2 1.9l5.6 5.4l5.5 5.3l5.6 5.3l5.6 5.2l5.6 5.5l5.5 5.7l5.6 5.3l5.6 4.8l5.6 4.4l5.5 4.3l5.6 4.4l5.6 3l5.6 1.4l5.5 .8l5.6 .2l5.6-.7l5.6-3.5l5.5-5.6l5.6-5.3l5.6-2.8l5.6 .7l5.5 3.6l5.6 5.5l5.6 6.2l5.6 6.7l5.5 6.1l5.6 5.1l5.6 3.8l5.6 2.6l5.5 2.3l5.6 2.4l5.6 2l5.5 1.6l5.6 1.3l5.6 1.1l5.6 .8l5.5 .7l5.6 .7l5.6 .8l5.6 1l2 .4"/>
<path class="c" d="M548.3 72.1l2 1.9l5.6 5.3l5.5 5.3l5.6 5.3l5.6 5.2l5.6 5.5l5.5 5.7l5.6 5.3l5.6 4.9l5.6 4.5l5.5 4.4l5.6 4.5l5.6 3.2l5.6 1.6l5.5 1.1l5.6 .5l5.6-.1l5.6-2.8l5.5-5l5.6-4.6l5.6-2.1l5.6 1.7l5.5 5l5.6 6.9l5.6 7.5l5.6 7.3l5.5 6.7l5.6 5.6l5.6 4.3l5.6 2.9l5.5 2.1l5.6 1.7l5.6 1.2l5.5 1l5.6 .8l5.6 .7l5.6 .5l5.5 .5l5.6 .5l5.6 .8l5.6 1.3l2 .4"/>
<path class="p" d="M548.3 72.1l2 1.9l5.6 5.4l5.5 5.4l5.6 5.4l5.6 5.3l5.6 5.6l5.5 5.9l5.6 5.5l5.6 5.1l5.6 4.7l5.5 4.6l5.6 4.9l5.6 3.5l5.6 1.7l5.5 1.2l5.6 .8l5.6 .3l5.6-2.3l5.5-4.7l5.6-4.4l5.6-2l5.6 1.8l5.5 5.3l5.6 6.8l5.6 7.5l5.6 7.2l5.5 6.4l5.6 5.4l5.6 3.9l5.6 2.5l5.5 1.6l5.6 .9l5.6 .6l5.5 .2l5.6 0l5.6-.1l5.6-.4l5.5-.3l5.6-.2l5.6 .3l5.6 .9l2 .4"/>
<path class="c" d="M548.3 72.0l2 1.9l5.6 5.4l5.5 5.4l5.6 5.4l5.6 5.3l5.6 5.6l5.5 5.9l5.6 5.6l5.6 5l5.6 4.7l5.5 4.7l5.6 4.8l5.6 3.5l5.6 1.8l5.5 1.2l5.6 .8l5.6 .4l5.6-2.2l5.5-4.5l5.6-4.2l5.6-1.7l5.6 2.1l5.5 5.6l5.6 7.2l5.6 7.9l5.6 7.5l5.5 6.8l5.6 5.9l5.6 4.6l5.6 3.2l5.5 2.3l5.6 1.7l5.6 1.3l5.5 1l5.6 1.1l5.6 1l5.6 .7l5.5 .6l5.6 .8l5.6 1l5.6 1.6l2 .6"/>
<path class="p" d="M548.3 69.6l2 2l5.6 5.5l5.5 5.5l5.6 5.3l5.6 5.2l5.6 5.4l5.5 5.3l5.6 5l5.6 4.4l5.6 4l5.5 3.8l5.6 3.6l5.6 2.6l5.6 1.4l5.5 1l5.6 .4l5.6-.5l5.6-2.6l5.5-4.2l5.6-3.6l5.6-1.4l5.6 2l5.5 5.2l5.6 7.1l5.6 8.2l5.6 8.3l5.5 7.8l5.6 7.1l5.6 6l5.6 4.7l5.5 4l5.6 3.5l5.6 3.3l5.5 3.2l5.6 3.4l5.6 3.7l5.6 3.5l5.5 3.4l5.6 3.4l5.6 3.5l5.6 3.5l2 1.3"/>
<path class="c" d="M548.3 69.4l2 2l5.6 5.6l5.5 5.4l5.6 5.3l5.6 5.2l5.6 5.3l5.5 5.3l5.6 4.9l5.6 4.4l5.6 3.9l5.5 3.7l5.6 3.5l5.6 2.5l5.6 1.4l5.5 .9l5.6 .4l5.6-.6l5.6-2.8l5.5-4.2l5.6-3.6l5.6-1.3l5.6 1.8l5.5 4.9l5.6 6.8l5.6 8l5.6 8.1l5.5 7.8l5.6 7.1l5.6 5.9l5.6 4.8l5.5 3.9l5.6 3.6l5.6 3.3l5.5 3.1l5.6 3.3l5.6 3.5l5.6 3.3l5.5 3.2l5.6 3.3l5.6 3.2l5.6 3.3l2 1.2"/>
<path class="p" d="M548.3 57.8l2 1.6l5.6 4.3l5.5 4.3l5.6 4.3l5.6 4.2l5.6 4.2l5.5 4l5.6 3.6l5.6 2.8l5.6 2.3l5.5 2.2l5.6 1.9l5.6 1.6l5.6 1.2l5.5 .6l5.6-.8l5.6-4l5.6-5.7l5.5-4.7l5.6-3.4l5.6-1.2l5.6 1l5.5 2.9l5.6 4.8l5.6 6.6l5.6 8.5l5.5 8.3l5.6 7.4l5.6 6.5l5.6 5.5l5.5 4.5l5.6 4.1l5.6 3.5l5.5 2.8l5.6 1.2l5.6 .3l5.6 .2l5.5 .3l5.6 .1l5.6 .1l5.6-.1l2 0"/>
<path class="c" d="M548.3 57.9l2 1.5l5.6 4.3l5.5 4.3l5.6 4.3l5.6 4.2l5.6 4.2l5.5 4l5.6 3.6l5.6 2.8l5.6 2.3l5.5 2.2l5.6 1.9l5.6 1.6l5.6 1.2l5.5 .6l5.6-.8l5.6-4.1l5.6-5.7l5.5-4.6l5.6-3.5l5.6-1.2l5.6 .9l5.5 2.8l5.6 4.6l5.6 6.3l5.6 8l5.5 7.8l5.6 7.1l5.6 6.2l5.6 5.1l5.5 4.4l5.6 4l5.6 3.4l5.5 2.7l5.6 1l5.6-.1l5.6 0l5.5 .1l5.6-.1l5.6-.2l5.6-.3l2-.1"/>
<path class="p" d="M548.3 60.9l2 1.6l5.6 4.6l5.5 4.6l5.6 4.5l5.6 4.3l5.6 4.2l5.5 4l5.6 3.6l5.6 2.9l5.6 2.5l5.5 2.1l5.6 1.8l5.6 1.4l5.6 1.1l5.5 .4l5.6-1l5.6-3.9l5.6-5.7l5.5-4.9l5.6-3.8l5.6-1.4l5.6 .8l5.5 2.6l5.6 4.5l5.6 6.4l5.6 8.4l5.5 7.8l5.6 6.8l5.6 5.8l5.6 4.7l5.5 3.8l5.6 3.4l5.6 2.8l5.5 2.1l5.6 .3l5.6-.8l5.6-.8l5.5-.8l5.6-.8l5.6-.9l5.6-.8l2-.2"/>
<path class="c" d="M548.3 61.0l2 1.7l5.6 4.6l5.5 4.6l5.6 4.5l5.6 4.4l5.6 4.2l5.5 4.1l5.6 3.6l5.6 3l5.6 2.5l5.5 2.2l5.6 1.9l5.6 1.4l5.6 1l5.5 .4l5.6-1l5.6-3.9l5.6-5.8l5.5-5l5.6-3.9l5.6-1.5l5.6 .7l5.5 2.5l5.6 4.5l5.6 6.5l5.6 8.3l5.5 7.8l5.6 6.7l5.6 5.7l5.6 4.6l5.5 3.7l5.6 3.3l5.6 2.8l5.5 2l5.6 .2l5.6-1l5.6-.9l5.5-.9l5.6-1l5.6-.9l5.6-.9l2-.3"/>
<path class="p" d="M548.3 59.5l2 2l5.6 5.5l5.5 6l5.6 6.3l5.6 6.7l5.6 6.6l5.5 6.2l5.6 6l5.6 5.8l5.6 5.4l5.5 5.1l5.6 5.1l5.6 4l5.6 2.4l5.5 1.7l5.6 1.1l5.6 .2l5.6-2.4l5.5-4.6l5.6-4.2l5.6-1.6l5.6 2.2l5.5 5.7l5.6 7.5l5.6 8.3l5.6 7.8l5.5 7.2l5.6 6.3l5.6 4.9l5.6 3.7l5.5 2.9l5.6 2.4l5.6 2l5.5 1.9l5.6 2l5.6 2.1l5.6 1.8l5.5 1.7l5.6 1.8l5.6 2l5.6 2.3l2 .9"/>
<path class="c" d="M548.3 59.6l2 2l5.6 5.5l5.5 5.9l5.6 6.3l5.6 6.5l5.6 6.5l5.5 6l5.6 5.9l5.6 5.5l5.6 5.3l5.5 4.9l5.6 4.9l5.6 3.8l5.6 2.5l5.5 1.6l5.6 1.1l5.6-.1l5.6-2.7l5.5-4.7l5.6-4.4l5.6-1.7l5.6 2.1l5.5 5.7l5.6 7.6l5.6 8.4l5.6 8l5.5 7.3l5.6 6.3l5.6 5.1l5.6 3.7l5.5 2.9l5.6 2.4l5.6 2.2l5.5 1.9l5.6 2l5.6 2l5.6 1.9l5.5 1.7l5.6 1.8l5.6 1.9l5.6 2.2l2 .8"/>
<path class="p" d="M548.3 65.1l2 2.1l5.6 5.9l5.5 5.7l5.6 5.5l5.6 5.5l5.6 5.3l5.5 5.2l5.6 4.9l5.6 4.5l5.6 4.1l5.5 3.7l5.6 3.6l5.6 2.6l5.6 1.8l5.5 1.1l5.6 .6l5.6-.8l5.6-3l5.5-4.4l5.6-3.7l5.6-1.3l5.6 2l5.5 4.9l5.6 7.1l5.6 8.1l5.6 7.7l5.5 7.4l5.6 6.6l5.6 5.3l5.6 4.1l5.5 3.4l5.6 2.9l5.6 2.6l5.5 2.4l5.6 2.3l5.6 2.4l5.6 2.2l5.5 2l5.6 2.1l5.6 2.1l5.6 2.2l2 .8"/>
<path class="c" d="M548.3 65.0l2 2.1l5.6 5.8l5.5 5.7l5.6 5.5l5.6 5.3l5.6 5.2l5.5 5l5.6 4.7l5.6 4.2l5.6 3.8l5.5 3.4l5.6 3l5.6 2.3l5.6 1.4l5.5 .9l5.6 .2l5.6-1.4l5.6-3.8l5.5-4.7l5.6-4l5.6-1.5l5.6 1.5l5.5 4.4l5.6 6.6l5.6 7.9l5.6 8l5.5 7.7l5.6 6.9l5.6 5.7l5.6 4.4l5.5 3.7l5.6 3.2l5.6 2.8l5.5 2.5l5.6 2.4l5.6 2.3l5.6 2.2l5.5 2l5.6 2l5.6 2l5.6 2l2 .7"/>
<path class="p" d="M548.3 65.8l2 1.8l5.6 4.9l5.5 4.9l5.6 4.7l5.6 4.5l5.6 4.3l5.5 4l5.6 3.8l5.6 3.2l5.6 2.9l5.5 2.4l5.6 2l5.6 1.5l5.6 .9l5.5 .3l5.6-.9l5.6-3.6l5.6-5.9l5.5-5.9l5.6-4.7l5.6-2.1l5.6 .5l5.5 2.7l5.6 4.7l5.6 7.1l5.6 9.3l5.5 8.5l5.6 7.2l5.6 5.8l5.6 4.4l5.5 3.5l5.6 3l5.6 2.6l5.5 1.8l5.6 .4l5.6-.4l5.6-.6l5.5-.5l5.6-.6l5.6-.5l5.6-.4l2-.1"/>
<path class="c" d="M548.3 65.8l2 1.8l5.6 5l5.5 4.8l5.6 4.8l5.6 4.6l5.6 4.4l5.5 4.2l5.6 3.9l5.6 3.5l5.6 3.2l5.5 2.7l5.6 2.3l5.6 1.8l5.6 1.3l5.5 .7l5.6-.5l5.6-2.8l5.6-5l5.5-5.4l5.6-4.4l5.6-2l5.6 .6l5.5 2.9l5.6 4.9l5.6 7.2l5.6 9.2l5.5 8.5l5.6 7l5.6 5.7l5.6 4.2l5.5 3.3l5.6 2.7l5.6 2.2l5.5 1.7l5.6 .5l5.6-.1l5.6-.3l5.5-.4l5.6-.4l5.6-.2l5.6-.1l2 0"/>
<path class="p" d="M548.3 61.0l2 1.6l5.6 4.3l5.5 4.4l5.6 4.5l5.6 4.5l5.6 4.5l5.5 4.4l5.6 4.2l5.6 3.9l5.6 3.6l5.5 3.6l5.6 3.4l5.6 3.2l5.6 2.8l5.5 2.4l5.6 1.4l5.6-.4l5.6-2.6l5.5-3.6l5.6-2.9l5.6-.5l5.6 2.5l5.5 5.6l5.6 7.9l5.6 8.9l5.6 9.3l5.5 8.6l5.6 7.5l5.6 6.1l5.6 4.7l5.5 3.8l5.6 3.4l5.6 2.9l5.5 2.7l5.6 2.7l5.6 2.7l5.6 2.5l5.5 2.4l5.6 2.4l5.6 2.4l5.6 2.5l2 .9"/>
<path class="c" d="M548.3 61.2l2 1.6l5.6 4.3l5.5 4.4l5.6 4.5l5.6 4.6l5.6 4.5l5.5 4.6l5.6 4.3l5.6 4l5.6 3.9l5.5 3.8l5.6 3.7l5.6 3.6l5.6 3.2l5.5 2.7l5.6 2l5.6 .3l5.6-1.8l5.5-3l5.6-2.5l5.6-.2l5.6 3l5.5 6.2l5.6 8.3l5.6 9l5.6 8.9l5.5 8.2l5.6 7.2l5.6 5.8l5.6 4.6l5.5 3.7l5.6 3.2l5.6 2.9l5.5 2.7l5.6 2.9l5.6 3l5.6 2.8l5.5 2.6l5.6 2.7l5.6 2.8l5.6 3l2 1.1"/>
<path class="p" d="M548.3 63.6l2 1.3l5.6 3.9l5.5 3.8l5.6 3.8l5.6 3.9l5.6 3.8l5.5 3.8l5.6 3.5l5.6 2.9l5.6 2.5l5.5 2.4l5.6 2.1l5.6 1.7l5.6 1.5l5.5 .8l5.6-.5l5.6-3.5l5.6-5.3l5.5-4.7l5.6-3.7l5.6-1.2l5.6 1.1l5.5 3.1l5.6 5.3l5.6 7.5l5.6 10.1l5.5 9.4l5.6 8.1l5.6 6.7l5.6 5.2l5.5 4.2l5.6 3.7l5.6 3l5.5 2.3l5.6 1.4l5.6 .7l5.6 .5l5.5 .4l5.6 .4l5.6 .4l5.6 .5l2 .1"/>
<path class="c" d="M548.3 63.7l2 1.4l5.6 3.9l5.5 3.9l5.6 3.8l5.6 3.9l5.6 4l5.5 3.8l5.6 3.6l5.6 3.1l5.6 2.6l5.5 2.6l5.6 2.3l5.6 2.1l5.6 1.7l5.5 1.1l5.6 0l5.6-2.7l5.6-4.5l5.5-4.3l5.6-3.2l5.6-.9l5.6 1.7l5.5 3.9l5.6 6l5.6 8.3l5.6 10.1l5.5 9.2l5.6 7.9l5.6 6.2l5.6 4.8l5.5 3.7l5.6 3.1l5.6 2.5l5.5 2l5.6 1.4l5.6 .8l5.6 .7l5.5 .5l5.6 .5l5.6 .5l5.6 .7l2 .3"/>
<path class="p" d="M548.3 59.4l2 1.7l5.6 4.7l5.5 4.7l5.6 4.6l5.6 4.4l5.6 4.2l5.5 4l5.6 3.4l5.6 2.8l5.6 2.2l5.5 2l5.6 1.7l5.6 1.3l5.6 1l5.5 .5l5.6-1l5.6-4.1l5.6-5.7l5.5-4.8l5.6-3.6l5.6-1.3l5.6 .9l5.5 2.7l5.6 4.6l5.6 6.4l5.6 8.3l5.5 8l5.6 7.1l5.6 6.1l5.6 5.1l5.5 4.3l5.6 3.9l5.6 3.4l5.5 2.5l5.6 1l5.6 0l5.6 0l5.5 0l5.6 0l5.6-.2l5.6-.2l2-.1"/>
<path class="c" d="M548.3 59.5l2 1.7l5.6 4.8l5.5 4.7l5.6 4.5l5.6 4.5l5.6 4.2l5.5 4l5.6 3.5l5.6 2.8l5.6 2.2l5.5 2.1l5.6 1.7l5.6 1.3l5.6 1l5.5 .4l5.6-1l5.6-4.1l5.6-5.7l5.5-4.8l5.6-3.6l5.6-1.3l5.6 .9l5.5 2.7l5.6 4.7l5.6 6.6l5.6 8.6l5.5 8.3l5.6 7.4l5.6 6.5l5.6 5.3l5.5 4.6l5.6 4.1l5.6 3.7l5.5 2.8l5.6 1.5l5.6 .6l5.6 .7l5.5 .6l5.6 .5l5.6 .4l5.6 .3l2 .1"/>
<path class="p" d="M548.3 62.9l2 2.2l5.6 6.1l5.5 6.4l5.6 6.2l5.6 6.2l5.6 6.2l5.5 6.4l5.6 6.2l5.6 5.8l5.6 5.4l5.5 5.2l5.6 5.3l5.6 3.9l5.6 2.2l5.5 1.5l5.6 1.1l5.6 .5l5.6-2l5.5-4.4l5.6-4l5.6-1.7l5.6 2.5l5.5 6.1l5.6 7.9l5.6 8.6l5.6 8.3l5.5 7.7l5.6 7l5.6 5.7l5.6 4.6l5.5 3.9l5.6 3.6l5.6 3.4l5.5 3.4l5.6 4.1l5.6 4.5l5.6 4.2l5.5 4.3l5.6 4.3l5.6 4.6l5.6 5l2 1.7"/>
<path class="c" d="M548.3 63.0l2 2.2l5.6 6l5.5 6.3l5.6 6.3l5.6 6.1l5.6 6.1l5.5 6.3l5.6 6.1l5.6 5.7l5.6 5.3l5.5 5.2l5.6 5.3l5.6 3.9l5.6 2.3l5.5 1.6l5.6 1.1l5.6 .5l5.6-2l5.5-4.4l5.6-4.1l5.6-1.5l5.6 2.4l5.5 6.2l5.6 7.9l5.6 8.6l5.6 8.3l5.5 7.8l5.6 6.9l5.6 5.8l5.6 4.6l5.5 3.8l5.6 3.6l5.6 3.4l5.5 3.4l5.6 4l5.6 4.4l5.6 4.3l5.5 4.1l5.6 4.4l5.6 4.5l5.6 4.9l2 1.8"/>
<path class="p" d="M548.3 63.7l2 1.9l5.6 5.3l5.5 5.2l5.6 5.2l5.6 5l5.6 4.9l5.5 4.6l5.6 4.4l5.6 4.1l5.6 3.8l5.5 3.3l5.6 3l5.6 2.5l5.6 1.9l5.5 1.4l5.6 .5l5.6-1.3l5.6-3.5l5.5-4.4l5.6-3.6l5.6-1.4l5.6 1.3l5.5 3.8l5.6 5.9l5.6 7l5.6 7.5l5.5 7.3l5.6 6.5l5.6 5.3l5.6 4l5.5 3.2l5.6 2.7l5.6 2.2l5.5 1.9l5.6 1.4l5.6 1.2l5.6 .9l5.5 .9l5.6 .8l5.6 .9l5.6 1l2 .4"/>
<path class="c" d="M548.3 63.9l2 1.9l5.6 5.2l5.5 5.3l5.6 5.2l5.6 5.1l5.6 4.9l5.5 4.7l5.6 4.5l5.6 4.1l5.6 3.7l5.5 3.3l5.6 2.9l5.6 2.3l5.6 1.8l5.5 1.2l5.6 .3l5.6-1.6l5.6-3.9l5.5-4.8l5.6-3.9l5.6-1.6l5.6 1.2l5.5 3.8l5.6 6l5.6 7.4l5.6 8.1l5.5 7.7l5.6 6.7l5.6 5.5l5.6 4.2l5.5 3.3l5.6 2.7l5.6 2.3l5.5 2l5.6 1.5l5.6 1.3l5.6 1l5.5 1l5.6 .9l5.6 1l5.6 1.1l2 .5"/>
<path class="p" d="M548.3 57.7l2 1.6l5.6 4.4l5.5 4.5l5.6 4.5l5.6 4.5l5.6 4.5l5.5 4.5l5.6 4.2l5.6 3.6l5.6 3.4l5.5 3.4l5.6 3.3l5.6 2.9l5.6 2.7l5.5 2l5.6 1l5.6-1.3l5.6-3.3l5.5-3.6l5.6-2.8l5.6-.4l5.6 2.3l5.5 4.9l5.6 7.2l5.6 8.2l5.6 8.6l5.5 7.9l5.6 6.8l5.6 5.4l5.6 4.1l5.5 3.2l5.6 2.7l5.6 2.3l5.5 1.8l5.6 1.6l5.6 1.4l5.6 1.2l5.5 1.1l5.6 1.1l5.6 1.1l5.6 1.3l2 .5"/>
<path class="c" d="M548.3 57.8l2 1.5l5.6 4.5l5.5 4.4l5.6 4.5l5.6 4.6l5.6 4.5l5.5 4.5l5.6 4.2l5.6 3.7l5.6 3.4l5.5 3.4l5.6 3.3l5.6 3l5.6 2.6l5.5 2.1l5.6 1l5.6-1.3l5.6-3.4l5.5-3.7l5.6-2.8l5.6-.3l5.6 2.8l5.5 5.7l5.6 8.1l5.6 9.2l5.6 9.1l5.5 8.5l5.6 7.5l5.6 6l5.6 4.8l5.5 3.9l5.6 3.3l5.6 3l5.5 2.6l5.6 2.5l5.6 2.5l5.6 2.3l5.5 2.1l5.6 2.1l5.6 2.1l5.6 2.1l2 .8"/>
<path class="p" d="M548.3 58.5l2 1.5l5.6 4.4l5.5 4.4l5.6 4.4l5.6 4.4l5.6 4.3l5.5 4.2l5.6 3.7l5.6 3.1l5.6 2.7l5.5 2.5l5.6 2.2l5.6 1.9l5.6 1.5l5.5 1l5.6-.4l5.6-3.2l5.6-4.8l5.5-4.2l5.6-3.2l5.6-1.1l5.6 .8l5.5 2.6l5.6 4.3l5.6 6.5l5.6 9l5.5 8.4l5.6 7.2l5.6 5.9l5.6 4.6l5.5 3.7l5.6 3.1l5.6 2.6l5.5 1.9l5.6 .4l5.6-.6l5.6-.7l5.5-.7l5.6-.7l5.6-.6l5.6-.5l2-.2"/>
<path class="c" d="M548.3 58.6l2 1.6l5.6 4.3l5.5 4.5l5.6 4.4l5.6 4.4l5.6 4.4l5.5 4.3l5.6 3.8l5.6 3.3l5.6 2.8l5.5 2.8l5.6 2.4l5.6 2.2l5.6 1.7l5.5 1.3l5.6 0l5.6-2.6l5.6-4.3l5.5-3.9l5.6-2.9l5.6-.9l5.6 1.3l5.5 3.1l5.6 5.1l5.6 7.4l5.6 9.8l5.5 8.9l5.6 7.7l5.6 6.3l5.6 4.8l5.5 3.7l5.6 3.2l5.6 2.6l5.5 2.1l5.6 1.1l5.6 .6l5.6 .4l5.5 .3l5.6 .2l5.6 .3l5.6 .5l2 .2"/>
<path class="p" d="M548.3 70.7l2 1.8l5.6 5l5.5 5l5.6 4.8l5.6 4.8l5.6 4.7l5.5 4.7l5.6 4.2l5.6 3.9l5.6 3.4l5.5 3.2l5.6 2.9l5.6 2.3l5.6 1.7l5.5 1.2l5.6 .7l5.6-.6l5.6-2.7l5.5-3.9l5.6-3l5.6-.4l5.6 3.1l5.5 6.5l5.6 8.8l5.6 9.8l5.6 9.2l5.5 8.8l5.6 7.7l5.6 6.6l5.6 5.3l5.5 4.5l5.6 4.2l5.6 3.9l5.5 3.8l5.6 4.4l5.6 4.9l5.6 4.7l5.5 4.6l5.6 4.7l5.6 4.8l5.6 5.1l2 1.8"/>
<path class="c" d="M548.3 70.5l2 1.8l5.6 5l5.5 5l5.6 4.8l5.6 4.7l5.6 4.6l5.5 4.5l5.6 4.1l5.6 3.6l5.6 3.2l5.5 2.8l5.6 2.5l5.6 1.9l5.6 1.5l5.5 .9l5.6 .4l5.6-1.2l5.6-3.4l5.5-4.2l5.6-3.4l5.6-.7l5.6 2.3l5.5 5.5l5.6 7.9l5.6 9l5.6 9.2l5.5 8.6l5.6 7.8l5.6 6.5l5.6 5.2l5.5 4.4l5.6 4l5.6 3.6l5.5 3.4l5.6 3.7l5.6 3.9l5.6 3.6l5.5 3.6l5.6 3.5l5.6 3.6l5.6 3.6l2 1.3"/>
<path class="p" d="M548.3 63.8l2 1.7l5.6 4.8l5.5 4.7l5.6 4.8l5.6 4.7l5.6 4.8l5.5 4.7l5.6 4.5l5.6 4.3l5.6 4.2l5.5 4.1l5.6 3.8l5.6 3.5l5.6 3l5.5 2.4l5.6 1.6l5.6-.1l5.6-2.5l5.5-4.1l5.6-3.5l5.6-.9l5.6 2.8l5.5 6.2l5.6 8.3l5.6 8.9l5.6 8.8l5.5 8l5.6 6.8l5.6 5.4l5.6 4l5.5 3.2l5.6 2.6l5.6 2.2l5.5 2l5.6 2l5.6 2l5.6 1.7l5.5 1.6l5.6 1.6l5.6 1.8l5.6 2.1l2 .8"/>
<path class="c" d="M548.3 63.9l2 1.7l5.6 4.8l5.5 4.8l5.6 4.9l5.6 4.9l5.6 4.9l5.5 4.9l5.6 4.8l5.6 4.6l5.6 4.5l5.5 4.3l5.6 4.1l5.6 3.7l5.6 3.1l5.5 2.4l5.6 1.6l5.6 .3l5.6-2.3l5.5-4l5.6-3.5l5.6-.8l5.6 3l5.5 6.6l5.6 8.6l5.6 9.2l5.6 8.9l5.5 8.1l5.6 7l5.6 5.8l5.6 4.4l5.5 3.7l5.6 3.3l5.6 3l5.5 2.8l5.6 3.2l5.6 3.5l5.6 3.2l5.5 3.1l5.6 3.1l5.6 3.3l5.6 3.6l2 1.3"/>
<path class="p" d="M548.3 62.9l2 1.9l5.6 5.2l5.5 5.2l5.6 5.3l5.6 5.1l5.6 5.1l5.5 5l5.6 4.7l5.6 4.4l5.6 4.2l5.5 3.8l5.6 3.4l5.6 3l5.6 2.5l5.5 1.8l5.6 1.1l5.6-.2l5.6-2.4l5.5-3.7l5.6-3.2l5.6-.9l5.6 2.1l5.5 5.1l5.6 7.1l5.6 8.2l5.6 8.1l5.5 7.7l5.6 6.8l5.6 5.5l5.6 4.3l5.5 3.5l5.6 3l5.6 2.7l5.5 2.4l5.6 2.5l5.6 2.5l5.6 2.3l5.5 2.1l5.6 2.2l5.6 2.2l5.6 2.4l2 .9"/>
<path class="c" d="M548.3 63.0l2 1.9l5.6 5.2l5.5 5.2l5.6 5.2l5.6 5.2l5.6 5l5.5 4.9l5.6 4.6l5.6 4.4l5.6 4l5.5 3.7l5.6 3.3l5.6 2.8l5.6 2.3l5.5 1.8l5.6 1l5.6-.4l5.6-2.5l5.5-3.6l5.6-3.1l5.6-.9l5.6 2.1l5.5 4.8l5.6 6.9l5.6 8l5.6 8l5.5 7.7l5.6 6.9l5.6 5.6l5.6 4.3l5.5 3.6l5.6 3l5.6 2.7l5.5 2.4l5.6 2.4l5.6 2.4l5.6 2.2l5.5 2.1l5.6 2.1l5.6 2.1l5.6 2.2l2 .8"/>
<path class="p" d="M548.3 64.6l2 2.4l5.6 6.5l5.5 6.3l5.6 6.1l5.6 5.7l5.6 5.7l5.5 5.6l5.6 5.1l5.6 4.6l5.6 4.1l5.5 3.6l5.6 3.3l5.6 2.1l5.6 .8l5.5 .1l5.6-.8l5.6-2.5l5.6-5.2l5.5-6.4l5.6-5.6l5.6-2.9l5.6 .3l5.5 3l5.6 5.3l5.6 7.1l5.6 8.7l5.5 8.2l5.6 7.1l5.6 5.9l5.6 4.5l5.5 3.6l5.6 3l5.6 2.6l5.5 2.1l5.6 1.6l5.6 1.4l5.6 1.2l5.5 1l5.6 1.1l5.6 1.1l5.6 1.1l2 .5"/>
<path class="c" d="M548.3 64.6l2 2.3l5.6 6.6l5.5 6.2l5.6 6.1l5.6 5.7l5.6 5.6l5.5 5.6l5.6 5.2l5.6 4.6l5.6 4l5.5 3.7l5.6 3.4l5.6 2.2l5.6 1l5.5 .2l5.6-.5l5.6-2.3l5.6-4.9l5.5-6.2l5.6-5.3l5.6-2.6l5.6 .6l5.5 3.7l5.6 6.2l5.6 7.6l5.6 8.2l5.5 7.7l5.6 6.7l5.6 5.5l5.6 4.3l5.5 3.3l5.6 2.9l5.6 2.3l5.5 2l5.6 1.7l5.6 1.4l5.6 1.2l5.5 1.2l5.6 1.1l5.6 1.2l5.6 1.3l2 .5"/>
<path class="p" d="M548.3 68.6l2 1.8l5.6 5.1l5.5 5l5.6 5l5.6 4.8l5.6 4.8l5.5 4.6l5.6 4.2l5.6 3.9l5.6 3.5l5.5 3.1l5.6 2.6l5.6 2.1l5.6 1.4l5.5 .8l5.6 0l5.6-2.1l5.6-4.8l5.5-5.8l5.6-4.6l5.6-1.7l5.6 1.7l5.5 5l5.6 7.5l5.6 8.7l5.6 7.8l5.5 7.3l5.6 6.4l5.6 5.2l5.6 4l5.5 3.1l5.6 2.7l5.6 2.2l5.5 1.9l5.6 1.5l5.6 1.2l5.6 1.1l5.5 1l5.6 .9l5.6 1l5.6 1.2l2 .4"/>
<path class="c" d="M548.3 68.5l2 1.8l5.6 5.1l5.5 5l5.6 4.9l5.6 4.7l5.6 4.7l5.5 4.4l5.6 4.1l5.6 3.6l5.6 3.2l5.5 2.7l5.6 2.1l5.6 1.6l5.6 1l5.5 .3l5.6-.7l5.6-3.2l5.6-5.8l5.5-6.3l5.6-5.1l5.6-2.2l5.6 .9l5.5 3.7l5.6 5.9l5.6 8.1l5.6 9.8l5.5 8.8l5.6 7.4l5.6 5.9l5.6 4.5l5.5 3.5l5.6 3l5.6 2.5l5.5 1.9l5.6 1.3l5.6 .7l5.6 .5l5.5 .5l5.6 .4l5.6 .5l5.6 .6l2 .3"/>
<path class="p" d="M548.3 72.6l2 1.9l5.6 5.4l5.5 5.4l5.6 5.4l5.6 5.2l5.6 5.7l5.5 6l5.6 5.5l5.6 5.1l5.6 4.7l5.5 4.7l5.6 5l5.6 3.5l5.6 1.8l5.5 1.2l5.6 .8l5.6 .5l5.6-2.1l5.5-4.5l5.6-4.1l5.6-1.7l5.6 2.3l5.5 5.9l5.6 7.3l5.6 8l5.6 7.7l5.5 7.2l5.6 6.3l5.6 5.2l5.6 4l5.5 3.2l5.6 2.8l5.6 2.6l5.5 2.5l5.6 2.9l5.6 3.2l5.6 2.9l5.5 2.8l5.6 3l5.6 3.1l5.6 3.5l2 1.2"/>
<path class="c" d="M548.3 72.6l2 1.9l5.6 5.4l5.5 5.4l5.6 5.4l5.6 5.2l5.6 5.7l5.5 6l5.6 5.5l5.6 5.1l5.6 4.7l5.5 4.7l5.6 5l5.6 3.5l5.6 1.8l5.5 1.1l5.6 .9l5.6 .4l5.6-2l5.5-4.5l5.6-4.1l5.6-1.7l5.6 2.3l5.5 6l5.6 7.6l5.6 8.4l5.6 8l5.5 7.5l5.6 6.7l5.6 5.6l5.6 4.4l5.5 3.8l5.6 3.4l5.6 3.2l5.5 3.3l5.6 3.8l5.6 4.2l5.6 4.1l5.5 4l5.6 4.2l5.6 4.3l5.6 4.7l2 1.7"/>
<path class="p" d="M548.3 59.5l2 1.8l5.6 4.8l5.5 4.9l5.6 5l5.6 5.1l5.6 5l5.5 4.9l5.6 4.6l5.6 4.2l5.6 3.8l5.5 3.6l5.6 3.1l5.6 2.6l5.6 2.1l5.5 1.3l5.6 .3l5.6-1.9l5.6-4.3l5.5-4.9l5.6-4.2l5.6-1.9l5.6 .7l5.5 3.1l5.6 5.2l5.6 7.1l5.6 9.5l5.5 8.7l5.6 7.4l5.6 6l5.6 4.6l5.5 3.6l5.6 3l5.6 2.5l5.5 2.1l5.6 1.4l5.6 1.1l5.6 .9l5.5 .7l5.6 .8l5.6 .8l5.6 .9l2 .3"/>
<path class="c" d="M548.3 59.7l2 1.7l5.6 4.8l5.5 5l5.6 5l5.6 5.1l5.6 5.1l5.5 5l5.6 4.7l5.6 4.3l5.6 4.1l5.5 3.8l5.6 3.4l5.6 3l5.6 2.5l5.5 1.9l5.6 1l5.6-.8l5.6-3l5.5-4l5.6-3.3l5.6-1l5.6 1.7l5.5 4.3l5.6 6.6l5.6 7.6l5.6 7.7l5.5 7.3l5.6 6.4l5.6 5.1l5.6 3.8l5.5 2.9l5.6 2.5l5.6 2l5.5 1.6l5.6 1.4l5.6 1.1l5.6 1l5.5 1l5.6 1.1l5.6 1.1l5.6 1.3l2 .5"/>
<path class="p" d="M548.3 60.9l2 1.6l5.6 4.5l5.5 4.5l5.6 4.5l5.6 4.5l5.6 4.4l5.5 4.3l5.6 3.9l5.6 3.3l5.6 2.9l5.5 2.8l5.6 2.5l5.6 2l5.6 1.7l5.5 1.2l5.6 0l5.6-2.5l5.6-4.3l5.5-4.1l5.6-3.2l5.6-.7l5.6 1.9l5.5 4.3l5.6 6.6l5.6 8.8l5.6 9.6l5.5 8.8l5.6 7.5l5.6 6.1l5.6 4.6l5.5 3.6l5.6 3.1l5.6 2.4l5.5 2.1l5.6 1.5l5.6 1.2l5.6 1.1l5.5 .8l5.6 .9l5.6 .9l5.6 1.1l2 .3"/>
<path class="c" d="M548.3 60.9l2 1.7l5.6 4.5l5.5 4.6l5.6 4.5l5.6 4.4l5.6 4.5l5.5 4.2l5.6 3.9l5.6 3.3l5.6 2.9l5.5 2.7l5.6 2.3l5.6 2l5.6 1.4l5.5 .9l5.6-.4l5.6-3.1l5.6-5l5.5-4.9l5.6-3.8l5.6-1.5l5.6 1l5.5 3l5.6 5l5.6 7.4l5.6 9.5l5.5 8.7l5.6 7.4l5.6 6l5.6 4.5l5.5 3.6l5.6 3l5.6 2.5l5.5 1.9l5.6 .7l5.6-.1l5.6-.1l5.5-.3l5.6-.2l5.6-.2l5.6-.1l2 0"/>
<path class="p" d="M548.3 66.4l2 1.6l5.6 4.7l5.5 4.4l5.6 4.1l5.6 3.8l5.6 3.7l5.5 3.4l5.6 3l5.6 2.5l5.6 2.1l5.5 1.9l5.6 1.5l5.6 1.3l5.6 .8l5.5 .4l5.6-.9l5.6-3.8l5.6-5.5l5.5-4.8l5.6-3.7l5.6-1.4l5.6 .9l5.5 2.8l5.6 4.7l5.6 6.9l5.6 9.3l5.5 8.7l5.6 7.6l5.6 6.5l5.6 5.2l5.5 4.3l5.6 3.8l5.6 3.3l5.5 2.5l5.6 1.2l5.6 .5l5.6 .4l5.5 .4l5.6 .3l5.6 .2l5.6 .3l2 0"/>
<path class="c" d="M548.3 66.4l2 1.6l5.6 4.7l5.5 4.5l5.6 4.2l5.6 3.8l5.6 3.7l5.5 3.5l5.6 3.1l5.6 2.7l5.6 2.1l5.5 2l5.6 1.6l5.6 1.3l5.6 .9l5.5 .5l5.6-.8l5.6-3.5l5.6-5.3l5.5-4.6l5.6-3.5l5.6-1.2l5.6 1.2l5.5 3.2l5.6 5.2l5.6 7.8l5.6 10.2l5.5 9.5l5.6 8.4l5.6 7l5.6 5.6l5.5 4.6l5.6 3.9l5.6 3.3l5.5 2.7l5.6 1.9l5.6 1.4l5.6 1.2l5.5 1.1l5.6 1l5.6 1l5.6 1l2 .4"/>
<path class="p" d="M548.3 62.9l2 1.8l5.6 5l5.5 5.1l5.6 5l5.6 5.1l5.6 5l5.5 4.9l5.6 4.7l5.6 4.5l5.6 4.3l5.5 4.1l5.6 3.8l5.6 3.4l5.6 2.8l5.5 2.3l5.6 1.5l5.6 .3l5.6-2l5.5-3.5l5.6-2.9l5.6-.6l5.6 3l5.5 6.4l5.6 8.4l5.6 9.2l5.6 9l5.5 8.4l5.6 7.5l5.6 6.2l5.6 4.9l5.5 4.2l5.6 3.7l5.6 3.6l5.5 3.5l5.6 4l5.6 4.4l5.6 4.2l5.5 4.1l5.6 4.2l5.6 4.4l5.6 4.6l2 1.6"/>
<path class="c" d="M548.3 63.0l2 1.8l5.6 5l5.5 5.1l5.6 5l5.6 5.1l5.6 5.1l5.5 4.9l5.6 4.8l5.6 4.5l5.6 4.3l5.5 4.1l5.6 3.8l5.6 3.4l5.6 2.9l5.5 2.2l5.6 1.6l5.6 .2l5.6-2l5.5-3.6l5.6-3l5.6-.6l5.6 2.9l5.5 6.2l5.6 8.2l5.6 9l5.6 8.8l5.5 8.2l5.6 7.3l5.6 6l5.6 4.8l5.5 4l5.6 3.5l5.6 3.4l5.5 3.2l5.6 3.7l5.6 3.9l5.6 3.8l5.5 3.7l5.6 3.7l5.6 3.9l5.6 4.1l2 1.4"/>
<path class="p" d="M548.3 58.6l2 1.6l5.6 4.4l5.5 4.4l5.6 4.3l5.6 4.3l5.6 4.3l5.5 4.1l5.6 3.7l5.6 3l5.6 2.6l5.5 2.4l5.6 2.1l5.6 1.8l5.6 1.5l5.5 .9l5.6-.4l5.6-3.2l5.6-4.8l5.5-4l5.6-2.8l5.6-.6l5.6 1.7l5.5 3.6l5.6 5.7l5.6 8.3l5.6 10.4l5.5 9.7l5.6 8.6l5.6 7.1l5.6 5.6l5.5 4.6l5.6 3.8l5.6 3.2l5.5 2.6l5.6 1.9l5.6 1.6l5.6 1.4l5.5 1.2l5.6 1.1l5.6 1.2l5.6 1.2l2 .4"/>
<path class="c" d="M548.3 58.7l2 1.6l5.6 4.4l5.5 4.4l5.6 4.3l5.6 4.3l5.6 4.3l5.5 4l5.6 3.6l5.6 3l5.6 2.4l5.5 2.3l5.6 2.1l5.6 1.7l5.6 1.3l5.5 .8l5.6-.7l5.6-3.5l5.6-5.2l5.5-4.3l5.6-3.2l5.6-.9l5.6 1.3l5.5 3.2l5.6 5.2l5.6 7.7l5.6 10l5.5 9.6l5.6 8.5l5.6 7.3l5.6 5.8l5.5 4.8l5.6 4.1l5.6 3.5l5.5 2.8l5.6 2l5.6 1.4l5.6 1.3l5.5 1.1l5.6 1l5.6 1l5.6 1l2 .3"/>
<path class="p" d="M548.3 62.0l2 1.9l5.6 5.1l5.5 5.2l5.6 5.4l5.6 5.6l5.6 5.7l5.5 5.6l5.6 5.4l5.6 5.3l5.6 5l5.5 4.9l5.6 5l5.6 4.2l5.6 3.1l5.5 2.3l5.6 1.5l5.6 .6l5.6-2.2l5.5-4.2l5.6-3.8l5.6-1.2l5.6 3l5.5 6.7l5.6 8.5l5.6 9.2l5.6 8.7l5.5 8l5.6 7l5.6 5.9l5.6 4.7l5.5 3.9l5.6 3.6l5.6 3.4l5.5 3.4l5.6 4l5.6 4.5l5.6 4.2l5.5 4.2l5.6 4.3l5.6 4.5l5.6 4.8l2 1.7"/>
<path class="c" d="M548.3 62.0l2 1.9l5.6 5.1l5.5 5.2l5.6 5.4l5.6 5.4l5.6 5.6l5.5 5.4l5.6 5.4l5.6 5.1l5.6 4.9l5.5 4.7l5.6 4.7l5.6 4.1l5.6 3l5.5 2.3l5.6 1.6l5.6 .4l5.6-2.1l5.5-4.1l5.6-3.7l5.6-1.1l5.6 2.8l5.5 6.5l5.6 8.2l5.6 9l5.6 8.6l5.5 7.9l5.6 6.9l5.6 5.8l5.6 4.4l5.5 3.7l5.6 3.3l5.6 3.1l5.5 2.9l5.6 3.4l5.6 3.7l5.6 3.5l5.5 3.3l5.6 3.4l5.6 3.7l5.6 3.9l2 1.4"/>
<path class="p" d="M548.3 65.8l2 2.3l5.6 6.4l5.5 6.2l5.6 6.1l5.6 5.9l5.6 6l5.5 6.2l5.6 5.7l5.6 5.3l5.6 5l5.5 4.7l5.6 5l5.6 3.6l5.6 1.9l5.5 1.3l5.6 .9l5.6 .3l5.6-2.2l5.5-4.5l5.6-4.2l5.6-1.7l5.6 2.2l5.5 5.8l5.6 7.5l5.6 8.2l5.6 7.8l5.5 7.2l5.6 6.3l5.6 5.1l5.6 3.7l5.5 3l5.6 2.6l5.6 2.2l5.5 2l5.6 2.3l5.6 2.5l5.6 2.1l5.5 2.1l5.6 2.1l5.6 2.3l5.6 2.8l2 .9"/>
<path class="c" d="M548.3 65.8l2 2.2l5.6 6.3l5.5 6.2l5.6 6.1l5.6 5.9l5.6 5.9l5.5 6l5.6 5.7l5.6 5.2l5.6 4.9l5.5 4.6l5.6 4.8l5.6 3.5l5.6 1.9l5.5 1.2l5.6 .7l5.6 .1l5.6-2.6l5.5-4.8l5.6-4.4l5.6-2l5.6 1.9l5.5 5.3l5.6 7l5.6 7.8l5.6 7.5l5.5 6.9l5.6 5.9l5.6 4.6l5.6 3.3l5.5 2.5l5.6 2l5.6 1.7l5.5 1.4l5.6 1.5l5.6 1.4l5.6 1.3l5.5 1.1l5.6 1.2l5.6 1.4l5.6 1.8l2 .7"/>
<path class="p" d="M548.3 69.0l2 1.8l5.6 4.9l5.5 4.9l5.6 4.9l5.6 4.7l5.6 4.8l5.5 4.6l5.6 4.3l5.6 4l5.6 3.6l5.5 3.3l5.6 2.9l5.6 2.3l5.6 1.5l5.5 .9l5.6 .1l5.6-1.6l5.6-4.2l5.5-5.2l5.6-4.4l5.6-2l5.6 .8l5.5 3.5l5.6 5.6l5.6 7l5.6 7.9l5.5 7.5l5.6 6.6l5.6 5.3l5.6 4l5.5 3.2l5.6 2.5l5.6 2.1l5.5 1.6l5.6 1.1l5.6 .6l5.6 .4l5.5 .2l5.6 .2l5.6 .4l5.6 .6l2 .2"/>
<path class="c" d="M548.3 69.0l2 1.8l5.6 4.9l5.5 5l5.6 4.9l5.6 4.8l5.6 4.9l5.5 4.8l5.6 4.6l5.6 4.2l5.6 4l5.5 3.6l5.6 3.3l5.6 2.7l5.6 1.7l5.5 1l5.6 .2l5.6-1.3l5.6-4l5.5-5.4l5.6-4.7l5.6-2.3l5.6 .6l5.5 3.3l5.6 5.3l5.6 6.4l5.6 7.1l5.5 6.9l5.6 6.2l5.6 5l5.6 3.6l5.5 2.8l5.6 2.2l5.6 1.7l5.5 1.2l5.6 .4l5.6-.1l5.6-.5l5.5-.5l5.6-.5l5.6-.3l5.6 .1l2 0"/>
<path class="p" d="M548.3 59.8l2 1.7l5.6 4.8l5.5 4.7l5.6 4.8l5.6 4.6l5.6 4.6l5.5 4.4l5.6 4.1l5.6 3.5l5.6 3.2l5.5 2.9l5.6 2.6l5.6 2.3l5.6 1.9l5.5 1.3l5.6 .2l5.6-2.1l5.6-4l5.5-4.1l5.6-3.1l5.6-.9l5.6 1.7l5.5 4.1l5.6 6.4l5.6 8.4l5.6 10l5.5 9l5.6 7.7l5.6 6.2l5.6 4.6l5.5 3.6l5.6 3l5.6 2.5l5.5 2l5.6 1.7l5.6 1.5l5.6 1.3l5.5 1.4l5.6 1.5l5.6 1.5l5.6 1.4l2 .5"/>
<path class="c" d="M548.3 60.0l2 1.7l5.6 4.8l5.5 4.8l5.6 4.8l5.6 4.7l5.6 4.7l5.5 4.5l5.6 4.2l5.6 3.7l5.6 3.3l5.5 3.1l5.6 2.8l5.6 2.4l5.6 2.1l5.5 1.5l5.6 .6l5.6-1.4l5.6-3.2l5.5-3.4l5.6-2.5l5.6-.3l5.6 2.4l5.5 4.9l5.6 7.2l5.6 8.5l5.6 8.8l5.5 8.5l5.6 7.6l5.6 6.3l5.6 5.1l5.5 4.2l5.6 3.7l5.6 3.3l5.5 2.9l5.6 3l5.6 2.9l5.6 2.6l5.5 2.6l5.6 2.4l5.6 2.5l5.6 2.4l2 .9"/>
<path class="p" d="M548.3 72.3l2 1.9l5.6 5.4l5.5 5.3l5.6 5.3l5.6 5.2l5.6 5.4l5.5 5.6l5.6 5.2l5.6 4.7l5.6 4.2l5.5 4l5.6 4l5.6 2.8l5.6 1.3l5.5 .7l5.6 .4l5.6-.3l5.6-2.6l5.5-4.4l5.6-3.9l5.6-1.8l5.6 1.7l5.5 4.6l5.6 6.2l5.6 7.2l5.6 7.5l5.5 7.1l5.6 6.4l5.6 5.2l5.6 4l5.5 3.2l5.6 2.7l5.6 2.5l5.5 2.2l5.6 2.2l5.6 2.3l5.6 2.1l5.5 1.9l5.6 2l5.6 2.1l5.6 2.3l2 .8"/>
<path class="c" d="M548.3 72.3l2 1.9l5.6 5.3l5.5 5.4l5.6 5.2l5.6 5.2l5.6 5.5l5.5 5.6l5.6 5.2l5.6 4.7l5.6 4.2l5.5 4.1l5.6 4.2l5.6 2.8l5.6 1.4l5.5 .8l5.6 .5l5.6-.3l5.6-2.6l5.5-4.4l5.6-3.9l5.6-1.8l5.6 1.8l5.5 4.8l5.6 6.5l5.6 7.4l5.6 7.5l5.5 7.1l5.6 6.3l5.6 5.2l5.6 4l5.5 3.2l5.6 2.8l5.6 2.5l5.5 2.2l5.6 2.4l5.6 2.5l5.6 2.2l5.5 2.1l5.6 2.2l5.6 2.2l5.6 2.4l2 .9"/>
<path class="p" d="M548.3 70.2l2 1.7l5.6 4.9l5.5 4.8l5.6 4.6l5.6 4.3l5.6 4.3l5.5 3.9l5.6 3.4l5.6 2.8l5.6 2.2l5.5 1.7l5.6 1.4l5.6 .9l5.6 .6l5.5 .1l5.6-.9l5.6-3.3l5.6-5.3l5.5-5l5.6-3.8l5.6-1.4l5.6 1.2l5.5 3.5l5.6 5.7l5.6 8.3l5.6 10.2l5.5 9.4l5.6 8l5.6 6.6l5.6 5.1l5.5 4.1l5.6 3.4l5.6 2.8l5.5 2.3l5.6 1.7l5.6 1.4l5.6 1.1l5.5 1l5.6 .9l5.6 1l5.6 1.1l2 .3"/>
<path class="c" d="M548.3 70.1l2 1.7l5.6 4.9l5.5 4.8l5.6 4.6l5.6 4.4l5.6 4.3l5.5 4l5.6 3.5l5.6 2.9l5.6 2.4l5.5 1.8l5.6 1.5l5.6 1l5.6 .6l5.5 0l5.6-1l5.6-3.4l5.6-5.4l5.5-5.2l5.6-4.2l5.6-1.8l5.6 .7l5.5 2.7l5.6 4.9l5.6 7.2l5.6 9.6l5.5 8.8l5.6 7.6l5.6 6.2l5.6 4.8l5.5 3.9l5.6 3.4l5.6 2.8l5.5 2.2l5.6 1.2l5.6 .5l5.6 .5l5.5 .3l5.6 .3l5.6 .4l5.6 .4l2 .1"/>
<path class="p" d="M548.3 66.3l2 1.8l5.6 5.1l5.5 5l5.6 4.9l5.6 4.8l5.6 4.5l5.5 4.3l5.6 4l5.6 3.6l5.6 3.3l5.5 2.8l5.6 2.5l5.6 2l5.6 1.5l5.5 1.1l5.6 .2l5.6-1.4l5.6-3.4l5.5-3.7l5.6-2.9l5.6-.8l5.6 1.7l5.5 4.1l5.6 6.4l5.6 7.7l5.6 7.7l5.5 7.6l5.6 6.7l5.6 5.8l5.6 4.5l5.5 3.7l5.6 3.2l5.6 2.8l5.5 2.4l5.6 2.3l5.6 2.2l5.6 2l5.5 1.8l5.6 1.8l5.6 1.8l5.6 1.8l2 .6"/>
<path class="c" d="M548.3 66.2l2 1.8l5.6 5.1l5.5 5l5.6 4.8l5.6 4.6l5.6 4.4l5.5 4.1l5.6 3.7l5.6 3.3l5.6 3l5.5 2.5l5.6 2.1l5.6 1.7l5.6 1.3l5.5 .7l5.6-.2l5.6-2.3l5.6-4.2l5.5-4.2l5.6-3.4l5.6-1.2l5.6 1.2l5.5 3.4l5.6 5.6l5.6 7.7l5.6 9.4l5.5 8.8l5.6 7.7l5.6 6.2l5.6 4.7l5.5 3.8l5.6 3.1l5.6 2.6l5.5 2.1l5.6 1.7l5.6 1.4l5.6 1.2l5.5 1.1l5.6 1.1l5.6 1.1l5.6 1.2l2 .4"/>
<path class="p" d="M548.3 62.3l2 2.1l5.6 6.1l5.5 6.3l5.6 6.3l5.6 6l5.6 5.8l5.5 5.8l5.6 5.6l5.6 5.2l5.6 4.8l5.5 4.6l5.6 4.6l5.6 3.5l5.6 2.1l5.5 1.5l5.6 .8l5.6-.1l5.6-2.8l5.5-4.8l5.6-4.3l5.6-1.8l5.6 1.9l5.5 5.3l5.6 7.2l5.6 8l5.6 8l5.5 7.3l5.6 6.4l5.6 5.1l5.6 3.7l5.5 3l5.6 2.5l5.6 2.1l5.5 1.9l5.6 2l5.6 2l5.6 1.7l5.5 1.7l5.6 1.6l5.6 1.9l5.6 2.1l2 .8"/>
<path class="c" d="M548.3 62.3l2 2.2l5.6 6l5.5 6.3l5.6 6.3l5.6 6l5.6 5.8l5.5 5.9l5.6 5.6l5.6 5.3l5.6 4.9l5.5 4.6l5.6 4.7l5.6 3.6l5.6 2.3l5.5 1.5l5.6 1l5.6 .1l5.6-2.5l5.5-4.6l5.6-4l5.6-1.6l5.6 2.4l5.5 5.9l5.6 7.8l5.6 8.6l5.6 8.3l5.5 7.7l5.6 6.8l5.6 5.6l5.6 4.4l5.5 3.6l5.6 3.2l5.6 3l5.5 2.8l5.6 3.3l5.6 3.5l5.6 3.2l5.5 3.2l5.6 3.3l5.6 3.4l5.6 3.7l2 1.3"/>
<path class="p" d="M548.3 58.6l2 1.7l5.6 4.8l5.5 4.9l5.6 5.1l5.6 5l5.6 5.1l5.5 5l5.6 4.8l5.6 4.3l5.6 4l5.5 3.8l5.6 3.6l5.6 3.1l5.6 2.6l5.5 1.9l5.6 1.2l5.6-.7l5.6-3l5.5-4l5.6-3.1l5.6-.7l5.6 2.4l5.5 5.5l5.6 7.7l5.6 8.8l5.6 8.2l5.5 7.7l5.6 6.7l5.6 5.4l5.6 4.1l5.5 3.4l5.6 2.8l5.6 2.5l5.5 2.2l5.6 2.1l5.6 2.1l5.6 1.8l5.5 1.8l5.6 1.7l5.6 1.8l5.6 1.9l2 .7"/>
<path class="c" d="M548.3 58.7l2 1.7l5.6 4.8l5.5 5l5.6 5l5.6 5.1l5.6 5.1l5.5 4.9l5.6 4.6l5.6 4.1l5.6 3.7l5.5 3.5l5.6 3.1l5.6 2.5l5.6 2.1l5.5 1.4l5.6 .4l5.6-1.9l5.6-4.2l5.5-4.6l5.6-3.8l5.6-1.2l5.6 1.7l5.5 4.3l5.6 6.7l5.6 8.3l5.6 9.1l5.5 8.3l5.6 7.1l5.6 5.7l5.6 4.3l5.5 3.4l5.6 2.9l5.6 2.4l5.5 2l5.6 1.6l5.6 1.4l5.6 1.2l5.5 1.1l5.6 1.1l5.6 1.2l5.6 1.3l2 .4"/>
<path class="p" d="M548.3 58.9l2 1.5l5.6 4.4l5.5 4.4l5.6 4.3l5.6 4.3l5.6 4.2l5.5 4.1l5.6 3.6l5.6 2.9l5.6 2.5l5.5 2.3l5.6 2.1l5.6 1.8l5.6 1.4l5.5 .9l5.6-.6l5.6-3.5l5.6-5.4l5.5-4.7l5.6-3.4l5.6-.7l5.6 2.1l5.5 4.9l5.6 7.7l5.6 10.7l5.6 11.9l5.5 10.6l5.6 8.8l5.6 7l5.6 5.2l5.5 4.1l5.6 3.3l5.6 2.7l5.5 2.2l5.6 1.8l5.6 2.2l5.6 2.3l5.5 2.2l5.6 2l5.6 2l5.6 1.7l2 .7"/>
<path class="c" d="M548.3 58.9l2 1.6l5.6 4.4l5.5 4.4l5.6 4.3l5.6 4.3l5.6 4.2l5.5 4l5.6 3.6l5.6 2.9l5.6 2.4l5.5 2.3l5.6 2l5.6 1.7l5.6 1.3l5.5 .7l5.6-.8l5.6-3.8l5.6-5.7l5.5-4.8l5.6-3.6l5.6-1.1l5.6 1.4l5.5 3.6l5.6 6l5.6 8.5l5.6 11.1l5.5 10.4l5.6 9.2l5.6 7.6l5.6 6.1l5.5 5l5.6 4.2l5.6 3.5l5.5 2.8l5.6 2.1l5.6 1.7l5.6 1.5l5.5 1.3l5.6 1.2l5.6 1.2l5.6 1.2l2 .5"/>
<path class="p" d="M548.3 61.1l2 2l5.6 5.4l5.5 5.6l5.6 5.7l5.6 5.8l5.6 5.8l5.5 5.6l5.6 5.2l5.6 4.9l5.6 4.6l5.5 4.3l5.6 4.1l5.6 3.3l5.6 2.4l5.5 1.6l5.6 .9l5.6-.4l5.6-2.7l5.5-4.4l5.6-3.9l5.6-1.5l5.6 1.8l5.5 4.8l5.6 6.8l5.6 7.7l5.6 8.1l5.5 7.7l5.6 6.7l5.6 5.5l5.6 4.2l5.5 3.5l5.6 3l5.6 2.6l5.5 2.4l5.6 2.4l5.6 2.5l5.6 2.3l5.5 2.1l5.6 2.1l5.6 2.2l5.6 2.4l2 .8"/>
<path class="c" d="M548.3 61.2l2 1.9l5.6 5.5l5.5 5.6l5.6 5.7l5.6 5.7l5.6 5.8l5.5 5.5l5.6 5.3l5.6 4.9l5.6 4.7l5.5 4.4l5.6 4.2l5.6 3.5l5.6 2.5l5.5 1.9l5.6 1.2l5.6 0l5.6-2.4l5.5-4l5.6-3.6l5.6-1.2l5.6 2.2l5.5 5.5l5.6 7.4l5.6 8.3l5.6 8.2l5.5 7.6l5.6 6.7l5.6 5.5l5.6 4.2l5.5 3.4l5.6 3l5.6 2.6l5.5 2.5l5.6 2.6l5.6 2.8l5.6 2.5l5.5 2.4l5.6 2.4l5.6 2.6l5.6 2.7l2 1"/>
<path class="p" d="M548.3 62.8l2 2.1l5.6 5.7l5.5 6l5.6 6l5.6 5.9l5.6 5.8l5.5 5.8l5.6 5.7l5.6 5.4l5.6 5.2l5.5 5.1l5.6 5.1l5.6 4.2l5.6 2.7l5.5 2l5.6 1.6l5.6 1l5.6-1.5l5.5-4l5.6-3.7l5.6-1.4l5.6 2.5l5.5 6.2l5.6 7.8l5.6 8.6l5.6 8.3l5.5 7.8l5.6 7.1l5.6 5.9l5.6 4.7l5.5 4.1l5.6 3.7l5.6 3.7l5.5 3.6l5.6 4.4l5.6 5l5.6 4.7l5.5 4.8l5.6 4.9l5.6 5.2l5.6 5.5l2 2"/>
<path class="c" d="M548.3 62.7l2 2.1l5.6 5.7l5.5 5.9l5.6 5.9l5.6 5.8l5.6 5.6l5.5 5.4l5.6 5.4l5.6 5.1l5.6 4.8l5.5 4.6l5.6 4.7l5.6 3.8l5.6 2.7l5.5 2.1l5.6 1.6l5.6 1l5.6-1.4l5.5-3.4l5.6-3.3l5.6-1.1l5.6 2.6l5.5 6.1l5.6 7.9l5.6 8.7l5.6 8.5l5.5 7.9l5.6 7.2l5.6 6l5.6 4.9l5.5 4.1l5.6 3.8l5.6 3.7l5.5 3.7l5.6 4.4l5.6 4.9l5.6 4.8l5.5 4.7l5.6 4.9l5.6 5.1l5.6 5.5l2 1.9"/>
<path class="p" d="M548.3 66.1l2 2l5.6 5.8l5.5 5.8l5.6 5.8l5.6 5.6l5.6 5.8l5.5 5.9l5.6 5.6l5.6 5.2l5.6 5l5.5 4.8l5.6 4.9l5.6 3.7l5.6 2.2l5.5 1.5l5.6 1l5.6 .3l5.6-2.2l5.5-4.4l5.6-4l5.6-1.6l5.6 2.4l5.5 6l5.6 7.7l5.6 8.6l5.6 8.3l5.5 7.6l5.6 6.9l5.6 5.6l5.6 4.4l5.5 3.6l5.6 3.3l5.6 3.1l5.5 3l5.6 3.5l5.6 3.8l5.6 3.6l5.5 3.5l5.6 3.5l5.6 3.8l5.6 4.1l2 1.4"/>
<path class="c" d="M548.3 66.0l2 2.1l5.6 5.8l5.5 5.7l5.6 5.7l5.6 5.7l5.6 5.7l5.5 5.8l5.6 5.5l5.6 5.2l5.6 4.9l5.5 4.8l5.6 4.8l5.6 3.7l5.6 2.3l5.5 1.5l5.6 1l5.6 .4l5.6-2.3l5.5-4.4l5.6-4.1l5.6-1.6l5.6 2.4l5.5 5.9l5.6 7.7l5.6 8.5l5.6 8.2l5.5 7.5l5.6 6.7l5.6 5.4l5.6 4.2l5.5 3.4l5.6 2.9l5.6 2.7l5.5 2.6l5.6 2.9l5.6 3.1l5.6 2.8l5.5 2.8l5.6 2.8l5.6 3l5.6 3.3l2 1.2"/>
<path class="p" d="M548.3 63.1l2 2l5.6 5.3l5.5 5.5l5.6 5.5l5.6 5.5l5.6 5.5l5.5 5.2l5.6 5l5.6 4.9l5.6 4.6l5.5 4.5l5.6 4.4l5.6 3.7l5.6 2.7l5.5 2.1l5.6 1.3l5.6 .2l5.6-2.5l5.5-4.3l5.6-3.8l5.6-1.2l5.6 2.6l5.5 6.2l5.6 8l5.6 8.8l5.6 8.5l5.5 7.7l5.6 6.6l5.6 5.4l5.6 4.1l5.5 3.2l5.6 2.8l5.6 2.5l5.5 2.3l5.6 2.5l5.6 2.5l5.6 2.4l5.5 2.2l5.6 2.2l5.6 2.4l5.6 2.7l2 1"/>
<path class="c" d="M548.3 63.2l2 2l5.6 5.3l5.5 5.5l5.6 5.6l5.6 5.5l5.6 5.4l5.5 5.3l5.6 5l5.6 4.9l5.6 4.6l5.5 4.4l5.6 4.3l5.6 3.6l5.6 2.6l5.5 1.9l5.6 1.3l5.6 0l5.6-2.6l5.5-4.3l5.6-3.8l5.6-1.2l5.6 2.6l5.5 6.1l5.6 8.1l5.6 8.8l5.6 8.6l5.5 7.9l5.6 6.8l5.6 5.6l5.6 4.4l5.5 3.5l5.6 3.1l5.6 2.9l5.5 2.6l5.6 3l5.6 3.2l5.6 2.9l5.5 2.8l5.6 2.9l5.6 3l5.6 3.3l2 1.1"/>
<path class="p" d="M548.3 63.3l2 2l5.6 5.7l5.5 5.7l5.6 5.6l5.6 5.4l5.6 5.2l5.5 5l5.6 4.6l5.6 4.4l5.6 3.9l5.5 3.6l5.6 3.2l5.6 2.5l5.6 1.9l5.5 1.2l5.6 .6l5.6-.9l5.6-3.1l5.5-4.2l5.6-3.5l5.6-1.4l5.6 1.4l5.5 4l5.6 6.2l5.6 7.2l5.6 7.4l5.5 7l5.6 6.3l5.6 5.1l5.6 3.8l5.5 3l5.6 2.6l5.6 2.1l5.5 1.8l5.6 1.6l5.6 1.4l5.6 1.3l5.5 1.2l5.6 1.1l5.6 1.3l5.6 1.4l2 .4"/>
<path class="c" d="M548.3 63.3l2 2.1l5.6 5.6l5.5 5.7l5.6 5.6l5.6 5.4l5.6 5.2l5.5 4.9l5.6 4.6l5.6 4.2l5.6 3.9l5.5 3.4l5.6 2.9l5.6 2.3l5.6 1.7l5.5 1.1l5.6 .4l5.6-1.2l5.6-3.3l5.5-4.1l5.6-3.6l5.6-1.3l5.6 1.3l5.5 3.8l5.6 6l5.6 7.2l5.6 7.5l5.5 7.3l5.6 6.6l5.6 5.5l5.6 4.1l5.5 3.4l5.6 2.9l5.6 2.5l5.5 2.2l5.6 1.9l5.6 1.8l5.6 1.6l5.5 1.6l5.6 1.4l5.6 1.5l5.6 1.6l2 .6"/>
<path class="p" d="M548.3 59.7l2 1.6l5.6 4.4l5.5 4.5l5.6 4.5l5.6 4.4l5.6 4.5l5.5 4.3l5.6 4.1l5.6 3.5l5.6 3.2l5.5 3.2l5.6 2.9l5.6 2.7l5.6 2.4l5.5 1.8l5.6 .9l5.6-1.3l5.6-3.3l5.5-3.5l5.6-2.7l5.6-.4l5.6 2.4l5.5 4.9l5.6 7.2l5.6 8.4l5.6 8.5l5.5 7.8l5.6 6.8l5.6 5.5l5.6 4.2l5.5 3.3l5.6 2.8l5.6 2.3l5.5 1.9l5.6 1.6l5.6 1.3l5.6 1.2l5.5 1.1l5.6 1.1l5.6 1.2l5.6 1.3l2 .4"/>
<path class="c" d="M548.3 59.9l2 1.6l5.6 4.4l5.5 4.5l5.6 4.5l5.6 4.5l5.6 4.4l5.5 4.4l5.6 4l5.6 3.6l5.6 3.2l5.5 3.1l5.6 2.9l5.6 2.6l5.6 2.3l5.5 1.8l5.6 .7l5.6-1.5l5.6-3.3l5.5-3.6l5.6-2.6l5.6-.4l5.6 2.4l5.5 5l5.6 7.3l5.6 8.6l5.6 8.7l5.5 7.9l5.6 7.1l5.6 5.8l5.6 4.4l5.5 3.5l5.6 3l5.6 2.5l5.5 2.1l5.6 1.9l5.6 1.6l5.6 1.5l5.5 1.4l5.6 1.3l5.6 1.4l5.6 1.5l2 .5"/>
<path class="p" d="M548.3 60.2l2 1.7l5.6 4.8l5.5 4.8l5.6 4.9l5.6 5l5.6 5l5.5 4.9l5.6 4.6l5.6 4.3l5.6 4.1l5.5 3.9l5.6 3.7l5.6 3.2l5.6 2.8l5.5 2.3l5.6 1.3l5.6-.3l5.6-2.7l5.5-3.7l5.6-3.1l5.6-.7l5.6 2.5l5.5 5.6l5.6 7.7l5.6 8.6l5.6 8l5.5 7.6l5.6 6.6l5.6 5.3l5.6 4.1l5.5 3.3l5.6 2.9l5.6 2.5l5.5 2.2l5.6 2.2l5.6 2.2l5.6 2l5.5 1.8l5.6 1.9l5.6 1.9l5.6 2.1l2 .8"/>
<path class="c" d="M548.3 60.2l2 1.7l5.6 4.8l5.5 4.7l5.6 4.8l5.6 4.8l5.6 4.7l5.5 4.6l5.6 4.2l5.6 3.8l5.6 3.4l5.5 3.3l5.6 2.9l5.6 2.6l5.6 2.1l5.5 1.6l5.6 .5l5.6-1.5l5.6-3.7l5.5-4.1l5.6-3.1l5.6-.7l5.6 2.4l5.5 5.2l5.6 7.6l5.6 8.8l5.6 8.8l5.5 8.4l5.6 7.3l5.6 6l5.6 4.7l5.5 3.9l5.6 3.3l5.6 2.9l5.5 2.6l5.6 2.5l5.6 2.3l5.6 2.2l5.5 2l5.6 1.9l5.6 2l5.6 2l2 .7"/>
<path class="p" d="M548.3 60.5l2 1.8l5.6 5.1l5.5 5.3l5.6 5.3l5.6 5.3l5.6 5.3l5.5 5.1l5.6 4.9l5.6 4.6l5.6 4.3l5.5 3.9l5.6 3.4l5.6 3l5.6 2.3l5.5 1.6l5.6 .8l5.6-.9l5.6-3.2l5.5-4.3l5.6-3.7l5.6-1.5l5.6 1.5l5.5 4l5.6 6.3l5.6 7.4l5.6 6.8l5.5 6.5l5.6 5.8l5.6 4.9l5.6 3.8l5.5 3l5.6 2.6l5.6 2.1l5.5 1.8l5.6 1.4l5.6 1.1l5.6 .9l5.5 .8l5.6 .7l5.6 .9l5.6 1l2 .4"/>
<path class="c" d="M548.3 60.7l2 1.8l5.6 5.1l5.5 5.2l5.6 5.3l5.6 5.3l5.6 5.3l5.5 5.1l5.6 4.8l5.6 4.4l5.6 4.1l5.5 3.6l5.6 3.2l5.6 2.6l5.6 2l5.5 1.2l5.6 .4l5.6-1.6l5.6-3.9l5.5-4.9l5.6-4.2l5.6-2l5.6 .4l5.5 2.7l5.6 4.8l5.6 6.5l5.6 8.1l5.5 7.8l5.6 6.7l5.6 5.4l5.6 4l5.5 3.1l5.6 2.5l5.6 2.1l5.5 1.5l5.6 .8l5.6 .1l5.6 0l5.5-.2l5.6-.1l5.6 0l5.6 .2l2 .1"/>
<path class="p" d="M548.3 69.9l2 1.7l5.6 4.9l5.5 4.9l5.6 4.9l5.6 4.8l5.6 4.9l5.5 4.8l5.6 4.6l5.6 4.2l5.6 4l5.5 3.7l5.6 3.5l5.6 2.8l5.6 1.9l5.5 1.2l5.6 .4l5.6-.9l5.6-3.6l5.5-5.2l5.6-4.5l5.6-2l5.6 1.3l5.5 4.2l5.6 6.4l5.6 7.1l5.6 7.6l5.5 7l5.6 6l5.6 4.7l5.6 3.3l5.5 2.5l5.6 2l5.6 1.8l5.5 1.8l5.6 1.4l5.6 1.3l5.6 1l5.5 1l5.6 1l5.6 1l5.6 1.2l2 .5"/>
<path class="c" d="M548.3 69.7l2 1.8l5.6 4.9l5.5 4.9l5.6 4.9l5.6 4.7l5.6 4.9l5.5 4.9l5.6 4.5l5.6 4.3l5.6 4l5.5 3.8l5.6 3.7l5.6 3l5.6 2.1l5.5 1.5l5.6 .9l5.6-.4l5.6-2.9l5.5-4.4l5.6-3.9l5.6-1.3l5.6 2.1l5.5 5.5l5.6 7.5l5.6 8.3l5.6 8.1l5.5 7.5l5.6 6.5l5.6 5.1l5.6 3.9l5.5 3l5.6 2.5l5.6 2.1l5.5 1.8l5.6 1.9l5.6 1.8l5.6 1.5l5.5 1.5l5.6 1.5l5.6 1.6l5.6 1.9l2 .7"/>
<path class="p" d="M548.3 66.1l2 1.9l5.6 5.2l5.5 5.1l5.6 5.1l5.6 5l5.6 4.8l5.5 4.6l5.6 4.4l5.6 4.1l5.6 3.9l5.5 3.5l5.6 3.3l5.6 2.8l5.6 2.3l5.5 1.7l5.6 .9l5.6-.6l5.6-3.2l5.5-4.4l5.6-3.6l5.6-.8l5.6 2.9l5.5 6.5l5.6 8.9l5.6 9.6l5.6 9.1l5.5 8.3l5.6 7.3l5.6 6l5.6 4.6l5.5 3.9l5.6 3.5l5.6 3.1l5.5 3l5.6 3.3l5.6 3.6l5.6 3.3l5.5 3.2l5.6 3.2l5.6 3.3l5.6 3.5l2 1.2"/>
<path class="c" d="M548.3 66.0l2 1.9l5.6 5.2l5.5 5.2l5.6 5l5.6 5l5.6 4.8l5.5 4.5l5.6 4.3l5.6 4l5.6 3.7l5.5 3.4l5.6 2.9l5.6 2.6l5.6 2l5.5 1.5l5.6 .6l5.6-1.1l5.6-3.5l5.5-4.7l5.6-3.7l5.6-.9l5.6 2.6l5.5 6l5.6 8.5l5.6 9.5l5.6 9.3l5.5 8.6l5.6 7.5l5.6 6.2l5.6 4.8l5.5 4.1l5.6 3.7l5.6 3.3l5.5 3.1l5.6 3.3l5.6 3.5l5.6 3.3l5.5 3.1l5.6 3.2l5.6 3.2l5.6 3.3l2 1.2"/>
<path class="p" d="M548.3 59.9l2 1.8l5.6 5l5.5 5l5.6 5.1l5.6 4.9l5.6 4.8l5.5 4.5l5.6 4.1l5.6 3.4l5.6 2.8l5.5 2.5l5.6 2.1l5.6 1.5l5.6 1.1l5.5 .4l5.6-.9l5.6-3.8l5.6-5.8l5.5-5.4l5.6-4.2l5.6-1.6l5.6 1l5.5 3.4l5.6 5.6l5.6 8.1l5.6 10.4l5.5 9.7l5.6 8.4l5.6 7l5.6 5.6l5.5 4.6l5.6 4l5.6 3.4l5.5 2.7l5.6 2l5.6 1.6l5.6 1.4l5.5 1.2l5.6 1.1l5.6 1.1l5.6 1.2l2 .4"/>
<path class="c" d="M548.3 59.9l2 1.8l5.6 5l5.5 5.1l5.6 5l5.6 4.9l5.6 4.7l5.5 4.5l5.6 3.9l5.6 3.4l5.6 2.8l5.5 2.5l5.6 2l5.6 1.6l5.6 1.1l5.5 .5l5.6-.7l5.6-3.5l5.6-5.6l5.5-5.1l5.6-3.9l5.6-1.4l5.6 1.2l5.5 3.4l5.6 5.7l5.6 8.1l5.6 10.5l5.5 9.7l5.6 8.4l5.6 7l5.6 5.5l5.5 4.4l5.6 3.8l5.6 3.2l5.5 2.6l5.6 2l5.6 1.5l5.6 1.3l5.5 1.2l5.6 1.1l5.6 1.1l5.6 1.2l2 .4"/>
<path class="p" d="M548.3 69.9l2 1.9l5.6 5.4l5.5 5.3l5.6 5.1l5.6 5l5.6 5l5.5 4.9l5.6 4.5l5.6 3.8l5.6 3.4l5.5 2.8l5.6 2.4l5.6 1.5l5.6 .6l5.5 .1l5.6-.8l5.6-2.8l5.6-5.3l5.5-6.1l5.6-5l5.6-2.3l5.6 .8l5.5 3.6l5.6 6.1l5.6 8.1l5.6 9.4l5.5 8.5l5.6 7.4l5.6 6l5.6 4.6l5.5 3.6l5.6 3l5.6 2.5l5.5 2.1l5.6 1.7l5.6 1.4l5.6 1.2l5.5 1l5.6 1.1l5.6 1.1l5.6 1.2l2 .4"/>
<path class="c" d="M548.3 69.8l2 1.9l5.6 5.4l5.5 5.2l5.6 5.2l5.6 5l5.6 5l5.5 5l5.6 4.4l5.6 4l5.6 3.4l5.5 3l5.6 2.5l5.6 1.6l5.6 .7l5.5 .2l5.6-.6l5.6-2.5l5.6-5l5.5-5.9l5.6-4.9l5.6-2.3l5.6 .5l5.5 3.1l5.6 5.3l5.6 7.3l5.6 8.9l5.5 8.3l5.6 7.3l5.6 5.8l5.6 4.5l5.5 3.6l5.6 3l5.6 2.5l5.5 2.1l5.6 1.5l5.6 1.2l5.6 1l5.5 .9l5.6 .8l5.6 .9l5.6 1l2 .4"/>
<path class="p" d="M548.3 70.9l2 2l5.6 5.3l5.5 5.3l5.6 5.3l5.6 5.1l5.6 5.4l5.5 5.4l5.6 5l5.6 4.5l5.6 4l5.5 3.7l5.6 3.6l5.6 2.3l5.6 1.1l5.5 .3l5.6-.4l5.6-1.9l5.6-4.6l5.5-6.2l5.6-5.5l5.6-2.9l5.6-.1l5.5 2.3l5.6 4.5l5.6 5.8l5.6 7.6l5.5 7.4l5.6 6.5l5.6 5.1l5.6 3.9l5.5 3l5.6 2.4l5.6 2l5.5 1.5l5.6 .7l5.6 .1l5.6 0l5.5-.1l5.6-.1l5.6 0l5.6 .3l2 .1"/>
<path class="c" d="M548.3 70.8l2 1.9l5.6 5.4l5.5 5.3l5.6 5.2l5.6 5.1l5.6 5.3l5.5 5.4l5.6 4.9l5.6 4.4l5.6 4.1l5.5 3.7l5.6 3.6l5.6 2.4l5.6 1.1l5.5 .5l5.6-.1l5.6-1.5l5.6-4.1l5.5-5.7l5.6-5l5.6-2.4l5.6 .7l5.5 3.6l5.6 5.7l5.6 6.7l5.6 6.8l5.5 6.6l5.6 6.1l5.6 5l5.6 3.8l5.5 3.1l5.6 2.6l5.6 2.2l5.5 1.8l5.6 1.4l5.6 1.1l5.6 .9l5.5 .8l5.6 .7l5.6 .9l5.6 1l2 .4"/>
<path class="p" d="M548.3 69.2l2 1.8l5.6 4.9l5.5 4.9l5.6 4.9l5.6 4.9l5.6 4.9l5.5 4.8l5.6 4.6l5.6 4.3l5.6 4l5.5 3.7l5.6 3.6l5.6 2.8l5.6 1.9l5.5 1.3l5.6 .7l5.6-.6l5.6-3l5.5-4.5l5.6-3.8l5.6-1.5l5.6 1.6l5.5 4.4l5.6 6.4l5.6 7.4l5.6 7.2l5.5 6.7l5.6 5.9l5.6 4.5l5.6 3.3l5.5 2.5l5.6 1.9l5.6 1.5l5.5 1.2l5.6 .9l5.6 .8l5.6 .8l5.5 1.1l5.6 1l5.6 1.1l5.6 1.2l2 .4"/>
<path class="c" d="M548.3 69.1l2 1.8l5.6 4.9l5.5 4.9l5.6 4.9l5.6 4.9l5.6 4.8l5.5 4.8l5.6 4.5l5.6 4.2l5.6 4l5.5 3.6l5.6 3.4l5.6 2.7l5.6 1.8l5.5 1.3l5.6 .5l5.6-.9l5.6-3.3l5.5-4.7l5.6-4.1l5.6-1.8l5.6 1.4l5.5 4.1l5.6 6.2l5.6 7.1l5.6 7l5.5 6.6l5.6 5.6l5.6 4.3l5.6 3.1l5.5 2.9l5.6 2.4l5.6 2.1l5.5 1.7l5.6 1.4l5.6 1.2l5.6 .9l5.5 .8l5.6 .8l5.6 .9l5.6 1l2 .4"/>
<path class="p" d="M548.3 62.2l2 1.8l5.6 4.8l5.5 4.9l5.6 4.8l5.6 4.7l5.6 4.5l5.5 4.4l5.6 4l5.6 3.5l5.6 3.1l5.5 2.8l5.6 2.4l5.6 2l5.6 1.4l5.5 .9l5.6-.3l5.6-3l5.6-5.1l5.5-5.2l5.6-4.1l5.6-1.5l5.6 1.3l5.5 3.8l5.6 6.1l5.6 8.2l5.6 10.3l5.5 9.4l5.6 8l5.6 6.4l5.6 4.9l5.5 4l5.6 3.2l5.6 2.8l5.5 2.2l5.6 1.7l5.6 1.3l5.6 1.1l5.5 1l5.6 1l5.6 1l5.6 1.1l2 .4"/>
<path class="c" d="M548.3 62.3l2 1.7l5.6 4.9l5.5 4.9l5.6 4.8l5.6 4.6l5.6 4.6l5.5 4.4l5.6 4l5.6 3.6l5.6 3.2l5.5 2.9l5.6 2.5l5.6 2.2l5.6 1.6l5.5 1.1l5.6 0l5.6-2.5l5.6-4.8l5.5-5l5.6-3.9l5.6-1.1l5.6 1.9l5.5 4.8l5.6 7.3l5.6 9.1l5.6 9.9l5.5 8.9l5.6 7.4l5.6 5.9l5.6 4.4l5.5 3.6l5.6 2.9l5.6 2.4l5.5 2l5.6 1.6l5.6 1.5l5.6 1.2l5.5 1.2l5.6 1.4l5.6 1.3l5.6 1.4l2 .5"/>
<path class="p" d="M548.3 67.9l2 1.9l5.6 5.2l5.5 5.1l5.6 5l5.6 4.8l5.6 4.6l5.5 4.3l5.6 3.9l5.6 3.3l5.6 2.7l5.5 2.1l5.6 1.4l5.6 1l5.6 .4l5.5-.1l5.6-1l5.6-3.2l5.6-4.9l5.5-4.8l5.6-3.8l5.6-2l5.6-.2l5.5 1.6l5.6 3.5l5.6 6.1l5.6 9l5.5 8.6l5.6 7.5l5.6 6.3l5.6 5l5.5 4l5.6 3.6l5.6 3l5.5 2.3l5.6 1.2l5.6 .6l5.6 .4l5.5 .3l5.6 .3l5.6 .3l5.6 .4l2 .1"/>
<path class="c" d="M548.3 67.8l2 1.9l5.6 5.2l5.5 5.2l5.6 5l5.6 4.8l5.6 4.7l5.5 4.5l5.6 4.1l5.6 3.6l5.6 3.1l5.5 2.6l5.6 2l5.6 1.5l5.6 .9l5.5 .4l5.6-.3l5.6-2l5.6-3.9l5.5-4l5.6-3.4l5.6-1.6l5.6 .3l5.5 2.2l5.6 4.1l5.6 6.3l5.6 8.7l5.5 8.4l5.6 7.5l5.6 6.1l5.6 4.7l5.5 3.7l5.6 3.2l5.6 2.7l5.5 2.1l5.6 1.5l5.6 1.2l5.6 .9l5.5 .8l5.6 .8l5.6 .8l5.6 1l2 .3"/>
<path class="p" d="M548.3 69.4l2 1.7l5.6 4.4l5.5 4.4l5.6 4.3l5.6 4.2l5.6 3.9l5.5 3.5l5.6 3.2l5.6 2.8l5.6 2.4l5.5 2.1l5.6 1.7l5.6 1.3l5.6 .8l5.5 .2l5.6-1l5.6-3.9l5.6-6.1l5.5-5.8l5.6-4.6l5.6-2l5.6 .6l5.5 2.7l5.6 4.8l5.6 6.9l5.6 8.6l5.5 7.6l5.6 6.4l5.6 5.1l5.6 4l5.5 3.1l5.6 2.8l5.6 2.3l5.5 1.7l5.6-.1l5.6-1.3l5.6-1.3l5.5-1.1l5.6-1.2l5.6-1.1l5.6-1l2-.4"/>
<path class="c" d="M548.3 69.2l2 1.7l5.6 4.4l5.5 4.4l5.6 4.3l5.6 4.1l5.6 3.6l5.5 3.2l5.6 3l5.6 2.5l5.6 2l5.5 1.8l5.6 1.4l5.6 1l5.6 .7l5.5 .1l5.6-1.3l5.6-4.1l5.6-6.1l5.5-5.4l5.6-4.3l5.6-1.7l5.6 .6l5.5 2.7l5.6 4.5l5.6 6.6l5.6 8.4l5.5 7.8l5.6 6.6l5.6 5.6l5.6 4.3l5.5 3.6l5.6 3.1l5.6 2.7l5.5 1.9l5.6 0l5.6-1.2l5.6-1l5.5-1.1l5.6-1.1l5.6-1l5.6-1l2-.4"/>
<path class="p" d="M548.3 70.8l2 1.9l5.6 5.3l5.5 5.2l5.6 5.1l5.6 5l5.6 5.2l5.5 5.2l5.6 4.7l5.6 4.3l5.6 3.9l5.5 3.6l5.6 3.4l5.6 2.4l5.6 1.3l5.5 .6l5.6 0l5.6-1.5l5.6-4.3l5.5-5.7l5.6-4.9l5.6-2.1l5.6 1.6l5.5 4.8l5.6 7.2l5.6 8.1l5.6 7.9l5.5 7.3l5.6 6.3l5.6 5l5.6 3.7l5.5 3l5.6 2.5l5.6 2.1l5.5 1.8l5.6 1.6l5.6 1.4l5.6 1.3l5.5 1.3l5.6 1.2l5.6 1.3l5.6 1.5l2 .5"/>
<path class="c" d="M548.3 70.7l2 1.9l5.6 5.3l5.5 5.2l5.6 5.1l5.6 5l5.6 5.1l5.5 5.1l5.6 4.6l5.6 4.2l5.6 3.7l5.5 3.4l5.6 3.1l5.6 2.2l5.6 1.1l5.5 .5l5.6-.1l5.6-1.8l5.6-4.4l5.5-5.7l5.6-4.8l5.6-1.9l5.6 1.6l5.5 4.7l5.6 7.3l5.6 8.4l5.6 8.3l5.5 7.6l5.6 6.7l5.6 5.4l5.6 4.1l5.5 3.4l5.6 2.8l5.6 2.5l5.5 2.1l5.6 2l5.6 1.9l5.6 1.8l5.5 1.6l5.6 1.6l5.6 1.6l5.6 1.8l2 .6"/>
<path class="p" d="M548.3 58.7l2 1.7l5.6 5l5.5 5.2l5.6 5.5l5.6 5.6l5.6 5.7l5.5 5.6l5.6 5.4l5.6 5l5.6 4.8l5.5 4.3l5.6 3.9l5.6 3.3l5.6 2.5l5.5 1.8l5.6 1l5.6-.5l5.6-2.9l5.5-4.2l5.6-3.7l5.6-1.4l5.6 1.6l5.5 4.4l5.6 6.4l5.6 7.3l5.6 7.3l5.5 6.8l5.6 6.1l5.6 4.8l5.6 3.6l5.5 2.9l5.6 2.3l5.6 2l5.5 1.6l5.6 1.5l5.6 1.3l5.6 1.1l5.5 1.1l5.6 1.1l5.6 1.2l5.6 1.3l2 .5"/>
<path class="c" d="M548.3 58.7l2 1.8l5.6 5l5.5 5.2l5.6 5.4l5.6 5.5l5.6 5.6l5.5 5.4l5.6 5.1l5.6 4.7l5.6 4.4l5.5 4l5.6 3.5l5.6 2.9l5.6 2.4l5.5 1.6l5.6 .8l5.6-1l5.6-3.3l5.5-4.3l5.6-3.7l5.6-1.4l5.6 1.6l5.5 4.2l5.6 6.4l5.6 7.6l5.6 7.6l5.5 7.3l5.6 6.5l5.6 5.2l5.6 3.9l5.5 3.1l5.6 2.6l5.6 2.2l5.5 1.9l5.6 1.6l5.6 1.5l5.6 1.3l5.5 1.2l5.6 1.2l5.6 1.2l5.6 1.4l2 .5"/>
<path class="p" d="M548.3 66.1l2 2l5.6 5.7l5.5 5.5l5.6 5.4l5.6 5.2l5.6 5.1l5.5 4.9l5.6 4.5l5.6 4l5.6 3.6l5.5 3.1l5.6 2.7l5.6 1.8l5.6 1.2l5.5 .5l5.6-.4l5.6-2.7l5.6-5.4l5.5-6.3l5.6-5.1l5.6-1.9l5.6 1.7l5.5 4.8l5.6 7.6l5.6 9l5.6 9.4l5.5 8.4l5.6 7.1l5.6 6.2l5.6 4.9l5.5 4.1l5.6 3.6l5.6 3.3l5.5 2.9l5.6 2.8l5.6 2.8l5.6 2.6l5.5 2.4l5.6 2.3l5.6 2.3l5.6 2.2l2 .8"/>
<path class="c" d="M548.3 66.0l2 2l5.6 5.7l5.5 5.5l5.6 5.4l5.6 5.1l5.6 5.1l5.5 4.8l5.6 4.5l5.6 4l5.6 3.6l5.5 3.1l5.6 2.7l5.6 2.1l5.6 1.3l5.5 .7l5.6-.1l5.6-2.1l5.6-4.9l5.5-5.9l5.6-4.7l5.6-1.6l5.6 2.2l5.5 5.6l5.6 8.4l5.6 9.4l5.6 9.3l5.5 8.6l5.6 7.5l5.6 6.3l5.6 5l5.5 4.1l5.6 3.7l5.6 3.4l5.5 3.1l5.6 3.1l5.6 3.2l5.6 2.9l5.5 2.9l5.6 2.8l5.6 2.8l5.6 2.7l2 1"/>
<path class="p" d="M548.3 70.2l2 1.8l5.6 4.9l5.5 4.9l5.6 4.7l5.6 4.6l5.6 4.6l5.5 4.4l5.6 4.1l5.6 3.7l5.6 3.5l5.5 3.2l5.6 2.9l5.6 2.5l5.6 2l5.5 1.6l5.6 .8l5.6-.6l5.6-3l5.5-4.2l5.6-3.4l5.6-.5l5.6 3.3l5.5 6.8l5.6 9.1l5.6 9.9l5.6 9.7l5.5 8.9l5.6 7.8l5.6 6.5l5.6 5.2l5.5 4.3l5.6 4l5.6 3.7l5.5 3.6l5.6 4.2l5.6 4.5l5.6 4.4l5.5 4.3l5.6 4.3l5.6 4.5l5.6 4.7l2 1.7"/>
<path class="c" d="M548.3 70.1l2 1.8l5.6 5l5.5 4.9l5.6 4.8l5.6 4.7l5.6 4.7l5.5 4.7l5.6 4.4l5.6 4l5.6 3.7l5.5 3.6l5.6 3.4l5.6 2.9l5.6 2.1l5.5 1.6l5.6 1l5.6-.3l5.6-2.7l5.5-4.2l5.6-3.5l5.6-.6l5.6 3.2l5.5 7l5.6 9l5.6 9.8l5.6 9.3l5.5 8.6l5.6 7.6l5.6 6.2l5.6 5.1l5.5 4.3l5.6 3.9l5.6 3.7l5.5 3.6l5.6 4.3l5.6 4.7l5.6 4.5l5.5 4.5l5.6 4.5l5.6 4.8l5.6 4.9l2 1.8"/>
<path class="p" d="M548.3 65.2l2 1.8l5.6 5l5.5 4.7l5.6 4.6l5.6 4.3l5.6 4l5.5 3.7l5.6 3.2l5.6 2.6l5.6 2l5.5 1.6l5.6 1.2l5.6 .8l5.6 .4l5.5-.2l5.6-1.4l5.6-4.5l5.6-6.1l5.5-5.3l5.6-4l5.6-1.6l5.6 .7l5.5 2.5l5.6 4.4l5.6 6l5.6 7.7l5.5 7.3l5.6 6.5l5.6 5.6l5.6 4.6l5.5 3.8l5.6 3.4l5.6 2.9l5.5 2l5.6 0l5.6-1.4l5.6-1.2l5.5-1.2l5.6-1.2l5.6-1.3l5.6-1.2l2-.4"/>
<path class="c" d="M548.3 65.1l2 1.8l5.6 5l5.5 4.8l5.6 4.5l5.6 4.3l5.6 4.1l5.5 3.6l5.6 3.3l5.6 2.6l5.6 2.1l5.5 1.6l5.6 1.2l5.6 .8l5.6 .4l5.5-.2l5.6-1.4l5.6-4.5l5.6-6.2l5.5-5.3l5.6-4l5.6-1.6l5.6 .6l5.5 2.5l5.6 4.3l5.6 6l5.6 7.7l5.5 7.4l5.6 6.5l5.6 5.6l5.6 4.6l5.5 3.8l5.6 3.4l5.6 2.9l5.5 2.1l5.6 0l5.6-1.4l5.6-1.2l5.5-1.2l5.6-1.2l5.6-1.3l5.6-1.2l2-.4"/>
<path class="p" d="M548.3 58.8l2 1.6l5.6 4.5l5.5 4.6l5.6 4.4l5.6 4.5l5.6 4.3l5.5 4.1l5.6 3.7l5.6 3l5.6 2.5l5.5 2.3l5.6 2.1l5.6 1.6l5.6 1.2l5.5 .7l5.6-.8l5.6-3.6l5.6-5.4l5.5-4.6l5.6-3.4l5.6-1.1l5.6 1.1l5.5 3l5.6 5l5.6 7.2l5.6 9.3l5.5 8.9l5.6 7.7l5.6 6.5l5.6 5.3l5.5 4.4l5.6 3.8l5.6 3.3l5.5 2.6l5.6 1.3l5.6 .7l5.6 .6l5.5 .5l5.6 .4l5.6 .4l5.6 .4l2 .1"/>
<path class="c" d="M548.3 58.9l2 1.6l5.6 4.5l5.5 4.6l5.6 4.5l5.6 4.4l5.6 4.3l5.5 4.1l5.6 3.7l5.6 2.9l5.6 2.5l5.5 2.3l5.6 2l5.6 1.6l5.6 1.2l5.5 .6l5.6-.8l5.6-3.8l5.6-5.6l5.5-4.7l5.6-3.6l5.6-1.3l5.6 1l5.5 2.9l5.6 4.8l5.6 7l5.6 9l5.5 8.6l5.6 7.6l5.6 6.5l5.6 5.2l5.5 4.3l5.6 3.9l5.6 3.3l5.5 2.5l5.6 1.2l5.6 .4l5.6 .4l5.5 .2l5.6 .3l5.6 .1l5.6 .2l2 0"/>
<path class="p" d="M548.3 57.9l2 1.5l5.6 4.5l5.5 4.4l5.6 4.5l5.6 4.3l5.6 4.3l5.5 4.1l5.6 3.7l5.6 2.8l5.6 2.4l5.5 2.3l5.6 1.9l5.6 1.5l5.6 1.2l5.5 .7l5.6-.9l5.6-4l5.6-5.7l5.5-4.8l5.6-3.5l5.6-1.2l5.6 1l5.5 3l5.6 5l5.6 7l5.6 9l5.5 8.5l5.6 7.7l5.6 6.6l5.6 5.6l5.5 4.6l5.6 4.2l5.6 3.7l5.5 2.9l5.6 1.6l5.6 .9l5.6 .9l5.5 .7l5.6 .7l5.6 .6l5.6 .4l2 .2"/>
<path class="c" d="M548.3 57.9l2 1.6l5.6 4.4l5.5 4.5l5.6 4.5l5.6 4.3l5.6 4.4l5.5 4.1l5.6 3.6l5.6 2.9l5.6 2.3l5.5 2.2l5.6 1.9l5.6 1.5l5.6 1.1l5.5 .6l5.6-1l5.6-4l5.6-5.8l5.5-4.8l5.6-3.6l5.6-1.3l5.6 .9l5.5 2.8l5.6 4.7l5.6 6.4l5.6 8.3l5.5 7.9l5.6 7.2l5.6 6.2l5.6 5.1l5.5 4.3l5.6 4l5.6 3.4l5.5 2.7l5.6 1l5.6 0l5.6 .1l5.5 .1l5.6 .1l5.6-.1l5.6-.2l2 0"/>
<path class="p" d="M548.3 66.6l2 2l5.6 5.4l5.5 5.3l5.6 5.2l5.6 4.9l5.6 4.8l5.5 4.5l5.6 4.1l5.6 3.6l5.6 3l5.5 2.4l5.6 1.8l5.6 1.2l5.6 .7l5.5 .1l5.6-.7l5.6-2.8l5.6-4.6l5.5-4.7l5.6-3.9l5.6-1.8l5.6 .1l5.5 2.1l5.6 4l5.6 6.6l5.6 8.6l5.5 8.2l5.6 7.1l5.6 5.7l5.6 4.4l5.5 3.6l5.6 3l5.6 2.5l5.5 1.9l5.6 .9l5.6 .2l5.6 0l5.5 0l5.6 0l5.6 0l5.6 .2l2 0"/>
<path class="c" d="M548.3 66.5l2 2l5.6 5.4l5.5 5.3l5.6 5.1l5.6 4.9l5.6 4.8l5.5 4.4l5.6 3.9l5.6 3.4l5.6 2.8l5.5 2.2l5.6 1.6l5.6 1l5.6 .5l5.5 0l5.6-1.1l5.6-3.2l5.6-5.1l5.5-5l5.6-4.1l5.6-2l5.6 0l5.5 1.9l5.6 3.9l5.6 6.4l5.6 8.9l5.5 8.3l5.6 7.1l5.6 6l5.6 4.7l5.5 3.8l5.6 3.3l5.6 2.7l5.5 2.2l5.6 .9l5.6 .2l5.6 .1l5.5 0l5.6 0l5.6 0l5.6 .1l2 0"/>
<path class="p" d="M548.3 64.3l2 1.6l5.6 4.7l5.5 4.5l5.6 4.4l5.6 4.2l5.6 4.1l5.5 3.8l5.6 3.6l5.6 3l5.6 2.6l5.5 2.4l5.6 2.1l5.6 1.7l5.6 1.4l5.5 .9l5.6-.2l5.6-2.7l5.6-4.4l5.5-4.1l5.6-3.2l5.6-.8l5.6 1.5l5.5 3.9l5.6 6l5.6 8.4l5.6 10.3l5.5 9.3l5.6 8.1l5.6 6.5l5.6 4.9l5.5 3.9l5.6 3.3l5.6 2.6l5.5 2.2l5.6 1.8l5.6 1.4l5.6 1.2l5.5 1.1l5.6 1.1l5.6 1.1l5.6 1.2l2 .4"/>
<path class="c" d="M548.3 64.3l2 1.7l5.6 4.6l5.5 4.6l5.6 4.4l5.6 4.2l5.6 4.2l5.5 3.9l5.6 3.6l5.6 3.1l5.6 2.7l5.5 2.4l5.6 2.1l5.6 1.8l5.6 1.4l5.5 .9l5.6-.3l5.6-2.5l5.6-4.3l5.5-4l5.6-3l5.6-.8l5.6 1.4l5.5 3.7l5.6 5.7l5.6 8.1l5.6 10.1l5.5 9.3l5.6 8.1l5.6 6.5l5.6 5l5.5 3.9l5.6 3.3l5.6 2.7l5.5 2.2l5.6 1.7l5.6 1.5l5.6 1.2l5.5 1.2l5.6 1.1l5.6 1.1l5.6 1.2l2 .5"/>
<path class="p" d="M548.3 62.4l2 1.6l5.6 4.4l5.5 4.3l5.6 4.2l5.6 4l5.6 4l5.5 3.8l5.6 3.4l5.6 2.9l5.6 2.4l5.5 2.3l5.6 2l5.6 1.6l5.6 1.3l5.5 .8l5.6-.4l5.6-3.1l5.6-4.7l5.5-3.9l5.6-2.8l5.6-.6l5.6 1.5l5.5 3.6l5.6 5.5l5.6 8.2l5.6 10.8l5.5 10.1l5.6 8.9l5.6 7.2l5.6 5.7l5.5 4.5l5.6 3.6l5.6 3l5.5 2.4l5.6 1.9l5.6 1.6l5.6 1.4l5.5 1.2l5.6 1.2l5.6 1.2l5.6 1.3l2 .5"/>
<path class="c" d="M548.3 62.6l2 1.6l5.6 4.4l5.5 4.4l5.6 4.2l5.6 4.2l5.6 4.1l5.5 3.9l5.6 3.6l5.6 3l5.6 2.6l5.5 2.4l5.6 2.2l5.6 1.8l5.6 1.4l5.5 1l5.6-.2l5.6-2.6l5.6-4.3l5.5-3.8l5.6-2.8l5.6-.5l5.6 1.8l5.5 3.9l5.6 6.1l5.6 8.5l5.6 10.5l5.5 9.6l5.6 8.3l5.6 6.7l5.6 5.1l5.5 4l5.6 3.2l5.6 2.7l5.5 2.2l5.6 1.8l5.6 1.5l5.6 1.3l5.5 1.2l5.6 1.2l5.6 1.2l5.6 1.3l2 .5"/>
<path class="p" d="M548.3 60.0l2 1.5l5.6 4.1l5.5 4.2l5.6 4.1l5.6 4.1l5.6 4.2l5.5 3.9l5.6 3.6l5.6 2.9l5.6 2.5l5.5 2.3l5.6 2.2l5.6 1.9l5.6 1.5l5.5 1.2l5.6-.2l5.6-2.8l5.6-4.3l5.5-3.5l5.6-2.3l5.6 .1l5.6 2.8l5.5 5.3l5.6 7.9l5.6 10.3l5.6 10.3l5.5 9.3l5.6 7.8l5.6 6.1l5.6 4.6l5.5 3.7l5.6 2.9l5.6 2.5l5.5 2l5.6 2l5.6 1.9l5.6 1.8l5.5 1.6l5.6 1.6l5.6 1.5l5.6 1.6l2 .5"/>
<path class="c" d="M548.3 60.1l2 1.4l5.6 4.2l5.5 4.1l5.6 4.2l5.6 4.1l5.6 4l5.5 4l5.6 3.5l5.6 2.8l5.6 2.3l5.5 2.3l5.6 1.9l5.6 1.7l5.6 1.3l5.5 .7l5.6-.7l5.6-3.6l5.6-5.2l5.5-4.3l5.6-3.2l5.6-.8l5.6 1.4l5.5 3.3l5.6 5.4l5.6 7.8l5.6 10.3l5.5 9.9l5.6 8.8l5.6 7.4l5.6 6.1l5.5 4.9l5.6 4.2l5.6 3.6l5.5 2.8l5.6 2.1l5.6 1.6l5.6 1.4l5.5 1.2l5.6 1.1l5.6 1.1l5.6 1.1l2 .4"/>
<path class="p" d="M548.3 66.5l2 1.8l5.6 4.9l5.5 4.8l5.6 4.7l5.6 4.5l5.6 4.3l5.5 4l5.6 3.8l5.6 3.4l5.6 3l5.5 2.8l5.6 2.5l5.6 2.1l5.6 1.7l5.5 1.2l5.6 .5l5.6-1.4l5.6-3.4l5.5-3.7l5.6-2.8l5.6-.5l5.6 2.4l5.5 5l5.6 7.5l5.6 8.7l5.6 8.3l5.5 8l5.6 7.1l5.6 5.8l5.6 4.6l5.5 3.7l5.6 3.2l5.6 2.9l5.5 2.5l5.6 2.4l5.6 2.3l5.6 2.2l5.5 2l5.6 1.9l5.6 2l5.6 2l2 .8"/>
<path class="c" d="M548.3 66.4l2 1.8l5.6 4.9l5.5 4.9l5.6 4.7l5.6 4.4l5.6 4.2l5.5 3.9l5.6 3.7l5.6 3.2l5.6 2.8l5.5 2.6l5.6 2.1l5.6 1.8l5.6 1.4l5.5 .8l5.6-.1l5.6-2.3l5.6-4.1l5.5-4.3l5.6-3.3l5.6-1l5.6 1.6l5.5 4.1l5.6 6.3l5.6 8.3l5.6 9.5l5.5 8.8l5.6 7.6l5.6 6l5.6 4.6l5.5 3.6l5.6 3l5.6 2.4l5.5 2.1l5.6 1.7l5.6 1.4l5.6 1.3l5.5 1.2l5.6 1.1l5.6 1.4l5.6 1.4l2 .5"/>
<path class="p" d="M548.3 67.0l2 2.2l5.6 6.3l5.5 6.1l5.6 5.9l5.6 5.8l5.6 5.8l5.5 6l5.6 5.6l5.6 5.2l5.6 4.8l5.5 4.7l5.6 4.8l5.6 3.5l5.6 2l5.5 1.3l5.6 1l5.6 .5l5.6-1.9l5.5-4.3l5.6-3.9l5.6-1.5l5.6 2.4l5.5 6l5.6 7.8l5.6 8.5l5.6 8.2l5.5 7.7l5.6 6.9l5.6 5.8l5.6 4.7l5.5 3.9l5.6 3.6l5.6 3.5l5.5 3.5l5.6 4.1l5.6 4.6l5.6 4.5l5.5 4.4l5.6 4.5l5.6 4.8l5.6 5l2 1.8"/>
<path class="c" d="M548.3 66.8l2 2.3l5.6 6.2l5.5 6.1l5.6 5.9l5.6 5.7l5.6 5.8l5.5 5.8l5.6 5.5l5.6 5l5.6 4.7l5.5 4.4l5.6 4.6l5.6 3.3l5.6 1.8l5.5 1.2l5.6 .9l5.6 .2l5.6-2.1l5.5-4.3l5.6-3.8l5.6-1.6l5.6 2.3l5.5 5.6l5.6 7.4l5.6 8.2l5.6 8.1l5.5 7.8l5.6 6.9l5.6 5.8l5.6 4.6l5.5 3.9l5.6 3.6l5.6 3.3l5.5 3.4l5.6 3.8l5.6 4.3l5.6 4l5.5 4l5.6 4.1l5.6 4.3l5.6 4.4l2 1.6"/>
<path class="p" d="M548.3 64.8l2 2.2l5.6 6.2l5.5 6l5.6 5.8l5.6 5.7l5.6 5.6l5.5 5.6l5.6 5.3l5.6 4.8l5.6 4.5l5.5 4.2l5.6 4.2l5.6 3l5.6 1.9l5.5 1.2l5.6 .6l5.6-.5l5.6-3l5.5-4.9l5.6-4.3l5.6-1.7l5.6 1.9l5.5 5.3l5.6 7.3l5.6 8.2l5.6 7.8l5.5 7.3l5.6 6.4l5.6 5.1l5.6 3.9l5.5 3.1l5.6 2.7l5.6 2.4l5.5 2.2l5.6 2.3l5.6 2.2l5.6 2.1l5.5 2l5.6 2l5.6 2.1l5.6 2.3l2 .8"/>
<path class="c" d="M548.3 64.8l2 2.2l5.6 6.1l5.5 6l5.6 5.8l5.6 5.6l5.6 5.6l5.5 5.5l5.6 5.1l5.6 4.7l5.6 4.3l5.5 3.9l5.6 3.8l5.6 2.7l5.6 1.6l5.5 1l5.6 .3l5.6-.9l5.6-3.4l5.5-4.9l5.6-4.2l5.6-1.8l5.6 1.7l5.5 4.8l5.6 7l5.6 7.9l5.6 8l5.5 7.6l5.6 6.7l5.6 5.5l5.6 4.2l5.5 3.5l5.6 3.1l5.6 2.7l5.5 2.5l5.6 2.5l5.6 2.6l5.6 2.3l5.5 2.3l5.6 2.2l5.6 2.3l5.6 2.4l2 .8"/>
<path class="p" d="M548.3 67.3l2 1.9l5.6 5.2l5.5 5l5.6 4.9l5.6 4.5l5.6 4.2l5.5 3.7l5.6 3.1l5.6 2.5l5.6 1.9l5.5 1.5l5.6 1.1l5.6 .6l5.6 .4l5.5-.2l5.6-1.2l5.6-3.9l5.6-5.5l5.5-4.9l5.6-3.8l5.6-1.6l5.6 .4l5.5 2.3l5.6 4.2l5.6 6.5l5.6 8.8l5.5 8.4l5.6 7.4l5.6 6.3l5.6 5.1l5.5 4.2l5.6 3.8l5.6 3.2l5.5 2.5l5.6 1.1l5.6 .3l5.6 .2l5.5 .2l5.6 .1l5.6 .1l5.6 0l2 .1"/>
<path class="c" d="M548.3 67.4l2 1.8l5.6 5.2l5.5 5.1l5.6 4.9l5.6 4.7l5.6 4.4l5.5 4.1l5.6 3.5l5.6 2.9l5.6 2.3l5.5 1.8l5.6 1.4l5.6 .8l5.6 .5l5.5 0l5.6-1l5.6-3.4l5.6-5l5.5-4.6l5.6-3.6l5.6-1.6l5.6 .3l5.5 2.2l5.6 4.1l5.6 6.6l5.6 9.1l5.5 8.7l5.6 7.7l5.6 6.4l5.6 5.2l5.5 4.2l5.6 3.7l5.6 3.2l5.5 2.5l5.6 1.5l5.6 .8l5.6 .8l5.5 .6l5.6 .6l5.6 .6l5.6 .6l2 .2"/>
<path class="p" d="M548.3 68.6l2 1.7l5.6 4.8l5.5 4.6l5.6 4.6l5.6 4.4l5.6 4.1l5.5 3.7l5.6 3.3l5.6 2.9l5.6 2.4l5.5 2l5.6 1.7l5.6 1.3l5.6 .9l5.5 .4l5.6-.8l5.6-3.3l5.6-5.4l5.5-5.1l5.6-4l5.6-1.4l5.6 1.3l5.5 3.6l5.6 5.9l5.6 8.3l5.6 10.2l5.5 9.2l5.6 8l5.6 6.4l5.6 5l5.5 3.9l5.6 3.4l5.6 2.8l5.5 2.2l5.6 1.6l5.6 1.2l5.6 1l5.5 .8l5.6 .8l5.6 .9l5.6 .9l2 .3"/>
<path class="c" d="M548.3 68.5l2 1.7l5.6 4.8l5.5 4.7l5.6 4.5l5.6 4.4l5.6 4.2l5.5 3.7l5.6 3.3l5.6 2.8l5.6 2.5l5.5 2l5.6 1.7l5.6 1.3l5.6 .8l5.5 .3l5.6-.9l5.6-3.5l5.6-5.6l5.5-5.3l5.6-4.2l5.6-1.7l5.6 1l5.5 3.3l5.6 5.4l5.6 7.8l5.6 10.1l5.5 9.1l5.6 7.9l5.6 6.4l5.6 4.9l5.5 4l5.6 3.4l5.6 2.8l5.5 2.3l5.6 1.4l5.6 .9l5.6 .6l5.5 .6l5.6 .6l5.6 .5l5.6 .7l2 .2"/>
<path class="p" d="M548.3 59.4l2 1.7l5.6 4.6l5.5 4.7l5.6 4.7l5.6 4.7l5.6 4.6l5.5 4.4l5.6 4.1l5.6 3.5l5.6 3.1l5.5 2.9l5.6 2.5l5.6 2.2l5.6 1.6l5.5 1.2l5.6 0l5.6-2.3l5.6-4l5.5-3.7l5.6-2.9l5.6-1l5.6 1.2l5.5 3.1l5.6 5.1l5.6 7.5l5.6 9.6l5.5 9l5.6 7.8l5.6 6.4l5.6 5l5.5 3.9l5.6 3.3l5.6 2.8l5.5 2.2l5.6 1.7l5.6 1.2l5.6 1.1l5.5 1l5.6 .9l5.6 1l5.6 1l2 .4"/>
<path class="c" d="M548.3 59.5l2 1.7l5.6 4.6l5.5 4.7l5.6 4.7l5.6 4.7l5.6 4.6l5.5 4.4l5.6 4.1l5.6 3.4l5.6 3.1l5.5 2.9l5.6 2.5l5.6 2.1l5.6 1.7l5.5 1.1l5.6 0l5.6-2.3l5.6-4l5.5-3.8l5.6-3l5.6-1l5.6 1.1l5.5 3.1l5.6 5l5.6 7.4l5.6 9.6l5.5 9l5.6 7.8l5.6 6.3l5.6 4.9l5.5 3.9l5.6 3.3l5.6 2.7l5.5 2.2l5.6 1.5l5.6 1.2l5.6 .9l5.5 .8l5.6 .8l5.6 .8l5.6 .9l2 .4"/>
<path class="p" d="M548.3 67.4l2 1.7l5.6 4.7l5.5 4.8l5.6 4.6l5.6 4.5l5.6 4.2l5.5 4l5.6 3.7l5.6 3.4l5.6 3.1l5.5 2.8l5.6 2.4l5.6 2l5.6 1.6l5.5 1l5.6 0l5.6-2.4l5.6-4.6l5.5-5.1l5.6-4l5.6-1.1l5.6 1.9l5.5 4.8l5.6 7.1l5.6 8.7l5.6 8.9l5.5 8.2l5.6 7l5.6 5.7l5.6 4.3l5.5 3.4l5.6 2.8l5.6 2.4l5.5 1.9l5.6 1.6l5.6 1.4l5.6 1.2l5.5 1l5.6 1.1l5.6 1.1l5.6 1.2l2 .4"/>
<path class="c" d="M548.3 67.3l2 1.7l5.6 4.8l5.5 4.7l5.6 4.6l5.6 4.5l5.6 4.1l5.5 3.8l5.6 3.6l5.6 3.3l5.6 2.8l5.5 2.6l5.6 2.2l5.6 1.8l5.6 1.3l5.5 .8l5.6-.4l5.6-2.9l5.6-5.4l5.5-5.6l5.6-4.3l5.6-1.5l5.6 1.8l5.5 4.8l5.6 7.3l5.6 9.4l5.6 10.3l5.5 9l5.6 7.6l5.6 6.1l5.6 4.5l5.5 3.6l5.6 3l5.6 2.5l5.5 2l5.6 1.7l5.6 1.4l5.6 1.2l5.5 1.1l5.6 1.1l5.6 1.1l5.6 1.3l2 .4"/>
<path class="p" d="M548.3 71.1l2 2l5.6 5.6l5.5 5.6l5.6 5.4l5.6 5.4l5.6 5.6l5.5 5.9l5.6 5.5l5.6 5l5.6 4.6l5.5 4.5l5.6 4.6l5.6 3.3l5.6 1.6l5.5 .9l5.6 .5l5.6-.3l5.6-2.9l5.5-5.3l5.6-5l5.6-2.4l5.6 1.5l5.5 4.9l5.6 6.9l5.6 7.7l5.6 7.7l5.5 7.1l5.6 6.1l5.6 4.7l5.6 3.6l5.5 2.7l5.6 2.3l5.6 1.9l5.5 1.8l5.6 1.7l5.6 1.8l5.6 1.5l5.5 1.5l5.6 1.5l5.6 1.6l5.6 1.9l2 .7"/>
<path class="c" d="M548.3 71.0l2 2l5.6 5.6l5.5 5.6l5.6 5.5l5.6 5.3l5.6 5.7l5.5 5.9l5.6 5.5l5.6 5l5.6 4.6l5.5 4.6l5.6 4.7l5.6 3.3l5.6 1.7l5.5 1.1l5.6 .7l5.6 0l5.6-2.6l5.5-4.9l5.6-4.5l5.6-2.1l5.6 1.9l5.5 5.3l5.6 7l5.6 7.8l5.6 7.5l5.5 6.9l5.6 6l5.6 4.6l5.6 3.4l5.5 2.6l5.6 2.1l5.6 1.8l5.5 1.5l5.6 1.7l5.6 1.6l5.6 1.5l5.5 1.3l5.6 1.4l5.6 1.6l5.6 1.9l2 .7"/>
<path class="p" d="M548.3 71.0l2 1.9l5.6 5.1l5.5 5.2l5.6 5l5.6 4.8l5.6 5l5.5 4.9l5.6 4.5l5.6 4l5.6 3.5l5.5 3.2l5.6 2.9l5.6 2l5.6 1.3l5.5 .8l5.6 .4l5.6-.7l5.6-2.5l5.5-3.5l5.6-2.9l5.6-1l5.6 1.7l5.5 4.3l5.6 6.3l5.6 7.6l5.6 7.4l5.5 7.4l5.6 6.7l5.6 5.7l5.6 4.5l5.5 3.8l5.6 3.4l5.6 3l5.5 2.8l5.6 2.9l5.6 2.9l5.6 2.7l5.5 2.6l5.6 2.6l5.6 2.6l5.6 2.6l2 .9"/>
<path class="c" d="M548.3 70.9l2 1.9l5.6 5.1l5.5 5.1l5.6 5l5.6 4.8l5.6 4.9l5.5 4.7l5.6 4.2l5.6 3.7l5.6 3.2l5.5 2.7l5.6 2.3l5.6 1.5l5.6 .8l5.5 .3l5.6-.1l5.6-1.7l5.6-3.4l5.5-4.1l5.6-3.3l5.6-1.6l5.6 .6l5.5 2.5l5.6 4.4l5.6 6.2l5.6 8l5.5 8l5.6 7.1l5.6 5.9l5.6 4.4l5.5 3.6l5.6 3l5.6 2.5l5.5 2l5.6 1.7l5.6 1.3l5.6 1.2l5.5 1.1l5.6 1l5.6 1.1l5.6 1.2l2 .4"/>
<path class="p" d="M548.3 67.2l2 1.7l5.6 4.9l5.5 4.9l5.6 4.6l5.6 4.4l5.6 3.9l5.5 3.5l5.6 3.2l5.6 2.8l5.6 2.2l5.5 1.9l5.6 1.6l5.6 1.1l5.6 .8l5.5 .3l5.6-.9l5.6-3.5l5.6-5.4l5.5-4.9l5.6-3.8l5.6-1.3l5.6 1.2l5.5 3.4l5.6 5.6l5.6 8.1l5.6 10.8l5.5 10l5.6 8.7l5.6 7.3l5.6 5.6l5.5 4.6l5.6 3.8l5.6 3.2l5.5 2.5l5.6 2l5.6 1.6l5.6 1.4l5.5 1.2l5.6 1.2l5.6 1.2l5.6 1.3l2 .4"/>
<path class="c" d="M548.3 67.1l2 1.8l5.6 4.9l5.5 4.9l5.6 4.7l5.6 4.4l5.6 4.1l5.5 3.6l5.6 3.4l5.6 2.9l5.6 2.4l5.5 2.1l5.6 1.8l5.6 1.4l5.6 1l5.5 .5l5.6-.6l5.6-3l5.6-4.9l5.5-4.7l5.6-3.6l5.6-1l5.6 1.8l5.5 4.2l5.6 6.6l5.6 9l5.6 10.7l5.5 9.6l5.6 8.3l5.6 6.5l5.6 5l5.5 3.8l5.6 3.2l5.6 2.6l5.5 2.1l5.6 2.2l5.6 2.4l5.6 2.2l5.5 2.2l5.6 2l5.6 2l5.6 1.8l2 .6"/>
<path class="p" d="M548.3 68.2l2 1.6l5.6 4.7l5.5 4.6l5.6 4.5l5.6 4.3l5.6 4l5.5 3.7l5.6 3.5l5.6 3.2l5.6 2.8l5.5 2.6l5.6 2.3l5.6 2l5.6 1.6l5.5 1.1l5.6 0l5.6-2.4l5.6-4.8l5.5-5.3l5.6-4l5.6-1.1l5.6 2.3l5.5 5.4l5.6 8l5.6 9.5l5.6 10.6l5.5 9.5l5.6 8.6l5.6 7.1l5.6 5.8l5.5 4.8l5.6 4.3l5.6 3.9l5.5 3.5l5.6 3.6l5.6 3.7l5.6 3.5l5.5 3.3l5.6 3.2l5.6 3.2l5.6 3l2 1.2"/>
<path class="c" d="M548.3 68.2l2 1.7l5.6 4.7l5.5 4.7l5.6 4.6l5.6 4.5l5.6 4.3l5.5 4.1l5.6 3.9l5.6 3.7l5.6 3.5l5.5 3.2l5.6 3.1l5.6 2.8l5.6 2.4l5.5 2l5.6 1.2l5.6-.5l5.6-3l5.5-4.1l5.6-3.1l5.6-.2l5.6 3.8l5.5 7.4l5.6 9.8l5.6 10.4l5.6 9.8l5.5 9l5.6 7.8l5.6 6.5l5.6 5.2l5.5 4.4l5.6 4.1l5.6 3.8l5.5 3.7l5.6 4.3l5.6 4.8l5.6 4.6l5.5 4.5l5.6 4.7l5.6 4.8l5.6 5l2 1.8"/>
<path class="p" d="M548.3 67.8l2 2l5.6 5.6l5.5 5.5l5.6 5.4l5.6 5.3l5.6 5.3l5.5 5.2l5.6 4.9l5.6 4.4l5.6 3.9l5.5 3.6l5.6 3.4l5.6 2.4l5.6 1.3l5.5 .6l5.6 0l5.6-1.5l5.6-4l5.5-5.4l5.6-4.6l5.6-2l5.6 1.2l5.5 4.2l5.6 6.6l5.6 7.8l5.6 8.1l5.5 7.6l5.6 6.7l5.6 5.5l5.6 4.1l5.5 3.4l5.6 2.9l5.6 2.5l5.5 2.2l5.6 2l5.6 2l5.6 1.7l5.5 1.6l5.6 1.6l5.6 1.7l5.6 1.7l2 .6"/>
<path class="c" d="M548.3 67.7l2 2l5.6 5.6l5.5 5.5l5.6 5.4l5.6 5.3l5.6 5.3l5.5 5.3l5.6 4.9l5.6 4.5l5.6 4.2l5.5 3.8l5.6 3.6l5.6 2.7l5.6 1.6l5.5 .9l5.6 .3l5.6-1l5.6-3.4l5.5-5l5.6-4.3l5.6-1.8l5.6 1.3l5.5 4.3l5.6 6.4l5.6 7.4l5.6 7.4l5.5 7l5.6 6.1l5.6 4.8l5.6 3.7l5.5 2.8l5.6 2.3l5.6 2l5.5 1.6l5.6 1.4l5.6 1.3l5.6 1.1l5.5 1.1l5.6 1l5.6 1.2l5.6 1.3l2 .5"/>
<path class="p" d="M548.3 60.1l2 1.7l5.6 4.7l5.5 4.9l5.6 5.1l5.6 5.1l5.6 5.4l5.5 5.3l5.6 5.3l5.6 5.1l5.6 5l5.5 4.8l5.6 4.4l5.6 3.9l5.6 3.1l5.5 2.2l5.6 1.3l5.6-.2l5.6-2.8l5.5-4.6l5.6-4.1l5.6-1.9l5.6 1.3l5.5 4.3l5.6 6.1l5.6 6.8l5.6 6.9l5.5 6.1l5.6 5.1l5.6 3.7l5.6 2.5l5.5 2.7l5.6 2.3l5.6 2l5.5 1.5l5.6 1.2l5.6 .8l5.6 .5l5.5 .4l5.6 .3l5.6 .5l5.6 .8l2 .3"/>
<path class="c" d="M548.3 60.3l2 1.7l5.6 4.7l5.5 4.9l5.6 5.1l5.6 5.2l5.6 5.4l5.5 5.4l5.6 5.3l5.6 5.2l5.6 5.1l5.5 4.7l5.6 4.5l5.6 4l5.6 3.1l5.5 2.2l5.6 1.5l5.6 0l5.6-2.6l5.5-4.3l5.6-3.9l5.6-1.7l5.6 1.5l5.5 4.5l5.6 6.3l5.6 7l5.6 6.6l5.5 6l5.6 4.8l5.6 3.4l5.6 2l5.5 1.8l5.6 2.2l5.6 1.8l5.5 1.5l5.6 1l5.6 .7l5.6 .4l5.5 .2l5.6 .2l5.6 .3l5.6 .7l2 .2"/>
<path class="p" d="M548.3 58.4l2 1.5l5.6 4.3l5.5 4.2l5.6 4.3l5.6 4.2l5.6 4.2l5.5 4l5.6 3.6l5.6 2.9l5.6 2.4l5.5 2.3l5.6 2l5.6 1.7l5.6 1.4l5.5 .8l5.6-.6l5.6-3.5l5.6-5l5.5-4l5.6-2.8l5.6-.5l5.6 1.4l5.5 3.2l5.6 5.2l5.6 7.6l5.6 10.1l5.5 9.7l5.6 8.6l5.6 7.3l5.6 5.8l5.5 4.8l5.6 4.1l5.6 3.4l5.5 2.7l5.6 2l5.6 1.4l5.6 1.2l5.5 1l5.6 1l5.6 1l5.6 .9l2 .4"/>
<path class="c" d="M548.3 58.5l2 1.5l5.6 4.2l5.5 4.3l5.6 4.3l5.6 4.2l5.6 4.2l5.5 4l5.6 3.6l5.6 2.9l5.6 2.5l5.5 2.3l5.6 2l5.6 1.8l5.6 1.4l5.5 .9l5.6-.6l5.6-3.3l5.6-4.9l5.5-3.9l5.6-2.8l5.6-.6l5.6 1.3l5.5 3.1l5.6 5l5.6 7.3l5.6 9.8l5.5 9.2l5.6 8.1l5.6 6.8l5.6 5.4l5.5 4.4l5.6 3.8l5.6 3.1l5.5 2.5l5.6 1.4l5.6 .8l5.6 .6l5.5 .6l5.6 .4l5.6 .5l5.6 .5l2 .2"/>
<path class="p" d="M548.3 72.4l2 1.8l5.6 5.3l5.5 5.2l5.6 5l5.6 5l5.6 5.1l5.5 5.2l5.6 4.7l5.6 4.2l5.6 3.8l5.5 3.7l5.6 3.5l5.6 2.6l5.6 1.5l5.5 .9l5.6 .3l5.6-.8l5.6-3.3l5.5-5l5.6-4.3l5.6-1.8l5.6 1.7l5.5 4.8l5.6 6.8l5.6 7.6l5.6 8.3l5.5 7.8l5.6 6.7l5.6 5.5l5.6 4.1l5.5 3.3l5.6 2.8l5.6 2.4l5.5 2.1l5.6 2.1l5.6 2l5.6 1.9l5.5 1.7l5.6 1.7l5.6 1.8l5.6 2l2 .7"/>
<path class="c" d="M548.3 72.3l2 1.9l5.6 5.2l5.5 5.2l5.6 5.1l5.6 4.9l5.6 5.2l5.5 5.3l5.6 4.9l5.6 4.4l5.6 4.1l5.5 4l5.6 4.1l5.6 3.1l5.6 1.8l5.5 1.3l5.6 .8l5.6 0l5.6-2.5l5.5-4.4l5.6-3.9l5.6-1.3l5.6 2.6l5.5 6.1l5.6 8.1l5.6 8.8l5.6 8.5l5.5 7.9l5.6 7l5.6 5.8l5.6 4.5l5.5 3.7l5.6 3.4l5.6 3.1l5.5 3.1l5.6 3.4l5.6 3.8l5.6 3.6l5.5 3.5l5.6 3.5l5.6 3.7l5.6 4l2 1.4"/>
<path class="p" d="M548.3 67.0l2 1.9l5.6 5.2l5.5 5.1l5.6 4.9l5.6 4.6l5.6 4.4l5.5 4l5.6 3.5l5.6 3l5.6 2.6l5.5 2.1l5.6 1.8l5.6 1.4l5.6 .9l5.5 .5l5.6-.5l5.6-2.9l5.6-4.9l5.5-4.7l5.6-3.6l5.6-.8l5.6 2.2l5.5 5l5.6 7.7l5.6 9.8l5.6 10.1l5.5 9l5.6 7.5l5.6 6l5.6 5.3l5.5 4.5l5.6 4l5.6 3.5l5.5 3.2l5.6 3.1l5.6 3l5.6 2.8l5.5 2.7l5.6 2.5l5.6 2.5l5.6 2.4l2 .8"/>
<path class="c" d="M548.3 67.1l2 1.8l5.6 5.3l5.5 5.1l5.6 4.9l5.6 4.8l5.6 4.5l5.5 4.2l5.6 3.8l5.6 3.3l5.6 2.7l5.5 2.3l5.6 1.9l5.6 1.3l5.6 .9l5.5 .4l5.6-.7l5.6-3.1l5.6-5.3l5.5-5.3l5.6-4.2l5.6-1.5l5.6 1.4l5.5 3.9l5.6 6.4l5.6 8.6l5.6 10.3l5.5 9.4l5.6 8l5.6 6.4l5.6 4.9l5.5 3.9l5.6 3.3l5.6 2.6l5.5 2.2l5.6 1.8l5.6 1.5l5.6 1.3l5.5 1.2l5.6 1.1l5.6 1.2l5.6 1.3l2 .5"/>
<path class="p" d="M548.3 61.2l2 1.7l5.6 4.7l5.5 4.7l5.6 4.7l5.6 4.5l5.6 4.4l5.5 4.2l5.6 3.7l5.6 3.2l5.6 2.7l5.5 2.4l5.6 2.1l5.6 1.7l5.6 1.2l5.5 .7l5.6-.7l5.6-3.5l5.6-5.5l5.5-5.1l5.6-3.9l5.6-1.3l5.6 1.3l5.5 3.7l5.6 5.9l5.6 8.4l5.6 10.5l5.5 9.5l5.6 8.1l5.6 6.7l5.6 5.2l5.5 4.2l5.6 3.5l5.6 3l5.5 2.4l5.6 1.7l5.6 1.2l5.6 .9l5.5 .9l5.6 .8l5.6 .8l5.6 .9l2 .3"/>
<path class="c" d="M548.3 61.2l2 1.7l5.6 4.8l5.5 4.7l5.6 4.6l5.6 4.6l5.6 4.4l5.5 4.1l5.6 3.8l5.6 3.1l5.6 2.7l5.5 2.5l5.6 2l5.6 1.7l5.6 1.2l5.5 .6l5.6-.7l5.6-3.6l5.6-5.6l5.5-5.2l5.6-4l5.6-1.3l5.6 1.2l5.5 3.5l5.6 5.8l5.6 8.2l5.6 10.4l5.5 9.6l5.6 8.2l5.6 6.8l5.6 5.2l5.5 4.3l5.6 3.7l5.6 3l5.5 2.5l5.6 1.7l5.6 1.2l5.6 1l5.5 .9l5.6 .8l5.6 .8l5.6 .9l2 .3"/>
<path class="p" d="M548.3 68.5l2 2.1l5.6 6l5.5 5.9l5.6 5.7l5.6 5.5l5.6 5.6l5.5 5.8l5.6 5.5l5.6 4.9l5.6 4.6l5.5 4.4l5.6 4.6l5.6 3.3l5.6 1.8l5.5 1.2l5.6 .8l5.6 .3l5.6-2l5.5-4.2l5.6-3.8l5.6-1.6l5.6 2.2l5.5 5.5l5.6 7.3l5.6 8l5.6 8.2l5.5 7.8l5.6 7l5.6 5.9l5.6 4.7l5.5 4l5.6 3.7l5.6 3.4l5.5 3.4l5.6 4l5.6 4.4l5.6 4.2l5.5 4.1l5.6 4.3l5.6 4.4l5.6 4.6l2 1.7"/>
<path class="c" d="M548.3 68.5l2 2.1l5.6 6l5.5 5.8l5.6 5.7l5.6 5.5l5.6 5.7l5.5 5.9l5.6 5.4l5.6 5l5.6 4.7l5.5 4.5l5.6 4.6l5.6 3.4l5.6 1.9l5.5 1.3l5.6 .9l5.6 .5l5.6-2l5.5-4.2l5.6-3.7l5.6-1.5l5.6 2.4l5.5 5.9l5.6 7.7l5.6 8.5l5.6 8.3l5.5 7.9l5.6 7l5.6 6l5.6 4.7l5.5 4.1l5.6 3.8l5.6 3.6l5.5 3.6l5.6 4.3l5.6 4.7l5.6 4.7l5.5 4.5l5.6 4.8l5.6 4.9l5.6 5.2l2 1.8"/>
<path class="p" d="M548.3 69.6l2 2.1l5.6 5.8l5.5 5.7l5.6 5.6l5.6 5.4l5.6 5.7l5.5 5.9l5.6 5.4l5.6 5l5.6 4.6l5.5 4.5l5.6 4.6l5.6 3.2l5.6 1.6l5.5 1.1l5.6 .6l5.6 0l5.6-2.4l5.5-4.6l5.6-4.2l5.6-2l5.6 1.5l5.5 4.4l5.6 5.7l5.6 6.5l5.6 6.4l5.5 5.9l5.6 5.2l5.6 3.9l5.6 2.6l5.5 1.8l5.6 1.4l5.6 .9l5.5 .7l5.6 .4l5.6 .4l5.6 .2l5.5 .8l5.6 .9l5.6 1.1l5.6 1.2l2 .5"/>
<path class="c" d="M548.3 69.5l2 2.1l5.6 5.8l5.5 5.7l5.6 5.6l5.6 5.5l5.6 5.7l5.5 5.8l5.6 5.5l5.6 5l5.6 4.6l5.5 4.5l5.6 4.6l5.6 3.2l5.6 1.6l5.5 1l5.6 .6l5.6-.1l5.6-2.5l5.5-4.6l5.6-4.3l5.6-2.2l5.6 1.2l5.5 4l5.6 5.3l5.6 5.9l5.6 5.9l5.5 5.5l5.6 4.7l5.6 3.5l5.6 2.2l5.5 1.5l5.6 1.1l5.6 1.3l5.5 1.6l5.6 1.3l5.6 1.1l5.6 .9l5.5 .8l5.6 .7l5.6 .9l5.6 1l2 .4"/>
<path class="p" d="M548.3 67.6l2 2l5.6 5.5l5.5 5.5l5.6 5.4l5.6 5.2l5.6 5.3l5.5 5.3l5.6 4.9l5.6 4.6l5.6 4.2l5.5 4l5.6 3.8l5.6 2.9l5.6 1.9l5.5 1.2l5.6 .5l5.6-.6l5.6-3l5.5-4.8l5.6-4.1l5.6-1.7l5.6 1.8l5.5 5l5.6 6.9l5.6 7.7l5.6 7.7l5.5 7.2l5.6 6.3l5.6 5l5.6 3.7l5.5 3l5.6 2.5l5.6 2.1l5.5 1.8l5.6 1.8l5.6 1.7l5.6 1.5l5.5 1.4l5.6 1.4l5.6 1.6l5.6 1.8l2 .6"/>
<path class="c" d="M548.3 67.5l2 2l5.6 5.5l5.5 5.5l5.6 5.3l5.6 5.2l5.6 5.3l5.5 5.2l5.6 4.9l5.6 4.4l5.6 4.2l5.5 3.8l5.6 3.7l5.6 2.8l5.6 1.7l5.5 1.2l5.6 .5l5.6-.7l5.6-3.2l5.5-4.8l5.6-4l5.6-1.5l5.6 2l5.5 5.3l5.6 7.4l5.6 8.5l5.6 8.3l5.5 7.7l5.6 6.9l5.6 5.5l5.6 4.4l5.5 3.5l5.6 3.1l5.6 2.7l5.5 2.6l5.6 2.6l5.6 2.8l5.6 2.5l5.5 2.4l5.6 2.4l5.6 2.5l5.6 2.6l2 .9"/>
<path class="p" d="M548.3 71.0l2 2l5.6 5.5l5.5 5.6l5.6 5.4l5.6 5.4l5.6 5.7l5.5 6l5.6 5.6l5.6 5.1l5.6 4.8l5.5 4.7l5.6 5l5.6 3.5l5.6 1.9l5.5 1.2l5.6 .9l5.6 .4l5.6-2.1l5.5-4.5l5.6-4.2l5.6-1.8l5.6 2.4l5.5 6l5.6 7.8l5.6 8.5l5.6 8.3l5.5 7.6l5.6 6.9l5.6 5.7l5.6 4.4l5.5 3.8l5.6 3.4l5.6 3.2l5.5 3.2l5.6 3.8l5.6 4.2l5.6 4l5.5 3.8l5.6 4l5.6 4.3l5.6 4.6l2 1.6"/>
<path class="c" d="M548.3 70.9l2 2l5.6 5.5l5.5 5.5l5.6 5.5l5.6 5.4l5.6 5.7l5.5 5.9l5.6 5.6l5.6 5.1l5.6 4.8l5.5 4.6l5.6 5l5.6 3.5l5.6 1.9l5.5 1.3l5.6 .9l5.6 .4l5.6-2.1l5.5-4.4l5.6-4.1l5.6-1.7l5.6 2.4l5.5 6.1l5.6 7.8l5.6 8.6l5.6 8.2l5.5 7.7l5.6 6.9l5.6 5.7l5.6 4.5l5.5 3.8l5.6 3.5l5.6 3.3l5.5 3.2l5.6 3.9l5.6 4.3l5.6 4l5.5 4l5.6 4.1l5.6 4.4l5.6 4.7l2 1.6"/>
<path class="p" d="M548.3 65.7l2 1.8l5.6 5.1l5.5 5l5.6 4.9l5.6 4.5l5.6 4.4l5.5 4.1l5.6 3.9l5.6 3.5l5.6 3.1l5.5 2.8l5.6 2.5l5.6 2l5.6 1.6l5.5 1l5.6 .2l5.6-1.8l5.6-3.8l5.5-4.1l5.6-3.3l5.6-1l5.6 1.6l5.5 4l5.6 6.4l5.6 7.8l5.6 9l5.5 8.2l5.6 7.1l5.6 5.7l5.6 4.3l5.5 3.5l5.6 2.8l5.6 2.3l5.5 2.2l5.6 1.9l5.6 1.7l5.6 1.5l5.5 1.5l5.6 1.4l5.6 1.4l5.6 1.4l2 .6"/>
<path class="c" d="M548.3 65.8l2 1.8l5.6 5.1l5.5 5.1l5.6 4.9l5.6 4.7l5.6 4.6l5.5 4.3l5.6 4.1l5.6 3.7l5.6 3.3l5.5 3.1l5.6 2.6l5.6 2.2l5.6 1.7l5.5 1.3l5.6 .4l5.6-1.3l5.6-3.4l5.5-4.1l5.6-3.2l5.6-1l5.6 1.8l5.5 4.4l5.6 6.8l5.6 7.9l5.6 8.1l5.5 7.8l5.6 7l5.6 5.7l5.6 4.4l5.5 3.6l5.6 3l5.6 2.7l5.5 2.3l5.6 2.1l5.6 2l5.6 1.7l5.5 1.7l5.6 1.6l5.6 1.7l5.6 1.7l2 .6"/>
<path class="p" d="M548.3 69.3l2 2.1l5.6 5.8l5.5 5.7l5.6 5.5l5.6 5.4l5.6 5.6l5.5 5.7l5.6 5.4l5.6 4.8l5.6 4.5l5.5 4.2l5.6 4.3l5.6 3l5.6 1.4l5.5 .9l5.6 .3l5.6-.7l5.6-3.2l5.5-5.2l5.6-4.7l5.6-2.1l5.6 1.6l5.5 4.7l5.6 6.8l5.6 7.6l5.6 7.1l5.5 6.5l5.6 5.6l5.6 4.4l5.6 3.1l5.5 2.3l5.6 1.9l5.6 1.6l5.5 1.2l5.6 1.1l5.6 1l5.6 .8l5.5 .8l5.6 .8l5.6 1l5.6 1.3l2 .5"/>
<path class="c" d="M548.3 69.2l2 2.1l5.6 5.8l5.5 5.6l5.6 5.6l5.6 5.4l5.6 5.5l5.5 5.7l5.6 5.2l5.6 4.8l5.6 4.3l5.5 4.1l5.6 4l5.6 2.7l5.6 1.3l5.5 .5l5.6-.1l5.6-1.3l5.6-4.1l5.5-6l5.6-5.4l5.6-2.7l5.6 .6l5.5 3.5l5.6 5.7l5.6 6.6l5.6 6.6l5.5 6.1l5.6 5.7l5.6 4.8l5.6 3.7l5.5 3l5.6 2.6l5.6 2.1l5.5 1.7l5.6 1.4l5.6 1.1l5.6 .8l5.5 .8l5.6 .7l5.6 .8l5.6 1l2 .4"/>
<path class="p" d="M548.3 60.9l2 1.6l5.6 4.4l5.5 4.3l5.6 4.3l5.6 4.3l5.6 4.2l5.5 4l5.6 3.6l5.6 3l5.6 2.6l5.5 2.3l5.6 2.1l5.6 1.7l5.6 1.4l5.5 .8l5.6-.4l5.6-3l5.6-4.5l5.5-3.7l5.6-2.8l5.6-.7l5.6 1l5.5 2.8l5.6 4.6l5.6 7.2l5.6 9.5l5.5 9l5.6 7.8l5.6 6.6l5.6 5.2l5.5 4.2l5.6 3.6l5.6 3l5.5 2.4l5.6 1.4l5.6 .9l5.6 .7l5.5 .6l5.6 .5l5.6 .6l5.6 .6l2 .2"/>
<path class="c" d="M548.3 61.0l2 1.6l5.6 4.4l5.5 4.4l5.6 4.3l5.6 4.3l5.6 4.2l5.5 4l5.6 3.6l5.6 3l5.6 2.6l5.5 2.4l5.6 2l5.6 1.7l5.6 1.3l5.5 .8l5.6-.5l5.6-3.1l5.6-4.7l5.5-4l5.6-3.1l5.6-1.1l5.6 .8l5.5 2.4l5.6 4.3l5.6 6.7l5.6 9.1l5.5 8.5l5.6 7.4l5.6 6.2l5.6 4.9l5.5 3.9l5.6 3.5l5.6 2.8l5.5 2.2l5.6 .9l5.6 .1l5.6 0l5.5-.1l5.6-.1l5.6-.1l5.6 0l2 0"/>
<path class="p" d="M548.3 71.6l2 1.9l5.6 5.4l5.5 5.3l5.6 5.3l5.6 5.1l5.6 5.5l5.5 5.6l5.6 5.2l5.6 4.8l5.6 4.4l5.5 4.2l5.6 4.4l5.6 3l5.6 1.6l5.5 1l5.6 .6l5.6-.2l5.6-2.7l5.5-4.6l5.6-4.2l5.6-1.9l5.6 1.7l5.5 4.8l5.6 6.6l5.6 7.4l5.6 7.7l5.5 7.3l5.6 6.3l5.6 5.1l5.6 3.8l5.5 3l5.6 2.5l5.6 2.2l5.5 1.9l5.6 2l5.6 1.9l5.6 1.7l5.5 1.6l5.6 1.7l5.6 1.8l5.6 2l2 .8"/>
<path class="c" d="M548.3 71.6l2 1.9l5.6 5.3l5.5 5.4l5.6 5.3l5.6 5.2l5.6 5.5l5.5 5.7l5.6 5.4l5.6 4.9l5.6 4.6l5.5 4.5l5.6 4.6l5.6 3.3l5.6 1.8l5.5 1.2l5.6 .8l5.6 .2l5.6-2.3l5.5-4.6l5.6-4.1l5.6-1.8l5.6 2l5.5 5.3l5.6 7.1l5.6 7.8l5.6 7.5l5.5 6.9l5.6 6.1l5.6 4.7l5.6 3.4l5.5 2.6l5.6 2.2l5.6 1.7l5.5 1.5l5.6 1.6l5.6 1.5l5.6 1.3l5.5 1.2l5.6 1.3l5.6 1.5l5.6 1.9l2 .7"/>
<path class="p" d="M548.3 59.8l2 1.9l5.6 5.1l5.5 5.1l5.6 5.3l5.6 5.2l5.6 5l5.5 4.7l5.6 4.4l5.6 3.7l5.6 3.1l5.5 2.7l5.6 2.2l5.6 1.6l5.6 1l5.5 .3l5.6-.9l5.6-3.5l5.6-5.6l5.5-5.4l5.6-4.3l5.6-1.9l5.6 .4l5.5 2.5l5.6 4.6l5.6 7l5.6 8.8l5.5 8l5.6 6.8l5.6 5.6l5.6 4.3l5.5 3.5l5.6 3l5.6 2.6l5.5 1.8l5.6 .5l5.6-.6l5.6-.6l5.5-.5l5.6-.6l5.6-.6l5.6-.4l2-.2"/>
<path class="c" d="M548.3 59.9l2 1.8l5.6 5.1l5.5 5.2l5.6 5.2l5.6 5l5.6 5l5.5 4.6l5.6 4.2l5.6 3.5l5.6 3l5.5 2.5l5.6 2l5.6 1.4l5.6 .8l5.5 .2l5.6-1.1l5.6-3.9l5.6-5.8l5.5-5.4l5.6-4.3l5.6-2.1l5.6 .3l5.5 2.1l5.6 4.1l5.6 6.2l5.6 8.2l5.5 7.6l5.6 6.6l5.6 5.5l5.6 4.3l5.5 3.6l5.6 3.1l5.6 2.7l5.5 1.9l5.6 .1l5.6-1l5.6-1.1l5.5-.9l5.6-1l5.6-1l5.6-1l2-.3"/>
<path class="p" d="M548.3 65.9l2 1.8l5.6 5.1l5.5 4.9l5.6 4.8l5.6 4.4l5.6 4.2l5.5 3.9l5.6 3.5l5.6 3.1l5.6 2.6l5.5 2.3l5.6 1.9l5.6 1.5l5.6 1.1l5.5 .6l5.6-.3l5.6-2.5l5.6-4.1l5.5-4l5.6-3.1l5.6-.9l5.6 1.2l5.5 3.2l5.6 5.4l5.6 7.8l5.6 9.9l5.5 9.3l5.6 8l5.6 6.6l5.6 5l5.5 4l5.6 3.2l5.6 2.7l5.5 2.3l5.6 1.7l5.6 1.5l5.6 1.3l5.5 1.2l5.6 1.1l5.6 1.2l5.6 1.3l2 .4"/>
<path class="c" d="M548.3 65.9l2 1.8l5.6 5.1l5.5 5l5.6 4.8l5.6 4.5l5.6 4.3l5.5 3.9l5.6 3.7l5.6 3.2l5.6 2.8l5.5 2.4l5.6 2l5.6 1.6l5.6 1.2l5.5 .8l5.6-.2l5.6-2.2l5.6-3.9l5.5-3.7l5.6-2.9l5.6-.9l5.6 1.2l5.5 3.4l5.6 5.4l5.6 7.6l5.6 9.4l5.5 9l5.6 7.8l5.6 6.3l5.6 4.8l5.5 3.8l5.6 3.2l5.6 2.5l5.5 2.2l5.6 1.7l5.6 1.5l5.6 1.3l5.5 1.2l5.6 1.1l5.6 1.2l5.6 1.3l2 .5"/>
<path class="p" d="M548.3 58.0l2 1.6l5.6 4.3l5.5 4.3l5.6 4.3l5.6 4.3l5.6 4.2l5.5 4l5.6 3.6l5.6 2.9l5.6 2.3l5.5 2.2l5.6 2l5.6 1.6l5.6 1.2l5.5 .7l5.6-.8l5.6-4l5.6-5.6l5.5-4.6l5.6-3.5l5.6-1.2l5.6 1l5.5 2.9l5.6 4.7l5.6 6.6l5.6 8.3l5.5 7.9l5.6 6.9l5.6 6l5.6 4.8l5.5 3.9l5.6 3.6l5.6 3l5.5 2.1l5.6 .5l5.6-.8l5.6-.7l5.5-.7l5.6-.7l5.6-.8l5.6-.7l2-.3"/>
<path class="c" d="M548.3 58.1l2 1.5l5.6 4.3l5.5 4.4l5.6 4.3l5.6 4.2l5.6 4.2l5.5 4l5.6 3.6l5.6 2.8l5.6 2.4l5.5 2.1l5.6 2l5.6 1.5l5.6 1.2l5.5 .7l5.6-.9l5.6-4l5.6-5.7l5.5-4.7l5.6-3.5l5.6-1.2l5.6 1l5.5 2.7l5.6 4.6l5.6 6.3l5.6 8l5.5 7.8l5.6 6.9l5.6 6.1l5.6 4.9l5.5 4.1l5.6 3.8l5.6 3.2l5.5 2.4l5.6 .5l5.6-.5l5.6-.5l5.5-.5l5.6-.5l5.6-.6l5.6-.6l2-.2"/>
<path class="p" d="M548.3 62.2l2 1.5l5.6 4l5.5 4l5.6 4l5.6 4.1l5.6 4l5.5 3.9l5.6 3.6l5.6 3.1l5.6 2.7l5.5 2.6l5.6 2.3l5.6 2.1l5.6 1.9l5.5 1.3l5.6 .1l5.6-2.6l5.6-4.4l5.5-4.1l5.6-3.1l5.6-.5l5.6 2.3l5.5 4.9l5.6 7.2l5.6 9.4l5.6 10.2l5.5 9.1l5.6 7.5l5.6 6l5.6 4.5l5.5 3.5l5.6 2.9l5.6 2.3l5.5 2l5.6 1.4l5.6 1.1l5.6 .9l5.5 .8l5.6 .8l5.6 .8l5.6 1l2 .3"/>
<path class="c" d="M548.3 62.4l2 1.5l5.6 4l5.5 4.1l5.6 4.1l5.6 4.1l5.6 4.2l5.5 4.1l5.6 3.7l5.6 3.3l5.6 2.9l5.5 2.8l5.6 2.5l5.6 2.3l5.6 1.9l5.5 1.3l5.6 .1l5.6-2.5l5.6-4.5l5.5-4.6l5.6-3.5l5.6-1.1l5.6 1.7l5.5 4l5.6 6.3l5.6 8.3l5.6 10l5.5 8.9l5.6 7.6l5.6 6l5.6 4.5l5.5 3.5l5.6 2.9l5.6 2.3l5.5 1.9l5.6 1.1l5.6 .6l5.6 .4l5.5 .3l5.6 .3l5.6 .3l5.6 .6l2 .2"/>
<path class="p" d="M548.3 62.0l2 1.8l5.6 5.2l5.5 5.1l5.6 5.2l5.6 5.1l5.6 5l5.5 4.7l5.6 4.4l5.6 4l5.6 3.5l5.5 3.3l5.6 2.8l5.6 2.3l5.6 1.9l5.5 1.2l5.6 .4l5.6-1.6l5.6-3.8l5.5-4.3l5.6-3.5l5.6-1.1l5.6 1.8l5.5 4.3l5.6 6.7l5.6 7.9l5.6 8.2l5.5 7.7l5.6 6.7l5.6 5.5l5.6 4.1l5.5 3.3l5.6 2.8l5.6 2.4l5.5 2l5.6 1.8l5.6 1.6l5.6 1.5l5.5 1.3l5.6 1.4l5.6 1.3l5.6 1.4l2 .5"/>
<path class="c" d="M548.3 62.0l2 1.8l5.6 5.2l5.5 5.2l5.6 5.1l5.6 5l5.6 4.9l5.5 4.6l5.6 4.3l5.6 3.9l5.6 3.4l5.5 3.1l5.6 2.7l5.6 2.2l5.6 1.7l5.5 1.1l5.6 .2l5.6-2l5.6-4.1l5.5-4.6l5.6-3.7l5.6-1.1l5.6 1.6l5.5 4.3l5.6 6.7l5.6 8.3l5.6 8.9l5.5 8.3l5.6 7.1l5.6 5.7l5.6 4.3l5.5 3.4l5.6 2.9l5.6 2.3l5.5 2l5.6 1.8l5.6 1.7l5.6 1.6l5.5 1.4l5.6 1.5l5.6 1.4l5.6 1.5l2 .5"/>
<path class="p" d="M548.3 65.4l2 2.1l5.6 5.8l5.5 5.7l5.6 5.6l5.6 5.4l5.6 5.4l5.5 5.2l5.6 5l5.6 4.5l5.6 4.2l5.5 3.8l5.6 3.7l5.6 2.7l5.6 1.7l5.5 1.1l5.6 .4l5.6-.8l5.6-3.3l5.5-4.7l5.6-4l5.6-1.7l5.6 1.7l5.5 4.5l5.6 6.7l5.6 7.6l5.6 8.1l5.5 7.8l5.6 6.9l5.6 5.7l5.6 4.4l5.5 3.7l5.6 3.2l5.6 2.9l5.5 2.6l5.6 2.6l5.6 2.7l5.6 2.4l5.5 2.4l5.6 2.3l5.6 2.3l5.6 2.4l2 .9"/>
<path class="c" d="M548.3 65.4l2 2.1l5.6 5.8l5.5 5.7l5.6 5.5l5.6 5.4l5.6 5.4l5.5 5.2l5.6 5l5.6 4.6l5.6 4.2l5.5 4l5.6 3.8l5.6 2.9l5.6 1.9l5.5 1.4l5.6 .7l5.6-.4l5.6-2.8l5.5-4.4l5.6-3.7l5.6-1.2l5.6 2.3l5.5 5.7l5.6 7.7l5.6 8.7l5.6 8.7l5.5 8.1l5.6 7.1l5.6 6l5.6 4.7l5.5 4l5.6 3.6l5.6 3.3l5.5 3.1l5.6 3.5l5.6 3.8l5.6 3.6l5.5 3.5l5.6 3.5l5.6 3.6l5.6 3.7l2 1.3"/>
<path class="p" d="M548.3 58.3l2 1.5l5.6 4.1l5.5 4.2l5.6 4.2l5.6 4.2l5.6 4.2l5.5 4l5.6 3.6l5.6 2.8l5.6 2.3l5.5 2.2l5.6 1.9l5.6 1.6l5.6 1.2l5.5 .6l5.6-.9l5.6-4l5.6-5.7l5.5-4.6l5.6-3.4l5.6-1.2l5.6 1l5.5 2.9l5.6 4.7l5.6 6.6l5.6 8.5l5.5 8.4l5.6 7.7l5.6 6.8l5.6 5.8l5.5 5l5.6 4.5l5.6 4l5.5 3.2l5.6 1.8l5.6 1l5.6 1l5.5 .8l5.6 .8l5.6 .6l5.6 .5l2 .1"/>
<path class="c" d="M548.3 58.4l2 1.5l5.6 4.1l5.5 4.2l5.6 4.2l5.6 4.2l5.6 4.2l5.5 4l5.6 3.5l5.6 2.8l5.6 2.3l5.5 2.2l5.6 1.9l5.6 1.6l5.6 1.2l5.5 .7l5.6-.9l5.6-4l5.6-5.7l5.5-4.6l5.6-3.4l5.6-1.2l5.6 1l5.5 2.9l5.6 4.7l5.6 6.5l5.6 8.4l5.5 8.3l5.6 7.4l5.6 6.6l5.6 5.5l5.5 4.7l5.6 4.2l5.6 3.6l5.5 2.8l5.6 1.4l5.6 .4l5.6 .4l5.5 .4l5.6 .2l5.6 .2l5.6 0l2 .1"/>
<path class="p" d="M548.3 58.2l2 1.6l5.6 4.4l5.5 4.5l5.6 4.4l5.6 4.3l5.6 4.3l5.5 4.1l5.6 3.6l5.6 2.9l5.6 2.4l5.5 2.2l5.6 1.8l5.6 1.5l5.6 1.2l5.5 .6l5.6-.9l5.6-4l5.6-5.6l5.5-4.7l5.6-3.5l5.6-1.3l5.6 .8l5.5 2.5l5.6 4.5l5.6 6.1l5.6 7.8l5.5 7.6l5.6 6.7l5.6 5.8l5.6 4.7l5.5 4l5.6 3.5l5.6 3l5.5 2.1l5.6 .3l5.6-1.1l5.6-.9l5.5-.9l5.6-.9l5.6-1l5.6-.9l2-.4"/>
<path class="c" d="M548.3 58.3l2 1.6l5.6 4.4l5.5 4.5l5.6 4.4l5.6 4.3l5.6 4.3l5.5 4.1l5.6 3.7l5.6 2.9l5.6 2.4l5.5 2.2l5.6 1.9l5.6 1.6l5.6 1.1l5.5 .6l5.6-.8l5.6-3.9l5.6-5.5l5.5-4.5l5.6-3.5l5.6-1.2l5.6 .7l5.5 2.5l5.6 4.4l5.6 6.1l5.6 8l5.5 7.7l5.6 6.8l5.6 5.9l5.6 4.8l5.5 3.9l5.6 3.5l5.6 3.1l5.5 2.1l5.6 .4l5.6-.9l5.6-.7l5.5-.8l5.6-.8l5.6-.8l5.6-.8l2-.3"/>
<path class="p" d="M548.3 68.3l2 1.9l5.6 5.6l5.5 5.4l5.6 5.2l5.6 5.1l5.6 5.1l5.5 4.9l5.6 4.5l5.6 3.9l5.6 3.5l5.5 3.1l5.6 2.7l5.6 1.9l5.6 1.1l5.5 .7l5.6 .2l5.6-1.3l5.6-3.3l5.5-4.1l5.6-3.3l5.6-1l5.6 1.8l5.5 4.7l5.6 6.9l5.6 8.1l5.6 8.1l5.5 7.9l5.6 7.1l5.6 6.1l5.6 4.8l5.5 4.1l5.6 3.6l5.6 3.3l5.5 3.1l5.6 3.1l5.6 3.2l5.6 3l5.5 2.9l5.6 2.8l5.6 2.8l5.6 2.8l2 1"/>
<path class="c" d="M548.3 68.1l2 2l5.6 5.6l5.5 5.4l5.6 5.2l5.6 5l5.6 5l5.5 4.8l5.6 4.3l5.6 3.8l5.6 3.3l5.5 2.9l5.6 2.3l5.6 1.5l5.6 .9l5.5 .4l5.6-.3l5.6-2l5.6-4.1l5.5-4.6l5.6-3.7l5.6-1.5l5.6 1.2l5.5 3.6l5.6 6l5.6 7.7l5.6 8.5l5.5 8.1l5.6 7.1l5.6 5.8l5.6 4.3l5.5 3.8l5.6 3.5l5.6 3.1l5.5 2.8l5.6 2.6l5.6 2.5l5.6 2.3l5.5 2.2l5.6 2.1l5.6 2.1l5.6 1.9l2 .7"/>
</g>
<path stroke="#ff0000" stroke-width="2.1" d="M548.3 65.6l2 2l5.6 5.7l5.5 5.6l5.6 5.5l5.6 5.1l5.6 4.9l5.5 4.6l5.6 4.4l5.6 4l5.6 3.6l5.5 3.3l5.6 2.7l5.6 2.3l5.6 1.8l5.5 1.1l5.6 .4l5.6-1.4l5.6-3.6l5.5-4.5l5.6-3.8l5.6-1.3l5.6 1.4l5.5 4.1l5.6 6.5l5.6 7.5l5.6 7.7l5.5 7.1l5.6 6.4l5.6 5l5.6 3.8l5.5 3l5.6 2.5l5.6 2l5.5 1.6l5.6 1.5l5.6 1.4l5.6 1.2l5.5 1.1l5.6 1.1l5.6 1.2l5.6 1.3l2 .5"/>
<path stroke="#0000ff" stroke-width="2.2" d="M548.3 65.0l2 1.9l5.6 5.4l5.5 5.3l5.6 5.2l5.6 5l5.6 4.8l5.5 4.7l5.6 4.3l5.6 4l5.6 3.7l5.5 3.2l5.6 2.8l5.6 2.3l5.6 1.7l5.5 1.2l5.6 .4l5.6-1.4l5.6-3.7l5.5-4.5l5.6-3.7l5.6-1.4l5.6 1.5l5.5 4.1l5.6 6.4l5.6 7.6l5.6 7.7l5.5 7.4l5.6 6.5l5.6 5.3l5.6 4l5.5 3.2l5.6 2.7l5.6 2.3l5.5 1.8l5.6 1.6l5.6 1.4l5.6 1.2l5.5 1.1l5.6 1.1l5.6 1.2l5.6 1.3l2 .5"/>
</g>
<g stroke="#000" stroke-width="1.6" fill="none" stroke-linecap="butt">
<rect x="505.7" y="28.9" width="297.3" height="225.1"/>
</g>
<g stroke="#000" stroke-width="1.3" fill="none">
<path d="M505.7 254.0v-4.6M505.7 28.9v4.6M520.6 254.0v-2.4M520.6 28.9v2.4M535.4 254.0v-2.4M535.4 28.9v2.4M550.3 254.0v-2.4M550.3 28.9v2.4M565.2 254.0v-2.4M565.2 28.9v2.4M580.0 254.0v-4.6M580.0 28.9v4.6M594.9 254.0v-2.4M594.9 28.9v2.4M609.8 254.0v-2.4M609.8 28.9v2.4M624.6 254.0v-2.4M624.6 28.9v2.4M639.5 254.0v-2.4M639.5 28.9v2.4M654.4 254.0v-4.6M654.4 28.9v4.6M669.2 254.0v-2.4M669.2 28.9v2.4M684.1 254.0v-2.4M684.1 28.9v2.4M698.9 254.0v-2.4M698.9 28.9v2.4M713.8 254.0v-2.4M713.8 28.9v2.4M728.7 254.0v-4.6M728.7 28.9v4.6M743.5 254.0v-2.4M743.5 28.9v2.4M758.4 254.0v-2.4M758.4 28.9v2.4M773.3 254.0v-2.4M773.3 28.9v2.4M788.1 254.0v-2.4M788.1 28.9v2.4M803.0 254.0v-4.6M803.0 28.9v4.6M505.7 254.0h6.2M803.0 254.0h-6.2M505.7 245.0h3.2M803.0 245.0h-3.2M505.7 236.0h3.2M803.0 236.0h-3.2M505.7 227.0h3.2M803.0 227.0h-3.2M505.7 218.0h3.2M803.0 218.0h-3.2M505.7 209.0h6.2M803.0 209.0h-6.2M505.7 200.0h3.2M803.0 200.0h-3.2M505.7 191.0h3.2M803.0 191.0h-3.2M505.7 182.0h3.2M803.0 182.0h-3.2M505.7 173.0h3.2M803.0 173.0h-3.2M505.7 164.0h6.2M803.0 164.0h-6.2M505.7 155.0h3.2M803.0 155.0h-3.2M505.7 146.0h3.2M803.0 146.0h-3.2M505.7 136.9h3.2M803.0 136.9h-3.2M505.7 127.9h3.2M803.0 127.9h-3.2M505.7 118.9h6.2M803.0 118.9h-6.2M505.7 109.9h3.2M803.0 109.9h-3.2M505.7 100.9h3.2M803.0 100.9h-3.2M505.7 91.9h3.2M803.0 91.9h-3.2M505.7 82.9h3.2M803.0 82.9h-3.2M505.7 73.9h6.2M803.0 73.9h-6.2M505.7 64.9h3.2M803.0 64.9h-3.2M505.7 55.9h3.2M803.0 55.9h-3.2M505.7 46.9h3.2M803.0 46.9h-3.2M505.7 37.9h3.2M803.0 37.9h-3.2M505.7 28.9h6.2M803.0 28.9h-6.2"/>
</g>
<g font-size="16.9">
<text x="501.0" y="39.0" text-anchor="end">150</text>
<text x="501.0" y="79.8" text-anchor="end">100</text>
<text x="501.0" y="124.8" text-anchor="end">50</text>
<text x="501.0" y="169.9" text-anchor="end">0</text>
<text x="501.0" y="214.9" text-anchor="end"><tspan dy=".7">–</tspan><tspan dy="-.7" dx="1.3">50</tspan></text>
<text x="501.0" y="254.8" text-anchor="end"><tspan dy=".7">–</tspan><tspan dy="-.7" dx="1.3">100</tspan></text>
<text x="505.4" y="276.2" text-anchor="middle">0</text>
<text x="579.7" y="276.2" text-anchor="middle">50</text>
<text x="654.1" y="276.2" text-anchor="middle">100</text>
<text x="728.4" y="276.2" text-anchor="middle">150</text>
<text x="802.7" y="276.2" text-anchor="middle">200</text>
</g>
<text x="496.2" y="20.4" font-size="22.6" textLength="315.8" lengthAdjust="spacingAndGlyphs">Averaging fitting of QPM CMASS</text>
<text x="654.4" y="295.2" font-size="17.4" text-anchor="middle">comoving r [ Mpc/h ]</text>
<text transform="translate(448.2,144.8) rotate(-90)" font-size="17.4" text-anchor="middle">r <tspan dy="-7" font-size="11.5">2</tspan><tspan dy="7"> ξ(r) [ (Mpc/h)</tspan><tspan dy="-7" font-size="11.5">2</tspan><tspan dy="7"> ]</tspan></text>
<path d="M523.0 208.9H564.4" stroke="#ff3030" stroke-width="1.5"/>
<path d="M523.0 237.9H564.4" stroke="#3030ff" stroke-width="1.5"/>
<text x="582.7" y="216.0" font-size="22.2">wiggly Nr(z)</text>
<text x="582.7" y="245.0" font-size="22.2">smooth Nr(z)</text>
</g>
</svg>
</body></html>
